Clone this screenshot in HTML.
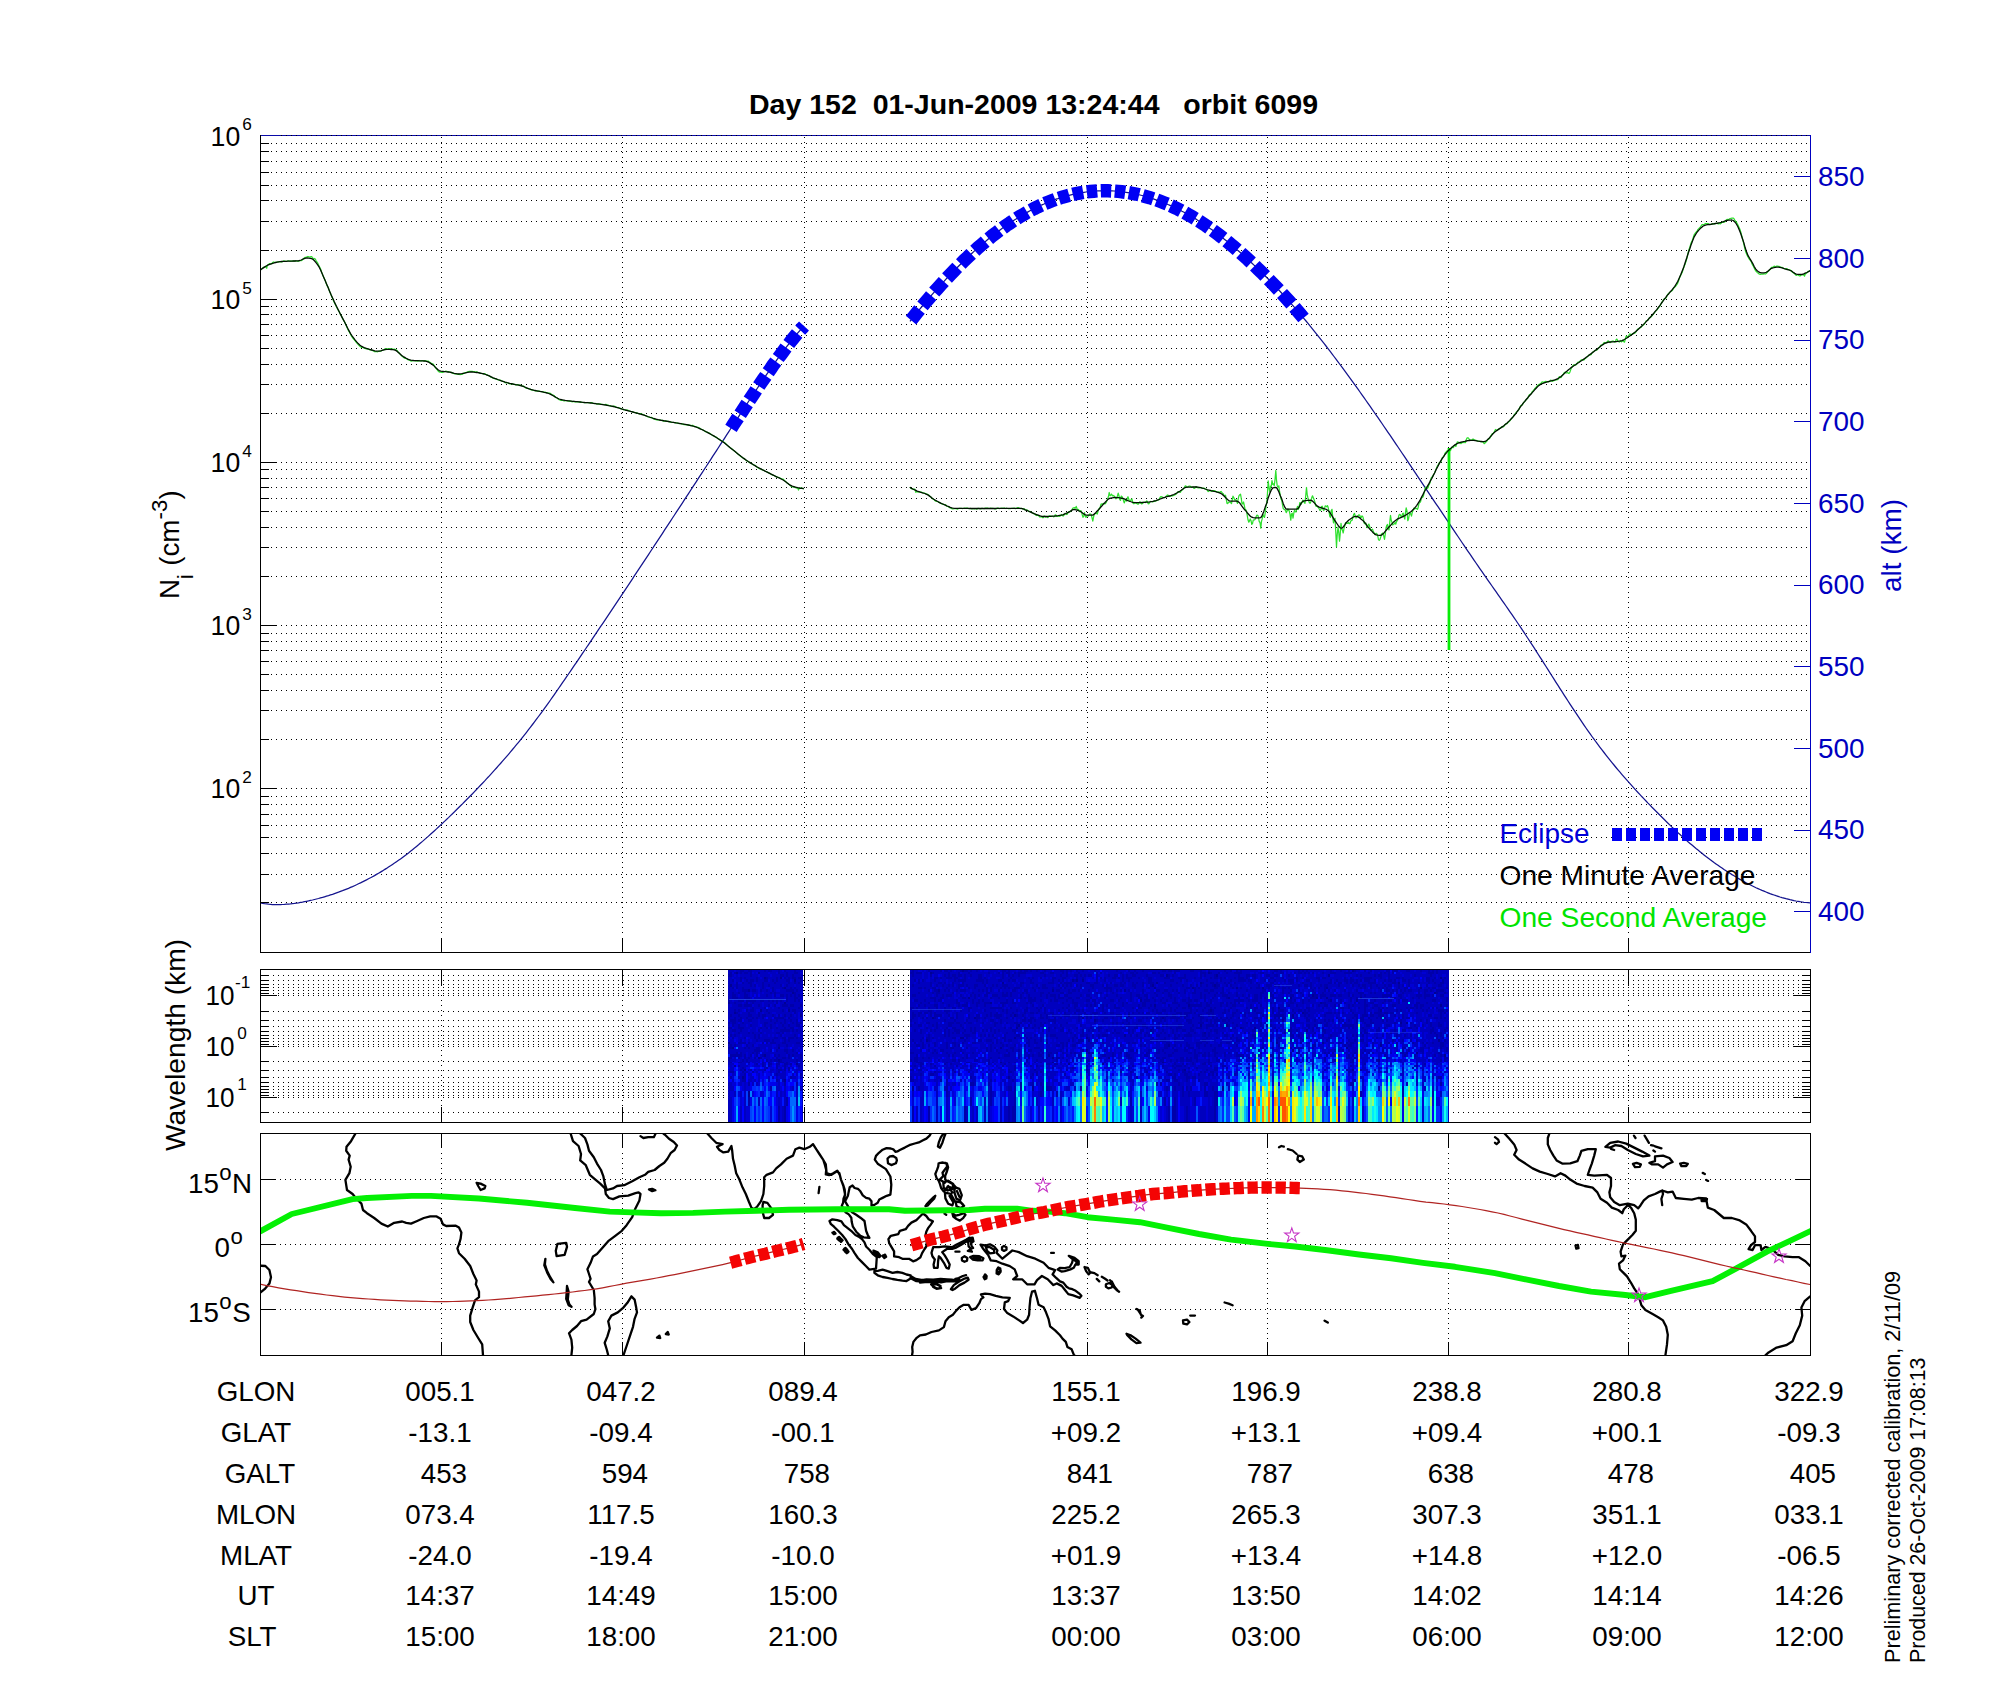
<!DOCTYPE html>
<html><head><meta charset="utf-8"><title>Day 152 orbit 6099</title>
<style>html,body{margin:0;padding:0;background:#fff}svg{display:block}</style></head>
<body>
<svg width="2000" height="1700" viewBox="0 0 2000 1700" font-family="Liberation Sans, sans-serif" font-size="27.78">
<rect width="2000" height="1700" fill="#fff"/>
<g id="grid1" stroke="#000" stroke-width="1" stroke-dasharray="1 4" fill="none" shape-rendering="crispEdges">
<path d="M271 902.5H1810"/>
<path d="M271 874.5H1810"/>
<path d="M271 853.5H1810"/>
<path d="M271 837.5H1810"/>
<path d="M271 825.5H1810"/>
<path d="M271 814.5H1810"/>
<path d="M271 804.5H1810"/>
<path d="M271 796.5H1810"/>
<path d="M281 788.5H1810"/>
<path d="M271 739.5H1810"/>
<path d="M271 710.5H1810"/>
<path d="M271 690.5H1810"/>
<path d="M271 674.5H1810"/>
<path d="M271 661.5H1810"/>
<path d="M271 650.5H1810"/>
<path d="M271 641.5H1810"/>
<path d="M271 633.5H1810"/>
<path d="M281 625.5H1810"/>
<path d="M271 576.5H1810"/>
<path d="M271 547.5H1810"/>
<path d="M271 527.5H1810"/>
<path d="M271 511.5H1810"/>
<path d="M271 498.5H1810"/>
<path d="M271 487.5H1810"/>
<path d="M271 478.5H1810"/>
<path d="M271 469.5H1810"/>
<path d="M281 462.5H1810"/>
<path d="M271 413.5H1810"/>
<path d="M271 384.5H1810"/>
<path d="M271 364.5H1810"/>
<path d="M271 348.5H1810"/>
<path d="M271 335.5H1810"/>
<path d="M271 324.5H1810"/>
<path d="M271 314.5H1810"/>
<path d="M271 306.5H1810"/>
<path d="M281 299.5H1810"/>
<path d="M271 250.5H1810"/>
<path d="M271 221.5H1810"/>
<path d="M271 200.5H1810"/>
<path d="M271 185.5H1810"/>
<path d="M271 172.5H1810"/>
<path d="M271 161.5H1810"/>
<path d="M271 151.5H1810"/>
<path d="M271 143.5H1810"/>
<path d="M441.5 137V937"/>
<path d="M622.5 137V937"/>
<path d="M804.5 137V937"/>
<path d="M1087.5 137V937"/>
<path d="M1267.5 137V937"/>
<path d="M1448.5 137V937"/>
<path d="M1628.5 137V937"/>
</g>
<path d="M260.5 903.0L262.5 903.4L264.5 903.7L266.5 903.9L268.5 904.2L270.5 904.3L272.5 904.5L274.5 904.5L276.5 904.6L278.5 904.6L280.5 904.6L282.5 904.5L284.5 904.4L286.5 904.2L288.5 904.1L290.5 903.9L292.5 903.6L294.5 903.4L296.5 903.1L298.5 902.8L300.5 902.4L302.5 902.1L304.5 901.7L306.5 901.3L308.5 900.9L310.5 900.4L312.5 900.0L314.5 899.5L316.5 899.0L318.5 898.5L320.5 897.9L322.5 897.4L324.5 896.8L326.5 896.2L328.5 895.6L330.5 894.9L332.5 894.3L334.5 893.6L336.5 892.9L338.5 892.2L340.5 891.4L342.5 890.7L344.5 889.9L346.5 889.1L348.5 888.3L350.5 887.4L352.5 886.6L354.5 885.7L356.5 884.8L358.5 883.8L360.5 882.9L362.5 881.9L364.5 880.9L366.5 879.9L368.5 878.8L370.5 877.8L372.5 876.7L374.5 875.6L376.5 874.4L378.5 873.3L380.5 872.1L382.5 870.9L384.5 869.6L386.5 868.4L388.5 867.1L390.5 865.8L392.5 864.4L394.5 863.1L396.5 861.7L398.5 860.3L400.5 858.9L402.5 857.4L404.5 855.9L406.5 854.4L408.5 852.9L410.5 851.3L412.5 849.7L414.5 848.1L416.5 846.4L418.5 844.8L420.5 843.1L422.5 841.4L424.5 839.6L426.5 837.9L428.5 836.1L430.5 834.3L432.5 832.5L434.5 830.7L436.5 828.9L438.5 827.0L440.5 825.1L442.5 823.3L444.5 821.4L446.5 819.5L448.5 817.6L450.5 815.6L452.5 813.7L454.5 811.8L456.5 809.8L458.5 807.8L460.5 805.8L462.5 803.9L464.5 801.8L466.5 799.8L468.5 797.8L470.5 795.7L472.5 793.7L474.5 791.6L476.5 789.5L478.5 787.4L480.5 785.3L482.5 783.2L484.5 781.1L486.5 778.9L488.5 776.8L490.5 774.6L492.5 772.4L494.5 770.2L496.5 768.0L498.5 765.7L500.5 763.5L502.5 761.2L504.5 758.9L506.5 756.6L508.5 754.3L510.5 751.9L512.5 749.5L514.5 747.1L516.5 744.7L518.5 742.3L520.5 739.8L522.5 737.3L524.5 734.8L526.5 732.3L528.5 729.7L530.5 727.1L532.5 724.5L534.5 721.9L536.5 719.2L538.5 716.5L540.5 713.8L542.5 711.1L544.5 708.4L546.5 705.6L548.5 702.8L550.5 700.0L552.5 697.1L554.5 694.3L556.5 691.4L558.5 688.5L560.5 685.6L562.5 682.7L564.5 679.8L566.5 676.9L568.5 674.0L570.5 671.1L572.5 668.1L574.5 665.2L576.5 662.3L578.5 659.3L580.5 656.4L582.5 653.4L584.5 650.5L586.5 647.5L588.5 644.6L590.5 641.6L592.5 638.6L594.5 635.7L596.5 632.7L598.5 629.7L600.5 626.7L602.5 623.8L604.5 620.8L606.5 617.8L608.5 614.8L610.5 611.8L612.5 608.8L614.5 605.8L616.5 602.8L618.5 599.8L620.5 596.8L622.5 593.8L624.5 590.8L626.5 587.8L628.5 584.8L630.5 581.8L632.5 578.8L634.5 575.7L636.5 572.7L638.5 569.7L640.5 566.7L642.5 563.6L644.5 560.6L646.5 557.6L648.5 554.6L650.5 551.5L652.5 548.5L654.5 545.4L656.5 542.4L658.5 539.4L660.5 536.3L662.5 533.3L664.5 530.2L666.5 527.2L668.5 524.1L670.5 521.1L672.5 518.0L674.5 515.0L676.5 511.9L678.5 508.9L680.5 505.8L682.5 502.8L684.5 499.7L686.5 496.6L688.5 493.6L690.5 490.5L692.5 487.4L694.5 484.4L696.5 481.3L698.5 478.2L700.5 475.2L702.5 472.1L704.5 469.0L706.5 466.0L708.5 462.9L710.5 459.8L712.5 456.7L714.5 453.7L716.5 450.6L718.5 447.5L720.5 444.4L722.5 441.4L724.5 438.3L726.5 435.2L728.5 432.1L730.5 429.0L732.5 426.0L734.5 422.9L736.5 419.8L738.5 416.8L740.5 413.7L742.5 410.7L744.5 407.6L746.5 404.6L748.5 401.5L750.5 398.5L752.5 395.5L754.5 392.5L756.5 389.5L758.5 386.5L760.5 383.5L762.5 380.6L764.5 377.6L766.5 374.7L768.5 371.8L770.5 368.9L772.5 366.1L774.5 363.2L776.5 360.4L778.5 357.7L780.5 354.9L782.5 352.2L784.5 349.5L786.5 346.9L788.5 344.3L790.5 341.7L792.5 339.3L794.5 336.8L796.5 334.4L798.5 332.1L800.5 329.8L802.5 327.6L804.0 326.0M910.0 321.4L912.0 318.9L914.0 316.3L916.0 313.9L918.0 311.4L920.0 308.9L922.0 306.5L924.0 304.1L926.0 301.7L928.0 299.4L930.0 297.0L932.0 294.7L934.0 292.4L936.0 290.1L938.0 287.9L940.0 285.7L942.0 283.5L944.0 281.3L946.0 279.1L948.0 277.0L950.0 274.9L952.0 272.8L954.0 270.7L956.0 268.7L958.0 266.7L960.0 264.7L962.0 262.7L964.0 260.7L966.0 258.8L968.0 256.9L970.0 255.1L972.0 253.2L974.0 251.4L976.0 249.6L978.0 247.8L980.0 246.1L982.0 244.3L984.0 242.6L986.0 241.0L988.0 239.3L990.0 237.7L992.0 236.1L994.0 234.5L996.0 233.0L998.0 231.5L1000.0 230.0L1002.0 228.5L1004.0 227.1L1006.0 225.6L1008.0 224.3L1010.0 222.9L1012.0 221.6L1014.0 220.2L1016.0 219.0L1018.0 217.7L1020.0 216.5L1022.0 215.3L1024.0 214.1L1026.0 213.0L1028.0 211.9L1030.0 210.8L1032.0 209.7L1034.0 208.7L1036.0 207.7L1038.0 206.7L1040.0 205.8L1042.0 204.8L1044.0 204.0L1046.0 203.1L1048.0 202.3L1050.0 201.5L1052.0 200.7L1054.0 200.0L1056.0 199.2L1058.0 198.6L1060.0 197.9L1062.0 197.3L1064.0 196.7L1066.0 196.1L1068.0 195.6L1070.0 195.1L1072.0 194.6L1074.0 194.1L1076.0 193.7L1078.0 193.3L1080.0 192.9L1082.0 192.6L1084.0 192.3L1086.0 192.0L1088.0 191.7L1090.0 191.5L1092.0 191.3L1094.0 191.2L1096.0 191.0L1098.0 190.9L1100.0 190.8L1102.0 190.8L1104.0 190.7L1106.0 190.7L1108.0 190.8L1110.0 190.8L1112.0 190.9L1114.0 191.0L1116.0 191.2L1118.0 191.3L1120.0 191.5L1122.0 191.8L1124.0 192.0L1126.0 192.3L1128.0 192.6L1130.0 192.9L1132.0 193.3L1134.0 193.7L1136.0 194.1L1138.0 194.5L1140.0 195.0L1142.0 195.5L1144.0 196.0L1146.0 196.6L1148.0 197.2L1150.0 197.8L1152.0 198.4L1154.0 199.1L1156.0 199.8L1158.0 200.5L1160.0 201.2L1162.0 202.0L1164.0 202.8L1166.0 203.6L1168.0 204.5L1170.0 205.3L1172.0 206.2L1174.0 207.2L1176.0 208.1L1178.0 209.1L1180.0 210.1L1182.0 211.2L1184.0 212.2L1186.0 213.3L1188.0 214.4L1190.0 215.6L1192.0 216.7L1194.0 217.9L1196.0 219.1L1198.0 220.4L1200.0 221.7L1202.0 223.0L1204.0 224.3L1206.0 225.6L1208.0 227.0L1210.0 228.4L1212.0 229.8L1214.0 231.3L1216.0 232.7L1218.0 234.3L1220.0 235.8L1222.0 237.3L1224.0 238.9L1226.0 240.5L1228.0 242.1L1230.0 243.8L1232.0 245.4L1234.0 247.1L1236.0 248.8L1238.0 250.6L1240.0 252.3L1242.0 254.1L1244.0 255.9L1246.0 257.7L1248.0 259.5L1250.0 261.4L1252.0 263.2L1254.0 265.1L1256.0 267.0L1258.0 268.9L1260.0 270.9L1262.0 272.8L1264.0 274.8L1266.0 276.8L1268.0 278.8L1270.0 280.8L1272.0 282.9L1274.0 285.0L1276.0 287.1L1278.0 289.2L1280.0 291.3L1282.0 293.5L1284.0 295.6L1286.0 297.8L1288.0 300.1L1290.0 302.3L1292.0 304.6L1294.0 306.9L1296.0 309.2L1298.0 311.5L1300.0 313.8L1302.0 316.2L1304.0 318.6L1306.0 321.0L1308.0 323.4L1310.0 325.8L1312.0 328.3L1314.0 330.8L1316.0 333.3L1318.0 335.8L1320.0 338.3L1322.0 340.9L1324.0 343.4L1326.0 346.0L1328.0 348.6L1330.0 351.2L1332.0 353.8L1334.0 356.5L1336.0 359.1L1338.0 361.8L1340.0 364.5L1342.0 367.2L1344.0 369.9L1346.0 372.6L1348.0 375.4L1350.0 378.1L1352.0 380.9L1354.0 383.6L1356.0 386.4L1358.0 389.2L1360.0 392.0L1362.0 394.9L1364.0 397.7L1366.0 400.5L1368.0 403.4L1370.0 406.2L1372.0 409.1L1374.0 412.0L1376.0 414.8L1378.0 417.7L1380.0 420.6L1382.0 423.5L1384.0 426.5L1386.0 429.4L1388.0 432.3L1390.0 435.2L1392.0 438.2L1394.0 441.1L1396.0 444.1L1398.0 447.0L1400.0 450.0L1402.0 453.0L1404.0 455.9L1406.0 458.9L1408.0 461.9L1410.0 464.9L1412.0 467.8L1414.0 470.8L1416.0 473.8L1418.0 476.8L1420.0 479.8L1422.0 482.8L1424.0 485.8L1426.0 488.8L1428.0 491.8L1430.0 494.8L1432.0 497.8L1434.0 500.8L1436.0 503.8L1438.0 506.7L1440.0 509.7L1442.0 512.7L1444.0 515.7L1446.0 518.7L1448.0 521.7L1450.0 524.7L1452.0 527.6L1454.0 530.6L1456.0 533.6L1458.0 536.5L1460.0 539.5L1462.0 542.5L1464.0 545.4L1466.0 548.4L1468.0 551.3L1470.0 554.2L1472.0 557.2L1474.0 560.1L1476.0 563.0L1478.0 565.9L1480.0 568.8L1482.0 571.7L1484.0 574.6L1486.0 577.4L1488.0 580.3L1490.0 583.2L1492.0 586.0L1494.0 588.9L1496.0 591.7L1498.0 594.6L1500.0 597.4L1502.0 600.3L1504.0 603.2L1506.0 606.0L1508.0 608.9L1510.0 611.8L1512.0 614.7L1514.0 617.6L1516.0 620.5L1518.0 623.5L1520.0 626.4L1522.0 629.4L1524.0 632.4L1526.0 635.5L1528.0 638.5L1530.0 641.6L1532.0 644.6L1534.0 647.7L1536.0 650.8L1538.0 654.0L1540.0 657.1L1542.0 660.2L1544.0 663.4L1546.0 666.5L1548.0 669.7L1550.0 672.8L1552.0 676.0L1554.0 679.1L1556.0 682.3L1558.0 685.4L1560.0 688.6L1562.0 691.7L1564.0 694.8L1566.0 697.9L1568.0 701.0L1570.0 704.1L1572.0 707.1L1574.0 710.2L1576.0 713.2L1578.0 716.2L1580.0 719.2L1582.0 722.1L1584.0 725.1L1586.0 728.0L1588.0 730.8L1590.0 733.7L1592.0 736.5L1594.0 739.2L1596.0 742.0L1598.0 744.6L1600.0 747.3L1602.0 749.9L1604.0 752.5L1606.0 755.1L1608.0 757.6L1610.0 760.1L1612.0 762.6L1614.0 765.0L1616.0 767.5L1618.0 769.9L1620.0 772.2L1622.0 774.6L1624.0 776.9L1626.0 779.2L1628.0 781.4L1630.0 783.7L1632.0 785.9L1634.0 788.1L1636.0 790.3L1638.0 792.5L1640.0 794.6L1642.0 796.8L1644.0 798.9L1646.0 801.0L1648.0 803.1L1650.0 805.1L1652.0 807.2L1654.0 809.2L1656.0 811.3L1658.0 813.3L1660.0 815.3L1662.0 817.3L1664.0 819.3L1666.0 821.3L1668.0 823.2L1670.0 825.1L1672.0 827.1L1674.0 829.0L1676.0 830.8L1678.0 832.7L1680.0 834.5L1682.0 836.4L1684.0 838.1L1686.0 839.9L1688.0 841.7L1690.0 843.4L1692.0 845.1L1694.0 846.8L1696.0 848.5L1698.0 850.1L1700.0 851.7L1702.0 853.3L1704.0 854.9L1706.0 856.5L1708.0 858.0L1710.0 859.5L1712.0 861.0L1714.0 862.5L1716.0 863.9L1718.0 865.3L1720.0 866.7L1722.0 868.1L1724.0 869.5L1726.0 870.8L1728.0 872.1L1730.0 873.3L1732.0 874.6L1734.0 875.8L1736.0 877.0L1738.0 878.2L1740.0 879.4L1742.0 880.5L1744.0 881.6L1746.0 882.7L1748.0 883.7L1750.0 884.7L1752.0 885.7L1754.0 886.7L1756.0 887.7L1758.0 888.6L1760.0 889.5L1762.0 890.4L1764.0 891.2L1766.0 892.0L1768.0 892.8L1770.0 893.6L1772.0 894.3L1774.0 895.0L1776.0 895.7L1778.0 896.3L1780.0 897.0L1782.0 897.6L1784.0 898.1L1786.0 898.7L1788.0 899.2L1790.0 899.7L1792.0 900.1L1794.0 900.6L1796.0 901.0L1798.0 901.3L1800.0 901.7L1802.0 902.0L1804.0 902.3L1806.0 902.5L1808.0 902.7L1810.0 902.9L1810.1 902.9" fill="none" stroke="#14148e" stroke-width="1.25"/>
<path d="M260.7 269.8L261.4 269.3L262.2 268.6L262.9 267.8L263.7 267.2L264.4 267.0L265.2 266.9L265.9 266.5L266.7 268.3L267.4 265.1L268.2 264.7L268.9 264.1L269.7 263.6L270.4 263.8L271.2 263.9L271.9 263.3L272.7 262.5L273.4 262.0L274.2 262.2L274.9 262.3L275.7 262.4L276.4 262.3L277.2 262.0L277.9 261.8L278.7 261.8L279.4 261.7L280.2 261.6L280.9 261.9L281.7 261.9L282.4 261.6L283.2 261.2L283.9 260.9L284.7 261.0L285.4 261.2L286.2 261.4L286.9 261.3L287.7 261.0L288.4 260.8L289.2 261.0L289.9 261.3L290.7 261.1L291.4 261.1L292.2 261.1L292.9 260.8L293.7 261.1L294.4 261.2L295.2 260.7L295.9 260.8L296.7 261.0L297.4 261.1L298.2 261.3L298.9 261.0L299.7 260.6L300.4 260.7L301.2 260.6L301.9 260.2L302.7 259.7L303.4 258.9L304.2 258.0L304.9 257.4L305.7 257.3L306.4 257.1L307.2 256.7L307.9 256.5L308.7 256.6L309.4 257.0L310.2 257.1L310.9 256.5L311.7 256.5L312.4 257.6L313.2 258.5L313.9 258.7L314.7 258.5L315.4 259.3L316.2 260.8L316.9 261.9L317.7 263.0L318.4 264.7L319.2 266.3L319.9 267.6L320.7 269.3L321.4 271.5L322.2 273.6L322.9 275.5L323.7 277.2L324.4 278.7L325.2 280.3L325.9 282.6L326.7 284.7L327.4 286.1L328.2 287.3L328.9 289.5L329.7 291.7L330.4 293.3L331.2 295.2L331.9 297.1L332.7 298.8L333.4 300.6L334.2 302.2L334.9 303.6L335.7 305.1L336.4 306.7L337.2 308.2L337.9 309.6L338.7 310.8L339.4 312.3L340.2 313.9L340.9 315.2L341.7 316.5L342.4 318.2L343.2 319.7L343.9 320.8L344.7 322.1L345.4 323.8L346.2 325.5L346.9 327.2L347.7 328.9L348.4 330.4L349.2 331.8L349.9 333.1L350.7 334.4L351.4 335.9L352.2 337.2L352.9 338.2L353.7 339.0L354.4 339.9L355.2 340.9L355.9 341.9L356.7 342.8L357.4 343.7L358.2 344.6L358.9 345.3L359.7 346.1L360.4 346.8L361.2 347.3L361.9 347.4L362.7 347.5L363.4 347.7L364.2 348.1L364.9 348.5L365.7 348.6L366.4 349.0L367.2 349.1L367.9 348.8L368.7 349.0L369.4 349.6L370.2 349.9L370.9 350.0L371.7 350.2L372.4 350.5L373.2 350.8L373.9 351.1L374.7 351.6L375.4 351.7L376.2 351.5L376.9 351.7L377.7 351.8L378.4 351.5L379.2 351.1L379.9 351.2L380.7 351.2L381.4 350.7L382.2 350.4L382.9 350.2L383.7 350.0L384.4 349.5L385.2 348.8L385.9 348.6L386.7 348.7L387.4 349.0L388.2 348.9L388.9 348.6L389.7 348.8L390.4 348.9L391.2 348.9L391.9 348.9L392.7 349.1L393.4 349.3L394.2 349.2L394.9 349.3L395.7 349.6L396.4 350.0L397.2 350.7L397.9 351.7L398.7 352.5L399.4 353.4L400.2 354.4L400.9 355.1L401.7 355.8L402.4 356.5L403.2 357.1L403.9 357.7L404.7 358.1L405.4 358.4L406.2 358.5L406.9 358.9L407.7 359.6L408.4 359.8L409.2 359.9L409.9 360.3L410.7 360.9L411.4 361.1L412.2 361.0L412.9 360.7L413.7 360.6L414.4 360.6L415.2 360.9L415.9 361.0L416.7 360.8L417.4 361.0L418.2 361.0L418.9 360.6L419.7 360.5L420.4 360.8L421.2 360.8L421.9 360.6L422.7 360.7L423.4 360.9L424.2 360.8L424.9 360.6L425.7 360.9L426.4 361.2L427.2 361.2L427.9 361.1L428.7 361.4L429.4 362.0L430.2 362.5L430.9 363.0L431.7 363.7L432.4 363.9L433.2 364.2L433.9 365.1L434.7 366.2L435.4 367.6L436.2 368.6L436.9 369.4L437.7 370.4L438.4 371.3L439.2 371.9L439.9 372.2L440.7 372.2L441.4 372.3L442.2 372.5L442.9 372.3L443.7 371.9L444.4 371.7L445.2 371.3L445.9 371.1L446.7 371.3L447.4 371.6L448.2 371.7L448.9 371.8L449.7 372.0L450.4 372.2L451.2 372.4L451.9 372.8L452.7 373.3L453.4 373.4L454.2 373.7L454.9 373.9L455.7 373.9L456.4 373.9L457.2 374.2L457.9 374.4L458.7 374.2L459.4 374.3L460.2 374.6L460.9 374.5L461.7 374.3L462.4 374.1L463.2 373.6L463.9 373.1L464.7 372.7L465.4 372.7L466.2 372.6L466.9 372.2L467.7 371.8L468.4 371.5L469.2 371.4L469.9 371.4L470.7 371.4L471.4 371.4L472.2 371.3L472.9 371.5L473.7 371.6L474.4 371.6L475.2 372.0L475.9 372.0L476.7 371.8L477.4 372.1L478.2 372.5L478.9 372.8L479.7 373.0L480.4 373.3L481.2 373.4L481.9 373.5L482.7 373.7L483.4 373.8L484.2 373.7L484.9 373.7L485.7 374.3L486.4 374.8L487.2 374.9L487.9 375.3L488.7 375.7L489.4 375.9L490.2 376.5L490.9 377.2L491.7 377.3L492.4 377.8L493.2 378.3L493.9 378.4L494.7 378.7L495.4 378.9L496.2 378.9L496.9 379.2L497.7 379.7L498.4 380.0L499.2 380.1L499.9 380.2L500.7 380.4L501.4 380.8L502.2 381.3L502.9 381.4L503.7 381.5L504.4 382.0L505.2 382.7L505.9 382.9L506.7 382.7L507.4 382.6L508.2 383.0L508.9 383.6L509.7 383.9L510.4 383.9L511.2 383.9L511.9 383.9L512.7 383.9L513.5 384.3L514.2 384.4L515.0 384.4L515.7 384.9L516.5 384.9L517.2 384.6L518.0 384.6L518.7 384.9L519.5 385.1L520.2 385.1L521.0 385.4L521.7 386.0L522.5 386.2L523.2 386.0L524.0 386.4L524.7 387.2L525.5 387.8L526.2 388.2L527.0 388.3L527.7 388.4L528.5 388.6L529.2 388.7L530.0 389.1L530.7 389.6L531.5 389.9L532.2 389.9L533.0 390.2L533.7 390.5L534.5 390.7L535.2 390.8L536.0 390.8L536.7 390.9L537.5 391.1L538.2 391.1L539.0 391.0L539.7 391.2L540.5 391.4L541.2 391.6L542.0 391.7L542.7 391.9L543.5 392.0L544.2 392.0L545.0 392.0L545.7 392.4L546.5 392.8L547.2 392.8L548.0 392.9L548.7 393.1L549.5 393.1L550.2 393.3L551.0 393.9L551.7 394.5L552.5 395.0L553.2 395.2L554.0 395.5L554.7 396.4L555.5 397.4L556.2 397.7L557.0 397.9L557.7 398.5L558.5 399.2L559.2 399.6L560.0 399.9L560.7 400.3L561.5 400.4L562.2 400.3L563.0 400.5L563.7 400.8L564.5 400.9L565.2 400.7L566.0 400.5L566.7 400.6L567.5 400.8L568.2 400.9L569.0 401.1L569.7 401.3L570.5 401.3L571.2 401.4L572.0 401.8L572.7 401.7L573.5 401.4L574.2 401.6L575.0 401.9L575.7 401.8L576.5 401.8L577.2 402.0L578.0 401.8L578.7 401.7L579.5 401.9L580.2 402.2L581.0 402.4L581.7 402.4L582.5 402.4L583.2 402.5L584.0 402.6L584.7 402.6L585.5 402.5L586.2 402.6L587.0 402.7L587.7 402.5L588.5 402.6L589.2 402.7L590.0 402.6L590.7 402.6L591.5 402.6L592.2 402.9L593.0 403.4L593.7 403.5L594.5 403.5L595.2 403.4L596.0 403.5L596.7 404.0L597.5 404.2L598.2 404.1L599.0 403.9L599.7 403.8L600.5 403.9L601.2 404.4L602.0 404.5L602.7 404.3L603.5 404.5L604.2 404.7L605.0 404.5L605.7 404.4L606.5 404.7L607.2 404.9L608.0 405.1L608.7 405.4L609.5 405.7L610.2 405.9L611.0 406.2L611.7 406.5L612.5 406.4L613.2 406.2L614.0 406.2L614.7 406.4L615.5 406.7L616.2 407.1L617.0 407.5L617.7 407.6L618.5 407.5L619.2 407.8L620.0 408.2L620.7 408.6L621.5 408.8L622.2 409.0L623.0 409.3L623.7 409.7L624.5 409.9L625.2 410.0L626.0 410.1L626.7 410.1L627.5 410.0L628.2 410.4L629.0 410.8L629.7 411.0L630.5 411.3L631.2 411.5L632.0 411.5L632.7 411.8L633.5 412.1L634.2 412.5L635.0 412.7L635.7 412.7L636.5 412.8L637.2 413.0L638.0 413.4L638.7 413.7L639.5 413.8L640.2 413.7L641.0 413.8L641.7 414.1L642.5 414.3L643.2 414.6L644.0 414.9L644.7 415.3L645.5 415.7L646.2 416.0L647.0 416.4L647.7 416.8L648.5 417.0L649.2 417.2L650.0 417.5L650.7 417.6L651.5 417.4L652.2 417.8L653.0 418.4L653.7 418.9L654.5 419.3L655.2 419.4L656.0 419.6L656.7 419.8L657.5 419.9L658.2 419.9L659.0 420.0L659.7 420.1L660.5 420.2L661.2 420.4L662.0 420.4L662.7 420.7L663.5 421.1L664.2 421.0L665.0 421.0L665.7 421.3L666.5 421.2L667.2 421.2L668.0 421.4L668.7 421.7L669.5 421.8L670.2 421.9L671.0 422.3L671.7 422.5L672.5 422.4L673.2 422.3L674.0 422.5L674.7 422.8L675.5 422.8L676.2 422.9L677.0 422.9L677.7 423.0L678.5 423.4L679.2 423.6L680.0 423.5L680.7 423.5L681.5 423.8L682.2 423.9L683.0 424.1L683.7 424.5L684.5 424.5L685.2 424.5L686.0 424.8L686.7 424.9L687.5 424.8L688.2 424.8L689.0 424.8L689.7 425.0L690.5 425.6L691.2 425.8L692.0 425.4L692.7 425.3L693.5 425.7L694.2 426.3L695.0 426.5L695.7 426.6L696.5 426.9L697.2 427.1L698.0 427.4L698.7 427.7L699.5 428.0L700.2 428.5L701.0 429.1L701.7 429.5L702.5 429.7L703.2 430.0L704.0 430.5L704.7 431.0L705.5 431.7L706.2 432.0L707.0 432.1L707.7 432.4L708.5 432.7L709.2 433.0L710.0 433.6L710.7 434.1L711.5 434.7L712.2 435.2L713.0 435.7L713.7 435.8L714.5 436.4L715.2 437.0L716.0 437.0L716.7 437.4L717.5 438.1L718.2 438.7L719.0 439.1L719.7 439.6L720.5 440.1L721.2 440.7L722.0 441.0L722.7 441.2L723.5 441.8L724.2 442.5L725.0 443.0L725.7 443.7L726.5 444.5L727.2 445.1L728.0 445.9L728.7 446.6L729.5 447.2L730.2 447.8L731.0 448.2L731.7 448.6L732.5 449.4L733.2 450.1L734.0 450.6L734.7 451.2L735.5 451.9L736.2 452.4L737.0 453.3L737.7 454.0L738.5 454.4L739.2 454.9L740.0 455.7L740.7 456.5L741.5 457.0L742.2 457.5L743.0 457.9L743.7 458.4L744.5 458.9L745.2 459.4L746.0 460.3L746.7 460.8L747.5 460.9L748.2 461.6L749.0 462.2L749.7 462.7L750.5 463.0L751.2 463.2L752.0 463.9L752.7 464.6L753.5 464.8L754.2 465.0L755.0 465.3L755.7 465.9L756.5 466.7L757.2 467.4L758.0 467.7L758.7 468.2L759.5 468.7L760.2 468.8L761.0 469.0L761.7 469.6L762.5 469.9L763.2 470.0L764.0 470.4L764.7 471.0L765.5 471.3L766.2 471.5L767.0 471.9L767.7 472.4L768.5 472.8L769.2 473.2L770.0 473.4L770.7 473.9L771.5 474.5L772.2 474.9L773.0 475.1L773.7 475.4L774.5 475.7L775.2 476.1L776.0 476.7L776.7 477.1L777.5 477.2L778.2 477.4L779.0 477.7L779.7 477.8L780.5 478.2L781.2 478.7L782.0 479.0L782.7 479.1L783.5 479.4L784.2 480.2L785.0 480.9L785.7 481.6L786.5 482.4L787.2 483.0L788.0 483.6L788.7 484.3L789.5 484.8L790.2 485.4L791.0 486.2L791.7 486.7L792.5 486.9L793.2 487.0L794.0 487.1L794.7 487.4L795.5 487.7L796.2 487.9L797.0 488.1L797.7 488.1L798.5 490.0L799.2 488.2L800.0 488.3L800.7 488.0L801.5 487.9L802.2 488.4L803.0 488.7L803.7 488.9L803.8 489.0M909.8 487.3L910.5 487.9L911.2 488.4L912.0 488.9L912.8 489.2L913.5 489.2L914.2 489.1L915.0 489.4L915.8 492.4L916.5 491.1L917.2 491.7L918.0 492.1L918.8 492.0L919.5 491.9L920.2 491.9L921.0 492.0L921.8 492.3L922.5 492.7L923.2 492.9L924.0 493.0L924.8 493.2L925.5 493.6L926.2 493.9L927.0 494.1L927.8 494.5L928.5 494.8L929.2 495.4L930.0 496.4L930.8 497.0L931.5 497.6L932.2 498.5L933.0 499.0L933.8 499.4L934.5 500.2L935.2 500.8L936.0 501.1L936.8 501.4L937.5 501.5L938.2 501.8L939.0 502.5L939.8 502.9L940.5 503.1L941.2 503.5L942.0 503.9L942.8 504.3L943.5 504.4L944.2 504.5L945.0 504.5L945.8 505.1L946.5 506.0L947.2 506.4L948.0 506.5L948.8 507.0L949.5 507.6L950.2 507.8L951.0 508.3L951.8 508.7L952.5 508.8L953.2 508.8L954.0 508.7L954.8 508.6L955.5 508.7L956.2 508.7L957.0 509.0L957.8 509.0L958.5 508.5L959.2 508.3L960.0 508.3L960.8 508.3L961.5 508.4L962.2 508.5L963.0 508.5L963.8 508.3L964.5 508.2L965.2 508.3L966.0 508.1L966.8 508.1L967.5 508.2L968.2 508.4L969.0 508.6L969.8 508.5L970.5 508.4L971.2 508.7L972.0 508.9L972.8 508.7L973.5 508.7L974.2 508.8L975.0 508.5L975.8 508.5L976.5 509.1L977.2 509.0L978.0 508.3L978.8 508.3L979.5 508.7L980.2 508.8L981.0 508.7L981.8 508.4L982.5 508.3L983.2 508.5L984.0 508.6L984.8 508.3L985.5 508.2L986.2 508.2L987.0 508.1L987.8 508.2L988.5 508.4L989.2 508.5L990.0 508.3L990.8 508.2L991.5 508.3L992.2 508.4L993.0 508.3L993.8 508.5L994.5 508.8L995.2 509.0L996.0 508.9L996.8 508.4L997.5 508.0L998.2 508.1L999.0 508.5L999.8 508.5L1000.5 508.4L1001.2 508.4L1002.0 508.2L1002.8 508.3L1003.5 508.2L1004.2 508.0L1005.0 508.4L1005.8 508.5L1006.5 508.2L1007.2 508.4L1008.0 508.5L1008.8 508.5L1009.5 508.6L1010.2 508.6L1011.0 508.5L1011.8 508.4L1012.5 508.4L1013.2 508.3L1014.0 508.2L1014.8 508.4L1015.5 508.7L1016.2 508.5L1017.0 508.0L1017.8 507.7L1018.5 507.7L1019.2 508.1L1020.0 508.5L1020.8 508.5L1021.5 508.3L1022.2 508.6L1023.0 509.0L1023.8 508.8L1024.5 508.9L1025.2 509.8L1026.0 510.1L1026.8 510.0L1027.5 510.1L1028.2 510.8L1029.0 511.6L1029.8 511.6L1030.5 511.5L1031.2 512.3L1032.0 512.7L1032.8 512.9L1033.5 513.6L1034.2 513.8L1035.0 514.1L1035.8 515.2L1036.5 515.5L1037.2 515.1L1038.0 515.2L1038.8 515.9L1039.5 516.9L1040.2 517.0L1041.0 516.9L1041.8 516.9L1042.5 517.7L1043.2 517.7L1044.0 516.1L1044.8 516.1L1045.5 517.0L1046.2 516.7L1047.0 516.9L1047.8 517.6L1048.5 516.7L1049.2 515.8L1050.0 515.9L1050.8 516.0L1051.5 516.3L1052.2 516.3L1053.0 516.5L1053.8 516.9L1054.5 516.2L1055.2 514.9L1056.0 515.0L1056.8 516.4L1057.5 516.4L1058.2 515.9L1059.0 516.2L1059.8 516.4L1060.5 515.6L1061.2 514.5L1062.0 514.9L1062.8 515.8L1063.5 515.8L1064.2 514.7L1065.0 513.3L1065.8 513.5L1066.5 514.5L1067.2 514.3L1068.0 512.7L1068.8 511.6L1069.5 512.0L1070.2 511.7L1071.0 510.8L1071.8 510.1L1072.5 508.7L1073.2 507.9L1074.0 507.9L1074.8 507.7L1075.5 508.1L1076.2 506.4L1077.0 508.5L1077.8 510.4L1078.5 509.5L1079.2 511.0L1080.0 511.7L1080.8 510.6L1081.5 511.6L1082.2 514.5L1083.0 517.3L1083.8 515.7L1084.5 512.7L1085.2 516.1L1086.0 517.4L1086.8 516.2L1087.5 515.9L1088.2 516.0L1089.0 515.0L1089.8 513.9L1090.5 514.0L1091.2 514.5L1092.0 517.9L1092.8 521.1L1093.5 517.4L1094.2 514.5L1095.0 513.9L1095.8 512.9L1096.5 513.4L1097.2 514.0L1098.0 511.5L1098.8 508.9L1099.5 508.5L1100.2 506.9L1101.0 504.1L1101.8 503.9L1102.5 504.4L1103.2 503.5L1104.0 503.4L1104.8 503.9L1105.5 503.5L1106.2 502.5L1107.0 500.6L1107.8 498.5L1108.5 496.3L1109.2 492.5L1110.0 495.6L1110.8 495.3L1111.5 494.1L1112.2 495.2L1113.0 496.0L1113.8 495.5L1114.5 496.7L1115.2 497.7L1116.0 498.8L1116.8 498.2L1117.5 495.6L1118.2 493.2L1119.0 495.8L1119.8 499.5L1120.5 500.3L1121.2 496.1L1122.0 496.6L1122.8 498.6L1123.5 500.5L1124.2 502.9L1125.0 501.1L1125.8 499.4L1126.5 501.1L1127.2 498.5L1128.0 496.7L1128.8 499.2L1129.5 501.4L1130.2 501.4L1131.0 499.9L1131.8 498.8L1132.5 501.1L1133.2 503.7L1134.0 503.7L1134.8 502.4L1135.5 502.7L1136.2 503.5L1137.0 503.6L1137.8 504.2L1138.5 504.1L1139.2 502.4L1140.0 501.7L1140.8 503.0L1141.5 503.9L1142.2 503.7L1143.0 503.1L1143.8 502.2L1144.5 502.2L1145.2 502.5L1146.0 501.7L1146.8 500.9L1147.5 502.0L1148.2 503.8L1149.0 503.7L1149.8 502.0L1150.5 501.4L1151.2 501.5L1152.0 501.6L1152.8 502.0L1153.5 501.4L1154.2 500.9L1155.0 501.3L1155.8 501.0L1156.5 500.6L1157.2 500.3L1158.0 500.0L1158.8 499.6L1159.5 498.6L1160.2 497.2L1161.0 496.6L1161.8 496.8L1162.5 497.2L1163.2 497.4L1164.0 497.5L1164.8 497.5L1165.5 496.9L1166.2 496.1L1167.0 495.4L1167.8 495.0L1168.5 495.7L1169.2 496.5L1170.0 496.4L1170.8 495.8L1171.5 495.7L1172.2 495.9L1173.0 495.6L1173.8 495.4L1174.5 495.0L1175.2 494.7L1176.0 494.3L1176.8 493.2L1177.5 492.3L1178.2 491.6L1179.0 491.6L1179.8 492.4L1180.5 492.1L1181.2 490.7L1182.0 490.0L1182.8 489.6L1183.5 488.9L1184.2 487.7L1185.0 486.2L1185.8 485.9L1186.5 486.9L1187.2 487.4L1188.0 486.8L1188.8 486.2L1189.5 486.2L1190.2 486.2L1191.0 486.7L1191.8 487.4L1192.5 487.0L1193.2 487.3L1194.0 488.4L1194.8 488.1L1195.5 487.1L1196.2 486.6L1197.0 487.2L1197.8 487.9L1198.5 487.9L1199.2 487.8L1200.0 487.6L1200.8 487.5L1201.5 487.7L1202.2 488.3L1203.0 488.5L1203.8 488.0L1204.5 488.4L1205.2 489.0L1206.0 489.0L1206.8 489.5L1207.5 490.7L1208.2 491.5L1209.0 491.2L1209.8 490.3L1210.5 490.3L1211.2 491.4L1212.0 491.4L1212.8 490.7L1213.5 490.5L1214.2 490.6L1215.0 490.8L1215.8 491.4L1216.5 491.9L1217.2 492.0L1218.0 491.8L1218.8 492.0L1219.5 492.5L1220.2 491.9L1221.0 491.5L1221.8 492.4L1222.5 493.1L1223.2 493.8L1224.0 495.3L1224.8 495.5L1225.5 495.2L1226.2 498.8L1227.0 503.5L1227.8 503.6L1228.5 502.0L1229.2 502.0L1230.0 502.1L1230.8 502.9L1231.5 503.6L1232.2 499.9L1233.0 496.2L1233.8 497.6L1234.5 499.5L1235.2 500.2L1236.0 499.6L1236.8 501.8L1237.5 503.4L1238.2 498.9L1239.0 495.6L1239.8 494.8L1240.5 494.2L1241.2 498.0L1242.0 503.7L1242.8 504.0L1243.5 502.0L1244.2 504.8L1245.0 509.2L1245.8 509.8L1246.5 511.0L1247.2 515.1L1248.0 519.8L1248.8 522.2L1249.5 520.9L1250.2 518.9L1251.0 520.6L1251.8 524.3L1252.5 523.6L1253.2 520.3L1254.0 519.8L1254.8 519.8L1255.5 518.6L1256.2 516.4L1257.0 515.2L1257.8 515.3L1258.5 517.4L1259.2 521.5L1260.0 522.5L1260.8 528.1L1261.5 521.4L1262.2 518.9L1263.0 514.5L1263.8 516.4L1264.5 517.4L1265.2 512.8L1266.0 506.2L1266.8 503.1L1267.5 492.7L1268.2 480.9L1269.0 487.9L1269.8 492.2L1270.5 486.2L1271.2 486.6L1272.0 480.7L1272.8 484.3L1273.5 483.9L1274.2 485.8L1275.0 479.8L1275.8 470.5L1276.5 480.0L1277.2 485.7L1278.0 487.3L1278.8 485.8L1279.5 491.0L1280.2 495.1L1281.0 498.9L1281.8 500.6L1282.5 504.6L1283.2 508.5L1284.0 509.2L1284.8 509.7L1285.5 510.3L1286.2 512.6L1287.0 511.2L1287.8 508.9L1288.5 510.0L1289.2 510.9L1290.0 514.1L1290.8 520.2L1291.5 514.1L1292.2 513.2L1293.0 518.2L1293.8 513.2L1294.5 510.2L1295.2 511.6L1296.0 512.0L1296.8 508.6L1297.5 506.4L1298.2 509.4L1299.0 507.7L1299.8 502.6L1300.5 503.0L1301.2 504.2L1302.0 502.2L1302.8 500.2L1303.5 501.1L1304.2 502.5L1305.0 503.3L1305.8 494.8L1306.5 487.5L1307.2 494.6L1308.0 498.0L1308.8 501.0L1309.5 503.0L1310.2 503.2L1311.0 501.2L1311.8 497.4L1312.5 495.8L1313.2 497.5L1314.0 499.4L1314.8 501.6L1315.5 505.0L1316.2 506.4L1317.0 506.4L1317.8 507.1L1318.5 507.7L1319.2 508.8L1320.0 510.5L1320.8 510.0L1321.5 506.5L1322.2 506.2L1323.0 509.5L1323.8 510.6L1324.5 508.7L1325.2 505.9L1326.0 506.2L1326.8 506.8L1327.5 505.6L1328.2 507.5L1329.0 511.6L1329.8 516.3L1330.5 517.3L1331.2 510.8L1332.0 509.4L1332.8 517.7L1333.5 522.9L1334.2 519.9L1335.0 518.4L1335.8 532.7L1336.5 546.9L1337.2 534.8L1338.0 527.1L1338.8 532.6L1339.5 541.2L1340.2 534.2L1341.0 523.4L1341.8 529.1L1342.5 530.4L1343.2 533.0L1344.0 528.7L1344.8 525.6L1345.5 522.9L1346.2 522.6L1347.0 523.5L1347.8 523.4L1348.5 522.3L1349.2 523.7L1350.0 523.6L1350.8 521.0L1351.5 520.5L1352.2 520.1L1353.0 517.2L1353.8 514.2L1354.5 513.5L1355.2 515.9L1356.0 518.0L1356.8 517.2L1357.5 516.0L1358.2 515.6L1359.0 514.8L1359.8 515.2L1360.5 517.7L1361.2 517.4L1362.0 515.9L1362.8 516.6L1363.5 519.1L1364.2 523.2L1365.0 523.9L1365.8 522.9L1366.5 525.9L1367.2 527.7L1368.0 525.3L1368.8 524.1L1369.5 525.8L1370.2 528.5L1371.0 530.6L1371.8 529.7L1372.5 529.1L1373.2 531.0L1374.0 532.9L1374.8 534.5L1375.5 534.0L1376.2 533.3L1377.0 533.9L1377.8 536.2L1378.5 539.6L1379.2 540.3L1380.0 539.3L1380.8 536.9L1381.5 533.9L1382.2 533.4L1383.0 533.1L1383.8 536.4L1384.5 539.3L1385.2 534.6L1386.0 528.0L1386.8 525.3L1387.5 524.5L1388.2 528.1L1389.0 529.9L1389.8 521.7L1390.5 515.4L1391.2 520.1L1392.0 522.3L1392.8 525.0L1393.5 524.0L1394.2 524.0L1395.0 522.6L1395.8 524.2L1396.5 521.5L1397.2 520.8L1398.0 519.2L1398.8 515.6L1399.5 514.4L1400.2 514.6L1401.0 516.4L1401.8 517.1L1402.5 513.7L1403.2 513.1L1404.0 517.1L1404.8 519.1L1405.5 512.1L1406.2 507.8L1407.0 511.2L1407.8 520.7L1408.5 519.1L1409.2 515.0L1410.0 513.0L1410.8 514.0L1411.5 516.1L1412.2 512.7L1413.0 510.5L1413.8 508.2L1414.5 508.8L1415.2 508.6L1416.0 508.2L1416.8 508.8L1417.5 509.4L1418.2 507.2L1419.0 503.4L1419.8 502.6L1420.5 501.9L1421.2 499.0L1422.0 497.5L1422.8 497.2L1423.5 495.7L1424.2 492.4L1425.0 488.6L1425.8 487.1L1426.5 487.6L1427.2 488.4L1428.0 487.8L1428.8 485.1L1429.5 484.0L1430.2 482.0L1431.0 478.3L1431.8 477.1L1432.5 476.8L1433.2 475.2L1434.0 474.0L1434.8 472.5L1435.5 470.5L1436.2 469.0L1437.0 466.9L1437.8 465.4L1438.5 464.5L1439.2 462.8L1440.0 462.4L1440.8 462.0L1441.5 459.7L1442.2 457.9L1443.0 457.1L1443.8 456.1L1444.5 454.7L1445.2 453.0L1446.0 452.2L1446.8 451.0L1447.5 450.7L1448.2 451.2L1449.0 450.5L1449.8 450.6L1450.5 450.6L1451.2 448.8L1452.0 447.1L1452.8 447.6L1453.5 447.6L1454.2 445.4L1455.0 445.4L1455.8 446.4L1456.5 444.6L1457.2 442.2L1458.0 441.9L1458.8 442.7L1459.5 442.9L1460.2 443.3L1461.0 443.7L1461.8 442.6L1462.5 442.7L1463.2 442.7L1464.0 441.5L1464.8 442.6L1465.5 442.7L1466.2 439.7L1467.0 438.1L1467.8 437.7L1468.5 438.0L1469.2 439.3L1470.0 439.7L1470.8 440.2L1471.5 440.4L1472.2 439.6L1473.0 439.1L1473.8 439.4L1474.5 440.0L1475.2 440.1L1476.0 440.3L1476.8 440.8L1477.5 441.1L1478.2 441.1L1479.0 441.2L1479.8 441.4L1480.5 441.6L1481.2 441.7L1482.0 441.8L1482.8 441.7L1483.5 442.7L1484.2 443.7L1485.0 443.0L1485.8 442.0L1486.5 441.6L1487.2 440.5L1488.0 439.3L1488.8 438.9L1489.5 438.6L1490.2 437.5L1491.0 435.9L1491.8 434.3L1492.5 433.6L1493.2 433.4L1494.0 432.4L1494.8 430.7L1495.5 429.5L1496.2 430.0L1497.0 430.6L1497.8 429.6L1498.5 429.0L1499.2 428.9L1500.0 428.4L1500.8 427.6L1501.5 426.8L1502.2 426.8L1503.0 427.0L1503.8 426.4L1504.5 425.4L1505.2 424.4L1506.0 423.9L1506.8 423.9L1507.5 423.2L1508.2 422.1L1509.0 421.6L1509.8 420.9L1510.5 419.9L1511.2 419.1L1512.0 418.0L1512.8 417.1L1513.5 416.0L1514.2 414.7L1515.0 414.1L1515.8 413.2L1516.5 411.9L1517.2 411.4L1518.0 410.7L1518.8 409.6L1519.5 408.4L1520.2 406.5L1521.0 405.4L1521.8 405.4L1522.5 404.6L1523.2 403.3L1524.0 402.1L1524.8 401.3L1525.5 400.6L1526.2 399.7L1527.0 398.9L1527.8 398.0L1528.5 396.5L1529.2 395.0L1530.0 394.4L1530.8 394.2L1531.5 393.1L1532.2 391.7L1533.0 390.9L1533.8 390.0L1534.5 389.0L1535.2 388.2L1536.0 387.3L1536.8 386.3L1537.5 385.5L1538.2 385.0L1539.0 384.4L1539.8 384.0L1540.5 383.8L1541.2 383.0L1542.0 382.0L1542.8 381.9L1543.5 382.3L1544.2 382.2L1545.0 381.5L1545.8 381.3L1546.5 381.5L1547.2 381.7L1548.0 381.8L1548.8 381.7L1549.5 381.3L1550.2 380.4L1551.0 380.2L1551.8 381.1L1552.5 381.3L1553.2 380.9L1554.0 380.7L1554.8 380.2L1555.5 379.8L1556.2 379.8L1557.0 379.7L1557.8 379.6L1558.5 378.7L1559.2 376.8L1560.0 376.5L1560.8 377.7L1561.5 376.8L1562.2 375.3L1563.0 374.8L1563.8 373.4L1564.5 372.4L1565.2 372.4L1566.0 372.9L1566.8 373.0L1567.5 372.4L1568.2 373.1L1569.0 373.5L1569.8 372.4L1570.5 370.4L1571.2 368.3L1572.0 367.0L1572.8 365.8L1573.5 364.8L1574.2 364.8L1575.0 365.0L1575.8 365.0L1576.5 364.4L1577.2 363.1L1578.0 362.2L1578.8 362.1L1579.5 361.7L1580.2 360.9L1581.0 360.1L1581.8 359.7L1582.5 359.9L1583.2 360.1L1584.0 360.0L1584.8 358.9L1585.5 358.1L1586.2 357.9L1587.0 357.1L1587.8 356.2L1588.5 355.4L1589.2 355.0L1590.0 355.0L1590.8 354.8L1591.5 354.0L1592.2 352.9L1593.0 351.9L1593.8 351.5L1594.5 351.0L1595.2 350.3L1596.0 350.2L1596.8 350.2L1597.5 349.4L1598.2 348.3L1599.0 347.6L1599.8 346.6L1600.5 345.5L1601.2 345.0L1602.0 345.2L1602.8 344.8L1603.5 343.4L1604.2 342.5L1605.0 342.7L1605.8 343.2L1606.5 342.7L1607.2 341.5L1608.0 340.9L1608.8 341.4L1609.5 342.4L1610.2 342.6L1611.0 341.9L1611.8 341.4L1612.5 341.1L1613.2 341.1L1614.0 341.5L1614.8 342.2L1615.5 341.8L1616.2 339.4L1617.0 339.2L1617.8 340.8L1618.5 341.4L1619.2 342.1L1620.0 341.3L1620.8 340.4L1621.5 341.9L1622.2 341.3L1623.0 340.0L1623.8 341.8L1624.5 342.2L1625.2 339.5L1626.0 336.6L1626.8 336.0L1627.5 337.6L1628.2 337.5L1629.0 335.0L1629.8 333.8L1630.5 334.5L1631.2 334.9L1632.0 334.5L1632.8 333.5L1633.5 333.2L1634.2 333.3L1635.0 333.0L1635.8 332.1L1636.5 330.8L1637.2 329.8L1638.0 329.0L1638.8 328.6L1639.5 328.2L1640.2 327.8L1641.0 327.4L1641.8 326.4L1642.5 325.4L1643.2 325.2L1644.0 324.6L1644.8 323.3L1645.5 322.0L1646.2 320.8L1647.0 320.5L1647.8 320.1L1648.5 319.0L1649.2 318.0L1650.0 317.6L1650.8 317.1L1651.5 316.4L1652.2 315.7L1653.0 314.7L1653.8 313.6L1654.5 312.6L1655.2 311.6L1656.0 310.9L1656.8 310.0L1657.5 309.1L1658.2 308.1L1659.0 307.1L1659.8 306.2L1660.5 305.1L1661.2 303.6L1662.0 302.1L1662.8 300.9L1663.5 299.9L1664.2 299.0L1665.0 298.6L1665.8 298.2L1666.5 297.0L1667.2 295.4L1668.0 294.1L1668.8 293.2L1669.5 292.6L1670.2 291.9L1671.0 291.3L1671.8 290.9L1672.5 290.1L1673.2 289.0L1674.0 287.7L1674.8 287.0L1675.5 286.5L1676.2 285.5L1677.0 284.4L1677.8 282.9L1678.5 281.0L1679.2 278.8L1680.0 276.8L1680.8 275.1L1681.5 273.8L1682.2 272.2L1683.0 269.8L1683.8 267.4L1684.5 265.5L1685.2 263.9L1686.0 261.4L1686.8 258.5L1687.5 255.6L1688.2 252.3L1689.0 249.5L1689.8 247.4L1690.5 245.0L1691.2 242.7L1692.0 241.1L1692.8 239.3L1693.5 236.7L1694.2 234.7L1695.0 233.5L1695.8 232.4L1696.5 231.8L1697.2 230.9L1698.0 229.4L1698.8 228.6L1699.5 228.1L1700.2 227.2L1701.0 226.0L1701.8 224.8L1702.5 224.5L1703.2 224.7L1704.0 224.7L1704.8 224.0L1705.5 223.5L1706.2 223.6L1707.0 223.7L1707.8 223.5L1708.5 223.9L1709.2 224.5L1710.0 224.6L1710.8 224.4L1711.5 224.2L1712.2 223.9L1713.0 223.9L1713.8 223.9L1714.5 223.9L1715.2 223.6L1716.0 223.4L1716.8 223.2L1717.5 223.4L1718.2 223.9L1719.0 223.7L1719.8 223.6L1720.5 223.8L1721.2 223.2L1722.0 222.1L1722.8 222.1L1723.5 222.3L1724.2 222.1L1725.0 221.6L1725.8 220.7L1726.5 219.7L1727.2 219.4L1728.0 219.6L1728.8 219.4L1729.5 218.8L1730.2 218.5L1731.0 218.3L1731.8 218.2L1732.5 218.2L1733.2 218.1L1734.0 218.7L1734.8 220.1L1735.5 221.1L1736.2 221.8L1737.0 223.2L1737.8 224.7L1738.5 226.3L1739.2 227.8L1740.0 229.6L1740.8 232.2L1741.5 234.8L1742.2 237.4L1743.0 240.7L1743.8 244.0L1744.5 247.0L1745.2 250.0L1746.0 252.5L1746.8 254.4L1747.5 255.9L1748.2 257.3L1749.0 258.7L1749.8 259.9L1750.5 260.6L1751.2 261.6L1752.0 263.7L1752.8 265.4L1753.5 266.5L1754.2 268.0L1755.0 269.7L1755.8 270.9L1756.5 271.8L1757.2 272.4L1758.0 273.0L1758.8 273.7L1759.5 274.2L1760.2 274.3L1761.0 274.1L1761.8 274.1L1762.5 274.2L1763.2 274.1L1764.0 273.7L1764.8 273.9L1765.5 274.0L1766.2 273.5L1767.0 272.6L1767.8 271.6L1768.5 270.9L1769.2 270.4L1770.0 269.6L1770.8 268.3L1771.5 267.4L1772.2 267.3L1773.0 267.0L1773.8 266.4L1774.5 266.2L1775.2 266.5L1776.0 266.5L1776.8 266.0L1777.5 266.0L1778.2 266.3L1779.0 266.3L1779.8 266.7L1780.5 267.2L1781.2 267.3L1782.0 267.4L1782.8 267.8L1783.5 268.3L1784.2 268.5L1785.0 268.8L1785.8 268.9L1786.5 268.7L1787.2 268.9L1788.0 269.5L1788.8 269.7L1789.5 269.8L1790.2 270.0L1791.0 270.5L1791.8 271.5L1792.5 272.3L1793.2 272.7L1794.0 273.2L1794.8 273.9L1795.5 274.8L1796.2 275.4L1797.0 275.0L1797.8 274.8L1798.5 275.3L1799.2 275.9L1800.0 275.9L1800.8 275.4L1801.5 274.7L1802.2 274.8L1803.0 275.0L1803.8 274.5L1804.5 276.2L1805.2 274.1L1806.0 273.6L1806.8 273.0L1807.5 272.0L1808.2 271.3L1809.0 271.1L1809.8 270.8L1810.5 270.4" fill="none" stroke="#2ee02e" stroke-width="1.25" stroke-linejoin="round"/>
<path d="M1449 448V650" stroke="#08ee08" stroke-width="2.8" fill="none"/>
<path d="M260.7 269.8L262.2 268.6L263.7 267.6L265.2 266.6L266.7 265.7L268.2 264.9L269.7 264.3L271.2 263.8L272.7 263.3L274.2 262.9L275.7 262.5L277.2 262.2L278.7 261.9L280.2 261.7L281.7 261.5L283.2 261.4L284.7 261.3L286.2 261.3L287.7 261.2L289.2 261.2L290.7 261.1L292.2 261.1L293.7 261.0L295.2 261.0L296.7 260.9L298.2 260.8L299.7 260.5L301.2 260.0L302.7 259.2L304.2 258.6L305.7 258.1L307.2 258.0L308.7 258.1L310.2 258.3L311.7 258.6L313.2 259.5L314.7 261.0L316.2 262.8L317.7 264.8L319.2 267.2L320.7 270.3L322.2 273.8L323.7 277.3L325.2 280.7L326.7 284.2L328.2 287.8L329.7 291.4L331.2 295.0L332.7 298.3L334.2 301.6L335.7 304.7L337.2 307.7L338.7 310.7L340.2 313.7L341.7 316.6L343.2 319.4L344.7 322.3L346.2 325.3L347.7 328.3L349.2 331.1L350.7 333.8L352.2 336.1L353.7 338.1L355.2 340.1L356.7 341.9L358.2 343.6L359.7 345.0L361.2 346.1L362.7 346.9L364.2 347.6L365.7 348.2L367.2 348.7L368.7 349.2L370.2 349.6L371.7 350.0L373.2 350.4L374.7 350.8L376.2 351.1L377.7 351.2L379.2 351.1L380.7 350.8L382.2 350.3L383.7 349.8L385.2 349.5L386.7 349.3L388.2 349.3L389.7 349.4L391.2 349.5L392.7 349.7L394.2 349.9L395.7 350.4L397.2 351.4L398.7 352.7L400.2 354.1L401.7 355.4L403.2 356.6L404.7 357.4L406.2 358.3L407.7 359.1L409.2 359.7L410.7 360.2L412.2 360.3L413.7 360.5L415.2 360.6L416.7 360.6L418.2 360.7L419.7 360.8L421.2 360.8L422.7 360.9L424.2 361.0L425.7 361.2L427.2 361.6L428.7 362.2L430.2 363.1L431.7 364.1L433.2 365.1L434.7 366.6L436.2 368.1L437.7 369.5L439.2 370.6L440.7 371.1L442.2 371.3L443.7 371.5L445.2 371.6L446.7 371.8L448.2 372.0L449.7 372.2L451.2 372.5L452.7 372.9L454.2 373.3L455.7 373.6L457.2 373.9L458.7 374.0L460.2 373.9L461.7 373.7L463.2 373.4L464.7 373.1L466.2 372.7L467.7 372.4L469.2 372.1L470.7 372.0L472.2 372.0L473.7 372.1L475.2 372.3L476.7 372.5L478.2 372.7L479.7 373.0L481.2 373.3L482.7 373.6L484.2 374.0L485.7 374.5L487.2 375.1L488.7 375.7L490.2 376.4L491.7 377.1L493.2 377.8L494.7 378.4L496.2 378.9L497.7 379.5L499.2 380.0L500.7 380.6L502.2 381.1L503.7 381.6L505.2 382.1L506.7 382.5L508.2 383.0L509.7 383.4L511.2 383.7L512.7 384.0L514.2 384.3L515.7 384.6L517.2 384.8L518.7 385.1L520.2 385.5L521.7 385.9L523.2 386.4L524.7 387.0L526.2 387.7L527.7 388.3L529.2 388.9L530.7 389.4L532.2 389.8L533.7 390.2L535.2 390.5L536.7 390.8L538.2 391.1L539.7 391.4L541.2 391.6L542.7 391.9L544.2 392.3L545.7 392.6L547.2 393.0L548.7 393.5L550.2 394.1L551.7 394.9L553.2 395.7L554.7 396.6L556.2 397.5L557.7 398.3L559.2 399.0L560.7 399.5L562.2 399.8L563.7 400.1L565.2 400.4L566.7 400.6L568.2 400.8L569.7 400.9L571.2 401.1L572.7 401.3L574.2 401.4L575.7 401.6L577.2 401.7L578.7 401.9L580.2 402.0L581.7 402.2L583.2 402.3L584.7 402.5L586.2 402.6L587.7 402.7L589.2 402.9L590.7 403.0L592.2 403.2L593.7 403.4L595.2 403.6L596.7 403.8L598.2 403.9L599.7 404.2L601.2 404.4L602.7 404.6L604.2 404.8L605.7 405.0L607.2 405.3L608.7 405.6L610.2 405.8L611.7 406.1L613.2 406.5L614.7 406.9L616.2 407.3L617.7 407.7L619.2 408.2L620.7 408.6L622.2 409.1L623.7 409.5L625.2 410.0L626.7 410.4L628.2 410.8L629.7 411.2L631.2 411.6L632.7 412.0L634.2 412.4L635.7 412.8L637.2 413.2L638.7 413.6L640.2 414.0L641.7 414.5L643.2 414.9L644.7 415.4L646.2 415.9L647.7 416.5L649.2 417.0L650.7 417.5L652.2 418.0L653.7 418.5L655.2 418.9L656.7 419.3L658.2 419.7L659.7 420.0L661.2 420.3L662.7 420.5L664.2 420.8L665.7 421.0L667.2 421.3L668.7 421.5L670.2 421.8L671.7 422.1L673.2 422.3L674.7 422.6L676.2 422.9L677.7 423.1L679.2 423.3L680.7 423.6L682.2 423.9L683.7 424.1L685.2 424.4L686.7 424.7L688.2 425.0L689.7 425.3L691.2 425.7L692.7 426.0L694.2 426.5L695.7 426.9L697.2 427.5L698.7 428.1L700.2 428.8L701.7 429.5L703.2 430.2L704.7 431.0L706.2 431.8L707.7 432.6L709.2 433.4L710.7 434.2L712.2 435.0L713.7 435.9L715.2 436.8L716.7 437.7L718.2 438.7L719.7 439.7L721.2 440.7L722.7 441.7L724.2 442.8L725.7 444.0L727.2 445.2L728.7 446.4L730.2 447.7L731.7 448.9L733.2 450.1L734.7 451.2L736.2 452.5L737.7 453.7L739.2 454.9L740.7 456.1L742.2 457.2L743.7 458.4L745.2 459.4L746.7 460.5L748.2 461.5L749.7 462.4L751.2 463.4L752.7 464.3L754.2 465.2L755.7 466.1L757.2 467.0L758.7 467.8L760.2 468.6L761.7 469.4L763.2 470.2L764.7 470.9L766.2 471.7L767.7 472.4L769.2 473.1L770.7 473.9L772.2 474.6L773.7 475.3L775.2 476.1L776.7 476.8L778.2 477.5L779.7 478.2L781.2 479.0L782.7 479.8L784.2 480.7L785.7 481.7L787.2 482.9L788.7 484.1L790.2 485.1L791.7 485.9L793.2 486.5L794.7 486.9L796.2 487.3L797.7 487.7L799.2 488.0L800.7 488.3L802.2 488.4L803.7 488.5L803.8 488.5M909.8 487.3L911.2 488.1L912.8 489.0L914.2 489.7L915.8 490.4L917.2 491.1L918.8 491.6L920.2 492.1L921.8 492.6L923.2 493.0L924.8 493.5L926.2 494.2L927.8 494.9L929.2 495.9L930.8 497.0L932.2 498.2L933.8 499.3L935.2 500.2L936.8 501.0L938.2 501.8L939.8 502.6L941.2 503.4L942.8 504.0L944.2 504.7L945.8 505.3L947.2 506.0L948.8 506.6L950.2 507.3L951.8 507.8L953.2 508.2L954.8 508.3L956.2 508.3L957.8 508.3L959.2 508.4L960.8 508.4L962.2 508.4L963.8 508.4L965.2 508.4L966.8 508.4L968.2 508.4L969.8 508.5L971.2 508.5L972.8 508.5L974.2 508.5L975.8 508.5L977.2 508.5L978.8 508.5L980.2 508.5L981.8 508.5L983.2 508.5L984.8 508.5L986.2 508.5L987.8 508.5L989.2 508.5L990.8 508.5L992.2 508.5L993.8 508.5L995.2 508.5L996.8 508.4L998.2 508.4L999.8 508.4L1001.2 508.4L1002.8 508.4L1004.2 508.4L1005.8 508.4L1007.2 508.4L1008.8 508.3L1010.2 508.3L1011.8 508.3L1013.2 508.3L1014.8 508.3L1016.2 508.3L1017.8 508.3L1019.2 508.3L1020.8 508.3L1022.2 508.6L1023.8 509.2L1025.2 509.8L1026.8 510.4L1028.2 511.0L1029.8 511.6L1031.2 512.4L1032.8 513.1L1034.2 513.7L1035.8 514.3L1037.2 514.8L1038.8 515.4L1040.2 515.9L1041.8 516.3L1043.2 516.5L1044.8 516.5L1046.2 516.5L1047.8 516.5L1049.2 516.4L1050.8 516.3L1052.2 516.2L1053.8 516.1L1055.2 516.0L1056.8 515.8L1058.2 515.7L1059.8 515.4L1061.2 515.2L1062.8 514.8L1064.2 514.2L1065.8 513.6L1067.2 512.8L1068.8 512.1L1070.2 511.2L1071.8 510.2L1073.2 509.6L1074.8 509.5L1076.2 509.9L1077.8 510.4L1079.2 511.0L1080.8 511.7L1082.2 512.7L1083.8 513.9L1085.2 514.8L1086.8 515.2L1088.2 515.2L1089.8 515.2L1091.2 515.2L1092.8 515.1L1094.2 514.1L1095.8 512.7L1097.2 511.0L1098.8 509.5L1100.2 507.8L1101.8 506.0L1103.2 504.3L1104.8 502.7L1106.2 501.1L1107.8 499.6L1109.2 498.5L1110.8 498.1L1112.2 497.8L1113.8 497.6L1115.2 497.5L1116.8 497.6L1118.2 497.7L1119.8 497.9L1121.2 498.1L1122.8 498.4L1124.2 498.9L1125.8 499.6L1127.2 500.3L1128.8 501.0L1130.2 501.5L1131.8 502.0L1133.2 502.4L1134.8 502.7L1136.2 502.7L1137.8 502.7L1139.2 502.7L1140.8 502.6L1142.2 502.5L1143.8 502.4L1145.2 502.4L1146.8 502.2L1148.2 502.1L1149.8 501.9L1151.2 501.6L1152.8 501.3L1154.2 501.0L1155.8 500.6L1157.2 500.1L1158.8 499.6L1160.2 499.0L1161.8 498.3L1163.2 497.8L1164.8 497.3L1166.2 496.8L1167.8 496.4L1169.2 496.0L1170.8 495.6L1172.2 495.1L1173.8 494.5L1175.2 493.8L1176.8 493.0L1178.2 492.1L1179.8 491.2L1181.2 490.3L1182.8 489.1L1184.2 488.0L1185.8 487.3L1187.2 487.2L1188.8 487.2L1190.2 487.1L1191.8 487.1L1193.2 487.0L1194.8 487.0L1196.2 487.0L1197.8 487.1L1199.2 487.3L1200.8 487.6L1202.2 488.0L1203.8 488.5L1205.2 489.0L1206.8 489.5L1208.2 489.9L1209.8 490.3L1211.2 490.7L1212.8 491.0L1214.2 491.4L1215.8 491.7L1217.2 492.2L1218.8 492.6L1220.2 493.2L1221.8 494.0L1223.2 495.3L1224.8 496.8L1226.2 498.3L1227.8 499.7L1229.2 500.8L1230.8 501.2L1232.2 501.2L1233.8 501.2L1235.2 501.2L1236.8 501.2L1238.2 501.7L1239.8 503.1L1241.2 505.1L1242.8 507.3L1244.2 509.2L1245.8 510.9L1247.2 512.7L1248.8 514.5L1250.2 516.1L1251.8 517.2L1253.2 517.7L1254.8 517.8L1256.2 517.8L1257.8 517.8L1259.2 517.8L1260.8 517.6L1262.2 515.3L1263.8 511.4L1265.2 507.1L1266.8 502.9L1268.2 497.9L1269.8 493.6L1271.2 490.2L1272.8 487.9L1274.2 487.6L1275.8 487.5L1277.2 488.6L1278.8 491.8L1280.2 495.5L1281.8 499.1L1283.2 503.4L1284.8 507.2L1286.2 509.2L1287.8 509.2L1289.2 509.2L1290.8 509.2L1292.2 509.2L1293.8 509.2L1295.2 509.2L1296.8 509.2L1298.2 508.4L1299.8 505.9L1301.2 503.1L1302.8 501.4L1304.2 500.9L1305.8 500.6L1307.2 500.4L1308.8 500.3L1310.2 500.2L1311.8 500.6L1313.2 501.8L1314.8 503.4L1316.2 505.1L1317.8 506.4L1319.2 507.1L1320.8 507.6L1322.2 508.1L1323.8 508.5L1325.2 509.0L1326.8 509.7L1328.2 510.6L1329.8 512.3L1331.2 514.5L1332.8 517.1L1334.2 519.7L1335.8 521.9L1337.2 524.0L1338.8 526.3L1340.2 527.9L1341.8 528.2L1343.2 527.0L1344.8 524.9L1346.2 522.7L1347.8 521.0L1349.2 519.8L1350.8 518.7L1352.2 517.7L1353.8 516.8L1355.2 516.4L1356.8 516.3L1358.2 516.9L1359.8 517.9L1361.2 519.2L1362.8 520.4L1364.2 522.0L1365.8 523.9L1367.2 525.8L1368.8 527.8L1370.2 529.5L1371.8 531.1L1373.2 532.7L1374.8 534.1L1376.2 534.9L1377.8 535.2L1379.2 535.4L1380.8 535.4L1382.2 534.6L1383.8 533.2L1385.2 531.4L1386.8 529.5L1388.2 527.8L1389.8 526.2L1391.2 524.6L1392.8 522.9L1394.2 521.4L1395.8 520.2L1397.2 519.2L1398.8 518.4L1400.2 517.8L1401.8 517.1L1403.2 516.4L1404.8 515.6L1406.2 514.8L1407.8 513.8L1409.2 512.8L1410.8 511.7L1412.2 510.5L1413.8 509.0L1415.2 507.3L1416.8 505.3L1418.2 503.1L1419.8 500.7L1421.2 497.9L1422.8 494.9L1424.2 492.0L1425.8 489.2L1427.2 486.6L1428.8 483.9L1430.2 481.2L1431.8 478.5L1433.2 475.6L1434.8 472.5L1436.2 469.4L1437.8 466.5L1439.2 463.6L1440.8 460.9L1442.2 458.5L1443.8 456.3L1445.2 454.2L1446.8 452.4L1448.2 450.7L1449.8 449.3L1451.2 447.9L1452.8 446.6L1454.2 445.4L1455.8 444.4L1457.2 443.5L1458.8 442.9L1460.2 442.4L1461.8 442.0L1463.2 441.6L1464.8 441.3L1466.2 441.0L1467.8 440.7L1469.2 440.5L1470.8 440.4L1472.2 440.4L1473.8 440.4L1475.2 440.6L1476.8 440.8L1478.2 441.1L1479.8 441.3L1481.2 441.5L1482.8 441.7L1484.2 441.7L1485.8 441.1L1487.2 440.0L1488.8 438.6L1490.2 436.9L1491.8 435.2L1493.2 433.5L1494.8 432.1L1496.2 430.9L1497.8 429.9L1499.2 428.9L1500.8 427.9L1502.2 426.9L1503.8 425.8L1505.2 424.6L1506.8 423.3L1508.2 421.9L1509.8 420.4L1511.2 418.8L1512.8 417.2L1514.2 415.5L1515.8 413.6L1517.2 411.5L1518.8 409.3L1520.2 407.2L1521.8 405.1L1523.2 403.2L1524.8 401.3L1526.2 399.5L1527.8 397.7L1529.2 396.0L1530.8 394.3L1532.2 392.6L1533.8 390.9L1535.2 389.2L1536.8 387.5L1538.2 386.1L1539.8 384.9L1541.2 384.0L1542.8 383.3L1544.2 382.8L1545.8 382.3L1547.2 381.9L1548.8 381.5L1550.2 381.1L1551.8 380.7L1553.2 380.3L1554.8 379.9L1556.2 379.3L1557.8 378.6L1559.2 377.8L1560.8 376.7L1562.2 375.4L1563.8 374.0L1565.2 372.6L1566.8 371.2L1568.2 369.9L1569.8 368.7L1571.2 367.6L1572.8 366.5L1574.2 365.5L1575.8 364.5L1577.2 363.5L1578.8 362.5L1580.2 361.5L1581.8 360.5L1583.2 359.5L1584.8 358.4L1586.2 357.3L1587.8 356.2L1589.2 355.0L1590.8 353.9L1592.2 352.7L1593.8 351.6L1595.2 350.5L1596.8 349.4L1598.2 348.2L1599.8 347.0L1601.2 345.8L1602.8 344.6L1604.2 343.7L1605.8 342.9L1607.2 342.5L1608.8 342.2L1610.2 342.0L1611.8 341.9L1613.2 341.8L1614.8 341.7L1616.2 341.6L1617.8 341.4L1619.2 341.2L1620.8 340.9L1622.2 340.5L1623.8 339.8L1625.2 339.0L1626.8 338.0L1628.2 337.0L1629.8 336.0L1631.2 335.0L1632.8 333.9L1634.2 332.7L1635.8 331.5L1637.2 330.2L1638.8 328.8L1640.2 327.4L1641.8 326.0L1643.2 324.6L1644.8 323.1L1646.2 321.6L1647.8 320.0L1649.2 318.3L1650.8 316.7L1652.2 315.0L1653.8 313.2L1655.2 311.4L1656.8 309.6L1658.2 307.6L1659.8 305.6L1661.2 303.5L1662.8 301.4L1664.2 299.4L1665.8 297.4L1667.2 295.4L1668.8 293.7L1670.2 291.9L1671.8 290.2L1673.2 288.3L1674.8 286.3L1676.2 284.0L1677.8 281.3L1679.2 278.2L1680.8 274.6L1682.2 270.9L1683.8 266.9L1685.2 262.5L1686.8 257.8L1688.2 253.2L1689.8 248.8L1691.2 244.4L1692.8 240.2L1694.2 236.8L1695.8 234.2L1697.2 232.0L1698.8 230.1L1700.2 228.6L1701.8 227.2L1703.2 226.0L1704.8 225.3L1706.2 224.9L1707.8 224.7L1709.2 224.5L1710.8 224.3L1712.2 224.0L1713.8 223.8L1715.2 223.5L1716.8 223.3L1718.2 223.0L1719.8 222.7L1721.2 222.4L1722.8 221.9L1724.2 221.3L1725.8 220.7L1727.2 220.4L1728.8 220.2L1730.2 220.1L1731.8 220.0L1733.2 220.5L1734.8 221.9L1736.2 223.7L1737.8 226.5L1739.2 229.8L1740.8 233.7L1742.2 238.0L1743.8 242.6L1745.2 247.8L1746.8 252.6L1748.2 255.9L1749.8 258.5L1751.2 260.9L1752.8 263.6L1754.2 266.6L1755.8 269.1L1757.2 270.7L1758.8 271.9L1760.2 272.7L1761.8 272.9L1763.2 272.8L1764.8 272.6L1766.2 272.3L1767.8 271.4L1769.2 270.0L1770.8 268.7L1772.2 268.1L1773.8 267.7L1775.2 267.3L1776.8 267.1L1778.2 267.1L1779.8 267.4L1781.2 267.7L1782.8 268.2L1784.2 268.7L1785.8 269.1L1787.2 269.5L1788.8 269.9L1790.2 270.5L1791.8 271.2L1793.2 272.3L1794.8 273.4L1796.2 274.1L1797.8 274.3L1799.2 274.4L1800.8 274.5L1802.2 274.4L1803.8 273.9L1805.2 273.2L1806.8 272.5L1808.2 271.8L1809.8 270.9L1810.5 270.4" fill="none" stroke="#001000" stroke-width="1.3" stroke-linejoin="round"/>
<path d="M731.0 428.3L733.3 424.7L735.7 421.1L738.0 417.5M740.2 414.2L742.5 410.7L744.8 407.1L747.2 403.5M749.3 400.3L751.5 397.0L753.7 393.7L756.2 389.8M758.8 386.1L761.0 382.8L763.5 379.1L765.8 375.8M768.2 372.2L770.8 368.6L773.2 365.0L775.8 361.5M778.2 358.0L780.8 354.6L783.5 350.9L786.0 347.5M788.8 344.0L791.5 340.5L794.5 336.8L797.2 333.5M800.2 330.1L801.5 328.7L802.8 327.3L804.0 326.0M911.0 320.1L913.8 316.7L916.8 312.9L919.5 309.5M922.5 305.9L925.5 302.3L928.5 298.8L931.2 295.6M934.2 292.1L937.5 288.4L940.8 284.8L943.8 281.5M947.0 278.0L950.5 274.3L954.0 270.7L957.2 267.4M960.8 263.9L964.2 260.5L967.8 257.2L971.2 253.9M974.8 250.7L978.2 247.6L981.8 244.5L985.2 241.6M988.8 238.7L992.2 235.9L995.8 233.2L999.2 230.5M1002.8 228.0L1006.2 225.5L1009.8 223.1L1013.2 220.7M1016.8 218.5L1020.2 216.3L1023.8 214.3L1027.2 212.3M1030.8 210.4L1034.2 208.6L1037.8 206.8L1041.2 205.2M1044.8 203.6L1048.2 202.2L1051.8 200.8L1055.2 199.5M1058.8 198.3L1062.2 197.2L1065.8 196.2L1069.2 195.2M1072.8 194.4L1076.2 193.6L1079.8 193.0L1083.2 192.4M1086.8 191.9L1090.2 191.5L1093.8 191.2L1097.2 190.9M1100.8 190.8L1104.2 190.7L1107.8 190.8L1111.2 190.9M1114.8 191.1L1118.2 191.4L1121.8 191.7L1125.2 192.2M1128.8 192.7L1132.2 193.3L1135.8 194.0L1139.2 194.8M1142.8 195.7L1146.2 196.7L1149.8 197.7L1153.2 198.8M1156.8 200.0L1160.2 201.3L1163.8 202.7L1167.2 204.1M1170.8 205.7L1174.2 207.3L1177.8 209.0L1181.2 210.8M1184.8 212.6L1188.2 214.6L1191.8 216.6L1195.2 218.7M1198.8 220.9L1202.2 223.1L1205.8 225.5L1209.2 227.9M1212.8 230.4L1216.2 232.9L1219.8 235.6L1223.2 238.3M1226.8 241.1L1230.2 244.0L1233.8 246.9L1237.2 249.9M1240.8 253.0L1244.2 256.1L1247.8 259.3L1251.2 262.5M1254.8 265.8L1258.2 269.2L1261.8 272.6L1265.2 276.0M1268.8 279.6L1272.0 282.9L1275.5 286.5L1278.8 290.0M1282.0 293.5L1285.2 297.0L1288.5 300.6L1291.5 304.0M1294.5 307.4L1297.5 310.9L1300.5 314.4L1303.5 318.0" fill="none" stroke="#0000f4" stroke-width="13.5"/>
<g stroke="#000" stroke-width="1" fill="none" shape-rendering="crispEdges">
<path d="M260.5 135.0V952.5H1811.0"/>
<path d="M260.5 902.5h8.5M260.5 874.5h8.5M260.5 853.5h8.5M260.5 837.5h8.5M260.5 825.5h8.5M260.5 814.5h8.5M260.5 804.5h8.5M260.5 796.5h8.5M260.5 788.5h16.5M260.5 739.5h8.5M260.5 710.5h8.5M260.5 690.5h8.5M260.5 674.5h8.5M260.5 661.5h8.5M260.5 650.5h8.5M260.5 641.5h8.5M260.5 633.5h8.5M260.5 625.5h16.5M260.5 576.5h8.5M260.5 547.5h8.5M260.5 527.5h8.5M260.5 511.5h8.5M260.5 498.5h8.5M260.5 487.5h8.5M260.5 478.5h8.5M260.5 469.5h8.5M260.5 462.5h16.5M260.5 413.5h8.5M260.5 384.5h8.5M260.5 364.5h8.5M260.5 348.5h8.5M260.5 335.5h8.5M260.5 324.5h8.5M260.5 314.5h8.5M260.5 306.5h8.5M260.5 299.5h16.5M260.5 250.5h8.5M260.5 221.5h8.5M260.5 200.5h8.5M260.5 185.5h8.5M260.5 172.5h8.5M260.5 161.5h8.5M260.5 151.5h8.5M260.5 143.5h8.5M260.5 135.5h16.5"/>
<path d="M441.5 952.5v-15M622.5 952.5v-15M804.5 952.5v-15M1087.5 952.5v-15M1267.5 952.5v-15M1448.5 952.5v-15M1628.5 952.5v-15"/>
</g>
<g stroke="#0a0aa8" stroke-width="1" fill="none" shape-rendering="crispEdges"><path d="M260.5 135.5H1810.5"/></g>
<g stroke="#000" stroke-width="1" stroke-dasharray="1 4" fill="none" shape-rendering="crispEdges"><path d="M281 135.5H1810"/></g>
<g stroke="#0000c0" stroke-width="1" fill="none" shape-rendering="crispEdges"><path d="M1810.5 135.0V953.0"/>
<path d="M1810.5 911.5h-16.5M1810.5 830.5h-16.5M1810.5 748.5h-16.5M1810.5 666.5h-16.5M1810.5 585.5h-16.5M1810.5 503.5h-16.5M1810.5 421.5h-16.5M1810.5 340.5h-16.5M1810.5 258.5h-16.5M1810.5 176.5h-16.5"/></g>
<text x="210.6" y="798.4" textLength="29.6" lengthAdjust="spacingAndGlyphs">10</text>
<text x="242.3" y="783.2" font-size="17.2">2</text>
<text x="210.6" y="635.2" textLength="29.6" lengthAdjust="spacingAndGlyphs">10</text>
<text x="242.3" y="620.0" font-size="17.2">3</text>
<text x="210.6" y="472.0" textLength="29.6" lengthAdjust="spacingAndGlyphs">10</text>
<text x="242.3" y="456.8" font-size="17.2">4</text>
<text x="210.6" y="308.8" textLength="29.6" lengthAdjust="spacingAndGlyphs">10</text>
<text x="242.3" y="293.6" font-size="17.2">5</text>
<text x="210.6" y="145.5" textLength="29.6" lengthAdjust="spacingAndGlyphs">10</text>
<text x="242.3" y="130.3" font-size="17.2">6</text>
<text x="1818" y="920.9" fill="#0000c0" textLength="46.5" lengthAdjust="spacingAndGlyphs">400</text>
<text x="1818" y="839.2" fill="#0000c0" textLength="46.5" lengthAdjust="spacingAndGlyphs">450</text>
<text x="1818" y="757.6" fill="#0000c0" textLength="46.5" lengthAdjust="spacingAndGlyphs">500</text>
<text x="1818" y="675.9" fill="#0000c0" textLength="46.5" lengthAdjust="spacingAndGlyphs">550</text>
<text x="1818" y="594.2" fill="#0000c0" textLength="46.5" lengthAdjust="spacingAndGlyphs">600</text>
<text x="1818" y="512.5" fill="#0000c0" textLength="46.5" lengthAdjust="spacingAndGlyphs">650</text>
<text x="1818" y="430.9" fill="#0000c0" textLength="46.5" lengthAdjust="spacingAndGlyphs">700</text>
<text x="1818" y="349.2" fill="#0000c0" textLength="46.5" lengthAdjust="spacingAndGlyphs">750</text>
<text x="1818" y="267.5" fill="#0000c0" textLength="46.5" lengthAdjust="spacingAndGlyphs">800</text>
<text x="1818" y="185.9" fill="#0000c0" textLength="46.5" lengthAdjust="spacingAndGlyphs">850</text>
<text x="749" y="113.5" font-weight="bold" textLength="569" lengthAdjust="spacingAndGlyphs" xml:space="preserve">Day 152  01-Jun-2009 13:24:44   orbit 6099</text>
<g transform="translate(179,598) rotate(-90)"><text x="-1.1" y="0">N</text><text x="18.8" y="13.7" font-size="22.2">i</text><text x="32.2" y="0">(cm</text><text x="78.5" y="-12.2" font-size="22.2">-3</text><text x="98.5" y="0">)</text></g>
<g transform="translate(1901,592) rotate(-90)"><text x="0" y="0" fill="#0000c0" textLength="93" lengthAdjust="spacingAndGlyphs">alt (km)</text></g>
<text x="1499.5" y="842.5" fill="#0000d8" textLength="90" lengthAdjust="spacingAndGlyphs">Eclipse</text>
<path d="M1612 828h10v13h-10zM1626 828h10v13h-10zM1640 828h10v13h-10zM1654 828h10v13h-10zM1668 828h10v13h-10zM1682 828h10v13h-10zM1696 828h10v13h-10zM1710 828h10v13h-10zM1724 828h10v13h-10zM1738 828h10v13h-10zM1752 828h10v13h-10z" fill="#0000f4"/>
<text x="1499.5" y="884.5" textLength="256" lengthAdjust="spacingAndGlyphs">One Minute Average</text>
<text x="1499.5" y="926.5" fill="#00e400" textLength="267.5" lengthAdjust="spacingAndGlyphs">One Second Average</text>
<g id="grid2" stroke="#000" stroke-width="1" stroke-dasharray="1 4" fill="none" shape-rendering="crispEdges">
<path d="M273 975.5H1802"/>
<path d="M273 980.5H1802"/>
<path d="M273 984.5H1802"/>
<path d="M273 987.5H1802"/>
<path d="M273 990.5H1802"/>
<path d="M273 993.5H1802"/>
<path d="M278 995.5H1794"/>
<path d="M273 1011.5H1802"/>
<path d="M273 1020.5H1802"/>
<path d="M273 1026.5H1802"/>
<path d="M273 1031.5H1802"/>
<path d="M273 1035.5H1802"/>
<path d="M273 1038.5H1802"/>
<path d="M273 1041.5H1802"/>
<path d="M273 1044.5H1802"/>
<path d="M278 1046.5H1794"/>
<path d="M273 1061.5H1802"/>
<path d="M273 1070.5H1802"/>
<path d="M273 1077.5H1802"/>
<path d="M273 1082.5H1802"/>
<path d="M273 1086.5H1802"/>
<path d="M273 1089.5H1802"/>
<path d="M273 1092.5H1802"/>
<path d="M273 1095.5H1802"/>
<path d="M278 1097.5H1794"/>
<path d="M273 1112.5H1802"/>
<path d="M441.5 985V1107"/>
<path d="M622.5 985V1107"/>
<path d="M804.5 985V1107"/>
<path d="M1087.5 985V1107"/>
<path d="M1267.5 985V1107"/>
<path d="M1448.5 985V1107"/>
<path d="M1628.5 985V1107"/>
</g>
<g stroke="#000" stroke-width="1" fill="none" shape-rendering="crispEdges">
<path d="M260.5 975.5h8.5M1810.5 975.5h-8.5M260.5 980.5h8.5M1810.5 980.5h-8.5M260.5 984.5h8.5M1810.5 984.5h-8.5M260.5 987.5h8.5M1810.5 987.5h-8.5M260.5 990.5h8.5M1810.5 990.5h-8.5M260.5 993.5h8.5M1810.5 993.5h-8.5M260.5 995.5h16.5M1810.5 995.5h-16.5M260.5 1011.5h8.5M1810.5 1011.5h-8.5M260.5 1020.5h8.5M1810.5 1020.5h-8.5M260.5 1026.5h8.5M1810.5 1026.5h-8.5M260.5 1031.5h8.5M1810.5 1031.5h-8.5M260.5 1035.5h8.5M1810.5 1035.5h-8.5M260.5 1038.5h8.5M1810.5 1038.5h-8.5M260.5 1041.5h8.5M1810.5 1041.5h-8.5M260.5 1044.5h8.5M1810.5 1044.5h-8.5M260.5 1046.5h16.5M1810.5 1046.5h-16.5M260.5 1061.5h8.5M1810.5 1061.5h-8.5M260.5 1070.5h8.5M1810.5 1070.5h-8.5M260.5 1077.5h8.5M1810.5 1077.5h-8.5M260.5 1082.5h8.5M1810.5 1082.5h-8.5M260.5 1086.5h8.5M1810.5 1086.5h-8.5M260.5 1089.5h8.5M1810.5 1089.5h-8.5M260.5 1092.5h8.5M1810.5 1092.5h-8.5M260.5 1095.5h8.5M1810.5 1095.5h-8.5M260.5 1097.5h16.5M1810.5 1097.5h-16.5M260.5 1112.5h8.5M1810.5 1112.5h-8.5M441.5 969.5v15M441.5 1122.0v-15M622.5 969.5v15M622.5 1122.0v-15M804.5 969.5v15M804.5 1122.0v-15M1087.5 969.5v15M1087.5 1122.0v-15M1267.5 969.5v15M1267.5 1122.0v-15M1448.5 969.5v15M1448.5 1122.0v-15M1628.5 969.5v15M1628.5 1122.0v-15"/></g>
<g shape-rendering="crispEdges">
<path fill="#0000bf" d="M728 970.0h74.5V1121.5h-74.5zM910 970.0h538.5V1121.5h-538.5z"/>
<path fill="#000095" d="M728 1041.7h2V1044.2h-2zM728 1001.7h2V1004.2h-2zM730 984.2h2V986.7h-2zM732 1046.7h2V1049.2h-2zM734 1064.9h2V1066.6h-2zM734 1011.7h2V1014.2h-2zM736 971.7h2V974.2h-2zM742 1075.6h2V1078.5h-2zM744 1068.5h2V1070.7h-2zM748 1090.9h2V1097.2h-2zM748 989.2h2V991.7h-2zM758 1056.7h2V1059.2h-2zM758 971.7h2V974.2h-2zM760 1009.2h2V1011.7h-2zM764 1054.2h2V1056.7h-2zM764 976.7h2V979.2h-2zM778 1059.2h2V1061.7h-2zM778 1046.7h2V1049.2h-2zM780 976.7h2V979.2h-2zM784 1078.5h2V1081.9h-2zM784 1001.7h2V1004.2h-2zM784 986.7h2V989.2h-2zM788 1009.2h2V1011.7h-2zM792 991.7h2V994.2h-2zM794 979.2h2V981.7h-2zM796 1063.2h2V1064.9h-2zM800 1014.2h2V1016.7h-2zM800 976.7h2V979.2h-2zM912 1086.0h2V1090.9h-2zM926 1039.2h2V1041.7h-2zM930 971.7h2V974.2h-2zM932 1016.7h2V1019.2h-2zM938 989.2h2V991.7h-2zM960 1036.7h2V1039.2h-2zM962 1036.7h2V1039.2h-2zM962 970.0h2V971.7h-2zM968 996.7h2V999.2h-2zM974 1016.7h2V1019.2h-2zM990 1001.7h2V1004.2h-2zM1000 1061.7h2V1063.2h-2zM1000 1046.7h2V1049.2h-2zM1002 981.7h2V984.2h-2zM1008 1075.6h2V1078.5h-2zM1014 1036.7h2V1039.2h-2zM1014 1014.2h2V1016.7h-2zM1016 1026.7h2V1029.2h-2zM1018 1024.2h2V1026.7h-2zM1032 1086.0h2V1090.9h-2zM1046 1041.7h2V1044.2h-2zM1048 1054.2h2V1056.7h-2zM1052 1061.7h2V1063.2h-2zM1052 1056.7h2V1059.2h-2zM1052 989.2h2V991.7h-2zM1068 1063.2h2V1064.9h-2zM1072 979.2h2V981.7h-2zM1076 979.2h2V981.7h-2zM1082 1016.7h2V1019.2h-2zM1082 979.2h2V981.7h-2zM1086 1049.2h2V1051.7h-2zM1086 1036.7h2V1039.2h-2zM1088 1051.7h2V1054.2h-2zM1088 1039.2h2V1041.7h-2zM1094 1019.2h2V1021.7h-2zM1102 1063.2h2V1064.9h-2zM1108 1056.7h2V1059.2h-2zM1124 1034.2h2V1036.7h-2zM1124 989.2h2V991.7h-2zM1128 1014.2h2V1016.7h-2zM1140 999.2h2V1001.7h-2zM1150 1029.2h2V1031.7h-2zM1152 984.2h2V986.7h-2zM1154 1004.2h2V1006.7h-2zM1154 986.7h2V989.2h-2zM1156 981.7h2V984.2h-2zM1162 1061.7h2V1063.2h-2zM1162 1016.7h2V1019.2h-2zM1166 974.2h2V976.7h-2zM1168 1044.2h2V1046.7h-2zM1184 1068.5h2V1070.7h-2zM1188 1004.2h2V1006.7h-2zM1192 986.7h2V989.2h-2zM1200 1024.2h2V1026.7h-2zM1200 981.7h2V984.2h-2zM1204 1031.7h2V1034.2h-2zM1208 971.7h2V974.2h-2zM1210 1009.2h2V1011.7h-2zM1214 984.2h2V986.7h-2zM1216 974.2h2V976.7h-2zM1222 1086.0h2V1090.9h-2zM1226 1024.2h2V1026.7h-2zM1228 996.7h2V999.2h-2zM1236 986.7h2V989.2h-2zM1240 1026.7h2V1029.2h-2zM1254 1026.7h2V1029.2h-2zM1262 986.7h2V989.2h-2zM1266 1024.2h2V1026.7h-2zM1276 1041.7h2V1044.2h-2zM1278 1006.7h2V1009.2h-2zM1282 1019.2h2V1021.7h-2zM1290 996.7h2V999.2h-2zM1292 1049.2h2V1051.7h-2zM1292 1014.2h2V1016.7h-2zM1302 1011.7h2V1014.2h-2zM1306 1029.2h2V1031.7h-2zM1312 994.2h2V996.7h-2zM1316 996.7h2V999.2h-2zM1320 1001.7h2V1004.2h-2zM1322 1041.7h2V1044.2h-2zM1326 996.7h2V999.2h-2zM1326 986.7h2V989.2h-2zM1328 974.2h2V976.7h-2zM1330 999.2h2V1001.7h-2zM1346 1046.7h2V1049.2h-2zM1352 1068.5h2V1070.7h-2zM1352 970.0h2V971.7h-2zM1356 999.2h2V1001.7h-2zM1360 996.7h2V999.2h-2zM1378 1059.2h2V1061.7h-2zM1380 1044.2h2V1046.7h-2zM1380 1009.2h2V1011.7h-2zM1398 981.7h2V984.2h-2zM1400 1021.7h2V1024.2h-2zM1406 1021.7h2V1024.2h-2zM1416 1051.7h2V1054.2h-2zM1420 986.7h2V989.2h-2zM1434 991.7h2V994.2h-2zM1438 1039.2h2V1041.7h-2zM1440 1004.2h2V1006.7h-2zM1440 976.7h2V979.2h-2zM1444 1054.2h2V1056.7h-2z"/>
<path fill="#0000aa" d="M728 1056.7h2V1061.7h-2zM728 1046.7h2V1049.2h-2zM728 1026.7h2V1029.2h-2zM728 1021.7h2V1024.2h-2zM728 999.2h2V1001.7h-2zM728 974.2h2V976.7h-2zM730 1075.6h2V1078.5h-2zM730 1070.7h2V1073.0h-2zM730 1061.7h2V1063.2h-2zM730 1054.2h2V1059.2h-2zM730 1044.2h2V1049.2h-2zM730 1034.2h2V1036.7h-2zM730 1026.7h2V1029.2h-2zM730 1019.2h2V1021.7h-2zM730 1014.2h2V1016.7h-2zM730 971.7h2V976.7h-2zM732 1070.7h2V1073.0h-2zM732 1054.2h2V1056.7h-2zM732 1036.7h2V1039.2h-2zM732 1029.2h2V1031.7h-2zM732 1019.2h2V1026.7h-2zM732 991.7h2V999.2h-2zM732 986.7h2V989.2h-2zM732 979.2h2V981.7h-2zM734 1054.2h2V1056.7h-2zM734 1044.2h2V1046.7h-2zM734 1034.2h2V1036.7h-2zM734 1029.2h2V1031.7h-2zM734 1016.7h2V1024.2h-2zM734 1009.2h2V1011.7h-2zM734 1001.7h2V1004.2h-2zM734 994.2h2V999.2h-2zM734 971.7h2V974.2h-2zM736 1051.7h2V1056.7h-2zM736 1011.7h2V1014.2h-2zM736 996.7h2V999.2h-2zM736 981.7h2V989.2h-2zM738 1064.9h2V1066.6h-2zM738 1061.7h2V1063.2h-2zM738 1054.2h2V1059.2h-2zM738 1041.7h2V1044.2h-2zM738 1031.7h2V1034.2h-2zM738 1024.2h2V1029.2h-2zM738 1019.2h2V1021.7h-2zM738 1014.2h2V1016.7h-2zM738 1009.2h2V1011.7h-2zM738 1004.2h2V1006.7h-2zM738 999.2h2V1001.7h-2zM738 991.7h2V994.2h-2zM740 1068.5h2V1070.7h-2zM740 1061.7h2V1063.2h-2zM740 1051.7h2V1056.7h-2zM740 1039.2h2V1044.2h-2zM740 1026.7h2V1031.7h-2zM740 1016.7h2V1021.7h-2zM740 1004.2h2V1006.7h-2zM740 999.2h2V1001.7h-2zM740 976.7h2V981.7h-2zM740 970.0h2V974.2h-2zM742 1078.5h2V1081.9h-2zM742 1070.7h2V1073.0h-2zM742 1066.6h2V1068.5h-2zM742 1059.2h2V1061.7h-2zM742 1041.7h2V1044.2h-2zM742 1026.7h2V1029.2h-2zM742 1021.7h2V1024.2h-2zM742 999.2h2V1001.7h-2zM742 986.7h2V991.7h-2zM742 981.7h2V984.2h-2zM742 970.0h2V971.7h-2zM744 1073.0h2V1081.9h-2zM744 1054.2h2V1059.2h-2zM744 1046.7h2V1049.2h-2zM744 1041.7h2V1044.2h-2zM744 1036.7h2V1039.2h-2zM744 1004.2h2V1006.7h-2zM744 989.2h2V999.2h-2zM744 976.7h2V979.2h-2zM744 971.7h2V974.2h-2zM746 1059.2h2V1061.7h-2zM746 1044.2h2V1046.7h-2zM746 1016.7h2V1019.2h-2zM746 1009.2h2V1011.7h-2zM746 994.2h2V1006.7h-2zM746 989.2h2V991.7h-2zM746 979.2h2V981.7h-2zM746 971.7h2V974.2h-2zM748 1097.2h2V1106.2h-2zM748 1081.9h2V1086.0h-2zM748 1061.7h2V1063.2h-2zM748 1056.7h2V1059.2h-2zM748 1046.7h2V1049.2h-2zM748 1041.7h2V1044.2h-2zM748 1031.7h2V1034.2h-2zM748 1019.2h2V1021.7h-2zM748 1011.7h2V1016.7h-2zM748 1004.2h2V1006.7h-2zM748 996.7h2V1001.7h-2zM748 981.7h2V984.2h-2zM748 970.0h2V971.7h-2zM750 1068.5h2V1070.7h-2zM750 1054.2h2V1056.7h-2zM750 1024.2h2V1026.7h-2zM750 1019.2h2V1021.7h-2zM750 1014.2h2V1016.7h-2zM750 1009.2h2V1011.7h-2zM750 1004.2h2V1006.7h-2zM750 999.2h2V1001.7h-2zM750 979.2h2V986.7h-2zM750 970.0h2V976.7h-2zM752 1070.7h2V1073.0h-2zM752 1051.7h2V1054.2h-2zM752 1044.2h2V1046.7h-2zM752 1031.7h2V1034.2h-2zM752 1016.7h2V1019.2h-2zM752 1006.7h2V1011.7h-2zM752 999.2h2V1004.2h-2zM752 989.2h2V991.7h-2zM752 979.2h2V981.7h-2zM754 1056.7h2V1059.2h-2zM754 1049.2h2V1051.7h-2zM754 1034.2h2V1039.2h-2zM754 999.2h2V1001.7h-2zM754 989.2h2V991.7h-2zM754 984.2h2V986.7h-2zM756 1063.2h2V1064.9h-2zM756 1046.7h2V1056.7h-2zM756 1039.2h2V1041.7h-2zM756 1016.7h2V1019.2h-2zM756 976.7h2V981.7h-2zM758 1046.7h2V1051.7h-2zM758 1034.2h2V1039.2h-2zM758 1029.2h2V1031.7h-2zM758 1011.7h2V1016.7h-2zM758 1004.2h2V1006.7h-2zM760 1056.7h2V1059.2h-2zM760 1031.7h2V1034.2h-2zM760 1026.7h2V1029.2h-2zM760 999.2h2V1001.7h-2zM760 989.2h2V991.7h-2zM762 1061.7h2V1066.6h-2zM762 1054.2h2V1056.7h-2zM762 1041.7h2V1044.2h-2zM762 1014.2h2V1019.2h-2zM762 999.2h2V1001.7h-2zM762 981.7h2V989.2h-2zM764 1068.5h2V1070.7h-2zM764 1039.2h2V1041.7h-2zM764 1021.7h2V1026.7h-2zM764 1014.2h2V1016.7h-2zM764 1006.7h2V1009.2h-2zM764 979.2h2V981.7h-2zM764 970.0h2V971.7h-2zM766 1066.6h2V1068.5h-2zM766 1059.2h2V1061.7h-2zM766 1039.2h2V1044.2h-2zM766 1026.7h2V1029.2h-2zM766 1021.7h2V1024.2h-2zM766 1009.2h2V1011.7h-2zM766 994.2h2V996.7h-2zM766 989.2h2V991.7h-2zM766 976.7h2V981.7h-2zM768 1061.7h2V1066.6h-2zM768 1039.2h2V1041.7h-2zM768 1011.7h2V1014.2h-2zM768 1004.2h2V1006.7h-2zM768 999.2h2V1001.7h-2zM768 984.2h2V986.7h-2zM768 970.0h2V971.7h-2zM770 1086.0h2V1090.9h-2zM770 1063.2h2V1064.9h-2zM770 1059.2h2V1061.7h-2zM770 1049.2h2V1051.7h-2zM770 1041.7h2V1044.2h-2zM770 1024.2h2V1029.2h-2zM770 1019.2h2V1021.7h-2zM770 991.7h2V994.2h-2zM770 970.0h2V971.7h-2zM772 1039.2h2V1044.2h-2zM772 1014.2h2V1016.7h-2zM772 999.2h2V1001.7h-2zM772 986.7h2V991.7h-2zM772 979.2h2V981.7h-2zM774 1059.2h2V1061.7h-2zM774 1054.2h2V1056.7h-2zM774 1041.7h2V1044.2h-2zM774 1036.7h2V1039.2h-2zM774 1021.7h2V1024.2h-2zM774 1016.7h2V1019.2h-2zM774 1004.2h2V1006.7h-2zM774 991.7h2V996.7h-2zM774 981.7h2V984.2h-2zM776 1078.5h2V1081.9h-2zM776 1073.0h2V1075.6h-2zM776 1063.2h2V1068.5h-2zM776 1056.7h2V1061.7h-2zM776 1049.2h2V1051.7h-2zM776 1036.7h2V1039.2h-2zM776 1031.7h2V1034.2h-2zM776 1026.7h2V1029.2h-2zM776 1016.7h2V1021.7h-2zM776 999.2h2V1004.2h-2zM776 976.7h2V981.7h-2zM778 1106.2h2V1121.5h-2zM778 1068.5h2V1073.0h-2zM778 1061.7h2V1064.9h-2zM778 1054.2h2V1056.7h-2zM778 1044.2h2V1046.7h-2zM778 1031.7h2V1034.2h-2zM778 1014.2h2V1019.2h-2zM778 1006.7h2V1009.2h-2zM778 970.0h2V974.2h-2zM780 1068.5h2V1070.7h-2zM780 1059.2h2V1063.2h-2zM780 1034.2h2V1036.7h-2zM780 1029.2h2V1031.7h-2zM780 1021.7h2V1024.2h-2zM780 1016.7h2V1019.2h-2zM780 999.2h2V1001.7h-2zM780 994.2h2V996.7h-2zM780 984.2h2V986.7h-2zM780 974.2h2V976.7h-2zM782 1078.5h2V1081.9h-2zM782 1061.7h2V1063.2h-2zM782 1056.7h2V1059.2h-2zM782 1041.7h2V1044.2h-2zM782 1036.7h2V1039.2h-2zM782 1029.2h2V1034.2h-2zM782 1024.2h2V1026.7h-2zM782 1016.7h2V1019.2h-2zM782 1009.2h2V1011.7h-2zM782 1004.2h2V1006.7h-2zM782 994.2h2V996.7h-2zM782 986.7h2V989.2h-2zM782 974.2h2V976.7h-2zM784 1106.2h2V1121.5h-2zM784 1081.9h2V1086.0h-2zM784 1063.2h2V1070.7h-2zM784 1056.7h2V1059.2h-2zM784 1049.2h2V1051.7h-2zM784 1036.7h2V1044.2h-2zM784 1026.7h2V1031.7h-2zM784 1019.2h2V1024.2h-2zM784 1014.2h2V1016.7h-2zM784 1004.2h2V1006.7h-2zM784 976.7h2V979.2h-2zM784 970.0h2V971.7h-2zM786 1097.2h2V1106.2h-2zM786 1061.7h2V1064.9h-2zM786 1049.2h2V1054.2h-2zM786 1044.2h2V1046.7h-2zM786 1029.2h2V1031.7h-2zM786 1004.2h2V1006.7h-2zM786 994.2h2V1001.7h-2zM786 989.2h2V991.7h-2zM786 984.2h2V986.7h-2zM786 979.2h2V981.7h-2zM786 971.7h2V976.7h-2zM788 1066.6h2V1070.7h-2zM788 1054.2h2V1059.2h-2zM788 1036.7h2V1041.7h-2zM788 1029.2h2V1031.7h-2zM788 1024.2h2V1026.7h-2zM788 1016.7h2V1019.2h-2zM788 1006.7h2V1009.2h-2zM788 989.2h2V991.7h-2zM788 976.7h2V984.2h-2zM790 1075.6h2V1078.5h-2zM790 1063.2h2V1064.9h-2zM790 1036.7h2V1039.2h-2zM790 1026.7h2V1029.2h-2zM790 1019.2h2V1021.7h-2zM790 1014.2h2V1016.7h-2zM790 1004.2h2V1006.7h-2zM790 994.2h2V996.7h-2zM790 986.7h2V991.7h-2zM792 1054.2h2V1056.7h-2zM792 1049.2h2V1051.7h-2zM792 1036.7h2V1039.2h-2zM792 1026.7h2V1031.7h-2zM792 1021.7h2V1024.2h-2zM792 1009.2h2V1011.7h-2zM792 1004.2h2V1006.7h-2zM792 989.2h2V991.7h-2zM792 974.2h2V979.2h-2zM794 1034.2h2V1036.7h-2zM794 1009.2h2V1014.2h-2zM794 991.7h2V1001.7h-2zM794 986.7h2V989.2h-2zM794 981.7h2V984.2h-2zM794 976.7h2V979.2h-2zM794 970.0h2V974.2h-2zM796 1081.9h2V1086.0h-2zM796 1059.2h2V1061.7h-2zM796 1051.7h2V1054.2h-2zM796 1041.7h2V1044.2h-2zM796 1036.7h2V1039.2h-2zM796 1029.2h2V1031.7h-2zM796 1019.2h2V1026.7h-2zM796 996.7h2V999.2h-2zM796 989.2h2V991.7h-2zM796 971.7h2V974.2h-2zM798 1064.9h2V1066.6h-2zM798 1041.7h2V1044.2h-2zM798 1024.2h2V1026.7h-2zM798 1006.7h2V1009.2h-2zM798 999.2h2V1001.7h-2zM798 994.2h2V996.7h-2zM798 981.7h2V984.2h-2zM798 976.7h2V979.2h-2zM800 1073.0h2V1075.6h-2zM800 1054.2h2V1059.2h-2zM800 1021.7h2V1024.2h-2zM800 1011.7h2V1014.2h-2zM800 1004.2h2V1006.7h-2zM800 979.2h2V981.7h-2zM910 1075.6h2V1081.9h-2zM910 1068.5h2V1070.7h-2zM910 1059.2h2V1061.7h-2zM910 1051.7h2V1054.2h-2zM910 1024.2h2V1026.7h-2zM910 1019.2h2V1021.7h-2zM910 1006.7h2V1009.2h-2zM910 971.7h2V974.2h-2zM912 1106.2h2V1121.5h-2zM912 1078.5h2V1081.9h-2zM912 1068.5h2V1070.7h-2zM912 1051.7h2V1054.2h-2zM912 1039.2h2V1041.7h-2zM912 1011.7h2V1019.2h-2zM912 1006.7h2V1009.2h-2zM912 994.2h2V996.7h-2zM912 984.2h2V986.7h-2zM912 970.0h2V976.7h-2zM914 1064.9h2V1066.6h-2zM914 1056.7h2V1061.7h-2zM914 1041.7h2V1044.2h-2zM914 1029.2h2V1031.7h-2zM914 1021.7h2V1024.2h-2zM914 1014.2h2V1016.7h-2zM914 999.2h2V1001.7h-2zM914 994.2h2V996.7h-2zM914 979.2h2V981.7h-2zM916 1054.2h2V1063.2h-2zM916 1044.2h2V1046.7h-2zM916 1006.7h2V1009.2h-2zM916 999.2h2V1001.7h-2zM916 971.7h2V974.2h-2zM918 1086.0h2V1090.9h-2zM918 1068.5h2V1070.7h-2zM918 1061.7h2V1063.2h-2zM918 1044.2h2V1046.7h-2zM918 1024.2h2V1026.7h-2zM918 1011.7h2V1016.7h-2zM918 1004.2h2V1006.7h-2zM918 991.7h2V994.2h-2zM918 986.7h2V989.2h-2zM918 979.2h2V984.2h-2zM918 971.7h2V974.2h-2zM920 1073.0h2V1075.6h-2zM920 1068.5h2V1070.7h-2zM920 1061.7h2V1066.6h-2zM920 1049.2h2V1051.7h-2zM920 1039.2h2V1041.7h-2zM920 1029.2h2V1034.2h-2zM920 1024.2h2V1026.7h-2zM920 1011.7h2V1014.2h-2zM920 1001.7h2V1004.2h-2zM920 986.7h2V989.2h-2zM920 971.7h2V974.2h-2zM922 1063.2h2V1064.9h-2zM922 1056.7h2V1059.2h-2zM922 1041.7h2V1049.2h-2zM922 1036.7h2V1039.2h-2zM922 1016.7h2V1019.2h-2zM922 979.2h2V981.7h-2zM924 1011.7h2V1014.2h-2zM924 1004.2h2V1006.7h-2zM924 999.2h2V1001.7h-2zM924 986.7h2V989.2h-2zM926 1036.7h2V1039.2h-2zM926 1026.7h2V1029.2h-2zM926 1021.7h2V1024.2h-2zM926 1016.7h2V1019.2h-2zM926 1011.7h2V1014.2h-2zM928 1106.2h2V1121.5h-2zM928 1056.7h2V1059.2h-2zM928 1049.2h2V1051.7h-2zM928 1044.2h2V1046.7h-2zM928 1034.2h2V1041.7h-2zM928 1021.7h2V1024.2h-2zM928 1006.7h2V1011.7h-2zM928 1001.7h2V1004.2h-2zM928 989.2h2V991.7h-2zM928 970.0h2V971.7h-2zM930 1073.0h2V1075.6h-2zM930 1063.2h2V1064.9h-2zM930 1029.2h2V1031.7h-2zM930 1009.2h2V1016.7h-2zM930 996.7h2V999.2h-2zM930 981.7h2V986.7h-2zM930 974.2h2V976.7h-2zM932 1073.0h2V1075.6h-2zM932 1051.7h2V1054.2h-2zM932 1036.7h2V1039.2h-2zM932 1024.2h2V1026.7h-2zM932 996.7h2V999.2h-2zM932 991.7h2V994.2h-2zM932 986.7h2V989.2h-2zM932 971.7h2V974.2h-2zM934 1070.7h2V1073.0h-2zM934 1064.9h2V1066.6h-2zM934 1049.2h2V1051.7h-2zM934 1041.7h2V1046.7h-2zM934 1029.2h2V1031.7h-2zM934 1011.7h2V1019.2h-2zM934 1004.2h2V1006.7h-2zM934 996.7h2V1001.7h-2zM934 986.7h2V991.7h-2zM934 976.7h2V981.7h-2zM936 1051.7h2V1054.2h-2zM936 1021.7h2V1029.2h-2zM936 1014.2h2V1016.7h-2zM936 1004.2h2V1009.2h-2zM936 989.2h2V996.7h-2zM936 984.2h2V986.7h-2zM936 976.7h2V979.2h-2zM938 1059.2h2V1061.7h-2zM938 1014.2h2V1016.7h-2zM938 999.2h2V1001.7h-2zM938 991.7h2V994.2h-2zM938 981.7h2V984.2h-2zM940 1078.5h2V1081.9h-2zM940 1049.2h2V1051.7h-2zM940 1014.2h2V1016.7h-2zM940 996.7h2V1001.7h-2zM940 981.7h2V984.2h-2zM940 976.7h2V979.2h-2zM940 970.0h2V971.7h-2zM942 1049.2h2V1051.7h-2zM942 1001.7h2V1004.2h-2zM942 994.2h2V999.2h-2zM942 984.2h2V986.7h-2zM944 1063.2h2V1064.9h-2zM944 1029.2h2V1036.7h-2zM944 1019.2h2V1021.7h-2zM944 1006.7h2V1011.7h-2zM944 989.2h2V991.7h-2zM944 981.7h2V984.2h-2zM944 974.2h2V976.7h-2zM944 970.0h2V971.7h-2zM946 1078.5h2V1097.2h-2zM946 1061.7h2V1063.2h-2zM946 1051.7h2V1054.2h-2zM946 1041.7h2V1049.2h-2zM946 1026.7h2V1029.2h-2zM946 1009.2h2V1014.2h-2zM946 994.2h2V996.7h-2zM946 986.7h2V989.2h-2zM946 976.7h2V979.2h-2zM946 970.0h2V971.7h-2zM948 1070.7h2V1073.0h-2zM948 1054.2h2V1056.7h-2zM948 1029.2h2V1036.7h-2zM948 1021.7h2V1026.7h-2zM948 1014.2h2V1016.7h-2zM948 1009.2h2V1011.7h-2zM948 1004.2h2V1006.7h-2zM948 994.2h2V996.7h-2zM948 989.2h2V991.7h-2zM948 984.2h2V986.7h-2zM948 971.7h2V979.2h-2zM950 1063.2h2V1064.9h-2zM950 1046.7h2V1049.2h-2zM950 1021.7h2V1026.7h-2zM950 1016.7h2V1019.2h-2zM950 994.2h2V996.7h-2zM950 976.7h2V979.2h-2zM950 970.0h2V971.7h-2zM952 1068.5h2V1070.7h-2zM952 1059.2h2V1061.7h-2zM952 1054.2h2V1056.7h-2zM952 1046.7h2V1049.2h-2zM952 1041.7h2V1044.2h-2zM952 1036.7h2V1039.2h-2zM952 1031.7h2V1034.2h-2zM952 1026.7h2V1029.2h-2zM952 1021.7h2V1024.2h-2zM952 1016.7h2V1019.2h-2zM952 1006.7h2V1009.2h-2zM952 991.7h2V994.2h-2zM952 981.7h2V986.7h-2zM952 974.2h2V976.7h-2zM954 1070.7h2V1073.0h-2zM954 1059.2h2V1061.7h-2zM954 1051.7h2V1054.2h-2zM954 1041.7h2V1046.7h-2zM954 1036.7h2V1039.2h-2zM954 1026.7h2V1031.7h-2zM954 1019.2h2V1021.7h-2zM954 1006.7h2V1009.2h-2zM954 974.2h2V981.7h-2zM956 1064.9h2V1066.6h-2zM956 1029.2h2V1034.2h-2zM956 1021.7h2V1024.2h-2zM956 1011.7h2V1019.2h-2zM956 999.2h2V1004.2h-2zM956 989.2h2V991.7h-2zM956 976.7h2V979.2h-2zM958 1073.0h2V1075.6h-2zM958 1059.2h2V1061.7h-2zM958 1044.2h2V1046.7h-2zM958 1029.2h2V1034.2h-2zM958 1021.7h2V1024.2h-2zM958 1001.7h2V1006.7h-2zM958 984.2h2V989.2h-2zM958 979.2h2V981.7h-2zM958 971.7h2V976.7h-2zM960 1049.2h2V1051.7h-2zM960 1024.2h2V1026.7h-2zM960 1009.2h2V1011.7h-2zM960 994.2h2V996.7h-2zM960 989.2h2V991.7h-2zM960 984.2h2V986.7h-2zM960 979.2h2V981.7h-2zM960 974.2h2V976.7h-2zM960 970.0h2V971.7h-2zM962 1056.7h2V1059.2h-2zM962 1051.7h2V1054.2h-2zM962 1041.7h2V1044.2h-2zM962 1031.7h2V1034.2h-2zM962 1026.7h2V1029.2h-2zM962 1004.2h2V1006.7h-2zM962 996.7h2V999.2h-2zM962 989.2h2V991.7h-2zM962 979.2h2V986.7h-2zM964 1106.2h2V1121.5h-2zM964 1039.2h2V1041.7h-2zM964 1034.2h2V1036.7h-2zM964 1029.2h2V1031.7h-2zM964 1021.7h2V1024.2h-2zM964 1004.2h2V1006.7h-2zM964 996.7h2V999.2h-2zM964 989.2h2V991.7h-2zM964 974.2h2V981.7h-2zM964 970.0h2V971.7h-2zM966 1061.7h2V1063.2h-2zM966 1054.2h2V1059.2h-2zM966 1046.7h2V1049.2h-2zM966 1034.2h2V1039.2h-2zM966 1019.2h2V1021.7h-2zM966 1001.7h2V1006.7h-2zM966 984.2h2V986.7h-2zM966 970.0h2V971.7h-2zM968 1070.7h2V1073.0h-2zM968 1061.7h2V1063.2h-2zM968 1034.2h2V1036.7h-2zM968 1021.7h2V1024.2h-2zM968 1014.2h2V1019.2h-2zM968 1006.7h2V1011.7h-2zM968 986.7h2V989.2h-2zM968 971.7h2V974.2h-2zM970 1097.2h2V1106.2h-2zM970 1081.9h2V1086.0h-2zM970 1075.6h2V1078.5h-2zM970 1064.9h2V1068.5h-2zM970 1026.7h2V1031.7h-2zM970 1021.7h2V1024.2h-2zM970 1006.7h2V1009.2h-2zM970 994.2h2V996.7h-2zM970 974.2h2V976.7h-2zM970 970.0h2V971.7h-2zM972 1081.9h2V1086.0h-2zM972 1051.7h2V1054.2h-2zM972 1041.7h2V1044.2h-2zM972 1031.7h2V1034.2h-2zM972 999.2h2V1004.2h-2zM972 991.7h2V994.2h-2zM974 1059.2h2V1061.7h-2zM974 1041.7h2V1044.2h-2zM974 1026.7h2V1034.2h-2zM974 994.2h2V999.2h-2zM974 984.2h2V989.2h-2zM976 1059.2h2V1061.7h-2zM976 1014.2h2V1021.7h-2zM976 1001.7h2V1006.7h-2zM976 984.2h2V986.7h-2zM976 979.2h2V981.7h-2zM976 970.0h2V971.7h-2zM978 1039.2h2V1041.7h-2zM978 1014.2h2V1019.2h-2zM978 999.2h2V1004.2h-2zM978 994.2h2V996.7h-2zM978 989.2h2V991.7h-2zM978 974.2h2V981.7h-2zM980 1039.2h2V1041.7h-2zM980 1034.2h2V1036.7h-2zM980 974.2h2V981.7h-2zM982 1029.2h2V1031.7h-2zM982 1021.7h2V1024.2h-2zM982 999.2h2V1001.7h-2zM982 989.2h2V991.7h-2zM982 979.2h2V984.2h-2zM984 1034.2h2V1036.7h-2zM984 1016.7h2V1019.2h-2zM984 1009.2h2V1011.7h-2zM984 1001.7h2V1006.7h-2zM984 994.2h2V996.7h-2zM984 984.2h2V986.7h-2zM984 976.7h2V979.2h-2zM986 1046.7h2V1051.7h-2zM986 1039.2h2V1041.7h-2zM986 1029.2h2V1031.7h-2zM986 1014.2h2V1016.7h-2zM986 1001.7h2V1004.2h-2zM986 986.7h2V996.7h-2zM986 979.2h2V984.2h-2zM988 1081.9h2V1086.0h-2zM988 1059.2h2V1064.9h-2zM988 1039.2h2V1041.7h-2zM988 1034.2h2V1036.7h-2zM988 1001.7h2V1004.2h-2zM988 991.7h2V994.2h-2zM988 971.7h2V974.2h-2zM990 1086.0h2V1106.2h-2zM990 1078.5h2V1081.9h-2zM990 1056.7h2V1059.2h-2zM990 1044.2h2V1051.7h-2zM990 1039.2h2V1041.7h-2zM990 1026.7h2V1031.7h-2zM990 1019.2h2V1021.7h-2zM990 1011.7h2V1016.7h-2zM990 1006.7h2V1009.2h-2zM990 996.7h2V999.2h-2zM990 986.7h2V991.7h-2zM992 1068.5h2V1070.7h-2zM992 1061.7h2V1063.2h-2zM992 1041.7h2V1044.2h-2zM992 1034.2h2V1036.7h-2zM992 1019.2h2V1021.7h-2zM992 1006.7h2V1009.2h-2zM992 994.2h2V996.7h-2zM992 984.2h2V986.7h-2zM994 1046.7h2V1049.2h-2zM994 1036.7h2V1039.2h-2zM994 1029.2h2V1034.2h-2zM994 1021.7h2V1026.7h-2zM994 1014.2h2V1016.7h-2zM994 1006.7h2V1009.2h-2zM994 994.2h2V996.7h-2zM996 1049.2h2V1051.7h-2zM996 1039.2h2V1044.2h-2zM996 1021.7h2V1024.2h-2zM996 1011.7h2V1019.2h-2zM996 1006.7h2V1009.2h-2zM996 994.2h2V996.7h-2zM996 984.2h2V986.7h-2zM998 1056.7h2V1059.2h-2zM998 1051.7h2V1054.2h-2zM998 1029.2h2V1031.7h-2zM998 1014.2h2V1019.2h-2zM998 1006.7h2V1009.2h-2zM998 996.7h2V999.2h-2zM998 989.2h2V991.7h-2zM998 979.2h2V981.7h-2zM998 971.7h2V974.2h-2zM1000 1041.7h2V1044.2h-2zM1000 1019.2h2V1024.2h-2zM1000 1014.2h2V1016.7h-2zM1000 1006.7h2V1009.2h-2zM1000 1001.7h2V1004.2h-2zM1000 986.7h2V989.2h-2zM1000 979.2h2V981.7h-2zM1002 1064.9h2V1066.6h-2zM1002 1044.2h2V1046.7h-2zM1002 1036.7h2V1039.2h-2zM1002 1009.2h2V1011.7h-2zM1002 1001.7h2V1006.7h-2zM1002 991.7h2V996.7h-2zM1002 984.2h2V986.7h-2zM1002 970.0h2V979.2h-2zM1004 1063.2h2V1064.9h-2zM1004 1054.2h2V1056.7h-2zM1004 1034.2h2V1041.7h-2zM1004 1026.7h2V1029.2h-2zM1004 1001.7h2V1004.2h-2zM1004 994.2h2V996.7h-2zM1004 984.2h2V989.2h-2zM1004 970.0h2V971.7h-2zM1006 1054.2h2V1056.7h-2zM1006 1049.2h2V1051.7h-2zM1006 1044.2h2V1046.7h-2zM1006 1031.7h2V1034.2h-2zM1006 1021.7h2V1024.2h-2zM1006 1016.7h2V1019.2h-2zM1006 1009.2h2V1014.2h-2zM1006 999.2h2V1004.2h-2zM1006 991.7h2V996.7h-2zM1006 984.2h2V986.7h-2zM1006 971.7h2V974.2h-2zM1008 1106.2h2V1121.5h-2zM1008 1086.0h2V1090.9h-2zM1008 1068.5h2V1073.0h-2zM1008 1061.7h2V1063.2h-2zM1008 1051.7h2V1056.7h-2zM1008 1039.2h2V1041.7h-2zM1008 986.7h2V989.2h-2zM1008 979.2h2V981.7h-2zM1008 970.0h2V976.7h-2zM1010 1086.0h2V1090.9h-2zM1010 1070.7h2V1073.0h-2zM1010 1046.7h2V1049.2h-2zM1010 1039.2h2V1041.7h-2zM1010 1026.7h2V1029.2h-2zM1010 1014.2h2V1016.7h-2zM1010 1006.7h2V1009.2h-2zM1010 991.7h2V996.7h-2zM1010 976.7h2V979.2h-2zM1012 1106.2h2V1121.5h-2zM1012 1078.5h2V1081.9h-2zM1012 1046.7h2V1051.7h-2zM1012 1029.2h2V1031.7h-2zM1012 1016.7h2V1019.2h-2zM1012 1011.7h2V1014.2h-2zM1012 999.2h2V1004.2h-2zM1012 989.2h2V991.7h-2zM1012 979.2h2V981.7h-2zM1012 974.2h2V976.7h-2zM1014 1086.0h2V1121.5h-2zM1014 1064.9h2V1070.7h-2zM1014 1061.7h2V1063.2h-2zM1014 1044.2h2V1046.7h-2zM1014 1029.2h2V1034.2h-2zM1014 1021.7h2V1024.2h-2zM1014 1001.7h2V1004.2h-2zM1014 986.7h2V991.7h-2zM1014 979.2h2V981.7h-2zM1014 971.7h2V974.2h-2zM1016 1034.2h2V1036.7h-2zM1016 1021.7h2V1026.7h-2zM1016 1014.2h2V1016.7h-2zM1016 1009.2h2V1011.7h-2zM1016 986.7h2V989.2h-2zM1018 1054.2h2V1059.2h-2zM1018 1049.2h2V1051.7h-2zM1018 1034.2h2V1036.7h-2zM1018 986.7h2V989.2h-2zM1018 971.7h2V976.7h-2zM1020 1081.9h2V1090.9h-2zM1020 1036.7h2V1039.2h-2zM1020 1021.7h2V1024.2h-2zM1020 994.2h2V999.2h-2zM1020 981.7h2V986.7h-2zM1020 970.0h2V974.2h-2zM1022 1019.2h2V1021.7h-2zM1022 1014.2h2V1016.7h-2zM1022 991.7h2V994.2h-2zM1022 981.7h2V984.2h-2zM1022 971.7h2V974.2h-2zM1024 1063.2h2V1064.9h-2zM1024 1049.2h2V1051.7h-2zM1024 1044.2h2V1046.7h-2zM1024 1034.2h2V1036.7h-2zM1024 1026.7h2V1029.2h-2zM1024 1016.7h2V1021.7h-2zM1024 1009.2h2V1014.2h-2zM1024 996.7h2V999.2h-2zM1024 989.2h2V991.7h-2zM1024 970.0h2V974.2h-2zM1026 1059.2h2V1061.7h-2zM1026 1041.7h2V1044.2h-2zM1026 1036.7h2V1039.2h-2zM1026 1026.7h2V1029.2h-2zM1026 1006.7h2V1011.7h-2zM1026 1001.7h2V1004.2h-2zM1026 989.2h2V994.2h-2zM1026 970.0h2V971.7h-2zM1028 1054.2h2V1059.2h-2zM1028 1049.2h2V1051.7h-2zM1028 1039.2h2V1046.7h-2zM1028 1024.2h2V1026.7h-2zM1028 1019.2h2V1021.7h-2zM1028 994.2h2V1001.7h-2zM1028 976.7h2V979.2h-2zM1030 1075.6h2V1078.5h-2zM1030 1064.9h2V1066.6h-2zM1030 1049.2h2V1051.7h-2zM1030 1036.7h2V1039.2h-2zM1030 1016.7h2V1024.2h-2zM1030 1011.7h2V1014.2h-2zM1030 996.7h2V1004.2h-2zM1030 979.2h2V984.2h-2zM1030 970.0h2V971.7h-2zM1032 1081.9h2V1086.0h-2zM1032 1073.0h2V1075.6h-2zM1032 1054.2h2V1056.7h-2zM1032 1026.7h2V1029.2h-2zM1032 1016.7h2V1019.2h-2zM1032 1011.7h2V1014.2h-2zM1032 1004.2h2V1006.7h-2zM1032 999.2h2V1001.7h-2zM1032 986.7h2V989.2h-2zM1032 981.7h2V984.2h-2zM1032 976.7h2V979.2h-2zM1034 1068.5h2V1070.7h-2zM1034 1061.7h2V1063.2h-2zM1034 1046.7h2V1049.2h-2zM1034 1039.2h2V1044.2h-2zM1034 1034.2h2V1036.7h-2zM1034 1024.2h2V1026.7h-2zM1034 1019.2h2V1021.7h-2zM1034 996.7h2V1001.7h-2zM1034 989.2h2V991.7h-2zM1036 1070.7h2V1075.6h-2zM1036 1064.9h2V1066.6h-2zM1036 1059.2h2V1061.7h-2zM1036 1046.7h2V1049.2h-2zM1036 1041.7h2V1044.2h-2zM1036 1011.7h2V1014.2h-2zM1036 1006.7h2V1009.2h-2zM1036 984.2h2V986.7h-2zM1036 970.0h2V971.7h-2zM1038 1051.7h2V1056.7h-2zM1038 1046.7h2V1049.2h-2zM1038 1026.7h2V1029.2h-2zM1038 1009.2h2V1011.7h-2zM1038 986.7h2V989.2h-2zM1040 1090.9h2V1097.2h-2zM1040 1081.9h2V1086.0h-2zM1040 1070.7h2V1073.0h-2zM1040 1061.7h2V1063.2h-2zM1040 1054.2h2V1056.7h-2zM1040 1049.2h2V1051.7h-2zM1040 1036.7h2V1041.7h-2zM1040 1021.7h2V1026.7h-2zM1040 1014.2h2V1019.2h-2zM1040 1006.7h2V1009.2h-2zM1040 999.2h2V1001.7h-2zM1040 991.7h2V996.7h-2zM1040 976.7h2V979.2h-2zM1040 971.7h2V974.2h-2zM1042 1086.0h2V1090.9h-2zM1042 1056.7h2V1059.2h-2zM1042 1051.7h2V1054.2h-2zM1042 1029.2h2V1031.7h-2zM1042 1024.2h2V1026.7h-2zM1042 1016.7h2V1019.2h-2zM1042 1004.2h2V1006.7h-2zM1042 991.7h2V994.2h-2zM1042 984.2h2V989.2h-2zM1042 971.7h2V974.2h-2zM1044 1021.7h2V1024.2h-2zM1044 1006.7h2V1014.2h-2zM1044 984.2h2V989.2h-2zM1044 974.2h2V976.7h-2zM1044 970.0h2V971.7h-2zM1046 1086.0h2V1090.9h-2zM1046 1063.2h2V1064.9h-2zM1046 1056.7h2V1059.2h-2zM1046 1049.2h2V1051.7h-2zM1046 1039.2h2V1041.7h-2zM1046 1034.2h2V1036.7h-2zM1046 1014.2h2V1019.2h-2zM1046 994.2h2V999.2h-2zM1046 986.7h2V989.2h-2zM1048 1086.0h2V1090.9h-2zM1048 1063.2h2V1064.9h-2zM1048 1051.7h2V1054.2h-2zM1048 1026.7h2V1031.7h-2zM1048 1019.2h2V1021.7h-2zM1048 991.7h2V994.2h-2zM1048 981.7h2V984.2h-2zM1050 1086.0h2V1090.9h-2zM1050 1051.7h2V1054.2h-2zM1050 1034.2h2V1036.7h-2zM1050 1019.2h2V1021.7h-2zM1050 1011.7h2V1014.2h-2zM1050 999.2h2V1001.7h-2zM1050 994.2h2V996.7h-2zM1050 981.7h2V984.2h-2zM1050 971.7h2V974.2h-2zM1052 1066.6h2V1068.5h-2zM1052 1034.2h2V1036.7h-2zM1052 1019.2h2V1021.7h-2zM1052 1011.7h2V1016.7h-2zM1052 994.2h2V996.7h-2zM1052 986.7h2V989.2h-2zM1052 976.7h2V984.2h-2zM1052 971.7h2V974.2h-2zM1054 1063.2h2V1064.9h-2zM1054 1034.2h2V1036.7h-2zM1054 1026.7h2V1029.2h-2zM1054 1016.7h2V1024.2h-2zM1054 994.2h2V1001.7h-2zM1054 976.7h2V979.2h-2zM1056 1090.9h2V1097.2h-2zM1056 1063.2h2V1064.9h-2zM1056 1056.7h2V1061.7h-2zM1056 1051.7h2V1054.2h-2zM1056 1044.2h2V1046.7h-2zM1056 1036.7h2V1039.2h-2zM1056 999.2h2V1001.7h-2zM1056 989.2h2V991.7h-2zM1058 1056.7h2V1059.2h-2zM1058 1044.2h2V1046.7h-2zM1058 1009.2h2V1011.7h-2zM1058 994.2h2V999.2h-2zM1058 989.2h2V991.7h-2zM1058 984.2h2V986.7h-2zM1058 979.2h2V981.7h-2zM1060 1061.7h2V1063.2h-2zM1060 1049.2h2V1051.7h-2zM1060 1041.7h2V1044.2h-2zM1060 1029.2h2V1031.7h-2zM1060 1024.2h2V1026.7h-2zM1060 1016.7h2V1019.2h-2zM1060 996.7h2V999.2h-2zM1060 991.7h2V994.2h-2zM1060 986.7h2V989.2h-2zM1060 981.7h2V984.2h-2zM1060 974.2h2V976.7h-2zM1060 970.0h2V971.7h-2zM1062 1056.7h2V1059.2h-2zM1062 1051.7h2V1054.2h-2zM1062 1041.7h2V1049.2h-2zM1062 1026.7h2V1031.7h-2zM1062 1006.7h2V1009.2h-2zM1062 1001.7h2V1004.2h-2zM1062 996.7h2V999.2h-2zM1062 991.7h2V994.2h-2zM1062 984.2h2V986.7h-2zM1062 976.7h2V981.7h-2zM1062 970.0h2V974.2h-2zM1064 1073.0h2V1075.6h-2zM1064 1011.7h2V1016.7h-2zM1064 994.2h2V996.7h-2zM1064 986.7h2V989.2h-2zM1064 981.7h2V984.2h-2zM1064 976.7h2V979.2h-2zM1066 1068.5h2V1070.7h-2zM1066 1059.2h2V1061.7h-2zM1066 1054.2h2V1056.7h-2zM1066 1049.2h2V1051.7h-2zM1066 1041.7h2V1046.7h-2zM1066 1031.7h2V1034.2h-2zM1066 1021.7h2V1024.2h-2zM1066 1014.2h2V1016.7h-2zM1066 1006.7h2V1009.2h-2zM1066 999.2h2V1001.7h-2zM1066 994.2h2V996.7h-2zM1066 981.7h2V986.7h-2zM1066 970.0h2V976.7h-2zM1068 1039.2h2V1041.7h-2zM1068 1029.2h2V1031.7h-2zM1068 1014.2h2V1016.7h-2zM1068 1009.2h2V1011.7h-2zM1068 1004.2h2V1006.7h-2zM1068 996.7h2V999.2h-2zM1068 989.2h2V994.2h-2zM1068 981.7h2V984.2h-2zM1070 1051.7h2V1054.2h-2zM1070 1031.7h2V1034.2h-2zM1070 996.7h2V999.2h-2zM1070 991.7h2V994.2h-2zM1070 981.7h2V986.7h-2zM1070 970.0h2V971.7h-2zM1072 1066.6h2V1068.5h-2zM1072 1059.2h2V1061.7h-2zM1072 1044.2h2V1046.7h-2zM1072 1036.7h2V1041.7h-2zM1072 999.2h2V1004.2h-2zM1072 989.2h2V991.7h-2zM1074 1051.7h2V1054.2h-2zM1074 1044.2h2V1046.7h-2zM1074 1034.2h2V1036.7h-2zM1074 1011.7h2V1014.2h-2zM1074 1001.7h2V1009.2h-2zM1074 989.2h2V991.7h-2zM1074 979.2h2V981.7h-2zM1074 974.2h2V976.7h-2zM1076 1041.7h2V1044.2h-2zM1076 1036.7h2V1039.2h-2zM1076 1026.7h2V1029.2h-2zM1076 1009.2h2V1011.7h-2zM1076 1001.7h2V1006.7h-2zM1076 996.7h2V999.2h-2zM1076 984.2h2V986.7h-2zM1076 974.2h2V979.2h-2zM1076 970.0h2V971.7h-2zM1078 1054.2h2V1056.7h-2zM1078 1039.2h2V1044.2h-2zM1078 1014.2h2V1021.7h-2zM1078 1009.2h2V1011.7h-2zM1078 996.7h2V999.2h-2zM1078 989.2h2V991.7h-2zM1078 971.7h2V974.2h-2zM1080 1086.0h2V1090.9h-2zM1080 1054.2h2V1059.2h-2zM1080 1039.2h2V1041.7h-2zM1080 1034.2h2V1036.7h-2zM1080 1024.2h2V1026.7h-2zM1080 1014.2h2V1016.7h-2zM1080 994.2h2V996.7h-2zM1080 984.2h2V989.2h-2zM1080 974.2h2V976.7h-2zM1082 1049.2h2V1051.7h-2zM1082 1039.2h2V1041.7h-2zM1082 1029.2h2V1036.7h-2zM1082 1009.2h2V1011.7h-2zM1082 976.7h2V979.2h-2zM1082 970.0h2V971.7h-2zM1084 1011.7h2V1014.2h-2zM1084 974.2h2V976.7h-2zM1086 1068.5h2V1070.7h-2zM1086 1064.9h2V1066.6h-2zM1086 1034.2h2V1036.7h-2zM1086 1014.2h2V1019.2h-2zM1086 1004.2h2V1006.7h-2zM1086 999.2h2V1001.7h-2zM1086 994.2h2V996.7h-2zM1086 981.7h2V984.2h-2zM1088 1059.2h2V1061.7h-2zM1088 1036.7h2V1039.2h-2zM1088 1029.2h2V1031.7h-2zM1088 999.2h2V1001.7h-2zM1088 994.2h2V996.7h-2zM1088 989.2h2V991.7h-2zM1088 981.7h2V984.2h-2zM1088 974.2h2V976.7h-2zM1090 1041.7h2V1044.2h-2zM1090 1026.7h2V1029.2h-2zM1090 1014.2h2V1019.2h-2zM1090 1004.2h2V1006.7h-2zM1090 996.7h2V999.2h-2zM1090 984.2h2V986.7h-2zM1090 974.2h2V976.7h-2zM1092 1051.7h2V1054.2h-2zM1092 1034.2h2V1036.7h-2zM1092 1029.2h2V1031.7h-2zM1092 1011.7h2V1014.2h-2zM1092 999.2h2V1001.7h-2zM1092 984.2h2V989.2h-2zM1094 1021.7h2V1024.2h-2zM1094 1011.7h2V1016.7h-2zM1094 999.2h2V1006.7h-2zM1094 981.7h2V984.2h-2zM1094 970.0h2V971.7h-2zM1096 1039.2h2V1041.7h-2zM1096 1019.2h2V1021.7h-2zM1096 1011.7h2V1014.2h-2zM1096 991.7h2V994.2h-2zM1096 971.7h2V984.2h-2zM1098 1056.7h2V1059.2h-2zM1098 1034.2h2V1039.2h-2zM1098 1026.7h2V1031.7h-2zM1098 1006.7h2V1009.2h-2zM1100 1026.7h2V1029.2h-2zM1100 991.7h2V994.2h-2zM1100 976.7h2V979.2h-2zM1100 971.7h2V974.2h-2zM1102 1054.2h2V1056.7h-2zM1102 1041.7h2V1044.2h-2zM1102 1034.2h2V1036.7h-2zM1102 1019.2h2V1021.7h-2zM1102 1004.2h2V1011.7h-2zM1102 984.2h2V986.7h-2zM1104 1054.2h2V1056.7h-2zM1104 1049.2h2V1051.7h-2zM1104 1034.2h2V1036.7h-2zM1104 1016.7h2V1019.2h-2zM1104 1011.7h2V1014.2h-2zM1104 996.7h2V999.2h-2zM1104 986.7h2V989.2h-2zM1104 976.7h2V981.7h-2zM1106 1034.2h2V1036.7h-2zM1106 1029.2h2V1031.7h-2zM1106 1016.7h2V1019.2h-2zM1106 1004.2h2V1006.7h-2zM1106 994.2h2V996.7h-2zM1106 984.2h2V991.7h-2zM1108 986.7h2V989.2h-2zM1108 974.2h2V976.7h-2zM1110 1011.7h2V1014.2h-2zM1110 999.2h2V1001.7h-2zM1110 986.7h2V991.7h-2zM1110 981.7h2V984.2h-2zM1112 1061.7h2V1063.2h-2zM1112 1051.7h2V1056.7h-2zM1112 1031.7h2V1034.2h-2zM1112 1021.7h2V1024.2h-2zM1112 1016.7h2V1019.2h-2zM1112 1011.7h2V1014.2h-2zM1112 999.2h2V1001.7h-2zM1112 991.7h2V994.2h-2zM1112 976.7h2V979.2h-2zM1114 1029.2h2V1031.7h-2zM1114 1004.2h2V1009.2h-2zM1114 984.2h2V986.7h-2zM1114 974.2h2V979.2h-2zM1116 1031.7h2V1034.2h-2zM1116 1021.7h2V1024.2h-2zM1116 1014.2h2V1016.7h-2zM1116 1006.7h2V1009.2h-2zM1116 994.2h2V996.7h-2zM1116 989.2h2V991.7h-2zM1116 984.2h2V986.7h-2zM1116 974.2h2V976.7h-2zM1116 970.0h2V971.7h-2zM1118 1031.7h2V1034.2h-2zM1118 1014.2h2V1016.7h-2zM1118 1006.7h2V1009.2h-2zM1118 999.2h2V1001.7h-2zM1118 976.7h2V979.2h-2zM1120 1070.7h2V1073.0h-2zM1120 1064.9h2V1066.6h-2zM1120 1051.7h2V1054.2h-2zM1120 1044.2h2V1046.7h-2zM1120 1014.2h2V1019.2h-2zM1120 996.7h2V999.2h-2zM1120 989.2h2V991.7h-2zM1120 981.7h2V986.7h-2zM1120 971.7h2V974.2h-2zM1122 1026.7h2V1029.2h-2zM1122 1021.7h2V1024.2h-2zM1122 1001.7h2V1006.7h-2zM1122 984.2h2V986.7h-2zM1122 974.2h2V981.7h-2zM1124 981.7h2V984.2h-2zM1126 1051.7h2V1056.7h-2zM1126 1024.2h2V1026.7h-2zM1126 1016.7h2V1021.7h-2zM1126 1001.7h2V1004.2h-2zM1126 974.2h2V979.2h-2zM1128 1066.6h2V1068.5h-2zM1128 1054.2h2V1059.2h-2zM1128 1041.7h2V1044.2h-2zM1128 1029.2h2V1034.2h-2zM1128 1021.7h2V1026.7h-2zM1128 1011.7h2V1014.2h-2zM1128 989.2h2V991.7h-2zM1128 976.7h2V981.7h-2zM1128 970.0h2V971.7h-2zM1130 1097.2h2V1106.2h-2zM1130 1070.7h2V1073.0h-2zM1130 1056.7h2V1059.2h-2zM1130 1049.2h2V1051.7h-2zM1130 1034.2h2V1036.7h-2zM1130 1016.7h2V1019.2h-2zM1130 991.7h2V1001.7h-2zM1130 976.7h2V979.2h-2zM1130 971.7h2V974.2h-2zM1132 1064.9h2V1066.6h-2zM1132 1049.2h2V1051.7h-2zM1132 1041.7h2V1044.2h-2zM1132 1029.2h2V1034.2h-2zM1132 1011.7h2V1014.2h-2zM1132 1006.7h2V1009.2h-2zM1132 981.7h2V986.7h-2zM1132 971.7h2V976.7h-2zM1134 1041.7h2V1044.2h-2zM1134 1026.7h2V1029.2h-2zM1134 984.2h2V989.2h-2zM1134 974.2h2V976.7h-2zM1134 970.0h2V971.7h-2zM1136 1075.6h2V1078.5h-2zM1136 1049.2h2V1051.7h-2zM1136 1034.2h2V1036.7h-2zM1136 1024.2h2V1029.2h-2zM1136 1009.2h2V1011.7h-2zM1136 994.2h2V996.7h-2zM1136 981.7h2V984.2h-2zM1136 971.7h2V974.2h-2zM1138 1019.2h2V1021.7h-2zM1138 1011.7h2V1014.2h-2zM1138 1004.2h2V1009.2h-2zM1138 994.2h2V999.2h-2zM1138 976.7h2V979.2h-2zM1140 1044.2h2V1046.7h-2zM1140 1036.7h2V1041.7h-2zM1140 1029.2h2V1034.2h-2zM1140 1019.2h2V1021.7h-2zM1140 1006.7h2V1009.2h-2zM1140 996.7h2V999.2h-2zM1142 1029.2h2V1031.7h-2zM1142 1024.2h2V1026.7h-2zM1142 1016.7h2V1019.2h-2zM1142 1011.7h2V1014.2h-2zM1142 1001.7h2V1006.7h-2zM1142 989.2h2V994.2h-2zM1142 981.7h2V986.7h-2zM1142 970.0h2V971.7h-2zM1144 1054.2h2V1056.7h-2zM1144 1044.2h2V1046.7h-2zM1144 1034.2h2V1036.7h-2zM1144 1024.2h2V1026.7h-2zM1144 999.2h2V1006.7h-2zM1144 994.2h2V996.7h-2zM1146 1070.7h2V1073.0h-2zM1146 1051.7h2V1056.7h-2zM1146 1031.7h2V1034.2h-2zM1146 1026.7h2V1029.2h-2zM1146 1016.7h2V1019.2h-2zM1146 1011.7h2V1014.2h-2zM1146 994.2h2V1001.7h-2zM1146 974.2h2V976.7h-2zM1148 1049.2h2V1054.2h-2zM1148 1034.2h2V1036.7h-2zM1148 1011.7h2V1014.2h-2zM1148 1006.7h2V1009.2h-2zM1148 999.2h2V1001.7h-2zM1148 986.7h2V989.2h-2zM1148 976.7h2V984.2h-2zM1150 1039.2h2V1041.7h-2zM1150 1016.7h2V1019.2h-2zM1150 1004.2h2V1006.7h-2zM1150 976.7h2V986.7h-2zM1152 1036.7h2V1039.2h-2zM1152 1026.7h2V1034.2h-2zM1152 1019.2h2V1021.7h-2zM1152 1009.2h2V1011.7h-2zM1152 996.7h2V999.2h-2zM1152 981.7h2V984.2h-2zM1152 971.7h2V974.2h-2zM1154 1006.7h2V1009.2h-2zM1154 999.2h2V1001.7h-2zM1154 991.7h2V994.2h-2zM1154 971.7h2V974.2h-2zM1156 1081.9h2V1086.0h-2zM1156 1056.7h2V1059.2h-2zM1156 1051.7h2V1054.2h-2zM1156 1039.2h2V1041.7h-2zM1156 1034.2h2V1036.7h-2zM1156 1026.7h2V1029.2h-2zM1156 1016.7h2V1019.2h-2zM1156 1009.2h2V1014.2h-2zM1156 994.2h2V996.7h-2zM1156 989.2h2V991.7h-2zM1158 1070.7h2V1073.0h-2zM1158 1061.7h2V1063.2h-2zM1158 1056.7h2V1059.2h-2zM1158 1049.2h2V1054.2h-2zM1158 1034.2h2V1036.7h-2zM1158 1026.7h2V1029.2h-2zM1158 1021.7h2V1024.2h-2zM1158 1011.7h2V1014.2h-2zM1158 989.2h2V991.7h-2zM1158 971.7h2V974.2h-2zM1160 1081.9h2V1086.0h-2zM1160 1059.2h2V1061.7h-2zM1160 1039.2h2V1041.7h-2zM1160 1031.7h2V1034.2h-2zM1160 1016.7h2V1021.7h-2zM1160 1011.7h2V1014.2h-2zM1160 999.2h2V1001.7h-2zM1160 974.2h2V976.7h-2zM1162 1064.9h2V1066.6h-2zM1162 1056.7h2V1061.7h-2zM1162 1049.2h2V1051.7h-2zM1162 1039.2h2V1041.7h-2zM1162 1029.2h2V1031.7h-2zM1162 1024.2h2V1026.7h-2zM1162 1009.2h2V1011.7h-2zM1162 1001.7h2V1004.2h-2zM1162 996.7h2V999.2h-2zM1162 991.7h2V994.2h-2zM1162 974.2h2V976.7h-2zM1162 970.0h2V971.7h-2zM1164 1097.2h2V1106.2h-2zM1164 1061.7h2V1063.2h-2zM1164 1056.7h2V1059.2h-2zM1164 1051.7h2V1054.2h-2zM1164 1044.2h2V1049.2h-2zM1164 1036.7h2V1041.7h-2zM1164 1031.7h2V1034.2h-2zM1164 1016.7h2V1021.7h-2zM1164 1009.2h2V1011.7h-2zM1164 1001.7h2V1004.2h-2zM1164 989.2h2V991.7h-2zM1164 981.7h2V984.2h-2zM1164 976.7h2V979.2h-2zM1164 970.0h2V971.7h-2zM1166 1086.0h2V1090.9h-2zM1166 1078.5h2V1081.9h-2zM1166 1070.7h2V1073.0h-2zM1166 1041.7h2V1049.2h-2zM1166 1024.2h2V1026.7h-2zM1166 1014.2h2V1016.7h-2zM1166 999.2h2V1001.7h-2zM1166 989.2h2V991.7h-2zM1166 976.7h2V979.2h-2zM1168 1106.2h2V1121.5h-2zM1168 1078.5h2V1081.9h-2zM1168 1073.0h2V1075.6h-2zM1168 1054.2h2V1056.7h-2zM1168 1041.7h2V1044.2h-2zM1168 1034.2h2V1036.7h-2zM1168 1004.2h2V1006.7h-2zM1168 991.7h2V996.7h-2zM1168 974.2h2V979.2h-2zM1168 970.0h2V971.7h-2zM1170 1073.0h2V1075.6h-2zM1170 1059.2h2V1061.7h-2zM1170 1054.2h2V1056.7h-2zM1170 1026.7h2V1029.2h-2zM1170 1016.7h2V1019.2h-2zM1170 1006.7h2V1011.7h-2zM1170 994.2h2V999.2h-2zM1170 984.2h2V986.7h-2zM1170 979.2h2V981.7h-2zM1170 970.0h2V971.7h-2zM1172 1106.2h2V1121.5h-2zM1172 1075.6h2V1078.5h-2zM1172 1064.9h2V1066.6h-2zM1172 1051.7h2V1054.2h-2zM1172 1046.7h2V1049.2h-2zM1172 1029.2h2V1034.2h-2zM1172 1014.2h2V1019.2h-2zM1172 1001.7h2V1004.2h-2zM1172 989.2h2V991.7h-2zM1172 979.2h2V981.7h-2zM1172 974.2h2V976.7h-2zM1174 1097.2h2V1121.5h-2zM1174 1086.0h2V1090.9h-2zM1174 1073.0h2V1081.9h-2zM1174 1066.6h2V1068.5h-2zM1174 1061.7h2V1064.9h-2zM1174 1049.2h2V1051.7h-2zM1174 1044.2h2V1046.7h-2zM1174 1034.2h2V1041.7h-2zM1174 1014.2h2V1019.2h-2zM1174 1009.2h2V1011.7h-2zM1174 996.7h2V1004.2h-2zM1174 970.0h2V974.2h-2zM1176 1078.5h2V1081.9h-2zM1176 1064.9h2V1066.6h-2zM1176 1059.2h2V1061.7h-2zM1176 1049.2h2V1051.7h-2zM1176 1036.7h2V1039.2h-2zM1176 1026.7h2V1031.7h-2zM1176 1016.7h2V1021.7h-2zM1176 1011.7h2V1014.2h-2zM1176 1006.7h2V1009.2h-2zM1176 1001.7h2V1004.2h-2zM1176 989.2h2V991.7h-2zM1176 981.7h2V984.2h-2zM1176 970.0h2V971.7h-2zM1178 1081.9h2V1086.0h-2zM1178 1068.5h2V1070.7h-2zM1178 1064.9h2V1066.6h-2zM1178 1034.2h2V1036.7h-2zM1178 1024.2h2V1029.2h-2zM1178 1016.7h2V1019.2h-2zM1178 1011.7h2V1014.2h-2zM1178 1004.2h2V1006.7h-2zM1178 991.7h2V994.2h-2zM1178 976.7h2V979.2h-2zM1178 970.0h2V971.7h-2zM1180 1064.9h2V1066.6h-2zM1180 1056.7h2V1061.7h-2zM1180 1044.2h2V1046.7h-2zM1180 1024.2h2V1029.2h-2zM1180 1011.7h2V1016.7h-2zM1180 976.7h2V981.7h-2zM1182 1086.0h2V1097.2h-2zM1182 1068.5h2V1073.0h-2zM1182 1063.2h2V1064.9h-2zM1182 1056.7h2V1061.7h-2zM1182 1036.7h2V1039.2h-2zM1182 1029.2h2V1031.7h-2zM1182 1006.7h2V1009.2h-2zM1182 999.2h2V1001.7h-2zM1182 984.2h2V986.7h-2zM1182 976.7h2V979.2h-2zM1184 1070.7h2V1075.6h-2zM1184 1064.9h2V1066.6h-2zM1184 1046.7h2V1051.7h-2zM1184 1034.2h2V1036.7h-2zM1184 1029.2h2V1031.7h-2zM1184 1011.7h2V1019.2h-2zM1184 1006.7h2V1009.2h-2zM1184 999.2h2V1001.7h-2zM1184 989.2h2V994.2h-2zM1184 974.2h2V979.2h-2zM1186 1106.2h2V1121.5h-2zM1186 1086.0h2V1090.9h-2zM1186 1073.0h2V1081.9h-2zM1186 1063.2h2V1064.9h-2zM1186 1056.7h2V1061.7h-2zM1186 1049.2h2V1051.7h-2zM1186 1041.7h2V1046.7h-2zM1186 1034.2h2V1036.7h-2zM1186 1019.2h2V1021.7h-2zM1186 1011.7h2V1016.7h-2zM1186 1001.7h2V1004.2h-2zM1186 986.7h2V989.2h-2zM1186 979.2h2V981.7h-2zM1188 1090.9h2V1097.2h-2zM1188 1075.6h2V1078.5h-2zM1188 1070.7h2V1073.0h-2zM1188 1066.6h2V1068.5h-2zM1188 1059.2h2V1061.7h-2zM1188 1051.7h2V1054.2h-2zM1188 1044.2h2V1049.2h-2zM1188 1031.7h2V1036.7h-2zM1188 1019.2h2V1024.2h-2zM1188 1011.7h2V1014.2h-2zM1188 1006.7h2V1009.2h-2zM1188 996.7h2V1004.2h-2zM1188 986.7h2V989.2h-2zM1190 1086.0h2V1090.9h-2zM1190 1056.7h2V1061.7h-2zM1190 1051.7h2V1054.2h-2zM1190 1046.7h2V1049.2h-2zM1190 1034.2h2V1036.7h-2zM1190 1026.7h2V1031.7h-2zM1190 1019.2h2V1024.2h-2zM1190 1004.2h2V1014.2h-2zM1190 999.2h2V1001.7h-2zM1190 984.2h2V986.7h-2zM1190 970.0h2V971.7h-2zM1192 1075.6h2V1078.5h-2zM1192 1061.7h2V1064.9h-2zM1192 1046.7h2V1049.2h-2zM1192 1029.2h2V1031.7h-2zM1192 1024.2h2V1026.7h-2zM1192 1016.7h2V1019.2h-2zM1192 1004.2h2V1006.7h-2zM1192 991.7h2V994.2h-2zM1192 970.0h2V971.7h-2zM1194 1097.2h2V1106.2h-2zM1194 1075.6h2V1078.5h-2zM1194 1049.2h2V1059.2h-2zM1194 1031.7h2V1034.2h-2zM1194 1011.7h2V1014.2h-2zM1194 1004.2h2V1006.7h-2zM1194 999.2h2V1001.7h-2zM1194 986.7h2V994.2h-2zM1194 976.7h2V979.2h-2zM1196 1066.6h2V1068.5h-2zM1196 1054.2h2V1061.7h-2zM1196 1041.7h2V1046.7h-2zM1196 1026.7h2V1029.2h-2zM1196 1009.2h2V1011.7h-2zM1196 1004.2h2V1006.7h-2zM1196 999.2h2V1001.7h-2zM1196 984.2h2V986.7h-2zM1198 1078.5h2V1081.9h-2zM1198 1073.0h2V1075.6h-2zM1198 1051.7h2V1054.2h-2zM1198 1041.7h2V1049.2h-2zM1198 1026.7h2V1029.2h-2zM1198 1021.7h2V1024.2h-2zM1198 1014.2h2V1016.7h-2zM1198 1004.2h2V1006.7h-2zM1198 986.7h2V989.2h-2zM1200 1070.7h2V1073.0h-2zM1200 1051.7h2V1054.2h-2zM1200 1041.7h2V1044.2h-2zM1200 1026.7h2V1029.2h-2zM1200 1014.2h2V1024.2h-2zM1200 1001.7h2V1006.7h-2zM1200 991.7h2V999.2h-2zM1200 984.2h2V986.7h-2zM1200 970.0h2V979.2h-2zM1202 1063.2h2V1064.9h-2zM1202 1054.2h2V1056.7h-2zM1202 1039.2h2V1041.7h-2zM1202 1031.7h2V1036.7h-2zM1202 1021.7h2V1024.2h-2zM1202 1016.7h2V1019.2h-2zM1202 1009.2h2V1011.7h-2zM1202 981.7h2V984.2h-2zM1202 971.7h2V974.2h-2zM1204 1081.9h2V1097.2h-2zM1204 1070.7h2V1073.0h-2zM1204 1061.7h2V1064.9h-2zM1204 1051.7h2V1056.7h-2zM1204 1044.2h2V1046.7h-2zM1204 1039.2h2V1041.7h-2zM1204 1034.2h2V1036.7h-2zM1204 1006.7h2V1009.2h-2zM1204 994.2h2V1001.7h-2zM1204 989.2h2V991.7h-2zM1204 971.7h2V976.7h-2zM1206 1090.9h2V1097.2h-2zM1206 1081.9h2V1086.0h-2zM1206 1068.5h2V1070.7h-2zM1206 1041.7h2V1044.2h-2zM1206 1036.7h2V1039.2h-2zM1206 1024.2h2V1029.2h-2zM1206 1019.2h2V1021.7h-2zM1206 1011.7h2V1014.2h-2zM1206 1001.7h2V1006.7h-2zM1206 989.2h2V991.7h-2zM1206 984.2h2V986.7h-2zM1206 979.2h2V981.7h-2zM1208 1073.0h2V1075.6h-2zM1208 1059.2h2V1064.9h-2zM1208 1051.7h2V1056.7h-2zM1208 1031.7h2V1036.7h-2zM1208 1024.2h2V1026.7h-2zM1208 1009.2h2V1016.7h-2zM1208 1004.2h2V1006.7h-2zM1208 991.7h2V994.2h-2zM1208 970.0h2V971.7h-2zM1210 1070.7h2V1073.0h-2zM1210 1064.9h2V1066.6h-2zM1210 1061.7h2V1063.2h-2zM1210 1044.2h2V1046.7h-2zM1210 1029.2h2V1031.7h-2zM1210 1019.2h2V1026.7h-2zM1210 1011.7h2V1014.2h-2zM1210 1006.7h2V1009.2h-2zM1210 999.2h2V1004.2h-2zM1210 989.2h2V991.7h-2zM1210 981.7h2V984.2h-2zM1210 976.7h2V979.2h-2zM1210 971.7h2V974.2h-2zM1212 1086.0h2V1090.9h-2zM1212 1070.7h2V1075.6h-2zM1212 1049.2h2V1051.7h-2zM1212 1024.2h2V1026.7h-2zM1212 1009.2h2V1019.2h-2zM1212 996.7h2V999.2h-2zM1212 989.2h2V991.7h-2zM1212 981.7h2V986.7h-2zM1214 1090.9h2V1121.5h-2zM1214 1066.6h2V1070.7h-2zM1214 1046.7h2V1056.7h-2zM1214 1029.2h2V1031.7h-2zM1214 1019.2h2V1024.2h-2zM1214 1006.7h2V1009.2h-2zM1214 994.2h2V996.7h-2zM1214 986.7h2V989.2h-2zM1214 974.2h2V979.2h-2zM1216 1090.9h2V1106.2h-2zM1216 1073.0h2V1075.6h-2zM1216 1066.6h2V1070.7h-2zM1216 1056.7h2V1061.7h-2zM1216 1051.7h2V1054.2h-2zM1216 1036.7h2V1039.2h-2zM1216 1029.2h2V1034.2h-2zM1216 1024.2h2V1026.7h-2zM1216 1016.7h2V1021.7h-2zM1216 991.7h2V994.2h-2zM1216 981.7h2V989.2h-2zM1216 976.7h2V979.2h-2zM1218 1059.2h2V1061.7h-2zM1218 1044.2h2V1046.7h-2zM1218 1019.2h2V1021.7h-2zM1218 984.2h2V986.7h-2zM1218 971.7h2V974.2h-2zM1220 1041.7h2V1046.7h-2zM1220 1024.2h2V1026.7h-2zM1220 1016.7h2V1019.2h-2zM1220 1001.7h2V1006.7h-2zM1220 991.7h2V994.2h-2zM1220 976.7h2V981.7h-2zM1222 1064.9h2V1066.6h-2zM1222 1031.7h2V1034.2h-2zM1222 1026.7h2V1029.2h-2zM1222 1019.2h2V1021.7h-2zM1222 1011.7h2V1014.2h-2zM1222 1001.7h2V1004.2h-2zM1222 986.7h2V996.7h-2zM1224 1064.9h2V1066.6h-2zM1224 1059.2h2V1061.7h-2zM1224 1051.7h2V1056.7h-2zM1224 1034.2h2V1036.7h-2zM1224 1019.2h2V1021.7h-2zM1224 1009.2h2V1014.2h-2zM1224 994.2h2V996.7h-2zM1224 981.7h2V984.2h-2zM1224 976.7h2V979.2h-2zM1224 970.0h2V971.7h-2zM1226 1066.6h2V1068.5h-2zM1226 1041.7h2V1044.2h-2zM1226 1034.2h2V1036.7h-2zM1226 1021.7h2V1024.2h-2zM1226 1016.7h2V1019.2h-2zM1226 1001.7h2V1006.7h-2zM1226 994.2h2V999.2h-2zM1226 984.2h2V986.7h-2zM1226 971.7h2V974.2h-2zM1228 1075.6h2V1078.5h-2zM1228 1051.7h2V1054.2h-2zM1228 1046.7h2V1049.2h-2zM1228 1041.7h2V1044.2h-2zM1228 1024.2h2V1026.7h-2zM1228 1019.2h2V1021.7h-2zM1228 1009.2h2V1011.7h-2zM1228 991.7h2V994.2h-2zM1228 981.7h2V984.2h-2zM1230 1036.7h2V1039.2h-2zM1230 1029.2h2V1031.7h-2zM1230 1016.7h2V1019.2h-2zM1230 1006.7h2V1009.2h-2zM1230 1001.7h2V1004.2h-2zM1230 984.2h2V986.7h-2zM1230 979.2h2V981.7h-2zM1230 970.0h2V971.7h-2zM1232 1034.2h2V1036.7h-2zM1232 1021.7h2V1024.2h-2zM1232 1011.7h2V1016.7h-2zM1232 1004.2h2V1006.7h-2zM1232 986.7h2V989.2h-2zM1234 1073.0h2V1075.6h-2zM1234 1041.7h2V1044.2h-2zM1234 1026.7h2V1029.2h-2zM1234 1011.7h2V1014.2h-2zM1234 999.2h2V1006.7h-2zM1234 981.7h2V984.2h-2zM1234 976.7h2V979.2h-2zM1234 971.7h2V974.2h-2zM1236 1051.7h2V1056.7h-2zM1236 1044.2h2V1046.7h-2zM1236 1036.7h2V1041.7h-2zM1236 1024.2h2V1026.7h-2zM1236 1009.2h2V1011.7h-2zM1236 999.2h2V1001.7h-2zM1236 991.7h2V996.7h-2zM1236 970.0h2V974.2h-2zM1238 1059.2h2V1061.7h-2zM1238 1054.2h2V1056.7h-2zM1238 1039.2h2V1041.7h-2zM1238 1016.7h2V1019.2h-2zM1238 996.7h2V1004.2h-2zM1238 971.7h2V981.7h-2zM1240 1054.2h2V1056.7h-2zM1240 1011.7h2V1014.2h-2zM1240 999.2h2V1001.7h-2zM1240 986.7h2V989.2h-2zM1240 976.7h2V981.7h-2zM1240 970.0h2V974.2h-2zM1242 1054.2h2V1056.7h-2zM1242 1026.7h2V1029.2h-2zM1242 999.2h2V1001.7h-2zM1242 994.2h2V996.7h-2zM1242 976.7h2V981.7h-2zM1244 1031.7h2V1034.2h-2zM1244 1011.7h2V1016.7h-2zM1244 979.2h2V981.7h-2zM1246 1036.7h2V1039.2h-2zM1246 1021.7h2V1024.2h-2zM1246 1006.7h2V1009.2h-2zM1246 996.7h2V999.2h-2zM1246 989.2h2V991.7h-2zM1246 974.2h2V979.2h-2zM1248 1073.0h2V1075.6h-2zM1248 1063.2h2V1064.9h-2zM1248 1056.7h2V1059.2h-2zM1248 1041.7h2V1051.7h-2zM1248 1031.7h2V1034.2h-2zM1248 1011.7h2V1014.2h-2zM1248 999.2h2V1001.7h-2zM1248 994.2h2V996.7h-2zM1248 979.2h2V981.7h-2zM1248 974.2h2V976.7h-2zM1250 1021.7h2V1024.2h-2zM1250 1004.2h2V1009.2h-2zM1250 986.7h2V989.2h-2zM1250 979.2h2V984.2h-2zM1252 1064.9h2V1066.6h-2zM1252 1034.2h2V1036.7h-2zM1252 1029.2h2V1031.7h-2zM1252 999.2h2V1001.7h-2zM1252 974.2h2V976.7h-2zM1254 1034.2h2V1039.2h-2zM1254 1029.2h2V1031.7h-2zM1254 1016.7h2V1019.2h-2zM1254 1006.7h2V1011.7h-2zM1254 994.2h2V1001.7h-2zM1254 974.2h2V979.2h-2zM1256 1016.7h2V1019.2h-2zM1256 1011.7h2V1014.2h-2zM1256 1006.7h2V1009.2h-2zM1256 994.2h2V1001.7h-2zM1256 986.7h2V989.2h-2zM1256 981.7h2V984.2h-2zM1258 1049.2h2V1051.7h-2zM1258 1019.2h2V1021.7h-2zM1258 1011.7h2V1014.2h-2zM1258 1001.7h2V1004.2h-2zM1258 984.2h2V989.2h-2zM1260 1056.7h2V1059.2h-2zM1260 1051.7h2V1054.2h-2zM1260 1029.2h2V1031.7h-2zM1260 1021.7h2V1026.7h-2zM1260 1016.7h2V1019.2h-2zM1260 1011.7h2V1014.2h-2zM1260 1004.2h2V1006.7h-2zM1260 991.7h2V999.2h-2zM1260 971.7h2V974.2h-2zM1262 1046.7h2V1049.2h-2zM1262 1026.7h2V1029.2h-2zM1262 1014.2h2V1016.7h-2zM1262 989.2h2V994.2h-2zM1262 971.7h2V974.2h-2zM1264 996.7h2V999.2h-2zM1264 989.2h2V991.7h-2zM1264 979.2h2V981.7h-2zM1266 1014.2h2V1019.2h-2zM1266 984.2h2V986.7h-2zM1266 974.2h2V976.7h-2zM1268 984.2h2V989.2h-2zM1268 979.2h2V981.7h-2zM1268 974.2h2V976.7h-2zM1270 1059.2h2V1061.7h-2zM1270 1054.2h2V1056.7h-2zM1270 1024.2h2V1026.7h-2zM1270 1019.2h2V1021.7h-2zM1270 1001.7h2V1004.2h-2zM1270 991.7h2V996.7h-2zM1270 981.7h2V986.7h-2zM1270 976.7h2V979.2h-2zM1272 1075.6h2V1078.5h-2zM1272 1054.2h2V1059.2h-2zM1272 1046.7h2V1049.2h-2zM1272 1006.7h2V1014.2h-2zM1272 994.2h2V999.2h-2zM1272 981.7h2V984.2h-2zM1272 976.7h2V979.2h-2zM1272 971.7h2V974.2h-2zM1274 1026.7h2V1029.2h-2zM1274 1014.2h2V1019.2h-2zM1274 1001.7h2V1004.2h-2zM1274 991.7h2V994.2h-2zM1274 984.2h2V986.7h-2zM1274 979.2h2V981.7h-2zM1274 974.2h2V976.7h-2zM1274 970.0h2V971.7h-2zM1276 1039.2h2V1041.7h-2zM1276 1029.2h2V1031.7h-2zM1276 1014.2h2V1016.7h-2zM1276 974.2h2V976.7h-2zM1276 970.0h2V971.7h-2zM1278 1054.2h2V1059.2h-2zM1278 1044.2h2V1046.7h-2zM1278 1036.7h2V1039.2h-2zM1278 1021.7h2V1024.2h-2zM1278 1009.2h2V1019.2h-2zM1278 984.2h2V986.7h-2zM1280 1051.7h2V1054.2h-2zM1280 1014.2h2V1016.7h-2zM1280 1009.2h2V1011.7h-2zM1280 970.0h2V974.2h-2zM1282 1014.2h2V1019.2h-2zM1282 1009.2h2V1011.7h-2zM1282 996.7h2V999.2h-2zM1282 986.7h2V994.2h-2zM1282 976.7h2V979.2h-2zM1282 971.7h2V974.2h-2zM1284 1031.7h2V1034.2h-2zM1284 1016.7h2V1019.2h-2zM1284 986.7h2V989.2h-2zM1284 979.2h2V981.7h-2zM1288 1004.2h2V1006.7h-2zM1288 991.7h2V994.2h-2zM1288 986.7h2V989.2h-2zM1288 979.2h2V981.7h-2zM1288 974.2h2V976.7h-2zM1290 1064.9h2V1066.6h-2zM1290 1051.7h2V1056.7h-2zM1290 1046.7h2V1049.2h-2zM1290 1039.2h2V1041.7h-2zM1290 1026.7h2V1036.7h-2zM1290 999.2h2V1004.2h-2zM1290 994.2h2V996.7h-2zM1290 989.2h2V991.7h-2zM1290 979.2h2V984.2h-2zM1292 1034.2h2V1036.7h-2zM1292 1016.7h2V1019.2h-2zM1292 1009.2h2V1011.7h-2zM1292 1001.7h2V1004.2h-2zM1292 994.2h2V996.7h-2zM1292 979.2h2V984.2h-2zM1294 1046.7h2V1049.2h-2zM1294 1011.7h2V1014.2h-2zM1294 999.2h2V1001.7h-2zM1294 971.7h2V974.2h-2zM1296 1051.7h2V1054.2h-2zM1296 1029.2h2V1031.7h-2zM1296 1004.2h2V1006.7h-2zM1296 991.7h2V994.2h-2zM1296 976.7h2V981.7h-2zM1298 1046.7h2V1054.2h-2zM1298 1034.2h2V1036.7h-2zM1298 1009.2h2V1011.7h-2zM1298 989.2h2V991.7h-2zM1298 984.2h2V986.7h-2zM1298 970.0h2V974.2h-2zM1300 1061.7h2V1063.2h-2zM1300 1046.7h2V1049.2h-2zM1300 1041.7h2V1044.2h-2zM1300 1036.7h2V1039.2h-2zM1300 1009.2h2V1011.7h-2zM1300 991.7h2V994.2h-2zM1300 971.7h2V974.2h-2zM1302 1039.2h2V1041.7h-2zM1302 999.2h2V1004.2h-2zM1302 994.2h2V996.7h-2zM1302 981.7h2V984.2h-2zM1302 976.7h2V979.2h-2zM1302 970.0h2V971.7h-2zM1304 1009.2h2V1016.7h-2zM1304 984.2h2V986.7h-2zM1304 971.7h2V974.2h-2zM1306 1036.7h2V1039.2h-2zM1306 1024.2h2V1026.7h-2zM1306 1016.7h2V1021.7h-2zM1306 1011.7h2V1014.2h-2zM1306 1006.7h2V1009.2h-2zM1306 984.2h2V986.7h-2zM1306 979.2h2V981.7h-2zM1306 970.0h2V971.7h-2zM1308 1024.2h2V1029.2h-2zM1308 1019.2h2V1021.7h-2zM1308 1014.2h2V1016.7h-2zM1308 1006.7h2V1011.7h-2zM1308 999.2h2V1001.7h-2zM1308 994.2h2V996.7h-2zM1308 979.2h2V981.7h-2zM1308 971.7h2V974.2h-2zM1310 1039.2h2V1041.7h-2zM1310 996.7h2V999.2h-2zM1310 981.7h2V989.2h-2zM1312 1064.9h2V1066.6h-2zM1312 1044.2h2V1049.2h-2zM1312 1034.2h2V1036.7h-2zM1312 1026.7h2V1031.7h-2zM1312 1004.2h2V1006.7h-2zM1312 996.7h2V999.2h-2zM1312 989.2h2V991.7h-2zM1312 971.7h2V974.2h-2zM1314 1044.2h2V1046.7h-2zM1314 1031.7h2V1034.2h-2zM1314 1024.2h2V1026.7h-2zM1314 1019.2h2V1021.7h-2zM1314 991.7h2V999.2h-2zM1314 986.7h2V989.2h-2zM1316 1026.7h2V1029.2h-2zM1316 994.2h2V996.7h-2zM1316 976.7h2V979.2h-2zM1318 1016.7h2V1019.2h-2zM1318 1004.2h2V1006.7h-2zM1318 986.7h2V989.2h-2zM1318 976.7h2V981.7h-2zM1320 1021.7h2V1024.2h-2zM1320 994.2h2V999.2h-2zM1320 984.2h2V986.7h-2zM1322 1034.2h2V1036.7h-2zM1322 1026.7h2V1031.7h-2zM1322 1006.7h2V1009.2h-2zM1322 1001.7h2V1004.2h-2zM1322 991.7h2V996.7h-2zM1322 976.7h2V979.2h-2zM1322 971.7h2V974.2h-2zM1324 1068.5h2V1070.7h-2zM1324 1056.7h2V1061.7h-2zM1324 1051.7h2V1054.2h-2zM1324 1029.2h2V1034.2h-2zM1324 1024.2h2V1026.7h-2zM1324 1019.2h2V1021.7h-2zM1324 1014.2h2V1016.7h-2zM1324 1001.7h2V1006.7h-2zM1324 994.2h2V996.7h-2zM1324 984.2h2V991.7h-2zM1324 976.7h2V979.2h-2zM1326 1054.2h2V1056.7h-2zM1326 1039.2h2V1041.7h-2zM1326 1021.7h2V1026.7h-2zM1326 1011.7h2V1014.2h-2zM1326 1004.2h2V1006.7h-2zM1326 984.2h2V986.7h-2zM1328 1051.7h2V1054.2h-2zM1328 1036.7h2V1039.2h-2zM1328 1019.2h2V1021.7h-2zM1328 1011.7h2V1014.2h-2zM1328 999.2h2V1001.7h-2zM1328 989.2h2V991.7h-2zM1328 981.7h2V984.2h-2zM1330 1034.2h2V1036.7h-2zM1330 1011.7h2V1014.2h-2zM1330 994.2h2V996.7h-2zM1330 979.2h2V984.2h-2zM1330 970.0h2V974.2h-2zM1332 1051.7h2V1054.2h-2zM1332 1019.2h2V1021.7h-2zM1332 994.2h2V996.7h-2zM1332 971.7h2V974.2h-2zM1334 1059.2h2V1061.7h-2zM1334 1049.2h2V1051.7h-2zM1334 1011.7h2V1014.2h-2zM1334 1004.2h2V1006.7h-2zM1334 994.2h2V996.7h-2zM1334 989.2h2V991.7h-2zM1334 981.7h2V984.2h-2zM1334 971.7h2V974.2h-2zM1336 1016.7h2V1019.2h-2zM1336 979.2h2V981.7h-2zM1338 1049.2h2V1051.7h-2zM1338 1041.7h2V1044.2h-2zM1338 1019.2h2V1021.7h-2zM1338 1011.7h2V1014.2h-2zM1338 1004.2h2V1006.7h-2zM1338 994.2h2V996.7h-2zM1338 981.7h2V986.7h-2zM1340 1041.7h2V1044.2h-2zM1340 1029.2h2V1031.7h-2zM1340 1006.7h2V1009.2h-2zM1340 999.2h2V1004.2h-2zM1340 994.2h2V996.7h-2zM1340 981.7h2V984.2h-2zM1340 970.0h2V971.7h-2zM1342 1049.2h2V1051.7h-2zM1342 1024.2h2V1026.7h-2zM1342 1019.2h2V1021.7h-2zM1342 1011.7h2V1014.2h-2zM1342 1006.7h2V1009.2h-2zM1344 1044.2h2V1046.7h-2zM1344 1021.7h2V1026.7h-2zM1344 1001.7h2V1004.2h-2zM1344 989.2h2V991.7h-2zM1344 976.7h2V981.7h-2zM1344 971.7h2V974.2h-2zM1346 1068.5h2V1070.7h-2zM1346 1056.7h2V1059.2h-2zM1346 1041.7h2V1044.2h-2zM1346 1036.7h2V1039.2h-2zM1346 1024.2h2V1026.7h-2zM1346 979.2h2V984.2h-2zM1346 971.7h2V974.2h-2zM1348 1070.7h2V1073.0h-2zM1348 1054.2h2V1059.2h-2zM1348 1049.2h2V1051.7h-2zM1348 1044.2h2V1046.7h-2zM1348 1039.2h2V1041.7h-2zM1348 1024.2h2V1029.2h-2zM1348 1019.2h2V1021.7h-2zM1348 1004.2h2V1009.2h-2zM1348 991.7h2V996.7h-2zM1348 970.0h2V974.2h-2zM1350 1081.9h2V1086.0h-2zM1350 1064.9h2V1066.6h-2zM1350 1061.7h2V1063.2h-2zM1350 1041.7h2V1046.7h-2zM1350 1024.2h2V1026.7h-2zM1350 1009.2h2V1011.7h-2zM1350 996.7h2V1001.7h-2zM1350 976.7h2V984.2h-2zM1350 971.7h2V974.2h-2zM1352 1081.9h2V1086.0h-2zM1352 1059.2h2V1063.2h-2zM1352 1054.2h2V1056.7h-2zM1352 1041.7h2V1044.2h-2zM1352 1034.2h2V1036.7h-2zM1352 1024.2h2V1029.2h-2zM1352 1016.7h2V1019.2h-2zM1352 1011.7h2V1014.2h-2zM1352 1004.2h2V1006.7h-2zM1352 994.2h2V996.7h-2zM1352 984.2h2V986.7h-2zM1352 979.2h2V981.7h-2zM1354 1078.5h2V1081.9h-2zM1354 1056.7h2V1059.2h-2zM1354 1051.7h2V1054.2h-2zM1354 1039.2h2V1041.7h-2zM1354 1014.2h2V1016.7h-2zM1354 1001.7h2V1004.2h-2zM1354 981.7h2V984.2h-2zM1354 970.0h2V971.7h-2zM1356 1034.2h2V1036.7h-2zM1356 1014.2h2V1024.2h-2zM1356 996.7h2V999.2h-2zM1356 989.2h2V991.7h-2zM1356 979.2h2V984.2h-2zM1356 974.2h2V976.7h-2zM1358 1006.7h2V1009.2h-2zM1358 1001.7h2V1004.2h-2zM1358 991.7h2V994.2h-2zM1358 984.2h2V986.7h-2zM1360 1090.9h2V1097.2h-2zM1360 1068.5h2V1070.7h-2zM1360 1039.2h2V1041.7h-2zM1360 1031.7h2V1034.2h-2zM1360 1016.7h2V1021.7h-2zM1360 991.7h2V996.7h-2zM1360 986.7h2V989.2h-2zM1360 979.2h2V981.7h-2zM1360 974.2h2V976.7h-2zM1362 1051.7h2V1054.2h-2zM1362 1039.2h2V1041.7h-2zM1362 1034.2h2V1036.7h-2zM1362 1026.7h2V1029.2h-2zM1362 1014.2h2V1021.7h-2zM1362 991.7h2V994.2h-2zM1362 984.2h2V986.7h-2zM1364 1063.2h2V1064.9h-2zM1364 1049.2h2V1051.7h-2zM1364 1029.2h2V1034.2h-2zM1364 1021.7h2V1024.2h-2zM1364 999.2h2V1016.7h-2zM1364 994.2h2V996.7h-2zM1364 984.2h2V989.2h-2zM1364 976.7h2V981.7h-2zM1364 970.0h2V971.7h-2zM1366 1044.2h2V1046.7h-2zM1366 1031.7h2V1034.2h-2zM1366 1024.2h2V1026.7h-2zM1366 1014.2h2V1016.7h-2zM1366 1004.2h2V1006.7h-2zM1366 976.7h2V981.7h-2zM1368 1051.7h2V1054.2h-2zM1368 1024.2h2V1026.7h-2zM1368 1016.7h2V1019.2h-2zM1368 976.7h2V984.2h-2zM1368 971.7h2V974.2h-2zM1370 1019.2h2V1024.2h-2zM1370 1011.7h2V1016.7h-2zM1370 1001.7h2V1004.2h-2zM1370 991.7h2V994.2h-2zM1370 981.7h2V989.2h-2zM1370 976.7h2V979.2h-2zM1370 970.0h2V971.7h-2zM1372 1056.7h2V1059.2h-2zM1372 1051.7h2V1054.2h-2zM1372 1041.7h2V1049.2h-2zM1372 1021.7h2V1024.2h-2zM1372 1014.2h2V1016.7h-2zM1372 1006.7h2V1009.2h-2zM1372 1001.7h2V1004.2h-2zM1372 996.7h2V999.2h-2zM1372 981.7h2V984.2h-2zM1374 1011.7h2V1014.2h-2zM1374 1004.2h2V1006.7h-2zM1374 996.7h2V1001.7h-2zM1374 991.7h2V994.2h-2zM1374 979.2h2V984.2h-2zM1374 974.2h2V976.7h-2zM1376 1059.2h2V1061.7h-2zM1376 1036.7h2V1039.2h-2zM1376 1029.2h2V1031.7h-2zM1376 1016.7h2V1019.2h-2zM1376 1011.7h2V1014.2h-2zM1376 1004.2h2V1006.7h-2zM1376 996.7h2V999.2h-2zM1376 984.2h2V986.7h-2zM1378 1086.0h2V1090.9h-2zM1378 1026.7h2V1031.7h-2zM1378 1006.7h2V1016.7h-2zM1378 986.7h2V989.2h-2zM1378 974.2h2V976.7h-2zM1380 1041.7h2V1044.2h-2zM1380 1011.7h2V1019.2h-2zM1380 989.2h2V991.7h-2zM1380 971.7h2V979.2h-2zM1382 1049.2h2V1051.7h-2zM1382 1034.2h2V1036.7h-2zM1382 1019.2h2V1021.7h-2zM1382 1014.2h2V1016.7h-2zM1382 1006.7h2V1009.2h-2zM1382 1001.7h2V1004.2h-2zM1382 994.2h2V999.2h-2zM1382 986.7h2V989.2h-2zM1382 981.7h2V984.2h-2zM1384 1054.2h2V1056.7h-2zM1384 1026.7h2V1029.2h-2zM1384 1016.7h2V1019.2h-2zM1384 1011.7h2V1014.2h-2zM1384 999.2h2V1001.7h-2zM1384 994.2h2V996.7h-2zM1384 984.2h2V986.7h-2zM1384 979.2h2V981.7h-2zM1384 971.7h2V974.2h-2zM1386 1056.7h2V1059.2h-2zM1386 1031.7h2V1034.2h-2zM1386 1024.2h2V1026.7h-2zM1386 1019.2h2V1021.7h-2zM1386 1011.7h2V1014.2h-2zM1386 1006.7h2V1009.2h-2zM1386 994.2h2V996.7h-2zM1386 986.7h2V991.7h-2zM1386 970.0h2V971.7h-2zM1388 1041.7h2V1044.2h-2zM1388 1024.2h2V1026.7h-2zM1388 999.2h2V1001.7h-2zM1388 994.2h2V996.7h-2zM1388 989.2h2V991.7h-2zM1388 984.2h2V986.7h-2zM1388 970.0h2V981.7h-2zM1390 1031.7h2V1034.2h-2zM1390 1011.7h2V1014.2h-2zM1390 999.2h2V1001.7h-2zM1390 991.7h2V996.7h-2zM1390 984.2h2V986.7h-2zM1390 979.2h2V981.7h-2zM1392 1039.2h2V1041.7h-2zM1392 1011.7h2V1014.2h-2zM1392 1004.2h2V1006.7h-2zM1392 996.7h2V999.2h-2zM1392 989.2h2V991.7h-2zM1392 981.7h2V984.2h-2zM1392 970.0h2V974.2h-2zM1394 1029.2h2V1031.7h-2zM1394 1021.7h2V1024.2h-2zM1394 1014.2h2V1016.7h-2zM1394 1004.2h2V1006.7h-2zM1394 996.7h2V999.2h-2zM1394 979.2h2V984.2h-2zM1394 970.0h2V971.7h-2zM1396 1041.7h2V1046.7h-2zM1396 1034.2h2V1036.7h-2zM1396 1009.2h2V1011.7h-2zM1396 989.2h2V994.2h-2zM1396 976.7h2V979.2h-2zM1396 970.0h2V971.7h-2zM1398 1016.7h2V1019.2h-2zM1398 999.2h2V1004.2h-2zM1398 994.2h2V996.7h-2zM1398 984.2h2V989.2h-2zM1398 976.7h2V979.2h-2zM1400 1024.2h2V1026.7h-2zM1400 1019.2h2V1021.7h-2zM1400 1009.2h2V1011.7h-2zM1400 994.2h2V999.2h-2zM1400 989.2h2V991.7h-2zM1402 1086.0h2V1097.2h-2zM1402 1046.7h2V1054.2h-2zM1402 1039.2h2V1041.7h-2zM1402 1029.2h2V1031.7h-2zM1402 1014.2h2V1019.2h-2zM1402 999.2h2V1001.7h-2zM1402 991.7h2V994.2h-2zM1402 984.2h2V986.7h-2zM1402 976.7h2V981.7h-2zM1404 1054.2h2V1056.7h-2zM1404 1046.7h2V1049.2h-2zM1404 1034.2h2V1036.7h-2zM1404 1029.2h2V1031.7h-2zM1404 999.2h2V1001.7h-2zM1404 986.7h2V991.7h-2zM1404 979.2h2V981.7h-2zM1406 1051.7h2V1054.2h-2zM1406 1016.7h2V1019.2h-2zM1406 1006.7h2V1009.2h-2zM1406 999.2h2V1001.7h-2zM1406 986.7h2V989.2h-2zM1406 970.0h2V971.7h-2zM1408 1049.2h2V1051.7h-2zM1408 1026.7h2V1029.2h-2zM1408 1016.7h2V1019.2h-2zM1408 1009.2h2V1011.7h-2zM1408 989.2h2V991.7h-2zM1408 979.2h2V986.7h-2zM1408 970.0h2V971.7h-2zM1410 1039.2h2V1041.7h-2zM1410 1034.2h2V1036.7h-2zM1410 1026.7h2V1029.2h-2zM1410 1021.7h2V1024.2h-2zM1410 1006.7h2V1009.2h-2zM1410 989.2h2V991.7h-2zM1412 1066.6h2V1068.5h-2zM1412 1041.7h2V1044.2h-2zM1412 1006.7h2V1009.2h-2zM1412 996.7h2V999.2h-2zM1414 1054.2h2V1056.7h-2zM1414 1024.2h2V1026.7h-2zM1414 1004.2h2V1006.7h-2zM1414 974.2h2V976.7h-2zM1416 1064.9h2V1066.6h-2zM1416 1039.2h2V1041.7h-2zM1416 1026.7h2V1029.2h-2zM1416 1011.7h2V1014.2h-2zM1416 1001.7h2V1009.2h-2zM1416 994.2h2V996.7h-2zM1418 1001.7h2V1004.2h-2zM1418 989.2h2V999.2h-2zM1418 981.7h2V984.2h-2zM1420 1046.7h2V1051.7h-2zM1420 1019.2h2V1021.7h-2zM1420 1004.2h2V1009.2h-2zM1420 994.2h2V996.7h-2zM1420 970.0h2V971.7h-2zM1422 1068.5h2V1070.7h-2zM1422 1046.7h2V1054.2h-2zM1422 1041.7h2V1044.2h-2zM1422 1024.2h2V1026.7h-2zM1422 1009.2h2V1011.7h-2zM1422 1004.2h2V1006.7h-2zM1424 1063.2h2V1064.9h-2zM1424 1044.2h2V1046.7h-2zM1424 989.2h2V999.2h-2zM1426 1041.7h2V1044.2h-2zM1426 1019.2h2V1024.2h-2zM1426 1009.2h2V1011.7h-2zM1426 1001.7h2V1004.2h-2zM1426 994.2h2V996.7h-2zM1426 989.2h2V991.7h-2zM1426 984.2h2V986.7h-2zM1426 976.7h2V981.7h-2zM1428 1059.2h2V1061.7h-2zM1428 1046.7h2V1049.2h-2zM1428 1014.2h2V1016.7h-2zM1428 1006.7h2V1009.2h-2zM1428 994.2h2V996.7h-2zM1428 986.7h2V989.2h-2zM1428 976.7h2V984.2h-2zM1428 970.0h2V974.2h-2zM1430 1029.2h2V1034.2h-2zM1430 1021.7h2V1026.7h-2zM1430 1014.2h2V1016.7h-2zM1430 989.2h2V991.7h-2zM1430 971.7h2V976.7h-2zM1432 1090.9h2V1097.2h-2zM1432 1075.6h2V1078.5h-2zM1432 1068.5h2V1070.7h-2zM1432 1041.7h2V1044.2h-2zM1432 1026.7h2V1031.7h-2zM1432 1006.7h2V1009.2h-2zM1432 999.2h2V1001.7h-2zM1432 994.2h2V996.7h-2zM1432 986.7h2V989.2h-2zM1432 979.2h2V981.7h-2zM1432 970.0h2V974.2h-2zM1434 1054.2h2V1056.7h-2zM1434 1031.7h2V1034.2h-2zM1434 1016.7h2V1019.2h-2zM1434 999.2h2V1001.7h-2zM1434 986.7h2V989.2h-2zM1434 981.7h2V984.2h-2zM1434 976.7h2V979.2h-2zM1436 1034.2h2V1039.2h-2zM1436 1016.7h2V1019.2h-2zM1436 1006.7h2V1009.2h-2zM1436 989.2h2V994.2h-2zM1436 970.0h2V974.2h-2zM1438 1075.6h2V1078.5h-2zM1438 1051.7h2V1054.2h-2zM1438 1021.7h2V1026.7h-2zM1438 1009.2h2V1011.7h-2zM1438 989.2h2V991.7h-2zM1438 984.2h2V986.7h-2zM1440 1081.9h2V1086.0h-2zM1440 1075.6h2V1078.5h-2zM1440 1059.2h2V1061.7h-2zM1440 1054.2h2V1056.7h-2zM1440 1041.7h2V1049.2h-2zM1440 1031.7h2V1036.7h-2zM1440 1024.2h2V1026.7h-2zM1440 1009.2h2V1019.2h-2zM1440 994.2h2V996.7h-2zM1440 989.2h2V991.7h-2zM1440 981.7h2V986.7h-2zM1442 1041.7h2V1046.7h-2zM1442 1036.7h2V1039.2h-2zM1442 1009.2h2V1011.7h-2zM1442 994.2h2V996.7h-2zM1442 989.2h2V991.7h-2zM1442 979.2h2V984.2h-2zM1444 1056.7h2V1061.7h-2zM1444 1039.2h2V1041.7h-2zM1444 1029.2h2V1031.7h-2zM1444 1016.7h2V1019.2h-2zM1444 1011.7h2V1014.2h-2zM1444 991.7h2V994.2h-2zM1444 976.7h2V979.2h-2zM1446 1066.6h2V1068.5h-2zM1446 1056.7h2V1059.2h-2zM1446 1046.7h2V1051.7h-2zM1446 1034.2h2V1036.7h-2zM1446 1026.7h2V1029.2h-2zM1446 1009.2h2V1011.7h-2zM1446 1004.2h2V1006.7h-2zM1446 996.7h2V1001.7h-2zM1446 986.7h2V989.2h-2z"/>
<path fill="#0000d4" d="M728 1073.0h2V1075.6h-2zM728 1068.5h2V1070.7h-2zM728 1064.9h2V1066.6h-2zM728 1039.2h2V1041.7h-2zM728 1034.2h2V1036.7h-2zM728 1019.2h2V1021.7h-2zM730 1090.9h2V1097.2h-2zM730 1036.7h2V1039.2h-2zM730 1024.2h2V1026.7h-2zM730 1004.2h2V1006.7h-2zM732 1090.9h2V1097.2h-2zM732 1081.9h2V1086.0h-2zM732 1075.6h2V1078.5h-2zM732 1064.9h2V1066.6h-2zM732 1056.7h2V1059.2h-2zM732 1031.7h2V1034.2h-2zM732 1026.7h2V1029.2h-2zM732 999.2h2V1001.7h-2zM732 976.7h2V979.2h-2zM732 971.7h2V974.2h-2zM734 1081.9h2V1086.0h-2zM734 1070.7h2V1075.6h-2zM734 1061.7h2V1063.2h-2zM734 1036.7h2V1039.2h-2zM734 986.7h2V989.2h-2zM734 979.2h2V984.2h-2zM734 974.2h2V976.7h-2zM734 970.0h2V971.7h-2zM736 1059.2h2V1063.2h-2zM736 1036.7h2V1041.7h-2zM736 989.2h2V991.7h-2zM738 1090.9h2V1097.2h-2zM738 1081.9h2V1086.0h-2zM738 1066.6h2V1070.7h-2zM738 1063.2h2V1064.9h-2zM738 1059.2h2V1061.7h-2zM738 1051.7h2V1054.2h-2zM738 1021.7h2V1024.2h-2zM738 994.2h2V996.7h-2zM738 981.7h2V984.2h-2zM738 974.2h2V976.7h-2zM740 1097.2h2V1106.2h-2zM740 1070.7h2V1073.0h-2zM740 1034.2h2V1036.7h-2zM740 1011.7h2V1014.2h-2zM740 981.7h2V984.2h-2zM742 1081.9h2V1090.9h-2zM742 1056.7h2V1059.2h-2zM742 1039.2h2V1041.7h-2zM742 1009.2h2V1011.7h-2zM742 1001.7h2V1004.2h-2zM742 979.2h2V981.7h-2zM744 1044.2h2V1046.7h-2zM744 999.2h2V1001.7h-2zM746 1106.2h2V1121.5h-2zM746 1081.9h2V1090.9h-2zM746 1051.7h2V1056.7h-2zM746 1039.2h2V1044.2h-2zM746 1024.2h2V1026.7h-2zM748 1106.2h2V1121.5h-2zM748 1086.0h2V1090.9h-2zM748 1075.6h2V1078.5h-2zM748 1070.7h2V1073.0h-2zM748 1064.9h2V1066.6h-2zM748 1036.7h2V1039.2h-2zM748 1029.2h2V1031.7h-2zM748 1006.7h2V1009.2h-2zM748 1001.7h2V1004.2h-2zM750 1039.2h2V1041.7h-2zM750 1026.7h2V1029.2h-2zM750 1021.7h2V1024.2h-2zM750 991.7h2V996.7h-2zM752 1090.9h2V1097.2h-2zM752 1078.5h2V1081.9h-2zM752 1064.9h2V1066.6h-2zM752 1056.7h2V1059.2h-2zM752 1004.2h2V1006.7h-2zM752 971.7h2V974.2h-2zM754 1070.7h2V1073.0h-2zM754 1044.2h2V1046.7h-2zM754 981.7h2V984.2h-2zM756 1073.0h2V1075.6h-2zM756 1068.5h2V1070.7h-2zM756 1061.7h2V1063.2h-2zM756 1056.7h2V1059.2h-2zM756 1041.7h2V1046.7h-2zM756 1026.7h2V1031.7h-2zM756 1009.2h2V1014.2h-2zM756 984.2h2V989.2h-2zM756 971.7h2V974.2h-2zM758 1081.9h2V1086.0h-2zM758 1041.7h2V1044.2h-2zM758 1019.2h2V1026.7h-2zM758 1009.2h2V1011.7h-2zM758 986.7h2V994.2h-2zM758 974.2h2V976.7h-2zM760 1090.9h2V1097.2h-2zM760 1063.2h2V1064.9h-2zM760 1034.2h2V1036.7h-2zM760 1029.2h2V1031.7h-2zM760 976.7h2V979.2h-2zM762 1090.9h2V1097.2h-2zM762 1078.5h2V1086.0h-2zM762 1073.0h2V1075.6h-2zM762 1056.7h2V1059.2h-2zM762 1049.2h2V1051.7h-2zM762 1011.7h2V1014.2h-2zM762 1001.7h2V1006.7h-2zM762 991.7h2V994.2h-2zM764 1031.7h2V1034.2h-2zM764 1016.7h2V1019.2h-2zM766 1049.2h2V1051.7h-2zM766 986.7h2V989.2h-2zM768 1070.7h2V1073.0h-2zM768 1041.7h2V1044.2h-2zM768 1034.2h2V1036.7h-2zM768 1026.7h2V1029.2h-2zM768 1006.7h2V1009.2h-2zM768 986.7h2V989.2h-2zM768 979.2h2V981.7h-2zM768 971.7h2V974.2h-2zM770 1106.2h2V1121.5h-2zM770 1073.0h2V1075.6h-2zM770 1066.6h2V1068.5h-2zM770 1054.2h2V1059.2h-2zM770 1004.2h2V1006.7h-2zM770 989.2h2V991.7h-2zM770 974.2h2V976.7h-2zM772 1070.7h2V1073.0h-2zM772 1066.6h2V1068.5h-2zM772 1063.2h2V1064.9h-2zM772 1044.2h2V1049.2h-2zM772 1034.2h2V1036.7h-2zM772 1029.2h2V1031.7h-2zM772 1011.7h2V1014.2h-2zM772 1006.7h2V1009.2h-2zM772 994.2h2V999.2h-2zM774 1068.5h2V1073.0h-2zM774 1056.7h2V1059.2h-2zM774 1049.2h2V1051.7h-2zM774 1044.2h2V1046.7h-2zM774 1011.7h2V1014.2h-2zM774 1001.7h2V1004.2h-2zM776 1097.2h2V1106.2h-2zM776 1081.9h2V1086.0h-2zM776 1061.7h2V1063.2h-2zM776 1034.2h2V1036.7h-2zM776 1024.2h2V1026.7h-2zM776 1014.2h2V1016.7h-2zM776 1004.2h2V1006.7h-2zM776 994.2h2V996.7h-2zM776 989.2h2V991.7h-2zM776 971.7h2V974.2h-2zM778 1075.6h2V1078.5h-2zM778 1066.6h2V1068.5h-2zM778 1001.7h2V1006.7h-2zM778 994.2h2V996.7h-2zM778 989.2h2V991.7h-2zM780 1097.2h2V1121.5h-2zM780 1086.0h2V1090.9h-2zM780 1064.9h2V1066.6h-2zM780 1046.7h2V1049.2h-2zM780 1039.2h2V1041.7h-2zM780 1014.2h2V1016.7h-2zM782 1090.9h2V1097.2h-2zM782 1081.9h2V1086.0h-2zM782 1063.2h2V1064.9h-2zM782 1046.7h2V1049.2h-2zM782 1034.2h2V1036.7h-2zM782 984.2h2V986.7h-2zM782 976.7h2V979.2h-2zM782 970.0h2V971.7h-2zM784 1031.7h2V1034.2h-2zM784 996.7h2V1001.7h-2zM786 1066.6h2V1068.5h-2zM786 1054.2h2V1056.7h-2zM786 1036.7h2V1039.2h-2zM786 1016.7h2V1019.2h-2zM786 1009.2h2V1011.7h-2zM788 1078.5h2V1081.9h-2zM788 1070.7h2V1073.0h-2zM788 1046.7h2V1049.2h-2zM788 1021.7h2V1024.2h-2zM790 1086.0h2V1090.9h-2zM790 1031.7h2V1034.2h-2zM790 979.2h2V981.7h-2zM792 1068.5h2V1070.7h-2zM792 1061.7h2V1063.2h-2zM792 1044.2h2V1046.7h-2zM792 1011.7h2V1014.2h-2zM794 1068.5h2V1070.7h-2zM794 1063.2h2V1064.9h-2zM794 1026.7h2V1029.2h-2zM794 1014.2h2V1016.7h-2zM794 984.2h2V986.7h-2zM796 1075.6h2V1081.9h-2zM796 1056.7h2V1059.2h-2zM796 1049.2h2V1051.7h-2zM796 1026.7h2V1029.2h-2zM798 1046.7h2V1049.2h-2zM798 1011.7h2V1019.2h-2zM800 1070.7h2V1073.0h-2zM800 1049.2h2V1051.7h-2zM800 1024.2h2V1026.7h-2zM800 999.2h2V1001.7h-2zM800 991.7h2V994.2h-2zM800 986.7h2V989.2h-2zM800 971.7h2V974.2h-2zM910 1070.7h2V1073.0h-2zM910 1046.7h2V1049.2h-2zM910 1026.7h2V1031.7h-2zM912 1097.2h2V1106.2h-2zM912 1041.7h2V1044.2h-2zM912 1021.7h2V1024.2h-2zM912 999.2h2V1001.7h-2zM914 1070.7h2V1073.0h-2zM914 981.7h2V984.2h-2zM916 1081.9h2V1086.0h-2zM916 1070.7h2V1073.0h-2zM916 1063.2h2V1064.9h-2zM916 1046.7h2V1049.2h-2zM916 1041.7h2V1044.2h-2zM916 1004.2h2V1006.7h-2zM916 979.2h2V981.7h-2zM918 1078.5h2V1086.0h-2zM918 1064.9h2V1066.6h-2zM918 1029.2h2V1031.7h-2zM918 1016.7h2V1024.2h-2zM918 1009.2h2V1011.7h-2zM918 970.0h2V971.7h-2zM920 1090.9h2V1097.2h-2zM920 1026.7h2V1029.2h-2zM920 1019.2h2V1021.7h-2zM920 979.2h2V981.7h-2zM920 970.0h2V971.7h-2zM922 1106.2h2V1121.5h-2zM922 1075.6h2V1081.9h-2zM922 1064.9h2V1066.6h-2zM922 1024.2h2V1029.2h-2zM922 1011.7h2V1014.2h-2zM922 989.2h2V991.7h-2zM922 971.7h2V979.2h-2zM924 1086.0h2V1090.9h-2zM924 1066.6h2V1070.7h-2zM924 1054.2h2V1056.7h-2zM924 1039.2h2V1044.2h-2zM924 1034.2h2V1036.7h-2zM924 1021.7h2V1024.2h-2zM924 1016.7h2V1019.2h-2zM924 970.0h2V971.7h-2zM926 1086.0h2V1090.9h-2zM926 1064.9h2V1066.6h-2zM926 1044.2h2V1049.2h-2zM926 1024.2h2V1026.7h-2zM926 1006.7h2V1009.2h-2zM926 994.2h2V996.7h-2zM926 979.2h2V981.7h-2zM928 1075.6h2V1078.5h-2zM928 1070.7h2V1073.0h-2zM928 1061.7h2V1066.6h-2zM928 1051.7h2V1054.2h-2zM928 1029.2h2V1031.7h-2zM928 971.7h2V981.7h-2zM930 1078.5h2V1081.9h-2zM930 1049.2h2V1051.7h-2zM930 1041.7h2V1046.7h-2zM930 1031.7h2V1034.2h-2zM930 1001.7h2V1004.2h-2zM932 1078.5h2V1081.9h-2zM932 1070.7h2V1073.0h-2zM932 1064.9h2V1066.6h-2zM932 1056.7h2V1059.2h-2zM932 1044.2h2V1046.7h-2zM932 1039.2h2V1041.7h-2zM932 1034.2h2V1036.7h-2zM932 1026.7h2V1029.2h-2zM932 1014.2h2V1016.7h-2zM932 1001.7h2V1004.2h-2zM932 994.2h2V996.7h-2zM932 984.2h2V986.7h-2zM932 974.2h2V979.2h-2zM934 1046.7h2V1049.2h-2zM934 1039.2h2V1041.7h-2zM934 1009.2h2V1011.7h-2zM936 1068.5h2V1070.7h-2zM936 1063.2h2V1066.6h-2zM936 1059.2h2V1061.7h-2zM936 1046.7h2V1049.2h-2zM936 986.7h2V989.2h-2zM938 1078.5h2V1081.9h-2zM938 1064.9h2V1066.6h-2zM938 1056.7h2V1059.2h-2zM938 1049.2h2V1054.2h-2zM938 1041.7h2V1046.7h-2zM938 1036.7h2V1039.2h-2zM938 1021.7h2V1024.2h-2zM938 1001.7h2V1009.2h-2zM940 1075.6h2V1078.5h-2zM940 1059.2h2V1061.7h-2zM940 1026.7h2V1029.2h-2zM940 986.7h2V989.2h-2zM940 979.2h2V981.7h-2zM940 974.2h2V976.7h-2zM942 1064.9h2V1066.6h-2zM942 1061.7h2V1063.2h-2zM942 1029.2h2V1031.7h-2zM942 1014.2h2V1016.7h-2zM942 1009.2h2V1011.7h-2zM942 970.0h2V971.7h-2zM944 1064.9h2V1066.6h-2zM944 1056.7h2V1059.2h-2zM944 1039.2h2V1041.7h-2zM944 1004.2h2V1006.7h-2zM946 1075.6h2V1078.5h-2zM946 979.2h2V984.2h-2zM948 1097.2h2V1121.5h-2zM948 1063.2h2V1066.6h-2zM948 1026.7h2V1029.2h-2zM948 1016.7h2V1019.2h-2zM948 996.7h2V999.2h-2zM950 1081.9h2V1086.0h-2zM950 1054.2h2V1056.7h-2zM950 1026.7h2V1029.2h-2zM950 1011.7h2V1016.7h-2zM950 1006.7h2V1009.2h-2zM950 989.2h2V991.7h-2zM950 981.7h2V984.2h-2zM952 1090.9h2V1097.2h-2zM952 1075.6h2V1078.5h-2zM952 1061.7h2V1063.2h-2zM952 1049.2h2V1051.7h-2zM952 1039.2h2V1041.7h-2zM952 1009.2h2V1011.7h-2zM954 1097.2h2V1106.2h-2zM954 1066.6h2V1070.7h-2zM954 1014.2h2V1019.2h-2zM954 1004.2h2V1006.7h-2zM954 994.2h2V999.2h-2zM954 984.2h2V986.7h-2zM954 970.0h2V971.7h-2zM956 1066.6h2V1068.5h-2zM956 1059.2h2V1061.7h-2zM956 1036.7h2V1041.7h-2zM956 1006.7h2V1011.7h-2zM956 996.7h2V999.2h-2zM958 1081.9h2V1086.0h-2zM958 1064.9h2V1066.6h-2zM958 1056.7h2V1059.2h-2zM958 1036.7h2V1039.2h-2zM958 1009.2h2V1011.7h-2zM958 999.2h2V1001.7h-2zM958 994.2h2V996.7h-2zM960 1073.0h2V1075.6h-2zM960 1031.7h2V1034.2h-2zM960 1001.7h2V1004.2h-2zM960 991.7h2V994.2h-2zM960 986.7h2V989.2h-2zM960 976.7h2V979.2h-2zM960 971.7h2V974.2h-2zM962 1054.2h2V1056.7h-2zM962 1001.7h2V1004.2h-2zM962 991.7h2V994.2h-2zM964 1078.5h2V1081.9h-2zM964 1066.6h2V1070.7h-2zM964 1061.7h2V1063.2h-2zM964 1044.2h2V1049.2h-2zM964 1036.7h2V1039.2h-2zM964 1024.2h2V1029.2h-2zM964 1014.2h2V1021.7h-2zM964 994.2h2V996.7h-2zM966 1066.6h2V1068.5h-2zM966 1059.2h2V1061.7h-2zM966 1049.2h2V1051.7h-2zM966 991.7h2V994.2h-2zM966 986.7h2V989.2h-2zM968 1059.2h2V1061.7h-2zM968 1046.7h2V1051.7h-2zM968 1001.7h2V1004.2h-2zM968 994.2h2V996.7h-2zM968 976.7h2V979.2h-2zM970 1106.2h2V1121.5h-2zM970 1090.9h2V1097.2h-2zM970 1078.5h2V1081.9h-2zM970 1070.7h2V1073.0h-2zM970 1059.2h2V1061.7h-2zM970 1036.7h2V1044.2h-2zM970 1009.2h2V1011.7h-2zM970 989.2h2V991.7h-2zM972 1086.0h2V1097.2h-2zM972 1068.5h2V1070.7h-2zM972 1059.2h2V1061.7h-2zM972 1044.2h2V1046.7h-2zM972 1039.2h2V1041.7h-2zM974 1068.5h2V1073.0h-2zM974 1044.2h2V1046.7h-2zM974 1021.7h2V1024.2h-2zM974 1014.2h2V1016.7h-2zM976 1063.2h2V1064.9h-2zM976 1044.2h2V1046.7h-2zM976 1036.7h2V1039.2h-2zM978 1066.6h2V1068.5h-2zM978 1044.2h2V1049.2h-2zM978 1006.7h2V1009.2h-2zM978 996.7h2V999.2h-2zM980 1070.7h2V1073.0h-2zM980 1054.2h2V1056.7h-2zM980 1029.2h2V1031.7h-2zM980 1019.2h2V1021.7h-2zM980 970.0h2V971.7h-2zM982 1066.6h2V1068.5h-2zM982 1049.2h2V1051.7h-2zM982 1039.2h2V1041.7h-2zM982 1026.7h2V1029.2h-2zM982 1009.2h2V1011.7h-2zM982 994.2h2V996.7h-2zM984 1063.2h2V1064.9h-2zM984 1049.2h2V1051.7h-2zM984 1041.7h2V1044.2h-2zM984 1036.7h2V1039.2h-2zM984 1021.7h2V1024.2h-2zM984 991.7h2V994.2h-2zM984 974.2h2V976.7h-2zM984 970.0h2V971.7h-2zM986 1064.9h2V1066.6h-2zM986 1031.7h2V1036.7h-2zM986 1019.2h2V1021.7h-2zM986 984.2h2V986.7h-2zM986 970.0h2V971.7h-2zM988 1064.9h2V1068.5h-2zM988 1029.2h2V1031.7h-2zM988 994.2h2V999.2h-2zM988 989.2h2V991.7h-2zM988 976.7h2V979.2h-2zM990 1106.2h2V1121.5h-2zM990 1068.5h2V1070.7h-2zM990 1064.9h2V1066.6h-2zM990 1059.2h2V1063.2h-2zM990 1021.7h2V1024.2h-2zM990 999.2h2V1001.7h-2zM990 994.2h2V996.7h-2zM990 974.2h2V976.7h-2zM992 1097.2h2V1106.2h-2zM992 1016.7h2V1019.2h-2zM992 999.2h2V1006.7h-2zM994 1090.9h2V1097.2h-2zM994 1073.0h2V1075.6h-2zM994 1066.6h2V1070.7h-2zM994 1061.7h2V1063.2h-2zM994 1049.2h2V1051.7h-2zM994 1039.2h2V1044.2h-2zM994 1034.2h2V1036.7h-2zM994 1026.7h2V1029.2h-2zM994 1004.2h2V1006.7h-2zM994 989.2h2V991.7h-2zM994 971.7h2V974.2h-2zM996 1066.6h2V1073.0h-2zM996 1063.2h2V1064.9h-2zM996 1046.7h2V1049.2h-2zM996 1019.2h2V1021.7h-2zM996 1009.2h2V1011.7h-2zM996 1004.2h2V1006.7h-2zM996 989.2h2V991.7h-2zM996 976.7h2V979.2h-2zM998 1063.2h2V1066.6h-2zM998 1011.7h2V1014.2h-2zM998 1001.7h2V1004.2h-2zM998 976.7h2V979.2h-2zM998 970.0h2V971.7h-2zM1000 1090.9h2V1097.2h-2zM1000 1078.5h2V1081.9h-2zM1000 1054.2h2V1056.7h-2zM1000 1031.7h2V1034.2h-2zM1000 1004.2h2V1006.7h-2zM1000 989.2h2V991.7h-2zM1000 981.7h2V984.2h-2zM1000 971.7h2V974.2h-2zM1002 1090.9h2V1097.2h-2zM1002 1070.7h2V1073.0h-2zM1002 1059.2h2V1061.7h-2zM1002 1039.2h2V1041.7h-2zM1002 1024.2h2V1026.7h-2zM1004 1086.0h2V1090.9h-2zM1004 1073.0h2V1075.6h-2zM1004 1068.5h2V1070.7h-2zM1004 1046.7h2V1049.2h-2zM1004 1041.7h2V1044.2h-2zM1004 1021.7h2V1024.2h-2zM1004 1014.2h2V1016.7h-2zM1004 1006.7h2V1009.2h-2zM1004 981.7h2V984.2h-2zM1006 1081.9h2V1086.0h-2zM1006 1061.7h2V1064.9h-2zM1006 1051.7h2V1054.2h-2zM1006 1046.7h2V1049.2h-2zM1006 1041.7h2V1044.2h-2zM1006 1024.2h2V1029.2h-2zM1006 1004.2h2V1006.7h-2zM1006 996.7h2V999.2h-2zM1006 974.2h2V976.7h-2zM1008 1024.2h2V1026.7h-2zM1008 1006.7h2V1009.2h-2zM1010 1073.0h2V1075.6h-2zM1010 1041.7h2V1044.2h-2zM1010 1016.7h2V1019.2h-2zM1010 989.2h2V991.7h-2zM1012 1081.9h2V1090.9h-2zM1012 1075.6h2V1078.5h-2zM1012 1063.2h2V1064.9h-2zM1012 1026.7h2V1029.2h-2zM1012 981.7h2V984.2h-2zM1012 971.7h2V974.2h-2zM1014 1070.7h2V1075.6h-2zM1014 1063.2h2V1064.9h-2zM1014 1024.2h2V1029.2h-2zM1014 1016.7h2V1021.7h-2zM1014 984.2h2V986.7h-2zM1016 1046.7h2V1049.2h-2zM1016 1004.2h2V1006.7h-2zM1016 979.2h2V981.7h-2zM1016 970.0h2V971.7h-2zM1018 1064.9h2V1066.6h-2zM1018 1059.2h2V1063.2h-2zM1018 1039.2h2V1041.7h-2zM1018 1031.7h2V1034.2h-2zM1018 1019.2h2V1021.7h-2zM1018 1011.7h2V1014.2h-2zM1018 994.2h2V996.7h-2zM1018 989.2h2V991.7h-2zM1018 981.7h2V984.2h-2zM1020 1061.7h2V1066.6h-2zM1020 1056.7h2V1059.2h-2zM1020 1046.7h2V1049.2h-2zM1020 1039.2h2V1041.7h-2zM1020 1034.2h2V1036.7h-2zM1020 1024.2h2V1026.7h-2zM1020 1006.7h2V1009.2h-2zM1022 1021.7h2V1024.2h-2zM1022 1016.7h2V1019.2h-2zM1022 1009.2h2V1011.7h-2zM1022 989.2h2V991.7h-2zM1024 1073.0h2V1075.6h-2zM1024 1036.7h2V1041.7h-2zM1024 1031.7h2V1034.2h-2zM1024 1024.2h2V1026.7h-2zM1024 994.2h2V996.7h-2zM1024 984.2h2V986.7h-2zM1024 979.2h2V981.7h-2zM1026 1063.2h2V1064.9h-2zM1026 1044.2h2V1049.2h-2zM1026 1029.2h2V1031.7h-2zM1026 1014.2h2V1016.7h-2zM1026 999.2h2V1001.7h-2zM1026 974.2h2V976.7h-2zM1028 1081.9h2V1086.0h-2zM1028 1070.7h2V1073.0h-2zM1028 1064.9h2V1066.6h-2zM1028 1059.2h2V1061.7h-2zM1028 1046.7h2V1049.2h-2zM1028 1029.2h2V1031.7h-2zM1028 1021.7h2V1024.2h-2zM1028 1016.7h2V1019.2h-2zM1028 1009.2h2V1011.7h-2zM1028 1004.2h2V1006.7h-2zM1028 989.2h2V991.7h-2zM1028 974.2h2V976.7h-2zM1030 1106.2h2V1121.5h-2zM1030 1066.6h2V1068.5h-2zM1030 1029.2h2V1031.7h-2zM1030 1024.2h2V1026.7h-2zM1030 984.2h2V986.7h-2zM1030 974.2h2V976.7h-2zM1032 1097.2h2V1106.2h-2zM1032 1061.7h2V1063.2h-2zM1032 1034.2h2V1036.7h-2zM1032 1029.2h2V1031.7h-2zM1034 1090.9h2V1097.2h-2zM1034 1063.2h2V1064.9h-2zM1034 1051.7h2V1054.2h-2zM1034 1044.2h2V1046.7h-2zM1034 1031.7h2V1034.2h-2zM1034 1014.2h2V1016.7h-2zM1034 1001.7h2V1006.7h-2zM1036 1090.9h2V1097.2h-2zM1036 1078.5h2V1081.9h-2zM1036 1029.2h2V1031.7h-2zM1036 1014.2h2V1019.2h-2zM1036 1004.2h2V1006.7h-2zM1036 989.2h2V991.7h-2zM1038 1097.2h2V1106.2h-2zM1038 1081.9h2V1090.9h-2zM1038 1070.7h2V1075.6h-2zM1038 1063.2h2V1064.9h-2zM1038 1036.7h2V1039.2h-2zM1038 1014.2h2V1016.7h-2zM1038 984.2h2V986.7h-2zM1038 976.7h2V981.7h-2zM1040 1073.0h2V1075.6h-2zM1040 1063.2h2V1064.9h-2zM1040 1026.7h2V1031.7h-2zM1040 979.2h2V981.7h-2zM1040 970.0h2V971.7h-2zM1042 1075.6h2V1078.5h-2zM1042 1066.6h2V1068.5h-2zM1042 1061.7h2V1064.9h-2zM1042 1006.7h2V1011.7h-2zM1042 976.7h2V979.2h-2zM1044 1004.2h2V1006.7h-2zM1044 999.2h2V1001.7h-2zM1046 1075.6h2V1078.5h-2zM1046 1064.9h2V1066.6h-2zM1046 1024.2h2V1029.2h-2zM1046 999.2h2V1004.2h-2zM1046 976.7h2V979.2h-2zM1046 971.7h2V974.2h-2zM1048 1073.0h2V1075.6h-2zM1048 1068.5h2V1070.7h-2zM1048 1036.7h2V1044.2h-2zM1050 1081.9h2V1086.0h-2zM1050 1066.6h2V1068.5h-2zM1050 1059.2h2V1061.7h-2zM1050 1044.2h2V1046.7h-2zM1050 1039.2h2V1041.7h-2zM1050 1014.2h2V1019.2h-2zM1050 976.7h2V979.2h-2zM1052 1106.2h2V1121.5h-2zM1052 1068.5h2V1070.7h-2zM1052 1063.2h2V1064.9h-2zM1052 1026.7h2V1029.2h-2zM1052 1016.7h2V1019.2h-2zM1054 1056.7h2V1059.2h-2zM1054 1039.2h2V1041.7h-2zM1054 1009.2h2V1014.2h-2zM1054 984.2h2V986.7h-2zM1054 974.2h2V976.7h-2zM1056 1073.0h2V1075.6h-2zM1056 1064.9h2V1068.5h-2zM1056 1061.7h2V1063.2h-2zM1056 1029.2h2V1031.7h-2zM1056 1021.7h2V1024.2h-2zM1056 1016.7h2V1019.2h-2zM1058 1064.9h2V1066.6h-2zM1058 1046.7h2V1049.2h-2zM1058 1041.7h2V1044.2h-2zM1058 1024.2h2V1026.7h-2zM1058 1001.7h2V1004.2h-2zM1058 981.7h2V984.2h-2zM1060 1106.2h2V1121.5h-2zM1060 1081.9h2V1086.0h-2zM1060 1073.0h2V1075.6h-2zM1060 1064.9h2V1066.6h-2zM1060 1051.7h2V1054.2h-2zM1060 1014.2h2V1016.7h-2zM1060 994.2h2V996.7h-2zM1060 984.2h2V986.7h-2zM1062 1090.9h2V1097.2h-2zM1062 1075.6h2V1078.5h-2zM1062 1066.6h2V1068.5h-2zM1062 1063.2h2V1064.9h-2zM1062 1059.2h2V1061.7h-2zM1062 1016.7h2V1019.2h-2zM1062 994.2h2V996.7h-2zM1062 986.7h2V989.2h-2zM1064 1086.0h2V1090.9h-2zM1064 1070.7h2V1073.0h-2zM1064 1064.9h2V1066.6h-2zM1064 1056.7h2V1061.7h-2zM1064 1046.7h2V1049.2h-2zM1064 1026.7h2V1029.2h-2zM1064 991.7h2V994.2h-2zM1064 979.2h2V981.7h-2zM1066 1061.7h2V1063.2h-2zM1066 1056.7h2V1059.2h-2zM1066 1029.2h2V1031.7h-2zM1066 1016.7h2V1019.2h-2zM1066 1009.2h2V1011.7h-2zM1068 1097.2h2V1106.2h-2zM1068 1066.6h2V1068.5h-2zM1068 1059.2h2V1061.7h-2zM1068 1051.7h2V1054.2h-2zM1068 1046.7h2V1049.2h-2zM1068 1041.7h2V1044.2h-2zM1068 1034.2h2V1036.7h-2zM1068 1021.7h2V1024.2h-2zM1068 979.2h2V981.7h-2zM1068 971.7h2V974.2h-2zM1070 1078.5h2V1081.9h-2zM1070 1056.7h2V1059.2h-2zM1070 1046.7h2V1049.2h-2zM1070 1039.2h2V1044.2h-2zM1070 1026.7h2V1029.2h-2zM1070 1021.7h2V1024.2h-2zM1070 1014.2h2V1016.7h-2zM1070 1004.2h2V1006.7h-2zM1070 976.7h2V979.2h-2zM1072 1070.7h2V1073.0h-2zM1072 1054.2h2V1056.7h-2zM1072 1029.2h2V1031.7h-2zM1072 1019.2h2V1024.2h-2zM1072 1011.7h2V1014.2h-2zM1072 986.7h2V989.2h-2zM1072 971.7h2V974.2h-2zM1074 1078.5h2V1081.9h-2zM1074 1073.0h2V1075.6h-2zM1074 1049.2h2V1051.7h-2zM1074 1019.2h2V1024.2h-2zM1074 976.7h2V979.2h-2zM1074 970.0h2V971.7h-2zM1076 1056.7h2V1059.2h-2zM1076 1044.2h2V1049.2h-2zM1076 1039.2h2V1041.7h-2zM1076 1024.2h2V1026.7h-2zM1076 1011.7h2V1014.2h-2zM1078 1029.2h2V1031.7h-2zM1078 1004.2h2V1006.7h-2zM1080 1073.0h2V1075.6h-2zM1080 1068.5h2V1070.7h-2zM1080 1026.7h2V1029.2h-2zM1080 1006.7h2V1009.2h-2zM1080 996.7h2V999.2h-2zM1080 989.2h2V991.7h-2zM1082 1044.2h2V1046.7h-2zM1082 1036.7h2V1039.2h-2zM1084 1031.7h2V1034.2h-2zM1084 1021.7h2V1024.2h-2zM1084 1016.7h2V1019.2h-2zM1084 1009.2h2V1011.7h-2zM1084 1001.7h2V1004.2h-2zM1084 994.2h2V996.7h-2zM1086 1086.0h2V1090.9h-2zM1086 1075.6h2V1078.5h-2zM1086 1024.2h2V1026.7h-2zM1086 1011.7h2V1014.2h-2zM1086 1006.7h2V1009.2h-2zM1086 976.7h2V981.7h-2zM1088 1064.9h2V1066.6h-2zM1088 1024.2h2V1026.7h-2zM1088 1011.7h2V1014.2h-2zM1088 976.7h2V979.2h-2zM1088 970.0h2V971.7h-2zM1090 1056.7h2V1059.2h-2zM1090 1034.2h2V1041.7h-2zM1090 1019.2h2V1021.7h-2zM1090 999.2h2V1001.7h-2zM1090 976.7h2V981.7h-2zM1092 1063.2h2V1064.9h-2zM1092 1024.2h2V1026.7h-2zM1092 1014.2h2V1021.7h-2zM1092 1001.7h2V1004.2h-2zM1092 994.2h2V999.2h-2zM1092 979.2h2V981.7h-2zM1092 974.2h2V976.7h-2zM1094 1034.2h2V1039.2h-2zM1094 996.7h2V999.2h-2zM1094 979.2h2V981.7h-2zM1096 1029.2h2V1034.2h-2zM1096 999.2h2V1001.7h-2zM1098 1041.7h2V1044.2h-2zM1098 1031.7h2V1034.2h-2zM1098 1021.7h2V1024.2h-2zM1098 1016.7h2V1019.2h-2zM1098 996.7h2V999.2h-2zM1098 979.2h2V981.7h-2zM1098 971.7h2V974.2h-2zM1100 1059.2h2V1061.7h-2zM1100 1041.7h2V1044.2h-2zM1100 1036.7h2V1039.2h-2zM1100 1021.7h2V1024.2h-2zM1100 981.7h2V984.2h-2zM1100 974.2h2V976.7h-2zM1102 1061.7h2V1063.2h-2zM1102 1056.7h2V1059.2h-2zM1102 1049.2h2V1051.7h-2zM1102 1044.2h2V1046.7h-2zM1102 1029.2h2V1031.7h-2zM1102 1024.2h2V1026.7h-2zM1102 994.2h2V996.7h-2zM1102 971.7h2V979.2h-2zM1104 1056.7h2V1059.2h-2zM1104 1046.7h2V1049.2h-2zM1104 1026.7h2V1029.2h-2zM1104 1006.7h2V1009.2h-2zM1106 1078.5h2V1081.9h-2zM1106 1073.0h2V1075.6h-2zM1106 1064.9h2V1066.6h-2zM1106 1031.7h2V1034.2h-2zM1106 1024.2h2V1029.2h-2zM1106 996.7h2V999.2h-2zM1106 979.2h2V981.7h-2zM1106 971.7h2V974.2h-2zM1108 1066.6h2V1068.5h-2zM1108 1059.2h2V1061.7h-2zM1108 1011.7h2V1014.2h-2zM1108 1004.2h2V1006.7h-2zM1108 991.7h2V994.2h-2zM1108 981.7h2V984.2h-2zM1110 1066.6h2V1068.5h-2zM1110 1024.2h2V1026.7h-2zM1112 1066.6h2V1070.7h-2zM1112 1063.2h2V1064.9h-2zM1112 1039.2h2V1041.7h-2zM1112 1034.2h2V1036.7h-2zM1112 1029.2h2V1031.7h-2zM1112 981.7h2V984.2h-2zM1114 1063.2h2V1064.9h-2zM1114 1046.7h2V1049.2h-2zM1114 1024.2h2V1026.7h-2zM1114 1014.2h2V1016.7h-2zM1114 1009.2h2V1011.7h-2zM1114 1001.7h2V1004.2h-2zM1114 989.2h2V991.7h-2zM1116 1056.7h2V1059.2h-2zM1116 1049.2h2V1054.2h-2zM1116 1041.7h2V1044.2h-2zM1116 1004.2h2V1006.7h-2zM1116 999.2h2V1001.7h-2zM1116 979.2h2V981.7h-2zM1118 1059.2h2V1061.7h-2zM1118 1049.2h2V1051.7h-2zM1118 1039.2h2V1041.7h-2zM1118 1024.2h2V1026.7h-2zM1118 1016.7h2V1021.7h-2zM1118 991.7h2V994.2h-2zM1118 979.2h2V981.7h-2zM1120 1073.0h2V1075.6h-2zM1120 1046.7h2V1049.2h-2zM1120 1039.2h2V1041.7h-2zM1120 1019.2h2V1021.7h-2zM1120 1011.7h2V1014.2h-2zM1120 991.7h2V994.2h-2zM1120 986.7h2V989.2h-2zM1122 1066.6h2V1068.5h-2zM1122 1039.2h2V1041.7h-2zM1122 1029.2h2V1031.7h-2zM1122 1011.7h2V1014.2h-2zM1122 1006.7h2V1009.2h-2zM1122 989.2h2V991.7h-2zM1124 1044.2h2V1046.7h-2zM1124 1009.2h2V1011.7h-2zM1124 991.7h2V994.2h-2zM1124 971.7h2V974.2h-2zM1126 1073.0h2V1075.6h-2zM1126 1046.7h2V1049.2h-2zM1126 1011.7h2V1016.7h-2zM1126 981.7h2V986.7h-2zM1126 970.0h2V971.7h-2zM1128 1078.5h2V1081.9h-2zM1128 1073.0h2V1075.6h-2zM1128 1001.7h2V1004.2h-2zM1130 1081.9h2V1086.0h-2zM1130 1068.5h2V1070.7h-2zM1130 1064.9h2V1066.6h-2zM1130 1019.2h2V1024.2h-2zM1130 1011.7h2V1014.2h-2zM1130 1001.7h2V1004.2h-2zM1130 989.2h2V991.7h-2zM1132 1106.2h2V1121.5h-2zM1132 1034.2h2V1036.7h-2zM1134 1073.0h2V1078.5h-2zM1134 1068.5h2V1070.7h-2zM1134 1064.9h2V1066.6h-2zM1134 1054.2h2V1059.2h-2zM1134 1044.2h2V1049.2h-2zM1134 1039.2h2V1041.7h-2zM1134 1031.7h2V1034.2h-2zM1134 1019.2h2V1021.7h-2zM1134 1009.2h2V1011.7h-2zM1134 996.7h2V1001.7h-2zM1134 989.2h2V991.7h-2zM1136 1054.2h2V1056.7h-2zM1136 996.7h2V999.2h-2zM1138 1063.2h2V1064.9h-2zM1138 1044.2h2V1046.7h-2zM1138 1001.7h2V1004.2h-2zM1140 1097.2h2V1106.2h-2zM1140 1075.6h2V1078.5h-2zM1140 1068.5h2V1073.0h-2zM1140 1059.2h2V1061.7h-2zM1140 1026.7h2V1029.2h-2zM1140 991.7h2V994.2h-2zM1142 1066.6h2V1068.5h-2zM1142 1054.2h2V1056.7h-2zM1142 1046.7h2V1051.7h-2zM1142 1031.7h2V1036.7h-2zM1142 976.7h2V979.2h-2zM1144 1036.7h2V1039.2h-2zM1144 1029.2h2V1031.7h-2zM1144 1019.2h2V1021.7h-2zM1144 1009.2h2V1011.7h-2zM1144 991.7h2V994.2h-2zM1144 986.7h2V989.2h-2zM1144 979.2h2V981.7h-2zM1146 1086.0h2V1090.9h-2zM1146 1073.0h2V1075.6h-2zM1146 1044.2h2V1046.7h-2zM1146 1036.7h2V1039.2h-2zM1146 1021.7h2V1024.2h-2zM1146 1009.2h2V1011.7h-2zM1146 989.2h2V991.7h-2zM1148 1068.5h2V1070.7h-2zM1148 1064.9h2V1066.6h-2zM1148 1059.2h2V1063.2h-2zM1148 1036.7h2V1039.2h-2zM1148 1021.7h2V1026.7h-2zM1148 994.2h2V999.2h-2zM1148 989.2h2V991.7h-2zM1148 984.2h2V986.7h-2zM1148 971.7h2V974.2h-2zM1150 1063.2h2V1064.9h-2zM1150 1026.7h2V1029.2h-2zM1150 1011.7h2V1014.2h-2zM1150 971.7h2V974.2h-2zM1152 1073.0h2V1075.6h-2zM1152 1044.2h2V1046.7h-2zM1152 1014.2h2V1016.7h-2zM1154 1051.7h2V1054.2h-2zM1154 1044.2h2V1046.7h-2zM1154 1024.2h2V1026.7h-2zM1154 976.7h2V979.2h-2zM1156 1059.2h2V1061.7h-2zM1156 1036.7h2V1039.2h-2zM1156 1001.7h2V1004.2h-2zM1156 996.7h2V999.2h-2zM1156 984.2h2V986.7h-2zM1158 1090.9h2V1097.2h-2zM1160 1106.2h2V1121.5h-2zM1160 1070.7h2V1073.0h-2zM1160 1044.2h2V1046.7h-2zM1160 981.7h2V984.2h-2zM1162 1097.2h2V1106.2h-2zM1162 1044.2h2V1046.7h-2zM1162 1011.7h2V1014.2h-2zM1162 1004.2h2V1006.7h-2zM1162 994.2h2V996.7h-2zM1162 981.7h2V984.2h-2zM1164 1106.2h2V1121.5h-2zM1164 1090.9h2V1097.2h-2zM1164 1081.9h2V1086.0h-2zM1164 1070.7h2V1075.6h-2zM1164 1026.7h2V1029.2h-2zM1164 1021.7h2V1024.2h-2zM1164 986.7h2V989.2h-2zM1164 974.2h2V976.7h-2zM1166 1075.6h2V1078.5h-2zM1166 1063.2h2V1064.9h-2zM1166 1001.7h2V1006.7h-2zM1166 986.7h2V989.2h-2zM1168 1081.9h2V1086.0h-2zM1168 1075.6h2V1078.5h-2zM1168 1070.7h2V1073.0h-2zM1168 1066.6h2V1068.5h-2zM1168 1061.7h2V1063.2h-2zM1168 1029.2h2V1034.2h-2zM1168 1019.2h2V1024.2h-2zM1168 1011.7h2V1014.2h-2zM1168 1001.7h2V1004.2h-2zM1170 1081.9h2V1086.0h-2zM1170 1063.2h2V1064.9h-2zM1170 1056.7h2V1059.2h-2zM1170 1046.7h2V1049.2h-2zM1170 1036.7h2V1039.2h-2zM1170 1021.7h2V1024.2h-2zM1170 1001.7h2V1004.2h-2zM1170 976.7h2V979.2h-2zM1172 1097.2h2V1106.2h-2zM1172 1061.7h2V1063.2h-2zM1172 1056.7h2V1059.2h-2zM1172 1039.2h2V1041.7h-2zM1172 1034.2h2V1036.7h-2zM1172 1019.2h2V1021.7h-2zM1172 991.7h2V994.2h-2zM1172 971.7h2V974.2h-2zM1174 1046.7h2V1049.2h-2zM1176 1075.6h2V1078.5h-2zM1176 971.7h2V974.2h-2zM1178 1044.2h2V1046.7h-2zM1178 1031.7h2V1034.2h-2zM1178 1014.2h2V1016.7h-2zM1178 999.2h2V1001.7h-2zM1178 994.2h2V996.7h-2zM1178 986.7h2V991.7h-2zM1178 971.7h2V976.7h-2zM1180 1106.2h2V1121.5h-2zM1180 1078.5h2V1081.9h-2zM1180 1070.7h2V1073.0h-2zM1180 1036.7h2V1039.2h-2zM1180 996.7h2V999.2h-2zM1182 1106.2h2V1121.5h-2zM1182 1044.2h2V1049.2h-2zM1182 1031.7h2V1034.2h-2zM1182 1021.7h2V1024.2h-2zM1182 1016.7h2V1019.2h-2zM1182 979.2h2V984.2h-2zM1184 1081.9h2V1086.0h-2zM1184 1056.7h2V1059.2h-2zM1184 1036.7h2V1039.2h-2zM1184 1031.7h2V1034.2h-2zM1184 1019.2h2V1021.7h-2zM1186 1068.5h2V1070.7h-2zM1186 1061.7h2V1063.2h-2zM1186 1046.7h2V1049.2h-2zM1186 991.7h2V996.7h-2zM1188 1064.9h2V1066.6h-2zM1188 1061.7h2V1063.2h-2zM1188 989.2h2V991.7h-2zM1188 981.7h2V986.7h-2zM1190 1106.2h2V1121.5h-2zM1190 1081.9h2V1086.0h-2zM1190 1066.6h2V1068.5h-2zM1190 1049.2h2V1051.7h-2zM1190 1014.2h2V1019.2h-2zM1190 994.2h2V999.2h-2zM1190 981.7h2V984.2h-2zM1192 1106.2h2V1121.5h-2zM1192 1073.0h2V1075.6h-2zM1192 1036.7h2V1041.7h-2zM1192 1006.7h2V1009.2h-2zM1192 989.2h2V991.7h-2zM1192 979.2h2V981.7h-2zM1194 1106.2h2V1121.5h-2zM1194 1068.5h2V1073.0h-2zM1194 1044.2h2V1049.2h-2zM1194 1001.7h2V1004.2h-2zM1194 981.7h2V986.7h-2zM1196 1073.0h2V1078.5h-2zM1196 1064.9h2V1066.6h-2zM1196 1036.7h2V1039.2h-2zM1196 1029.2h2V1031.7h-2zM1196 1011.7h2V1014.2h-2zM1196 1006.7h2V1009.2h-2zM1198 1106.2h2V1121.5h-2zM1198 1068.5h2V1073.0h-2zM1198 1061.7h2V1063.2h-2zM1198 1056.7h2V1059.2h-2zM1198 1036.7h2V1039.2h-2zM1198 1029.2h2V1034.2h-2zM1198 1024.2h2V1026.7h-2zM1198 1001.7h2V1004.2h-2zM1198 981.7h2V986.7h-2zM1198 971.7h2V976.7h-2zM1200 1090.9h2V1097.2h-2zM1200 1068.5h2V1070.7h-2zM1200 1054.2h2V1059.2h-2zM1200 1049.2h2V1051.7h-2zM1200 999.2h2V1001.7h-2zM1202 1086.0h2V1106.2h-2zM1202 1056.7h2V1059.2h-2zM1202 999.2h2V1001.7h-2zM1202 976.7h2V979.2h-2zM1204 1097.2h2V1106.2h-2zM1204 1078.5h2V1081.9h-2zM1204 1029.2h2V1031.7h-2zM1204 1021.7h2V1024.2h-2zM1204 1014.2h2V1016.7h-2zM1206 1097.2h2V1121.5h-2zM1206 1078.5h2V1081.9h-2zM1206 1063.2h2V1064.9h-2zM1206 1021.7h2V1024.2h-2zM1206 1014.2h2V1016.7h-2zM1206 999.2h2V1001.7h-2zM1206 970.0h2V971.7h-2zM1208 1081.9h2V1086.0h-2zM1208 1070.7h2V1073.0h-2zM1208 1016.7h2V1019.2h-2zM1210 1097.2h2V1106.2h-2zM1210 1075.6h2V1078.5h-2zM1210 1056.7h2V1061.7h-2zM1210 1051.7h2V1054.2h-2zM1210 1039.2h2V1044.2h-2zM1210 1026.7h2V1029.2h-2zM1210 1016.7h2V1019.2h-2zM1210 996.7h2V999.2h-2zM1212 1078.5h2V1081.9h-2zM1212 1063.2h2V1068.5h-2zM1212 1041.7h2V1044.2h-2zM1212 1036.7h2V1039.2h-2zM1212 1031.7h2V1034.2h-2zM1212 1021.7h2V1024.2h-2zM1212 1001.7h2V1004.2h-2zM1214 1078.5h2V1081.9h-2zM1214 1073.0h2V1075.6h-2zM1214 1063.2h2V1064.9h-2zM1216 1106.2h2V1121.5h-2zM1216 1075.6h2V1078.5h-2zM1216 1061.7h2V1064.9h-2zM1216 1039.2h2V1041.7h-2zM1216 1014.2h2V1016.7h-2zM1218 1075.6h2V1078.5h-2zM1218 1061.7h2V1063.2h-2zM1218 1039.2h2V1044.2h-2zM1218 1016.7h2V1019.2h-2zM1218 999.2h2V1001.7h-2zM1218 991.7h2V994.2h-2zM1218 979.2h2V981.7h-2zM1220 1090.9h2V1097.2h-2zM1220 1064.9h2V1066.6h-2zM1220 1056.7h2V1059.2h-2zM1220 1031.7h2V1036.7h-2zM1220 999.2h2V1001.7h-2zM1220 984.2h2V986.7h-2zM1220 971.7h2V974.2h-2zM1222 1054.2h2V1059.2h-2zM1222 1006.7h2V1009.2h-2zM1224 1044.2h2V1046.7h-2zM1224 1036.7h2V1039.2h-2zM1224 1001.7h2V1004.2h-2zM1224 986.7h2V991.7h-2zM1226 1059.2h2V1066.6h-2zM1226 1044.2h2V1046.7h-2zM1226 1026.7h2V1031.7h-2zM1226 1006.7h2V1009.2h-2zM1226 991.7h2V994.2h-2zM1226 986.7h2V989.2h-2zM1226 976.7h2V979.2h-2zM1228 1081.9h2V1086.0h-2zM1228 1036.7h2V1039.2h-2zM1228 1031.7h2V1034.2h-2zM1228 984.2h2V986.7h-2zM1230 1061.7h2V1063.2h-2zM1230 1056.7h2V1059.2h-2zM1230 1034.2h2V1036.7h-2zM1230 1024.2h2V1026.7h-2zM1230 1009.2h2V1014.2h-2zM1230 989.2h2V991.7h-2zM1232 1078.5h2V1081.9h-2zM1232 1054.2h2V1059.2h-2zM1232 989.2h2V994.2h-2zM1232 981.7h2V984.2h-2zM1232 970.0h2V971.7h-2zM1234 1097.2h2V1106.2h-2zM1234 1081.9h2V1086.0h-2zM1234 1070.7h2V1073.0h-2zM1234 1061.7h2V1063.2h-2zM1234 1056.7h2V1059.2h-2zM1234 1039.2h2V1041.7h-2zM1234 1034.2h2V1036.7h-2zM1234 1016.7h2V1019.2h-2zM1234 996.7h2V999.2h-2zM1234 989.2h2V991.7h-2zM1234 970.0h2V971.7h-2zM1236 1066.6h2V1068.5h-2zM1236 1063.2h2V1064.9h-2zM1236 1049.2h2V1051.7h-2zM1236 1026.7h2V1029.2h-2zM1236 1006.7h2V1009.2h-2zM1236 1001.7h2V1004.2h-2zM1236 996.7h2V999.2h-2zM1238 1063.2h2V1064.9h-2zM1238 1056.7h2V1059.2h-2zM1238 1026.7h2V1029.2h-2zM1238 1006.7h2V1009.2h-2zM1238 991.7h2V994.2h-2zM1238 984.2h2V986.7h-2zM1240 1059.2h2V1061.7h-2zM1240 1051.7h2V1054.2h-2zM1240 1046.7h2V1049.2h-2zM1240 1006.7h2V1011.7h-2zM1240 996.7h2V999.2h-2zM1242 1046.7h2V1049.2h-2zM1242 1039.2h2V1041.7h-2zM1242 1031.7h2V1034.2h-2zM1242 1016.7h2V1019.2h-2zM1242 1006.7h2V1011.7h-2zM1242 1001.7h2V1004.2h-2zM1242 996.7h2V999.2h-2zM1244 1049.2h2V1051.7h-2zM1244 1036.7h2V1039.2h-2zM1244 1006.7h2V1009.2h-2zM1244 1001.7h2V1004.2h-2zM1244 981.7h2V984.2h-2zM1246 1056.7h2V1059.2h-2zM1246 1026.7h2V1029.2h-2zM1246 1019.2h2V1021.7h-2zM1246 1014.2h2V1016.7h-2zM1246 991.7h2V996.7h-2zM1246 984.2h2V986.7h-2zM1248 1070.7h2V1073.0h-2zM1248 1059.2h2V1061.7h-2zM1248 1051.7h2V1054.2h-2zM1248 1021.7h2V1026.7h-2zM1248 1016.7h2V1019.2h-2zM1248 986.7h2V989.2h-2zM1250 1044.2h2V1046.7h-2zM1250 1031.7h2V1034.2h-2zM1250 1019.2h2V1021.7h-2zM1250 1011.7h2V1014.2h-2zM1250 994.2h2V996.7h-2zM1250 971.7h2V974.2h-2zM1252 1063.2h2V1064.9h-2zM1252 1054.2h2V1056.7h-2zM1252 1046.7h2V1049.2h-2zM1252 1026.7h2V1029.2h-2zM1252 971.7h2V974.2h-2zM1254 1054.2h2V1056.7h-2zM1254 1041.7h2V1044.2h-2zM1254 1031.7h2V1034.2h-2zM1254 981.7h2V984.2h-2zM1256 1019.2h2V1021.7h-2zM1256 1001.7h2V1004.2h-2zM1256 971.7h2V974.2h-2zM1258 1004.2h2V1009.2h-2zM1258 974.2h2V981.7h-2zM1258 970.0h2V971.7h-2zM1260 1044.2h2V1046.7h-2zM1260 984.2h2V986.7h-2zM1262 1034.2h2V1036.7h-2zM1262 1021.7h2V1024.2h-2zM1262 996.7h2V1006.7h-2zM1264 1044.2h2V1046.7h-2zM1264 1036.7h2V1039.2h-2zM1264 1031.7h2V1034.2h-2zM1264 1014.2h2V1019.2h-2zM1264 1001.7h2V1009.2h-2zM1264 981.7h2V984.2h-2zM1264 970.0h2V971.7h-2zM1266 1056.7h2V1059.2h-2zM1266 1036.7h2V1039.2h-2zM1266 1026.7h2V1029.2h-2zM1268 981.7h2V984.2h-2zM1268 976.7h2V979.2h-2zM1268 971.7h2V974.2h-2zM1270 1046.7h2V1049.2h-2zM1270 1021.7h2V1024.2h-2zM1270 1009.2h2V1014.2h-2zM1270 996.7h2V999.2h-2zM1272 1090.9h2V1097.2h-2zM1272 1081.9h2V1086.0h-2zM1272 1068.5h2V1070.7h-2zM1272 1021.7h2V1024.2h-2zM1272 1016.7h2V1019.2h-2zM1272 1004.2h2V1006.7h-2zM1272 991.7h2V994.2h-2zM1272 984.2h2V986.7h-2zM1274 1049.2h2V1051.7h-2zM1274 986.7h2V989.2h-2zM1274 981.7h2V984.2h-2zM1274 976.7h2V979.2h-2zM1274 971.7h2V974.2h-2zM1276 1044.2h2V1049.2h-2zM1276 1031.7h2V1034.2h-2zM1276 1024.2h2V1029.2h-2zM1276 1016.7h2V1019.2h-2zM1276 1006.7h2V1011.7h-2zM1276 1001.7h2V1004.2h-2zM1276 994.2h2V996.7h-2zM1276 986.7h2V989.2h-2zM1278 1049.2h2V1051.7h-2zM1278 1024.2h2V1026.7h-2zM1278 1001.7h2V1004.2h-2zM1278 991.7h2V994.2h-2zM1280 1039.2h2V1041.7h-2zM1280 1011.7h2V1014.2h-2zM1280 1001.7h2V1004.2h-2zM1280 989.2h2V991.7h-2zM1280 984.2h2V986.7h-2zM1282 1029.2h2V1031.7h-2zM1282 981.7h2V984.2h-2zM1284 984.2h2V986.7h-2zM1284 974.2h2V976.7h-2zM1284 970.0h2V971.7h-2zM1286 1009.2h2V1011.7h-2zM1286 979.2h2V984.2h-2zM1288 994.2h2V996.7h-2zM1288 970.0h2V974.2h-2zM1290 1073.0h2V1081.9h-2zM1290 1063.2h2V1064.9h-2zM1290 1044.2h2V1046.7h-2zM1290 1009.2h2V1011.7h-2zM1290 970.0h2V971.7h-2zM1292 1031.7h2V1034.2h-2zM1292 1026.7h2V1029.2h-2zM1292 989.2h2V994.2h-2zM1292 970.0h2V971.7h-2zM1294 1059.2h2V1061.7h-2zM1294 1036.7h2V1039.2h-2zM1294 1014.2h2V1016.7h-2zM1294 1004.2h2V1006.7h-2zM1294 994.2h2V996.7h-2zM1294 989.2h2V991.7h-2zM1294 981.7h2V984.2h-2zM1296 1044.2h2V1046.7h-2zM1296 1036.7h2V1039.2h-2zM1296 1026.7h2V1029.2h-2zM1298 994.2h2V996.7h-2zM1298 981.7h2V984.2h-2zM1300 1068.5h2V1070.7h-2zM1300 1024.2h2V1029.2h-2zM1300 1016.7h2V1021.7h-2zM1300 1006.7h2V1009.2h-2zM1300 986.7h2V991.7h-2zM1300 979.2h2V981.7h-2zM1300 974.2h2V976.7h-2zM1302 1051.7h2V1054.2h-2zM1302 1044.2h2V1046.7h-2zM1302 1036.7h2V1039.2h-2zM1302 1029.2h2V1034.2h-2zM1302 1016.7h2V1021.7h-2zM1302 984.2h2V989.2h-2zM1304 1019.2h2V1024.2h-2zM1304 1004.2h2V1009.2h-2zM1304 989.2h2V991.7h-2zM1306 1056.7h2V1059.2h-2zM1306 1044.2h2V1046.7h-2zM1306 1026.7h2V1029.2h-2zM1306 994.2h2V996.7h-2zM1306 989.2h2V991.7h-2zM1306 974.2h2V976.7h-2zM1308 1044.2h2V1046.7h-2zM1308 1029.2h2V1031.7h-2zM1308 996.7h2V999.2h-2zM1310 1059.2h2V1061.7h-2zM1310 1019.2h2V1021.7h-2zM1310 979.2h2V981.7h-2zM1310 971.7h2V974.2h-2zM1312 1061.7h2V1063.2h-2zM1312 1056.7h2V1059.2h-2zM1312 1049.2h2V1051.7h-2zM1312 1036.7h2V1039.2h-2zM1314 1046.7h2V1051.7h-2zM1314 1039.2h2V1041.7h-2zM1314 1029.2h2V1031.7h-2zM1314 1014.2h2V1016.7h-2zM1314 1004.2h2V1009.2h-2zM1314 984.2h2V986.7h-2zM1314 971.7h2V974.2h-2zM1316 1029.2h2V1031.7h-2zM1316 1011.7h2V1014.2h-2zM1316 986.7h2V991.7h-2zM1316 981.7h2V984.2h-2zM1318 1051.7h2V1056.7h-2zM1318 1041.7h2V1044.2h-2zM1318 1019.2h2V1021.7h-2zM1318 999.2h2V1001.7h-2zM1318 994.2h2V996.7h-2zM1318 971.7h2V974.2h-2zM1320 1034.2h2V1036.7h-2zM1320 1011.7h2V1014.2h-2zM1320 1006.7h2V1009.2h-2zM1320 976.7h2V979.2h-2zM1322 1066.6h2V1068.5h-2zM1322 1056.7h2V1061.7h-2zM1322 1024.2h2V1026.7h-2zM1322 1016.7h2V1019.2h-2zM1322 999.2h2V1001.7h-2zM1324 1061.7h2V1063.2h-2zM1324 1039.2h2V1041.7h-2zM1324 1034.2h2V1036.7h-2zM1324 1006.7h2V1011.7h-2zM1324 974.2h2V976.7h-2zM1324 970.0h2V971.7h-2zM1326 1068.5h2V1070.7h-2zM1326 1061.7h2V1064.9h-2zM1326 1049.2h2V1051.7h-2zM1326 1041.7h2V1046.7h-2zM1326 1034.2h2V1036.7h-2zM1326 1026.7h2V1029.2h-2zM1326 1009.2h2V1011.7h-2zM1326 989.2h2V991.7h-2zM1328 1066.6h2V1068.5h-2zM1328 1046.7h2V1049.2h-2zM1328 1004.2h2V1006.7h-2zM1330 1031.7h2V1034.2h-2zM1330 1026.7h2V1029.2h-2zM1330 1021.7h2V1024.2h-2zM1330 1006.7h2V1009.2h-2zM1330 989.2h2V991.7h-2zM1330 974.2h2V976.7h-2zM1332 1046.7h2V1049.2h-2zM1332 1036.7h2V1039.2h-2zM1332 1024.2h2V1026.7h-2zM1332 1009.2h2V1011.7h-2zM1332 996.7h2V1001.7h-2zM1332 986.7h2V989.2h-2zM1332 979.2h2V984.2h-2zM1332 974.2h2V976.7h-2zM1334 1073.0h2V1075.6h-2zM1334 1044.2h2V1049.2h-2zM1334 1036.7h2V1041.7h-2zM1334 1021.7h2V1024.2h-2zM1334 1014.2h2V1016.7h-2zM1334 986.7h2V989.2h-2zM1334 970.0h2V971.7h-2zM1336 1029.2h2V1031.7h-2zM1336 1024.2h2V1026.7h-2zM1336 981.7h2V984.2h-2zM1338 1059.2h2V1061.7h-2zM1338 1044.2h2V1046.7h-2zM1338 1039.2h2V1041.7h-2zM1338 1034.2h2V1036.7h-2zM1338 989.2h2V994.2h-2zM1342 1031.7h2V1034.2h-2zM1342 991.7h2V994.2h-2zM1342 981.7h2V984.2h-2zM1342 976.7h2V979.2h-2zM1344 1009.2h2V1011.7h-2zM1344 1004.2h2V1006.7h-2zM1346 1059.2h2V1061.7h-2zM1346 1049.2h2V1051.7h-2zM1346 1039.2h2V1041.7h-2zM1346 1026.7h2V1029.2h-2zM1346 1009.2h2V1011.7h-2zM1346 999.2h2V1001.7h-2zM1346 989.2h2V991.7h-2zM1346 974.2h2V976.7h-2zM1346 970.0h2V971.7h-2zM1348 1097.2h2V1121.5h-2zM1348 1075.6h2V1086.0h-2zM1348 1059.2h2V1066.6h-2zM1348 1051.7h2V1054.2h-2zM1348 1009.2h2V1011.7h-2zM1348 976.7h2V979.2h-2zM1350 1063.2h2V1064.9h-2zM1350 1054.2h2V1056.7h-2zM1350 1049.2h2V1051.7h-2zM1350 1034.2h2V1036.7h-2zM1350 1026.7h2V1029.2h-2zM1350 1011.7h2V1014.2h-2zM1350 994.2h2V996.7h-2zM1350 984.2h2V986.7h-2zM1350 974.2h2V976.7h-2zM1350 970.0h2V971.7h-2zM1352 1106.2h2V1121.5h-2zM1352 1090.9h2V1097.2h-2zM1352 1075.6h2V1078.5h-2zM1352 1056.7h2V1059.2h-2zM1352 1036.7h2V1039.2h-2zM1352 1019.2h2V1024.2h-2zM1352 1006.7h2V1009.2h-2zM1352 999.2h2V1004.2h-2zM1352 989.2h2V991.7h-2zM1354 1070.7h2V1073.0h-2zM1354 1044.2h2V1046.7h-2zM1354 986.7h2V989.2h-2zM1354 976.7h2V979.2h-2zM1356 1063.2h2V1064.9h-2zM1356 1059.2h2V1061.7h-2zM1356 1029.2h2V1031.7h-2zM1356 1006.7h2V1011.7h-2zM1356 976.7h2V979.2h-2zM1356 971.7h2V974.2h-2zM1358 996.7h2V999.2h-2zM1358 989.2h2V991.7h-2zM1360 1061.7h2V1063.2h-2zM1360 1041.7h2V1046.7h-2zM1360 1036.7h2V1039.2h-2zM1360 989.2h2V991.7h-2zM1360 981.7h2V984.2h-2zM1360 970.0h2V971.7h-2zM1362 1086.0h2V1097.2h-2zM1362 1054.2h2V1056.7h-2zM1362 1044.2h2V1046.7h-2zM1362 1031.7h2V1034.2h-2zM1362 1024.2h2V1026.7h-2zM1362 979.2h2V981.7h-2zM1362 970.0h2V971.7h-2zM1364 1073.0h2V1075.6h-2zM1364 1064.9h2V1066.6h-2zM1364 1046.7h2V1049.2h-2zM1364 1034.2h2V1041.7h-2zM1364 1016.7h2V1019.2h-2zM1364 991.7h2V994.2h-2zM1366 1073.0h2V1075.6h-2zM1366 1016.7h2V1019.2h-2zM1366 991.7h2V994.2h-2zM1366 970.0h2V971.7h-2zM1368 1056.7h2V1059.2h-2zM1368 1034.2h2V1036.7h-2zM1368 1014.2h2V1016.7h-2zM1368 1006.7h2V1009.2h-2zM1370 1054.2h2V1056.7h-2zM1370 1034.2h2V1036.7h-2zM1370 1026.7h2V1029.2h-2zM1370 1004.2h2V1006.7h-2zM1372 1073.0h2V1075.6h-2zM1372 1059.2h2V1061.7h-2zM1372 1034.2h2V1036.7h-2zM1372 1009.2h2V1014.2h-2zM1372 989.2h2V991.7h-2zM1372 970.0h2V974.2h-2zM1374 1051.7h2V1054.2h-2zM1374 1036.7h2V1039.2h-2zM1374 1029.2h2V1034.2h-2zM1374 1001.7h2V1004.2h-2zM1376 1078.5h2V1081.9h-2zM1376 1064.9h2V1066.6h-2zM1376 1051.7h2V1054.2h-2zM1376 1046.7h2V1049.2h-2zM1376 1001.7h2V1004.2h-2zM1376 989.2h2V991.7h-2zM1376 981.7h2V984.2h-2zM1378 1049.2h2V1051.7h-2zM1378 1039.2h2V1044.2h-2zM1378 1031.7h2V1036.7h-2zM1378 971.7h2V974.2h-2zM1380 1054.2h2V1056.7h-2zM1380 1039.2h2V1041.7h-2zM1380 1034.2h2V1036.7h-2zM1380 1026.7h2V1031.7h-2zM1380 981.7h2V984.2h-2zM1382 1059.2h2V1061.7h-2zM1382 1044.2h2V1046.7h-2zM1382 1036.7h2V1039.2h-2zM1382 1026.7h2V1029.2h-2zM1384 1070.7h2V1073.0h-2zM1384 1051.7h2V1054.2h-2zM1384 1019.2h2V1021.7h-2zM1384 1014.2h2V1016.7h-2zM1384 1004.2h2V1006.7h-2zM1384 981.7h2V984.2h-2zM1384 970.0h2V971.7h-2zM1386 1075.6h2V1078.5h-2zM1386 1068.5h2V1070.7h-2zM1386 1061.7h2V1063.2h-2zM1386 1046.7h2V1049.2h-2zM1386 1001.7h2V1004.2h-2zM1386 976.7h2V979.2h-2zM1388 1046.7h2V1049.2h-2zM1388 1039.2h2V1041.7h-2zM1388 1031.7h2V1034.2h-2zM1388 1016.7h2V1019.2h-2zM1388 991.7h2V994.2h-2zM1390 1068.5h2V1070.7h-2zM1390 1064.9h2V1066.6h-2zM1390 1056.7h2V1063.2h-2zM1390 1046.7h2V1051.7h-2zM1390 1039.2h2V1041.7h-2zM1390 1034.2h2V1036.7h-2zM1390 1001.7h2V1004.2h-2zM1390 971.7h2V974.2h-2zM1392 1046.7h2V1049.2h-2zM1392 1031.7h2V1034.2h-2zM1392 999.2h2V1001.7h-2zM1394 1049.2h2V1054.2h-2zM1394 1016.7h2V1019.2h-2zM1394 986.7h2V989.2h-2zM1396 1054.2h2V1056.7h-2zM1396 1014.2h2V1016.7h-2zM1396 994.2h2V996.7h-2zM1396 979.2h2V981.7h-2zM1398 1059.2h2V1061.7h-2zM1398 989.2h2V994.2h-2zM1398 970.0h2V971.7h-2zM1400 1073.0h2V1075.6h-2zM1400 1061.7h2V1063.2h-2zM1400 1014.2h2V1016.7h-2zM1400 1001.7h2V1004.2h-2zM1400 979.2h2V984.2h-2zM1400 971.7h2V974.2h-2zM1402 1075.6h2V1078.5h-2zM1402 1056.7h2V1061.7h-2zM1402 1034.2h2V1036.7h-2zM1402 1026.7h2V1029.2h-2zM1402 974.2h2V976.7h-2zM1404 1031.7h2V1034.2h-2zM1404 994.2h2V996.7h-2zM1406 1024.2h2V1026.7h-2zM1406 1009.2h2V1011.7h-2zM1408 1041.7h2V1044.2h-2zM1408 1029.2h2V1036.7h-2zM1408 1011.7h2V1014.2h-2zM1408 994.2h2V1001.7h-2zM1410 1051.7h2V1054.2h-2zM1410 984.2h2V986.7h-2zM1410 974.2h2V976.7h-2zM1412 1051.7h2V1054.2h-2zM1412 1044.2h2V1049.2h-2zM1412 1036.7h2V1039.2h-2zM1412 1019.2h2V1021.7h-2zM1412 1009.2h2V1011.7h-2zM1412 1004.2h2V1006.7h-2zM1412 984.2h2V989.2h-2zM1412 979.2h2V981.7h-2zM1414 1049.2h2V1051.7h-2zM1414 1019.2h2V1021.7h-2zM1414 1014.2h2V1016.7h-2zM1414 999.2h2V1004.2h-2zM1414 991.7h2V994.2h-2zM1414 986.7h2V989.2h-2zM1414 976.7h2V979.2h-2zM1414 970.0h2V971.7h-2zM1416 1073.0h2V1075.6h-2zM1416 1046.7h2V1051.7h-2zM1416 1031.7h2V1034.2h-2zM1416 1021.7h2V1024.2h-2zM1416 976.7h2V979.2h-2zM1418 1051.7h2V1054.2h-2zM1420 1066.6h2V1068.5h-2zM1420 1056.7h2V1059.2h-2zM1420 1044.2h2V1046.7h-2zM1420 1034.2h2V1036.7h-2zM1420 991.7h2V994.2h-2zM1420 979.2h2V981.7h-2zM1422 1097.2h2V1121.5h-2zM1422 1086.0h2V1090.9h-2zM1422 1078.5h2V1081.9h-2zM1422 1070.7h2V1073.0h-2zM1422 1011.7h2V1016.7h-2zM1422 984.2h2V989.2h-2zM1422 971.7h2V974.2h-2zM1424 1075.6h2V1078.5h-2zM1424 1061.7h2V1063.2h-2zM1424 1056.7h2V1059.2h-2zM1424 1041.7h2V1044.2h-2zM1424 1031.7h2V1039.2h-2zM1424 1019.2h2V1021.7h-2zM1424 984.2h2V986.7h-2zM1424 976.7h2V981.7h-2zM1424 971.7h2V974.2h-2zM1426 1044.2h2V1046.7h-2zM1426 1039.2h2V1041.7h-2zM1426 1031.7h2V1034.2h-2zM1426 1024.2h2V1026.7h-2zM1426 1014.2h2V1016.7h-2zM1428 1064.9h2V1066.6h-2zM1428 1011.7h2V1014.2h-2zM1428 984.2h2V986.7h-2zM1430 1054.2h2V1056.7h-2zM1430 1049.2h2V1051.7h-2zM1430 1039.2h2V1041.7h-2zM1430 991.7h2V994.2h-2zM1430 984.2h2V986.7h-2zM1432 1097.2h2V1106.2h-2zM1432 1081.9h2V1086.0h-2zM1432 1070.7h2V1073.0h-2zM1432 1061.7h2V1063.2h-2zM1432 1051.7h2V1054.2h-2zM1432 1046.7h2V1049.2h-2zM1432 1019.2h2V1021.7h-2zM1432 1014.2h2V1016.7h-2zM1432 1001.7h2V1004.2h-2zM1432 991.7h2V994.2h-2zM1434 1073.0h2V1075.6h-2zM1434 1061.7h2V1063.2h-2zM1434 1019.2h2V1021.7h-2zM1434 1009.2h2V1014.2h-2zM1434 989.2h2V991.7h-2zM1436 1097.2h2V1106.2h-2zM1436 1086.0h2V1090.9h-2zM1436 1054.2h2V1056.7h-2zM1436 1026.7h2V1029.2h-2zM1436 1011.7h2V1014.2h-2zM1436 986.7h2V989.2h-2zM1436 974.2h2V979.2h-2zM1438 1097.2h2V1106.2h-2zM1438 1063.2h2V1066.6h-2zM1438 1046.7h2V1049.2h-2zM1438 1036.7h2V1039.2h-2zM1438 996.7h2V999.2h-2zM1440 1078.5h2V1081.9h-2zM1440 1064.9h2V1068.5h-2zM1440 1061.7h2V1063.2h-2zM1440 999.2h2V1001.7h-2zM1440 979.2h2V981.7h-2zM1442 1073.0h2V1075.6h-2zM1442 1049.2h2V1051.7h-2zM1442 1039.2h2V1041.7h-2zM1442 974.2h2V976.7h-2zM1444 1051.7h2V1054.2h-2zM1444 1021.7h2V1026.7h-2zM1444 1014.2h2V1016.7h-2zM1444 994.2h2V996.7h-2zM1444 984.2h2V986.7h-2zM1444 974.2h2V976.7h-2zM1446 1070.7h2V1073.0h-2zM1446 1051.7h2V1054.2h-2zM1446 1044.2h2V1046.7h-2zM1446 1036.7h2V1039.2h-2zM1446 1011.7h2V1014.2h-2zM1446 994.2h2V996.7h-2zM1446 989.2h2V991.7h-2z"/>
<path fill="#0000ea" d="M728 1075.6h2V1081.9h-2zM728 1066.6h2V1068.5h-2zM730 1073.0h2V1075.6h-2zM732 1097.2h2V1121.5h-2zM732 1061.7h2V1063.2h-2zM734 1039.2h2V1041.7h-2zM736 1041.7h2V1044.2h-2zM738 1070.7h2V1075.6h-2zM740 1086.0h2V1090.9h-2zM742 1097.2h2V1106.2h-2zM742 1044.2h2V1046.7h-2zM742 1019.2h2V1021.7h-2zM744 1009.2h2V1011.7h-2zM746 1066.6h2V1070.7h-2zM746 1036.7h2V1039.2h-2zM748 1066.6h2V1068.5h-2zM750 1097.2h2V1106.2h-2zM750 1081.9h2V1090.9h-2zM750 1070.7h2V1073.0h-2zM750 1061.7h2V1066.6h-2zM752 1063.2h2V1064.9h-2zM752 1054.2h2V1056.7h-2zM752 996.7h2V999.2h-2zM754 994.2h2V996.7h-2zM756 1075.6h2V1081.9h-2zM756 1066.6h2V1068.5h-2zM758 1070.7h2V1073.0h-2zM758 1066.6h2V1068.5h-2zM758 1063.2h2V1064.9h-2zM758 1054.2h2V1056.7h-2zM758 994.2h2V996.7h-2zM760 1070.7h2V1078.5h-2zM760 1064.9h2V1066.6h-2zM760 1059.2h2V1061.7h-2zM760 1041.7h2V1044.2h-2zM760 1024.2h2V1026.7h-2zM762 1075.6h2V1078.5h-2zM764 1070.7h2V1073.0h-2zM766 1070.7h2V1078.5h-2zM766 1046.7h2V1049.2h-2zM768 1086.0h2V1090.9h-2zM768 1073.0h2V1075.6h-2zM768 1066.6h2V1068.5h-2zM770 1090.9h2V1097.2h-2zM770 1081.9h2V1086.0h-2zM772 1081.9h2V1086.0h-2zM772 1064.9h2V1066.6h-2zM772 1061.7h2V1063.2h-2zM772 1054.2h2V1056.7h-2zM772 1016.7h2V1019.2h-2zM774 1081.9h2V1086.0h-2zM774 1066.6h2V1068.5h-2zM774 1063.2h2V1064.9h-2zM776 1106.2h2V1121.5h-2zM778 1090.9h2V1097.2h-2zM780 1081.9h2V1086.0h-2zM780 1070.7h2V1073.0h-2zM780 1063.2h2V1064.9h-2zM782 1066.6h2V1068.5h-2zM786 1106.2h2V1121.5h-2zM786 1086.0h2V1090.9h-2zM786 1068.5h2V1075.6h-2zM788 1075.6h2V1078.5h-2zM788 1064.9h2V1066.6h-2zM790 1070.7h2V1073.0h-2zM790 1066.6h2V1068.5h-2zM790 1061.7h2V1063.2h-2zM792 1078.5h2V1081.9h-2zM792 1063.2h2V1066.6h-2zM794 1078.5h2V1081.9h-2zM796 1106.2h2V1121.5h-2zM796 1066.6h2V1068.5h-2zM798 1034.2h2V1036.7h-2zM798 1019.2h2V1021.7h-2zM800 1078.5h2V1086.0h-2zM912 1081.9h2V1086.0h-2zM916 1090.9h2V1097.2h-2zM918 1075.6h2V1078.5h-2zM918 1054.2h2V1056.7h-2zM922 1068.5h2V1070.7h-2zM924 1081.9h2V1086.0h-2zM924 1070.7h2V1073.0h-2zM924 1036.7h2V1039.2h-2zM926 1106.2h2V1121.5h-2zM926 1075.6h2V1081.9h-2zM926 1066.6h2V1068.5h-2zM926 1031.7h2V1034.2h-2zM926 1014.2h2V1016.7h-2zM928 1066.6h2V1068.5h-2zM930 1061.7h2V1063.2h-2zM930 989.2h2V991.7h-2zM932 1081.9h2V1086.0h-2zM934 1081.9h2V1086.0h-2zM934 1075.6h2V1078.5h-2zM934 1063.2h2V1064.9h-2zM938 1081.9h2V1086.0h-2zM938 1068.5h2V1070.7h-2zM938 1063.2h2V1064.9h-2zM938 974.2h2V976.7h-2zM940 1106.2h2V1121.5h-2zM940 1064.9h2V1068.5h-2zM942 999.2h2V1001.7h-2zM944 1068.5h2V1070.7h-2zM948 1086.0h2V1090.9h-2zM950 1056.7h2V1059.2h-2zM952 1086.0h2V1090.9h-2zM954 1090.9h2V1097.2h-2zM954 1073.0h2V1075.6h-2zM954 1064.9h2V1066.6h-2zM954 991.7h2V994.2h-2zM958 1066.6h2V1068.5h-2zM960 1064.9h2V1066.6h-2zM960 1041.7h2V1044.2h-2zM960 981.7h2V984.2h-2zM962 1061.7h2V1063.2h-2zM962 1006.7h2V1009.2h-2zM962 986.7h2V989.2h-2zM964 1081.9h2V1106.2h-2zM964 1073.0h2V1075.6h-2zM966 1086.0h2V1090.9h-2zM966 1070.7h2V1078.5h-2zM968 1054.2h2V1056.7h-2zM968 1004.2h2V1006.7h-2zM970 1086.0h2V1090.9h-2zM972 1097.2h2V1106.2h-2zM972 1061.7h2V1063.2h-2zM974 1106.2h2V1121.5h-2zM974 1066.6h2V1068.5h-2zM974 1061.7h2V1063.2h-2zM976 1061.7h2V1063.2h-2zM976 1049.2h2V1051.7h-2zM976 1031.7h2V1034.2h-2zM976 1011.7h2V1014.2h-2zM978 1086.0h2V1090.9h-2zM978 1036.7h2V1039.2h-2zM980 1086.0h2V1090.9h-2zM980 1066.6h2V1068.5h-2zM980 1059.2h2V1061.7h-2zM980 1024.2h2V1026.7h-2zM980 1014.2h2V1016.7h-2zM982 1070.7h2V1073.0h-2zM984 1081.9h2V1086.0h-2zM984 1070.7h2V1073.0h-2zM984 1066.6h2V1068.5h-2zM986 1056.7h2V1059.2h-2zM986 1044.2h2V1046.7h-2zM988 1070.7h2V1073.0h-2zM990 1066.6h2V1068.5h-2zM992 1106.2h2V1121.5h-2zM992 1075.6h2V1081.9h-2zM992 1063.2h2V1064.9h-2zM994 1075.6h2V1078.5h-2zM998 1081.9h2V1086.0h-2zM998 1068.5h2V1075.6h-2zM998 1059.2h2V1063.2h-2zM998 1036.7h2V1039.2h-2zM1000 1064.9h2V1066.6h-2zM1002 1034.2h2V1036.7h-2zM1004 1097.2h2V1106.2h-2zM1004 1075.6h2V1078.5h-2zM1004 1064.9h2V1066.6h-2zM1006 1073.0h2V1075.6h-2zM1016 1073.0h2V1075.6h-2zM1016 1044.2h2V1046.7h-2zM1018 1066.6h2V1068.5h-2zM1018 1063.2h2V1064.9h-2zM1020 1097.2h2V1106.2h-2zM1022 1031.7h2V1034.2h-2zM1024 1061.7h2V1063.2h-2zM1026 1075.6h2V1078.5h-2zM1026 1024.2h2V1026.7h-2zM1028 1051.7h2V1054.2h-2zM1030 1056.7h2V1059.2h-2zM1034 1086.0h2V1090.9h-2zM1034 1073.0h2V1075.6h-2zM1036 1061.7h2V1063.2h-2zM1040 1066.6h2V1068.5h-2zM1042 1106.2h2V1121.5h-2zM1046 1068.5h2V1070.7h-2zM1048 1090.9h2V1097.2h-2zM1048 1009.2h2V1011.7h-2zM1050 1097.2h2V1106.2h-2zM1052 970.0h2V971.7h-2zM1054 1081.9h2V1086.0h-2zM1054 1075.6h2V1078.5h-2zM1056 1081.9h2V1086.0h-2zM1056 1075.6h2V1078.5h-2zM1056 1046.7h2V1049.2h-2zM1058 1070.7h2V1073.0h-2zM1058 1063.2h2V1064.9h-2zM1058 1054.2h2V1056.7h-2zM1058 1011.7h2V1014.2h-2zM1060 1086.0h2V1090.9h-2zM1060 1078.5h2V1081.9h-2zM1062 1011.7h2V1014.2h-2zM1064 1075.6h2V1078.5h-2zM1064 1061.7h2V1063.2h-2zM1064 1049.2h2V1051.7h-2zM1066 1073.0h2V1075.6h-2zM1066 1063.2h2V1064.9h-2zM1068 1078.5h2V1086.0h-2zM1068 1070.7h2V1073.0h-2zM1068 1049.2h2V1051.7h-2zM1068 1044.2h2V1046.7h-2zM1070 1063.2h2V1064.9h-2zM1072 1064.9h2V1066.6h-2zM1072 1061.7h2V1063.2h-2zM1074 1031.7h2V1034.2h-2zM1076 1070.7h2V1073.0h-2zM1076 1063.2h2V1064.9h-2zM1076 1049.2h2V1051.7h-2zM1078 1034.2h2V1039.2h-2zM1078 1024.2h2V1029.2h-2zM1080 1075.6h2V1078.5h-2zM1080 1070.7h2V1073.0h-2zM1080 1066.6h2V1068.5h-2zM1082 1056.7h2V1059.2h-2zM1082 1041.7h2V1044.2h-2zM1084 1044.2h2V1046.7h-2zM1084 1019.2h2V1021.7h-2zM1086 1073.0h2V1075.6h-2zM1086 1063.2h2V1064.9h-2zM1086 1054.2h2V1056.7h-2zM1088 1078.5h2V1081.9h-2zM1088 1066.6h2V1068.5h-2zM1088 979.2h2V981.7h-2zM1094 1031.7h2V1034.2h-2zM1094 1024.2h2V1026.7h-2zM1094 1009.2h2V1011.7h-2zM1094 976.7h2V979.2h-2zM1096 989.2h2V991.7h-2zM1098 1049.2h2V1051.7h-2zM1098 976.7h2V979.2h-2zM1102 1068.5h2V1070.7h-2zM1102 1046.7h2V1049.2h-2zM1102 1036.7h2V1039.2h-2zM1104 1063.2h2V1064.9h-2zM1104 1051.7h2V1054.2h-2zM1104 991.7h2V994.2h-2zM1104 984.2h2V986.7h-2zM1106 1061.7h2V1063.2h-2zM1108 1068.5h2V1070.7h-2zM1110 1041.7h2V1044.2h-2zM1110 1019.2h2V1021.7h-2zM1112 1049.2h2V1051.7h-2zM1114 1066.6h2V1068.5h-2zM1114 1041.7h2V1044.2h-2zM1114 1036.7h2V1039.2h-2zM1118 1041.7h2V1044.2h-2zM1118 1036.7h2V1039.2h-2zM1118 974.2h2V976.7h-2zM1120 1059.2h2V1064.9h-2zM1122 1068.5h2V1070.7h-2zM1122 1024.2h2V1026.7h-2zM1122 991.7h2V994.2h-2zM1124 1073.0h2V1075.6h-2zM1124 1056.7h2V1059.2h-2zM1124 1041.7h2V1044.2h-2zM1126 999.2h2V1001.7h-2zM1128 1106.2h2V1121.5h-2zM1128 1090.9h2V1097.2h-2zM1128 1070.7h2V1073.0h-2zM1128 1063.2h2V1064.9h-2zM1132 1086.0h2V1090.9h-2zM1132 1073.0h2V1075.6h-2zM1132 1066.6h2V1068.5h-2zM1132 1044.2h2V1046.7h-2zM1136 1046.7h2V1049.2h-2zM1138 1054.2h2V1056.7h-2zM1138 1041.7h2V1044.2h-2zM1140 1081.9h2V1090.9h-2zM1140 1064.9h2V1066.6h-2zM1142 1075.6h2V1086.0h-2zM1142 1061.7h2V1063.2h-2zM1144 1061.7h2V1063.2h-2zM1144 1051.7h2V1054.2h-2zM1144 1046.7h2V1049.2h-2zM1144 984.2h2V986.7h-2zM1146 1066.6h2V1068.5h-2zM1146 1061.7h2V1063.2h-2zM1146 1056.7h2V1059.2h-2zM1148 1106.2h2V1121.5h-2zM1150 1046.7h2V1049.2h-2zM1152 1051.7h2V1054.2h-2zM1154 1031.7h2V1039.2h-2zM1154 989.2h2V991.7h-2zM1156 1073.0h2V1075.6h-2zM1156 1063.2h2V1066.6h-2zM1156 1029.2h2V1031.7h-2zM1156 1014.2h2V1016.7h-2zM1158 1073.0h2V1075.6h-2zM1160 1073.0h2V1075.6h-2zM1162 1106.2h2V1121.5h-2zM1162 1086.0h2V1090.9h-2zM1162 1073.0h2V1075.6h-2zM1164 1063.2h2V1064.9h-2zM1164 1059.2h2V1061.7h-2zM1166 1097.2h2V1106.2h-2zM1168 1090.9h2V1097.2h-2zM1170 1066.6h2V1068.5h-2zM1170 1039.2h2V1041.7h-2zM1178 1090.9h2V1097.2h-2zM1178 1061.7h2V1063.2h-2zM1184 1086.0h2V1090.9h-2zM1184 1061.7h2V1064.9h-2zM1190 1097.2h2V1106.2h-2zM1190 1068.5h2V1070.7h-2zM1192 1086.0h2V1090.9h-2zM1192 1070.7h2V1073.0h-2zM1192 1066.6h2V1068.5h-2zM1194 1086.0h2V1090.9h-2zM1196 1097.2h2V1106.2h-2zM1196 1086.0h2V1090.9h-2zM1196 1070.7h2V1073.0h-2zM1196 1063.2h2V1064.9h-2zM1198 1097.2h2V1106.2h-2zM1198 1063.2h2V1064.9h-2zM1206 1086.0h2V1090.9h-2zM1206 1073.0h2V1075.6h-2zM1206 1056.7h2V1059.2h-2zM1208 1064.9h2V1066.6h-2zM1218 1081.9h2V1086.0h-2zM1218 1024.2h2V1026.7h-2zM1220 1070.7h2V1075.6h-2zM1220 1066.6h2V1068.5h-2zM1222 1090.9h2V1097.2h-2zM1222 1078.5h2V1086.0h-2zM1222 1044.2h2V1046.7h-2zM1224 1046.7h2V1049.2h-2zM1224 1031.7h2V1034.2h-2zM1226 1075.6h2V1078.5h-2zM1226 1051.7h2V1054.2h-2zM1228 1064.9h2V1066.6h-2zM1230 1070.7h2V1073.0h-2zM1232 1031.7h2V1034.2h-2zM1234 1078.5h2V1081.9h-2zM1234 1063.2h2V1064.9h-2zM1236 1081.9h2V1086.0h-2zM1238 1061.7h2V1063.2h-2zM1238 1051.7h2V1054.2h-2zM1238 1044.2h2V1046.7h-2zM1238 1029.2h2V1031.7h-2zM1240 1001.7h2V1004.2h-2zM1244 1054.2h2V1056.7h-2zM1244 1004.2h2V1006.7h-2zM1248 1097.2h2V1121.5h-2zM1248 1086.0h2V1090.9h-2zM1248 1078.5h2V1081.9h-2zM1248 1068.5h2V1070.7h-2zM1250 1051.7h2V1054.2h-2zM1252 1039.2h2V1041.7h-2zM1254 1064.9h2V1066.6h-2zM1254 1046.7h2V1049.2h-2zM1258 1031.7h2V1034.2h-2zM1260 1061.7h2V1063.2h-2zM1260 1049.2h2V1051.7h-2zM1260 1026.7h2V1029.2h-2zM1262 1063.2h2V1064.9h-2zM1264 1051.7h2V1054.2h-2zM1264 1039.2h2V1041.7h-2zM1264 1019.2h2V1021.7h-2zM1266 1044.2h2V1046.7h-2zM1266 989.2h2V991.7h-2zM1268 970.0h2V971.7h-2zM1270 1063.2h2V1064.9h-2zM1272 1063.2h2V1068.5h-2zM1272 1039.2h2V1041.7h-2zM1274 1029.2h2V1031.7h-2zM1274 1021.7h2V1024.2h-2zM1274 994.2h2V996.7h-2zM1276 1056.7h2V1059.2h-2zM1278 1070.7h2V1073.0h-2zM1278 1029.2h2V1031.7h-2zM1278 989.2h2V991.7h-2zM1278 981.7h2V984.2h-2zM1280 1026.7h2V1029.2h-2zM1282 1039.2h2V1041.7h-2zM1282 1021.7h2V1024.2h-2zM1284 1044.2h2V1046.7h-2zM1284 1034.2h2V1036.7h-2zM1284 976.7h2V979.2h-2zM1284 971.7h2V974.2h-2zM1286 1006.7h2V1009.2h-2zM1290 1070.7h2V1073.0h-2zM1290 1049.2h2V1051.7h-2zM1292 1046.7h2V1049.2h-2zM1292 971.7h2V974.2h-2zM1294 1054.2h2V1056.7h-2zM1294 1034.2h2V1036.7h-2zM1294 979.2h2V981.7h-2zM1296 1061.7h2V1063.2h-2zM1296 1011.7h2V1014.2h-2zM1296 999.2h2V1001.7h-2zM1298 1041.7h2V1044.2h-2zM1298 1016.7h2V1019.2h-2zM1300 1011.7h2V1014.2h-2zM1302 979.2h2V981.7h-2zM1304 1024.2h2V1026.7h-2zM1304 976.7h2V979.2h-2zM1306 1034.2h2V1036.7h-2zM1306 991.7h2V994.2h-2zM1308 1056.7h2V1059.2h-2zM1310 1004.2h2V1006.7h-2zM1312 1078.5h2V1081.9h-2zM1312 1068.5h2V1070.7h-2zM1312 1039.2h2V1041.7h-2zM1314 1034.2h2V1036.7h-2zM1314 1026.7h2V1029.2h-2zM1314 974.2h2V976.7h-2zM1316 1046.7h2V1049.2h-2zM1316 999.2h2V1001.7h-2zM1318 1031.7h2V1034.2h-2zM1318 996.7h2V999.2h-2zM1320 1056.7h2V1059.2h-2zM1320 1049.2h2V1051.7h-2zM1320 999.2h2V1001.7h-2zM1322 1068.5h2V1070.7h-2zM1322 1063.2h2V1064.9h-2zM1322 1011.7h2V1014.2h-2zM1324 1064.9h2V1066.6h-2zM1324 1026.7h2V1029.2h-2zM1326 1090.9h2V1097.2h-2zM1326 1081.9h2V1086.0h-2zM1326 1075.6h2V1078.5h-2zM1326 1070.7h2V1073.0h-2zM1326 1064.9h2V1066.6h-2zM1326 1056.7h2V1061.7h-2zM1328 1056.7h2V1059.2h-2zM1332 1039.2h2V1041.7h-2zM1332 1029.2h2V1031.7h-2zM1334 1051.7h2V1054.2h-2zM1334 1041.7h2V1044.2h-2zM1334 1019.2h2V1021.7h-2zM1336 1041.7h2V1044.2h-2zM1336 1009.2h2V1011.7h-2zM1336 1004.2h2V1006.7h-2zM1336 989.2h2V991.7h-2zM1338 1086.0h2V1090.9h-2zM1338 1061.7h2V1063.2h-2zM1340 1009.2h2V1014.2h-2zM1342 1046.7h2V1049.2h-2zM1342 1036.7h2V1039.2h-2zM1344 1066.6h2V1068.5h-2zM1344 1059.2h2V1061.7h-2zM1344 1019.2h2V1021.7h-2zM1344 999.2h2V1001.7h-2zM1346 1011.7h2V1014.2h-2zM1350 1075.6h2V1078.5h-2zM1350 1066.6h2V1068.5h-2zM1354 1073.0h2V1075.6h-2zM1354 1064.9h2V1068.5h-2zM1356 1061.7h2V1063.2h-2zM1356 1001.7h2V1004.2h-2zM1360 1063.2h2V1064.9h-2zM1360 1059.2h2V1061.7h-2zM1360 1021.7h2V1024.2h-2zM1362 1070.7h2V1073.0h-2zM1362 989.2h2V991.7h-2zM1364 1086.0h2V1090.9h-2zM1368 1044.2h2V1046.7h-2zM1368 1029.2h2V1031.7h-2zM1368 986.7h2V989.2h-2zM1370 1059.2h2V1061.7h-2zM1370 1041.7h2V1044.2h-2zM1372 1061.7h2V1063.2h-2zM1372 1049.2h2V1051.7h-2zM1374 1061.7h2V1063.2h-2zM1374 1049.2h2V1051.7h-2zM1376 1054.2h2V1056.7h-2zM1376 1039.2h2V1041.7h-2zM1376 979.2h2V981.7h-2zM1378 1073.0h2V1075.6h-2zM1378 1064.9h2V1066.6h-2zM1380 1059.2h2V1061.7h-2zM1380 1031.7h2V1034.2h-2zM1382 1009.2h2V1011.7h-2zM1384 1059.2h2V1061.7h-2zM1386 1078.5h2V1081.9h-2zM1386 1063.2h2V1066.6h-2zM1388 1059.2h2V1061.7h-2zM1388 1026.7h2V1031.7h-2zM1390 1097.2h2V1106.2h-2zM1390 1054.2h2V1056.7h-2zM1390 1026.7h2V1029.2h-2zM1390 970.0h2V971.7h-2zM1392 1059.2h2V1061.7h-2zM1392 1049.2h2V1056.7h-2zM1392 1026.7h2V1029.2h-2zM1392 984.2h2V986.7h-2zM1394 1019.2h2V1021.7h-2zM1396 1024.2h2V1029.2h-2zM1398 1024.2h2V1026.7h-2zM1400 1026.7h2V1031.7h-2zM1400 1016.7h2V1019.2h-2zM1400 999.2h2V1001.7h-2zM1402 1097.2h2V1121.5h-2zM1402 1078.5h2V1086.0h-2zM1402 1064.9h2V1066.6h-2zM1406 1059.2h2V1061.7h-2zM1406 1029.2h2V1031.7h-2zM1406 1019.2h2V1021.7h-2zM1406 996.7h2V999.2h-2zM1410 1059.2h2V1061.7h-2zM1410 1054.2h2V1056.7h-2zM1410 1046.7h2V1051.7h-2zM1410 1029.2h2V1031.7h-2zM1412 1059.2h2V1061.7h-2zM1412 1039.2h2V1041.7h-2zM1412 1034.2h2V1036.7h-2zM1414 1059.2h2V1061.7h-2zM1416 991.7h2V994.2h-2zM1418 1054.2h2V1056.7h-2zM1418 1046.7h2V1049.2h-2zM1418 1036.7h2V1039.2h-2zM1420 1061.7h2V1064.9h-2zM1420 1031.7h2V1034.2h-2zM1422 1090.9h2V1097.2h-2zM1424 1049.2h2V1054.2h-2zM1424 1026.7h2V1029.2h-2zM1426 1059.2h2V1061.7h-2zM1426 1049.2h2V1051.7h-2zM1428 1075.6h2V1078.5h-2zM1430 1059.2h2V1061.7h-2zM1430 1046.7h2V1049.2h-2zM1430 1006.7h2V1009.2h-2zM1432 1078.5h2V1081.9h-2zM1432 1063.2h2V1064.9h-2zM1434 1056.7h2V1059.2h-2zM1434 1006.7h2V1009.2h-2zM1436 1081.9h2V1086.0h-2zM1436 1073.0h2V1075.6h-2zM1436 1068.5h2V1070.7h-2zM1436 1064.9h2V1066.6h-2zM1438 1073.0h2V1075.6h-2zM1438 1068.5h2V1070.7h-2zM1438 1001.7h2V1004.2h-2zM1442 1081.9h2V1086.0h-2zM1442 1056.7h2V1063.2h-2zM1444 1064.9h2V1066.6h-2z"/>
<path fill="#0000ff" d="M730 1078.5h2V1081.9h-2zM734 1086.0h2V1090.9h-2zM734 1066.6h2V1070.7h-2zM734 1063.2h2V1064.9h-2zM734 1046.7h2V1049.2h-2zM736 1063.2h2V1066.6h-2zM738 1106.2h2V1121.5h-2zM742 1106.2h2V1121.5h-2zM746 1073.0h2V1081.9h-2zM752 1073.0h2V1075.6h-2zM752 1068.5h2V1070.7h-2zM754 1106.2h2V1121.5h-2zM754 1090.9h2V1097.2h-2zM754 1073.0h2V1078.5h-2zM754 1066.6h2V1068.5h-2zM760 1061.7h2V1063.2h-2zM762 1097.2h2V1121.5h-2zM762 1066.6h2V1068.5h-2zM764 1086.0h2V1090.9h-2zM764 1075.6h2V1078.5h-2zM764 1059.2h2V1061.7h-2zM764 1041.7h2V1044.2h-2zM766 1068.5h2V1070.7h-2zM766 1061.7h2V1063.2h-2zM766 1016.7h2V1019.2h-2zM768 1097.2h2V1106.2h-2zM768 1081.9h2V1086.0h-2zM768 1068.5h2V1070.7h-2zM770 1097.2h2V1106.2h-2zM774 1097.2h2V1106.2h-2zM774 1075.6h2V1078.5h-2zM774 1064.9h2V1066.6h-2zM782 1086.0h2V1090.9h-2zM786 1090.9h2V1097.2h-2zM786 1078.5h2V1086.0h-2zM788 1097.2h2V1121.5h-2zM788 1086.0h2V1090.9h-2zM790 1081.9h2V1086.0h-2zM790 1046.7h2V1049.2h-2zM792 1081.9h2V1086.0h-2zM794 1073.0h2V1075.6h-2zM794 1064.9h2V1066.6h-2zM798 1070.7h2V1073.0h-2zM798 1051.7h2V1054.2h-2zM800 1106.2h2V1121.5h-2zM910 1066.6h2V1068.5h-2zM910 1061.7h2V1064.9h-2zM914 1106.2h2V1121.5h-2zM914 1090.9h2V1097.2h-2zM914 1075.6h2V1078.5h-2zM914 1068.5h2V1070.7h-2zM918 1090.9h2V1097.2h-2zM918 1046.7h2V1049.2h-2zM922 1049.2h2V1051.7h-2zM924 1106.2h2V1121.5h-2zM924 1075.6h2V1078.5h-2zM924 1064.9h2V1066.6h-2zM924 1049.2h2V1051.7h-2zM926 1090.9h2V1097.2h-2zM926 1061.7h2V1063.2h-2zM928 1068.5h2V1070.7h-2zM930 1081.9h2V1090.9h-2zM930 1068.5h2V1070.7h-2zM932 1059.2h2V1061.7h-2zM934 1068.5h2V1070.7h-2zM938 1073.0h2V1075.6h-2zM940 1068.5h2V1070.7h-2zM940 1061.7h2V1063.2h-2zM940 1051.7h2V1054.2h-2zM942 1056.7h2V1059.2h-2zM944 1073.0h2V1078.5h-2zM948 1078.5h2V1081.9h-2zM950 1078.5h2V1081.9h-2zM952 1097.2h2V1106.2h-2zM954 1086.0h2V1090.9h-2zM954 1075.6h2V1081.9h-2zM956 1081.9h2V1090.9h-2zM956 1070.7h2V1073.0h-2zM956 1056.7h2V1059.2h-2zM958 1086.0h2V1090.9h-2zM960 1051.7h2V1054.2h-2zM962 1075.6h2V1078.5h-2zM962 1070.7h2V1073.0h-2zM962 1063.2h2V1064.9h-2zM964 1070.7h2V1073.0h-2zM966 1063.2h2V1064.9h-2zM966 1014.2h2V1016.7h-2zM968 1073.0h2V1075.6h-2zM968 1064.9h2V1066.6h-2zM968 1041.7h2V1044.2h-2zM976 1064.9h2V1066.6h-2zM976 1034.2h2V1036.7h-2zM978 1075.6h2V1078.5h-2zM978 1068.5h2V1070.7h-2zM978 1054.2h2V1056.7h-2zM980 1073.0h2V1075.6h-2zM980 1064.9h2V1066.6h-2zM980 1051.7h2V1054.2h-2zM982 1090.9h2V1097.2h-2zM982 1063.2h2V1064.9h-2zM984 1078.5h2V1081.9h-2zM984 1073.0h2V1075.6h-2zM984 1068.5h2V1070.7h-2zM986 1066.6h2V1068.5h-2zM986 1054.2h2V1056.7h-2zM992 1073.0h2V1075.6h-2zM992 1066.6h2V1068.5h-2zM994 1106.2h2V1121.5h-2zM994 1081.9h2V1090.9h-2zM994 1070.7h2V1073.0h-2zM994 1064.9h2V1066.6h-2zM996 1106.2h2V1121.5h-2zM996 1075.6h2V1081.9h-2zM998 1075.6h2V1081.9h-2zM1002 1075.6h2V1078.5h-2zM1004 1066.6h2V1068.5h-2zM1006 1090.9h2V1097.2h-2zM1006 1066.6h2V1073.0h-2zM1016 1078.5h2V1081.9h-2zM1016 1066.6h2V1068.5h-2zM1016 1061.7h2V1063.2h-2zM1016 1056.7h2V1059.2h-2zM1018 1068.5h2V1070.7h-2zM1018 999.2h2V1001.7h-2zM1020 1090.9h2V1097.2h-2zM1020 1073.0h2V1075.6h-2zM1020 1041.7h2V1044.2h-2zM1022 1036.7h2V1039.2h-2zM1024 1086.0h2V1090.9h-2zM1024 1064.9h2V1066.6h-2zM1026 1073.0h2V1075.6h-2zM1026 1056.7h2V1059.2h-2zM1026 1049.2h2V1051.7h-2zM1028 1090.9h2V1106.2h-2zM1028 1073.0h2V1075.6h-2zM1028 1066.6h2V1070.7h-2zM1030 1078.5h2V1081.9h-2zM1030 1059.2h2V1064.9h-2zM1032 1106.2h2V1121.5h-2zM1034 1075.6h2V1081.9h-2zM1034 1064.9h2V1068.5h-2zM1036 1086.0h2V1090.9h-2zM1036 1031.7h2V1034.2h-2zM1040 1097.2h2V1106.2h-2zM1042 1097.2h2V1106.2h-2zM1044 1029.2h2V1034.2h-2zM1044 1024.2h2V1026.7h-2zM1046 1097.2h2V1106.2h-2zM1046 1078.5h2V1081.9h-2zM1048 1097.2h2V1106.2h-2zM1050 1078.5h2V1081.9h-2zM1050 1064.9h2V1066.6h-2zM1056 1106.2h2V1121.5h-2zM1058 1073.0h2V1075.6h-2zM1058 1068.5h2V1070.7h-2zM1058 1051.7h2V1054.2h-2zM1062 1106.2h2V1121.5h-2zM1062 1078.5h2V1081.9h-2zM1062 1068.5h2V1070.7h-2zM1062 1061.7h2V1063.2h-2zM1064 1054.2h2V1056.7h-2zM1064 1029.2h2V1031.7h-2zM1066 1070.7h2V1073.0h-2zM1068 1073.0h2V1075.6h-2zM1070 1090.9h2V1097.2h-2zM1070 1064.9h2V1066.6h-2zM1072 1073.0h2V1075.6h-2zM1074 1068.5h2V1070.7h-2zM1074 984.2h2V986.7h-2zM1076 1066.6h2V1070.7h-2zM1078 1049.2h2V1051.7h-2zM1080 1063.2h2V1064.9h-2zM1080 1044.2h2V1046.7h-2zM1082 1021.7h2V1024.2h-2zM1084 1049.2h2V1051.7h-2zM1084 1036.7h2V1039.2h-2zM1084 1006.7h2V1009.2h-2zM1086 1090.9h2V1097.2h-2zM1088 1081.9h2V1086.0h-2zM1088 1075.6h2V1078.5h-2zM1088 1061.7h2V1063.2h-2zM1090 1064.9h2V1066.6h-2zM1090 1059.2h2V1061.7h-2zM1092 1056.7h2V1059.2h-2zM1094 974.2h2V976.7h-2zM1096 1041.7h2V1044.2h-2zM1096 1036.7h2V1039.2h-2zM1096 1006.7h2V1009.2h-2zM1098 1054.2h2V1056.7h-2zM1100 1011.7h2V1014.2h-2zM1100 970.0h2V971.7h-2zM1104 1064.9h2V1066.6h-2zM1104 1039.2h2V1041.7h-2zM1106 1090.9h2V1097.2h-2zM1106 1081.9h2V1086.0h-2zM1106 1068.5h2V1070.7h-2zM1108 1049.2h2V1051.7h-2zM1110 1073.0h2V1075.6h-2zM1110 1063.2h2V1066.6h-2zM1110 1056.7h2V1061.7h-2zM1112 1070.7h2V1073.0h-2zM1112 1046.7h2V1049.2h-2zM1114 1044.2h2V1046.7h-2zM1116 1054.2h2V1056.7h-2zM1118 1063.2h2V1064.9h-2zM1120 1086.0h2V1090.9h-2zM1120 1078.5h2V1081.9h-2zM1120 1066.6h2V1068.5h-2zM1122 1059.2h2V1061.7h-2zM1122 1041.7h2V1044.2h-2zM1122 1014.2h2V1016.7h-2zM1124 1031.7h2V1034.2h-2zM1126 1068.5h2V1070.7h-2zM1126 1031.7h2V1034.2h-2zM1128 1061.7h2V1063.2h-2zM1134 1063.2h2V1064.9h-2zM1134 1049.2h2V1051.7h-2zM1134 1016.7h2V1019.2h-2zM1136 1063.2h2V1064.9h-2zM1136 1029.2h2V1031.7h-2zM1136 1006.7h2V1009.2h-2zM1138 1075.6h2V1078.5h-2zM1138 1046.7h2V1049.2h-2zM1138 1039.2h2V1041.7h-2zM1138 1026.7h2V1031.7h-2zM1138 999.2h2V1001.7h-2zM1142 1097.2h2V1106.2h-2zM1142 1063.2h2V1064.9h-2zM1142 1039.2h2V1041.7h-2zM1144 1056.7h2V1059.2h-2zM1144 1011.7h2V1014.2h-2zM1148 1070.7h2V1073.0h-2zM1150 1061.7h2V1063.2h-2zM1150 1051.7h2V1054.2h-2zM1150 1044.2h2V1046.7h-2zM1152 1066.6h2V1068.5h-2zM1152 1034.2h2V1036.7h-2zM1154 1041.7h2V1044.2h-2zM1156 1070.7h2V1073.0h-2zM1156 1066.6h2V1068.5h-2zM1158 1106.2h2V1121.5h-2zM1160 1041.7h2V1044.2h-2zM1160 1024.2h2V1026.7h-2zM1162 1081.9h2V1086.0h-2zM1170 1070.7h2V1073.0h-2zM1172 1041.7h2V1044.2h-2zM1178 1097.2h2V1121.5h-2zM1178 1073.0h2V1075.6h-2zM1190 1078.5h2V1081.9h-2zM1218 1090.9h2V1097.2h-2zM1218 1070.7h2V1073.0h-2zM1218 1066.6h2V1068.5h-2zM1218 1056.7h2V1059.2h-2zM1224 1070.7h2V1073.0h-2zM1226 1070.7h2V1073.0h-2zM1226 1046.7h2V1049.2h-2zM1228 1066.6h2V1068.5h-2zM1230 1078.5h2V1081.9h-2zM1230 1073.0h2V1075.6h-2zM1230 1046.7h2V1049.2h-2zM1230 1031.7h2V1034.2h-2zM1232 1064.9h2V1066.6h-2zM1234 1090.9h2V1097.2h-2zM1234 1068.5h2V1070.7h-2zM1236 1090.9h2V1106.2h-2zM1236 1075.6h2V1078.5h-2zM1236 1061.7h2V1063.2h-2zM1238 1068.5h2V1070.7h-2zM1240 1070.7h2V1073.0h-2zM1240 1066.6h2V1068.5h-2zM1240 1041.7h2V1046.7h-2zM1240 1029.2h2V1031.7h-2zM1240 1021.7h2V1024.2h-2zM1240 1014.2h2V1016.7h-2zM1242 1073.0h2V1075.6h-2zM1242 1049.2h2V1054.2h-2zM1244 1075.6h2V1078.5h-2zM1244 1046.7h2V1049.2h-2zM1244 1034.2h2V1036.7h-2zM1246 1039.2h2V1041.7h-2zM1246 1031.7h2V1034.2h-2zM1248 1081.9h2V1086.0h-2zM1250 1056.7h2V1061.7h-2zM1250 1016.7h2V1019.2h-2zM1250 996.7h2V999.2h-2zM1252 1068.5h2V1070.7h-2zM1254 1004.2h2V1006.7h-2zM1256 979.2h2V981.7h-2zM1258 1039.2h2V1041.7h-2zM1258 1034.2h2V1036.7h-2zM1260 1063.2h2V1064.9h-2zM1260 1041.7h2V1044.2h-2zM1262 1051.7h2V1054.2h-2zM1262 1016.7h2V1021.7h-2zM1262 984.2h2V986.7h-2zM1262 974.2h2V976.7h-2zM1262 970.0h2V971.7h-2zM1266 1068.5h2V1070.7h-2zM1266 1051.7h2V1054.2h-2zM1266 1029.2h2V1031.7h-2zM1266 1011.7h2V1014.2h-2zM1268 999.2h2V1001.7h-2zM1270 1016.7h2V1019.2h-2zM1274 1011.7h2V1014.2h-2zM1276 1063.2h2V1064.9h-2zM1276 1051.7h2V1054.2h-2zM1278 1081.9h2V1086.0h-2zM1278 1066.6h2V1068.5h-2zM1280 1056.7h2V1059.2h-2zM1282 1041.7h2V1044.2h-2zM1282 1034.2h2V1036.7h-2zM1284 1039.2h2V1044.2h-2zM1284 994.2h2V996.7h-2zM1286 999.2h2V1001.7h-2zM1288 1006.7h2V1009.2h-2zM1292 1066.6h2V1068.5h-2zM1294 1041.7h2V1044.2h-2zM1296 1063.2h2V1064.9h-2zM1296 1024.2h2V1026.7h-2zM1298 1086.0h2V1090.9h-2zM1298 1056.7h2V1059.2h-2zM1298 1024.2h2V1026.7h-2zM1298 999.2h2V1001.7h-2zM1300 1059.2h2V1061.7h-2zM1300 1049.2h2V1051.7h-2zM1300 1029.2h2V1031.7h-2zM1302 1073.0h2V1075.6h-2zM1304 994.2h2V996.7h-2zM1308 1061.7h2V1063.2h-2zM1308 1039.2h2V1041.7h-2zM1310 1046.7h2V1049.2h-2zM1310 1034.2h2V1036.7h-2zM1312 1041.7h2V1044.2h-2zM1316 1031.7h2V1036.7h-2zM1316 991.7h2V994.2h-2zM1318 1046.7h2V1049.2h-2zM1318 1014.2h2V1016.7h-2zM1320 1041.7h2V1044.2h-2zM1322 1086.0h2V1090.9h-2zM1322 1078.5h2V1081.9h-2zM1324 1075.6h2V1078.5h-2zM1324 1070.7h2V1073.0h-2zM1324 1054.2h2V1056.7h-2zM1324 1044.2h2V1046.7h-2zM1328 1086.0h2V1090.9h-2zM1328 1061.7h2V1063.2h-2zM1330 1051.7h2V1054.2h-2zM1330 1046.7h2V1049.2h-2zM1332 1056.7h2V1059.2h-2zM1334 1016.7h2V1019.2h-2zM1334 991.7h2V994.2h-2zM1338 1063.2h2V1068.5h-2zM1340 1054.2h2V1056.7h-2zM1340 1039.2h2V1041.7h-2zM1340 1024.2h2V1026.7h-2zM1342 1016.7h2V1019.2h-2zM1342 1001.7h2V1004.2h-2zM1344 1064.9h2V1066.6h-2zM1344 1054.2h2V1056.7h-2zM1344 986.7h2V989.2h-2zM1346 1075.6h2V1081.9h-2zM1348 1090.9h2V1097.2h-2zM1350 1090.9h2V1097.2h-2zM1354 1090.9h2V1097.2h-2zM1356 1068.5h2V1070.7h-2zM1358 1014.2h2V1019.2h-2zM1360 1066.6h2V1068.5h-2zM1360 1046.7h2V1049.2h-2zM1362 1097.2h2V1106.2h-2zM1364 1090.9h2V1097.2h-2zM1364 1078.5h2V1081.9h-2zM1364 1070.7h2V1073.0h-2zM1366 1061.7h2V1063.2h-2zM1368 1041.7h2V1044.2h-2zM1368 1036.7h2V1039.2h-2zM1370 1036.7h2V1039.2h-2zM1372 1054.2h2V1056.7h-2zM1372 1031.7h2V1034.2h-2zM1372 1026.7h2V1029.2h-2zM1374 1054.2h2V1056.7h-2zM1374 1044.2h2V1046.7h-2zM1376 1044.2h2V1046.7h-2zM1378 1075.6h2V1078.5h-2zM1380 1078.5h2V1081.9h-2zM1380 1063.2h2V1064.9h-2zM1380 1056.7h2V1059.2h-2zM1382 1004.2h2V1006.7h-2zM1384 1044.2h2V1046.7h-2zM1384 1031.7h2V1039.2h-2zM1384 991.7h2V994.2h-2zM1386 1029.2h2V1031.7h-2zM1388 996.7h2V999.2h-2zM1390 1078.5h2V1081.9h-2zM1390 1041.7h2V1044.2h-2zM1392 1044.2h2V1046.7h-2zM1394 1054.2h2V1056.7h-2zM1394 1041.7h2V1044.2h-2zM1394 999.2h2V1001.7h-2zM1394 994.2h2V996.7h-2zM1396 1059.2h2V1061.7h-2zM1396 1039.2h2V1041.7h-2zM1396 1016.7h2V1019.2h-2zM1398 1056.7h2V1059.2h-2zM1398 1049.2h2V1051.7h-2zM1400 1044.2h2V1046.7h-2zM1404 1056.7h2V1059.2h-2zM1404 1039.2h2V1041.7h-2zM1404 984.2h2V986.7h-2zM1408 1051.7h2V1054.2h-2zM1408 1019.2h2V1021.7h-2zM1408 1014.2h2V1016.7h-2zM1408 986.7h2V989.2h-2zM1410 1063.2h2V1064.9h-2zM1410 1009.2h2V1011.7h-2zM1412 1075.6h2V1078.5h-2zM1414 1068.5h2V1070.7h-2zM1414 1039.2h2V1041.7h-2zM1414 1016.7h2V1019.2h-2zM1416 1068.5h2V1070.7h-2zM1418 1064.9h2V1066.6h-2zM1418 1026.7h2V1031.7h-2zM1420 1021.7h2V1026.7h-2zM1420 976.7h2V979.2h-2zM1424 1054.2h2V1056.7h-2zM1426 1066.6h2V1068.5h-2zM1426 1061.7h2V1063.2h-2zM1428 1066.6h2V1070.7h-2zM1428 1063.2h2V1064.9h-2zM1432 1106.2h2V1121.5h-2zM1434 1066.6h2V1068.5h-2zM1436 1090.9h2V1097.2h-2zM1438 1090.9h2V1097.2h-2zM1438 1081.9h2V1086.0h-2zM1438 1070.7h2V1073.0h-2zM1440 1106.2h2V1121.5h-2zM1440 1086.0h2V1090.9h-2zM1440 1073.0h2V1075.6h-2zM1440 1068.5h2V1070.7h-2zM1442 1075.6h2V1078.5h-2zM1442 1068.5h2V1070.7h-2zM1446 1068.5h2V1070.7h-2zM1446 1061.7h2V1063.2h-2zM1446 1006.7h2V1009.2h-2z"/>
<path fill="#0015ff" d="M728 1054.2h2V1056.7h-2zM734 1106.2h2V1121.5h-2zM734 1078.5h2V1081.9h-2zM736 1081.9h2V1086.0h-2zM736 1068.5h2V1070.7h-2zM738 1097.2h2V1106.2h-2zM738 1078.5h2V1081.9h-2zM742 1090.9h2V1097.2h-2zM746 1063.2h2V1064.9h-2zM756 1090.9h2V1097.2h-2zM760 1078.5h2V1081.9h-2zM760 1066.6h2V1068.5h-2zM760 1051.7h2V1054.2h-2zM764 1090.9h2V1097.2h-2zM764 1078.5h2V1086.0h-2zM764 1073.0h2V1075.6h-2zM766 1063.2h2V1064.9h-2zM766 1006.7h2V1009.2h-2zM772 1090.9h2V1097.2h-2zM772 1078.5h2V1081.9h-2zM772 1049.2h2V1051.7h-2zM774 1106.2h2V1121.5h-2zM774 1090.9h2V1097.2h-2zM782 1097.2h2V1106.2h-2zM786 1075.6h2V1078.5h-2zM788 1081.9h2V1086.0h-2zM788 1073.0h2V1075.6h-2zM790 1073.0h2V1075.6h-2zM790 1068.5h2V1070.7h-2zM794 1090.9h2V1097.2h-2zM798 1075.6h2V1078.5h-2zM800 1090.9h2V1106.2h-2zM910 1090.9h2V1106.2h-2zM910 1081.9h2V1086.0h-2zM914 1086.0h2V1090.9h-2zM916 1097.2h2V1106.2h-2zM918 1066.6h2V1068.5h-2zM924 1078.5h2V1081.9h-2zM926 1097.2h2V1106.2h-2zM926 1070.7h2V1075.6h-2zM928 1081.9h2V1090.9h-2zM932 1068.5h2V1070.7h-2zM932 1061.7h2V1063.2h-2zM934 1090.9h2V1097.2h-2zM938 1090.9h2V1097.2h-2zM938 1066.6h2V1068.5h-2zM938 1061.7h2V1063.2h-2zM938 1016.7h2V1019.2h-2zM940 1073.0h2V1075.6h-2zM940 1063.2h2V1064.9h-2zM940 1041.7h2V1044.2h-2zM942 1068.5h2V1070.7h-2zM942 1031.7h2V1034.2h-2zM942 1021.7h2V1024.2h-2zM944 1090.9h2V1097.2h-2zM944 1081.9h2V1086.0h-2zM950 1073.0h2V1075.6h-2zM950 1068.5h2V1070.7h-2zM950 1044.2h2V1046.7h-2zM952 1106.2h2V1121.5h-2zM952 1078.5h2V1081.9h-2zM960 1068.5h2V1070.7h-2zM962 1073.0h2V1075.6h-2zM962 1068.5h2V1070.7h-2zM962 1046.7h2V1049.2h-2zM966 1097.2h2V1106.2h-2zM968 1078.5h2V1081.9h-2zM968 1066.6h2V1068.5h-2zM968 1063.2h2V1064.9h-2zM974 1086.0h2V1090.9h-2zM974 1073.0h2V1075.6h-2zM976 1075.6h2V1078.5h-2zM976 1056.7h2V1059.2h-2zM978 1078.5h2V1081.9h-2zM978 1070.7h2V1075.6h-2zM978 1063.2h2V1064.9h-2zM980 1081.9h2V1086.0h-2zM980 1075.6h2V1078.5h-2zM980 1063.2h2V1064.9h-2zM982 1086.0h2V1090.9h-2zM982 1078.5h2V1081.9h-2zM982 1064.9h2V1066.6h-2zM984 1075.6h2V1078.5h-2zM984 1064.9h2V1066.6h-2zM986 1075.6h2V1078.5h-2zM986 1068.5h2V1070.7h-2zM986 1063.2h2V1064.9h-2zM992 1081.9h2V1090.9h-2zM996 1081.9h2V1090.9h-2zM998 1086.0h2V1090.9h-2zM1002 1106.2h2V1121.5h-2zM1002 1081.9h2V1086.0h-2zM1002 1066.6h2V1068.5h-2zM1006 1078.5h2V1081.9h-2zM1014 999.2h2V1001.7h-2zM1016 1070.7h2V1073.0h-2zM1016 1031.7h2V1034.2h-2zM1018 1078.5h2V1081.9h-2zM1020 1106.2h2V1121.5h-2zM1022 1041.7h2V1044.2h-2zM1024 1041.7h2V1044.2h-2zM1026 1066.6h2V1068.5h-2zM1028 1106.2h2V1121.5h-2zM1028 1086.0h2V1090.9h-2zM1028 1075.6h2V1081.9h-2zM1030 1090.9h2V1097.2h-2zM1036 1106.2h2V1121.5h-2zM1040 1106.2h2V1121.5h-2zM1044 1044.2h2V1049.2h-2zM1046 1106.2h2V1121.5h-2zM1046 1090.9h2V1097.2h-2zM1048 1106.2h2V1121.5h-2zM1050 1021.7h2V1024.2h-2zM1054 1106.2h2V1121.5h-2zM1054 1090.9h2V1097.2h-2zM1054 1068.5h2V1070.7h-2zM1056 1097.2h2V1106.2h-2zM1056 1086.0h2V1090.9h-2zM1056 1068.5h2V1070.7h-2zM1058 1075.6h2V1081.9h-2zM1058 1059.2h2V1063.2h-2zM1062 1086.0h2V1090.9h-2zM1064 1066.6h2V1070.7h-2zM1066 1078.5h2V1081.9h-2zM1068 1068.5h2V1070.7h-2zM1068 1064.9h2V1066.6h-2zM1070 1075.6h2V1078.5h-2zM1070 1059.2h2V1061.7h-2zM1072 1106.2h2V1121.5h-2zM1072 1078.5h2V1081.9h-2zM1072 1063.2h2V1064.9h-2zM1076 1078.5h2V1081.9h-2zM1078 1061.7h2V1063.2h-2zM1078 1044.2h2V1046.7h-2zM1080 1078.5h2V1081.9h-2zM1080 1064.9h2V1066.6h-2zM1082 1019.2h2V1021.7h-2zM1082 1014.2h2V1016.7h-2zM1086 1106.2h2V1121.5h-2zM1086 1078.5h2V1081.9h-2zM1090 1049.2h2V1051.7h-2zM1092 1049.2h2V1051.7h-2zM1096 1049.2h2V1051.7h-2zM1098 1068.5h2V1070.7h-2zM1098 1044.2h2V1046.7h-2zM1098 1039.2h2V1041.7h-2zM1100 1066.6h2V1068.5h-2zM1100 1061.7h2V1063.2h-2zM1102 1066.6h2V1068.5h-2zM1102 1059.2h2V1061.7h-2zM1104 1078.5h2V1081.9h-2zM1104 1036.7h2V1039.2h-2zM1106 1097.2h2V1121.5h-2zM1108 1031.7h2V1034.2h-2zM1110 1075.6h2V1078.5h-2zM1112 1086.0h2V1090.9h-2zM1112 1064.9h2V1066.6h-2zM1114 1070.7h2V1073.0h-2zM1116 1073.0h2V1075.6h-2zM1120 1075.6h2V1078.5h-2zM1122 1063.2h2V1064.9h-2zM1122 1051.7h2V1056.7h-2zM1124 1061.7h2V1063.2h-2zM1126 1059.2h2V1061.7h-2zM1128 1081.9h2V1090.9h-2zM1132 1090.9h2V1106.2h-2zM1134 1078.5h2V1081.9h-2zM1136 1056.7h2V1061.7h-2zM1136 1044.2h2V1046.7h-2zM1138 1059.2h2V1061.7h-2zM1142 1068.5h2V1070.7h-2zM1144 1075.6h2V1078.5h-2zM1144 1063.2h2V1064.9h-2zM1146 1090.9h2V1097.2h-2zM1146 1075.6h2V1081.9h-2zM1146 1064.9h2V1066.6h-2zM1150 1073.0h2V1075.6h-2zM1150 1064.9h2V1066.6h-2zM1150 1019.2h2V1024.2h-2zM1152 1054.2h2V1056.7h-2zM1154 1056.7h2V1059.2h-2zM1158 1078.5h2V1090.9h-2zM1160 1086.0h2V1090.9h-2zM1160 1068.5h2V1070.7h-2zM1160 1064.9h2V1066.6h-2zM1162 1090.9h2V1097.2h-2zM1166 1081.9h2V1086.0h-2zM1170 1075.6h2V1078.5h-2zM1196 1078.5h2V1086.0h-2zM1198 1081.9h2V1090.9h-2zM1200 1097.2h2V1106.2h-2zM1218 1073.0h2V1075.6h-2zM1218 1068.5h2V1070.7h-2zM1218 996.7h2V999.2h-2zM1220 1061.7h2V1063.2h-2zM1220 1036.7h2V1039.2h-2zM1222 1097.2h2V1106.2h-2zM1224 1066.6h2V1068.5h-2zM1224 1063.2h2V1064.9h-2zM1224 1014.2h2V1016.7h-2zM1226 1090.9h2V1097.2h-2zM1228 1078.5h2V1081.9h-2zM1228 1068.5h2V1070.7h-2zM1228 1061.7h2V1064.9h-2zM1230 1068.5h2V1070.7h-2zM1230 1063.2h2V1064.9h-2zM1232 1075.6h2V1078.5h-2zM1232 1059.2h2V1063.2h-2zM1234 1075.6h2V1078.5h-2zM1234 1066.6h2V1068.5h-2zM1234 1059.2h2V1061.7h-2zM1238 1066.6h2V1068.5h-2zM1242 1034.2h2V1036.7h-2zM1244 1063.2h2V1064.9h-2zM1244 1059.2h2V1061.7h-2zM1246 1068.5h2V1070.7h-2zM1246 1061.7h2V1063.2h-2zM1246 1051.7h2V1054.2h-2zM1246 1041.7h2V1046.7h-2zM1248 1090.9h2V1097.2h-2zM1248 1064.9h2V1066.6h-2zM1248 1061.7h2V1063.2h-2zM1250 1049.2h2V1051.7h-2zM1250 1041.7h2V1044.2h-2zM1250 976.7h2V979.2h-2zM1252 1075.6h2V1078.5h-2zM1252 1061.7h2V1063.2h-2zM1252 1056.7h2V1059.2h-2zM1254 1068.5h2V1070.7h-2zM1254 1044.2h2V1046.7h-2zM1256 1021.7h2V1024.2h-2zM1258 1059.2h2V1061.7h-2zM1258 1044.2h2V1046.7h-2zM1258 1014.2h2V1016.7h-2zM1260 1066.6h2V1068.5h-2zM1260 1036.7h2V1039.2h-2zM1264 1054.2h2V1056.7h-2zM1264 1046.7h2V1049.2h-2zM1264 1009.2h2V1011.7h-2zM1266 1064.9h2V1066.6h-2zM1270 1061.7h2V1063.2h-2zM1270 1041.7h2V1046.7h-2zM1272 1097.2h2V1121.5h-2zM1274 1046.7h2V1049.2h-2zM1274 1034.2h2V1036.7h-2zM1274 989.2h2V991.7h-2zM1276 1059.2h2V1061.7h-2zM1276 1004.2h2V1006.7h-2zM1278 1073.0h2V1078.5h-2zM1278 1061.7h2V1063.2h-2zM1280 1031.7h2V1034.2h-2zM1282 1056.7h2V1059.2h-2zM1282 1049.2h2V1051.7h-2zM1284 1061.7h2V1063.2h-2zM1284 1046.7h2V1049.2h-2zM1286 1011.7h2V1016.7h-2zM1290 1081.9h2V1086.0h-2zM1292 1054.2h2V1056.7h-2zM1294 1049.2h2V1054.2h-2zM1294 974.2h2V976.7h-2zM1296 994.2h2V996.7h-2zM1298 1054.2h2V1056.7h-2zM1298 1039.2h2V1041.7h-2zM1300 1064.9h2V1066.6h-2zM1300 1044.2h2V1046.7h-2zM1302 1054.2h2V1056.7h-2zM1304 991.7h2V994.2h-2zM1306 1046.7h2V1049.2h-2zM1308 1068.5h2V1070.7h-2zM1308 986.7h2V989.2h-2zM1310 1051.7h2V1054.2h-2zM1316 1064.9h2V1068.5h-2zM1316 1056.7h2V1059.2h-2zM1316 1036.7h2V1039.2h-2zM1316 1016.7h2V1019.2h-2zM1318 1039.2h2V1041.7h-2zM1320 1026.7h2V1029.2h-2zM1320 1016.7h2V1019.2h-2zM1322 1064.9h2V1066.6h-2zM1322 1054.2h2V1056.7h-2zM1324 1066.6h2V1068.5h-2zM1326 1078.5h2V1081.9h-2zM1326 1073.0h2V1075.6h-2zM1328 1054.2h2V1056.7h-2zM1332 1044.2h2V1046.7h-2zM1334 1063.2h2V1064.9h-2zM1336 1019.2h2V1021.7h-2zM1338 1090.9h2V1097.2h-2zM1338 1078.5h2V1081.9h-2zM1338 1070.7h2V1073.0h-2zM1338 1056.7h2V1059.2h-2zM1338 1051.7h2V1054.2h-2zM1340 1059.2h2V1061.7h-2zM1340 1044.2h2V1046.7h-2zM1340 1014.2h2V1016.7h-2zM1342 1054.2h2V1056.7h-2zM1342 1021.7h2V1024.2h-2zM1342 1004.2h2V1006.7h-2zM1344 1049.2h2V1051.7h-2zM1344 1034.2h2V1041.7h-2zM1346 1073.0h2V1075.6h-2zM1346 1063.2h2V1064.9h-2zM1348 1086.0h2V1090.9h-2zM1350 1078.5h2V1081.9h-2zM1350 1073.0h2V1075.6h-2zM1354 1075.6h2V1078.5h-2zM1354 1061.7h2V1063.2h-2zM1354 1054.2h2V1056.7h-2zM1356 1070.7h2V1073.0h-2zM1356 1066.6h2V1068.5h-2zM1360 1064.9h2V1066.6h-2zM1362 1073.0h2V1075.6h-2zM1364 1106.2h2V1121.5h-2zM1364 1081.9h2V1086.0h-2zM1364 1075.6h2V1078.5h-2zM1364 1051.7h2V1054.2h-2zM1366 1075.6h2V1081.9h-2zM1366 1066.6h2V1068.5h-2zM1368 1059.2h2V1061.7h-2zM1368 1011.7h2V1014.2h-2zM1370 1031.7h2V1034.2h-2zM1372 1064.9h2V1066.6h-2zM1372 1039.2h2V1041.7h-2zM1376 1066.6h2V1068.5h-2zM1380 1081.9h2V1086.0h-2zM1380 1073.0h2V1075.6h-2zM1380 1068.5h2V1070.7h-2zM1380 1064.9h2V1066.6h-2zM1380 1061.7h2V1063.2h-2zM1380 1046.7h2V1051.7h-2zM1382 1054.2h2V1056.7h-2zM1382 1024.2h2V1026.7h-2zM1384 1066.6h2V1068.5h-2zM1386 1081.9h2V1086.0h-2zM1386 1073.0h2V1075.6h-2zM1388 1064.9h2V1066.6h-2zM1388 1044.2h2V1046.7h-2zM1390 1075.6h2V1078.5h-2zM1390 1070.7h2V1073.0h-2zM1392 1024.2h2V1026.7h-2zM1392 994.2h2V996.7h-2zM1392 986.7h2V989.2h-2zM1394 1006.7h2V1009.2h-2zM1394 991.7h2V994.2h-2zM1394 971.7h2V974.2h-2zM1398 1041.7h2V1049.2h-2zM1398 1036.7h2V1039.2h-2zM1400 1078.5h2V1081.9h-2zM1400 1064.9h2V1066.6h-2zM1400 1054.2h2V1059.2h-2zM1400 1046.7h2V1049.2h-2zM1404 1049.2h2V1051.7h-2zM1406 1073.0h2V1075.6h-2zM1406 1063.2h2V1064.9h-2zM1406 1039.2h2V1041.7h-2zM1408 1061.7h2V1063.2h-2zM1408 1054.2h2V1056.7h-2zM1408 1024.2h2V1026.7h-2zM1410 1016.7h2V1021.7h-2zM1412 1063.2h2V1064.9h-2zM1412 1031.7h2V1034.2h-2zM1414 1061.7h2V1063.2h-2zM1414 1051.7h2V1054.2h-2zM1414 1031.7h2V1034.2h-2zM1416 1106.2h2V1121.5h-2zM1418 1061.7h2V1063.2h-2zM1418 1041.7h2V1046.7h-2zM1420 1054.2h2V1056.7h-2zM1426 1063.2h2V1066.6h-2zM1428 1070.7h2V1075.6h-2zM1428 1061.7h2V1063.2h-2zM1430 1019.2h2V1021.7h-2zM1438 1078.5h2V1081.9h-2zM1438 1066.6h2V1068.5h-2zM1438 1029.2h2V1031.7h-2zM1440 1097.2h2V1106.2h-2zM1442 1086.0h2V1090.9h-2zM1442 1064.9h2V1068.5h-2zM1442 1051.7h2V1054.2h-2zM1444 1036.7h2V1039.2h-2zM1446 1063.2h2V1064.9h-2zM1446 1054.2h2V1056.7h-2z"/>
<path fill="#002aff" d="M734 1097.2h2V1106.2h-2zM734 1075.6h2V1078.5h-2zM736 1078.5h2V1081.9h-2zM736 1066.6h2V1068.5h-2zM736 1056.7h2V1059.2h-2zM750 1066.6h2V1068.5h-2zM752 1086.0h2V1090.9h-2zM752 1066.6h2V1068.5h-2zM754 1097.2h2V1106.2h-2zM754 1081.9h2V1090.9h-2zM758 1106.2h2V1121.5h-2zM758 1086.0h2V1097.2h-2zM762 1086.0h2V1090.9h-2zM766 1081.9h2V1086.0h-2zM766 1064.9h2V1066.6h-2zM768 1106.2h2V1121.5h-2zM770 1075.6h2V1081.9h-2zM772 1073.0h2V1075.6h-2zM774 1078.5h2V1081.9h-2zM774 1061.7h2V1063.2h-2zM780 1078.5h2V1081.9h-2zM792 1056.7h2V1059.2h-2zM794 1081.9h2V1090.9h-2zM794 1066.6h2V1068.5h-2zM798 1106.2h2V1121.5h-2zM798 1081.9h2V1086.0h-2zM798 1073.0h2V1075.6h-2zM798 1061.7h2V1063.2h-2zM910 1086.0h2V1090.9h-2zM918 1097.2h2V1121.5h-2zM924 1073.0h2V1075.6h-2zM924 1061.7h2V1064.9h-2zM926 1081.9h2V1086.0h-2zM930 1106.2h2V1121.5h-2zM930 1075.6h2V1078.5h-2zM932 1086.0h2V1106.2h-2zM932 1075.6h2V1078.5h-2zM934 1097.2h2V1106.2h-2zM938 1086.0h2V1090.9h-2zM940 1090.9h2V1097.2h-2zM942 1070.7h2V1075.6h-2zM942 1063.2h2V1064.9h-2zM944 1097.2h2V1121.5h-2zM944 1078.5h2V1081.9h-2zM950 1090.9h2V1097.2h-2zM950 1070.7h2V1073.0h-2zM954 1106.2h2V1121.5h-2zM956 1073.0h2V1075.6h-2zM956 1068.5h2V1070.7h-2zM958 1078.5h2V1081.9h-2zM960 1081.9h2V1086.0h-2zM960 1075.6h2V1078.5h-2zM960 1070.7h2V1073.0h-2zM960 1061.7h2V1063.2h-2zM962 1078.5h2V1081.9h-2zM964 1075.6h2V1078.5h-2zM966 1090.9h2V1097.2h-2zM966 1081.9h2V1086.0h-2zM974 1090.9h2V1106.2h-2zM976 1086.0h2V1090.9h-2zM976 1078.5h2V1081.9h-2zM976 1073.0h2V1075.6h-2zM976 1039.2h2V1041.7h-2zM978 1081.9h2V1086.0h-2zM982 1054.2h2V1056.7h-2zM986 1078.5h2V1081.9h-2zM986 1061.7h2V1063.2h-2zM986 1051.7h2V1054.2h-2zM996 1097.2h2V1106.2h-2zM996 1073.0h2V1075.6h-2zM998 1090.9h2V1097.2h-2zM1002 1097.2h2V1106.2h-2zM1002 1086.0h2V1090.9h-2zM1016 1064.9h2V1066.6h-2zM1016 1051.7h2V1054.2h-2zM1020 1078.5h2V1081.9h-2zM1022 1044.2h2V1046.7h-2zM1022 1026.7h2V1029.2h-2zM1024 1075.6h2V1078.5h-2zM1024 1068.5h2V1073.0h-2zM1026 1106.2h2V1121.5h-2zM1026 1086.0h2V1090.9h-2zM1026 1078.5h2V1081.9h-2zM1026 1070.7h2V1073.0h-2zM1030 1097.2h2V1106.2h-2zM1030 1086.0h2V1090.9h-2zM1036 1075.6h2V1078.5h-2zM1038 1034.2h2V1036.7h-2zM1050 1106.2h2V1121.5h-2zM1050 1090.9h2V1097.2h-2zM1050 1068.5h2V1070.7h-2zM1054 1066.6h2V1068.5h-2zM1054 1061.7h2V1063.2h-2zM1062 1073.0h2V1075.6h-2zM1064 1078.5h2V1081.9h-2zM1066 1090.9h2V1097.2h-2zM1068 1106.2h2V1121.5h-2zM1068 1090.9h2V1097.2h-2zM1070 1086.0h2V1090.9h-2zM1070 1073.0h2V1075.6h-2zM1074 1056.7h2V1059.2h-2zM1076 1064.9h2V1066.6h-2zM1080 1061.7h2V1063.2h-2zM1082 1046.7h2V1049.2h-2zM1082 986.7h2V989.2h-2zM1088 1090.9h2V1097.2h-2zM1092 1031.7h2V1034.2h-2zM1094 1006.7h2V1009.2h-2zM1096 1024.2h2V1026.7h-2zM1098 1064.9h2V1068.5h-2zM1098 1004.2h2V1006.7h-2zM1098 994.2h2V996.7h-2zM1100 1049.2h2V1051.7h-2zM1102 1073.0h2V1075.6h-2zM1102 1064.9h2V1066.6h-2zM1104 1068.5h2V1070.7h-2zM1106 1086.0h2V1090.9h-2zM1108 1009.2h2V1011.7h-2zM1110 1070.7h2V1073.0h-2zM1114 1073.0h2V1075.6h-2zM1114 1056.7h2V1059.2h-2zM1114 1039.2h2V1041.7h-2zM1116 1059.2h2V1066.6h-2zM1118 1061.7h2V1063.2h-2zM1120 1090.9h2V1097.2h-2zM1120 1081.9h2V1086.0h-2zM1122 1073.0h2V1075.6h-2zM1122 1064.9h2V1066.6h-2zM1122 1016.7h2V1019.2h-2zM1124 1066.6h2V1068.5h-2zM1124 1063.2h2V1064.9h-2zM1126 1106.2h2V1121.5h-2zM1126 1081.9h2V1086.0h-2zM1126 1064.9h2V1066.6h-2zM1126 1049.2h2V1051.7h-2zM1126 1044.2h2V1046.7h-2zM1126 1026.7h2V1029.2h-2zM1128 1097.2h2V1106.2h-2zM1132 1075.6h2V1078.5h-2zM1134 1081.9h2V1086.0h-2zM1134 1066.6h2V1068.5h-2zM1134 1061.7h2V1063.2h-2zM1136 1064.9h2V1066.6h-2zM1138 1070.7h2V1073.0h-2zM1138 1064.9h2V1068.5h-2zM1142 1070.7h2V1073.0h-2zM1142 1064.9h2V1066.6h-2zM1144 1073.0h2V1075.6h-2zM1144 1041.7h2V1044.2h-2zM1146 1097.2h2V1106.2h-2zM1150 1070.7h2V1073.0h-2zM1150 1059.2h2V1061.7h-2zM1152 1075.6h2V1078.5h-2zM1152 1068.5h2V1073.0h-2zM1152 1049.2h2V1051.7h-2zM1154 1064.9h2V1068.5h-2zM1154 1026.7h2V1029.2h-2zM1156 1086.0h2V1090.9h-2zM1156 1061.7h2V1063.2h-2zM1158 1097.2h2V1106.2h-2zM1160 1066.6h2V1068.5h-2zM1162 1075.6h2V1078.5h-2zM1162 1068.5h2V1073.0h-2zM1218 1078.5h2V1081.9h-2zM1218 1063.2h2V1064.9h-2zM1220 1075.6h2V1078.5h-2zM1222 1106.2h2V1121.5h-2zM1224 1061.7h2V1063.2h-2zM1226 1078.5h2V1081.9h-2zM1228 1097.2h2V1106.2h-2zM1230 1066.6h2V1068.5h-2zM1232 1051.7h2V1054.2h-2zM1236 1106.2h2V1121.5h-2zM1236 1086.0h2V1090.9h-2zM1236 1078.5h2V1081.9h-2zM1238 1031.7h2V1034.2h-2zM1240 1016.7h2V1019.2h-2zM1244 1041.7h2V1044.2h-2zM1246 1034.2h2V1036.7h-2zM1252 1078.5h2V1081.9h-2zM1256 1044.2h2V1046.7h-2zM1258 1036.7h2V1039.2h-2zM1260 1068.5h2V1070.7h-2zM1262 1054.2h2V1056.7h-2zM1262 1029.2h2V1031.7h-2zM1264 1059.2h2V1061.7h-2zM1266 1041.7h2V1044.2h-2zM1266 979.2h2V981.7h-2zM1270 1066.6h2V1068.5h-2zM1270 1056.7h2V1059.2h-2zM1270 1031.7h2V1034.2h-2zM1270 1026.7h2V1029.2h-2zM1272 1086.0h2V1090.9h-2zM1274 1070.7h2V1073.0h-2zM1276 1066.6h2V1068.5h-2zM1276 1021.7h2V1024.2h-2zM1278 1106.2h2V1121.5h-2zM1278 1031.7h2V1034.2h-2zM1282 1059.2h2V1061.7h-2zM1282 1051.7h2V1054.2h-2zM1284 1026.7h2V1029.2h-2zM1284 1001.7h2V1004.2h-2zM1290 1090.9h2V1097.2h-2zM1292 1051.7h2V1054.2h-2zM1294 1056.7h2V1059.2h-2zM1298 1073.0h2V1078.5h-2zM1298 1061.7h2V1063.2h-2zM1298 1044.2h2V1046.7h-2zM1300 1070.7h2V1073.0h-2zM1300 1051.7h2V1054.2h-2zM1302 1061.7h2V1063.2h-2zM1302 1041.7h2V1044.2h-2zM1302 996.7h2V999.2h-2zM1304 1051.7h2V1054.2h-2zM1304 1041.7h2V1044.2h-2zM1308 1066.6h2V1068.5h-2zM1310 1054.2h2V1059.2h-2zM1316 1049.2h2V1054.2h-2zM1316 1044.2h2V1046.7h-2zM1318 1068.5h2V1070.7h-2zM1320 1070.7h2V1073.0h-2zM1320 1051.7h2V1054.2h-2zM1322 1106.2h2V1121.5h-2zM1324 1090.9h2V1097.2h-2zM1324 1078.5h2V1081.9h-2zM1324 1063.2h2V1064.9h-2zM1326 1097.2h2V1106.2h-2zM1328 1106.2h2V1121.5h-2zM1328 1081.9h2V1086.0h-2zM1328 1070.7h2V1075.6h-2zM1328 1064.9h2V1066.6h-2zM1332 1063.2h2V1064.9h-2zM1334 1061.7h2V1063.2h-2zM1334 1056.7h2V1059.2h-2zM1336 999.2h2V1001.7h-2zM1338 1097.2h2V1106.2h-2zM1338 1073.0h2V1075.6h-2zM1340 1056.7h2V1059.2h-2zM1340 1051.7h2V1054.2h-2zM1340 1034.2h2V1036.7h-2zM1342 1073.0h2V1075.6h-2zM1342 1068.5h2V1070.7h-2zM1342 1029.2h2V1031.7h-2zM1344 1061.7h2V1064.9h-2zM1344 1056.7h2V1059.2h-2zM1344 1046.7h2V1049.2h-2zM1344 1041.7h2V1044.2h-2zM1344 1016.7h2V1019.2h-2zM1346 1081.9h2V1090.9h-2zM1346 1070.7h2V1073.0h-2zM1346 1064.9h2V1068.5h-2zM1346 1061.7h2V1063.2h-2zM1350 1106.2h2V1121.5h-2zM1354 1068.5h2V1070.7h-2zM1354 1063.2h2V1064.9h-2zM1356 1081.9h2V1090.9h-2zM1360 1070.7h2V1073.0h-2zM1366 1063.2h2V1066.6h-2zM1366 1046.7h2V1049.2h-2zM1368 1068.5h2V1070.7h-2zM1368 1054.2h2V1056.7h-2zM1368 1046.7h2V1049.2h-2zM1368 999.2h2V1001.7h-2zM1370 1044.2h2V1046.7h-2zM1372 1066.6h2V1068.5h-2zM1372 1063.2h2V1064.9h-2zM1374 1070.7h2V1073.0h-2zM1374 1063.2h2V1064.9h-2zM1376 1070.7h2V1078.5h-2zM1376 1063.2h2V1064.9h-2zM1376 1056.7h2V1059.2h-2zM1378 1078.5h2V1081.9h-2zM1386 1004.2h2V1006.7h-2zM1388 1054.2h2V1056.7h-2zM1388 1014.2h2V1016.7h-2zM1390 1073.0h2V1075.6h-2zM1392 1064.9h2V1066.6h-2zM1392 1034.2h2V1036.7h-2zM1394 1056.7h2V1059.2h-2zM1394 1011.7h2V1014.2h-2zM1398 1061.7h2V1063.2h-2zM1400 1063.2h2V1064.9h-2zM1406 1068.5h2V1070.7h-2zM1408 1056.7h2V1059.2h-2zM1408 1021.7h2V1024.2h-2zM1410 1070.7h2V1073.0h-2zM1410 1041.7h2V1046.7h-2zM1414 1021.7h2V1024.2h-2zM1416 1086.0h2V1097.2h-2zM1418 984.2h2V986.7h-2zM1420 1075.6h2V1078.5h-2zM1420 1068.5h2V1070.7h-2zM1420 1036.7h2V1039.2h-2zM1424 1070.7h2V1073.0h-2zM1424 1066.6h2V1068.5h-2zM1428 1078.5h2V1081.9h-2zM1428 1056.7h2V1059.2h-2zM1430 1070.7h2V1073.0h-2zM1430 1061.7h2V1063.2h-2zM1434 994.2h2V996.7h-2zM1436 1106.2h2V1121.5h-2zM1438 1106.2h2V1121.5h-2zM1438 1086.0h2V1090.9h-2zM1442 1078.5h2V1081.9h-2zM1444 1061.7h2V1064.9h-2zM1446 1075.6h2V1078.5h-2zM1446 1031.7h2V1034.2h-2z"/>
<path fill="#0040ff" d="M736 1090.9h2V1097.2h-2zM736 1075.6h2V1078.5h-2zM738 1086.0h2V1090.9h-2zM746 1090.9h2V1106.2h-2zM750 1106.2h2V1121.5h-2zM756 1086.0h2V1090.9h-2zM766 1106.2h2V1121.5h-2zM768 1090.9h2V1097.2h-2zM772 1106.2h2V1121.5h-2zM788 1090.9h2V1097.2h-2zM790 1090.9h2V1097.2h-2zM790 1078.5h2V1081.9h-2zM792 1070.7h2V1073.0h-2zM798 1078.5h2V1081.9h-2zM910 1106.2h2V1121.5h-2zM914 1097.2h2V1106.2h-2zM928 1090.9h2V1097.2h-2zM930 1090.9h2V1097.2h-2zM934 1106.2h2V1121.5h-2zM938 1106.2h2V1121.5h-2zM940 1081.9h2V1086.0h-2zM942 1066.6h2V1068.5h-2zM950 1075.6h2V1078.5h-2zM956 1090.9h2V1097.2h-2zM956 1078.5h2V1081.9h-2zM958 1097.2h2V1106.2h-2zM960 1086.0h2V1090.9h-2zM960 1044.2h2V1046.7h-2zM962 1081.9h2V1086.0h-2zM966 1078.5h2V1081.9h-2zM968 1097.2h2V1106.2h-2zM980 1097.2h2V1106.2h-2zM980 1068.5h2V1070.7h-2zM984 1086.0h2V1097.2h-2zM994 1097.2h2V1106.2h-2zM996 1090.9h2V1097.2h-2zM998 1097.2h2V1121.5h-2zM1016 1054.2h2V1056.7h-2zM1018 1075.6h2V1078.5h-2zM1018 1070.7h2V1073.0h-2zM1022 1056.7h2V1059.2h-2zM1024 1078.5h2V1081.9h-2zM1024 1059.2h2V1061.7h-2zM1026 1081.9h2V1086.0h-2zM1044 1051.7h2V1054.2h-2zM1044 1039.2h2V1041.7h-2zM1054 1054.2h2V1056.7h-2zM1058 1097.2h2V1106.2h-2zM1062 1081.9h2V1086.0h-2zM1064 1106.2h2V1121.5h-2zM1064 1081.9h2V1086.0h-2zM1066 1081.9h2V1086.0h-2zM1070 1097.2h2V1121.5h-2zM1072 1086.0h2V1090.9h-2zM1072 1075.6h2V1078.5h-2zM1074 1061.7h2V1063.2h-2zM1076 1061.7h2V1063.2h-2zM1076 1054.2h2V1056.7h-2zM1078 1066.6h2V1073.0h-2zM1082 1059.2h2V1061.7h-2zM1084 1041.7h2V1044.2h-2zM1084 1029.2h2V1031.7h-2zM1086 1081.9h2V1086.0h-2zM1088 1086.0h2V1090.9h-2zM1092 1046.7h2V1049.2h-2zM1092 991.7h2V994.2h-2zM1094 1046.7h2V1049.2h-2zM1094 971.7h2V974.2h-2zM1098 1075.6h2V1078.5h-2zM1098 1061.7h2V1063.2h-2zM1100 1051.7h2V1054.2h-2zM1100 1001.7h2V1004.2h-2zM1102 1070.7h2V1073.0h-2zM1108 1046.7h2V1049.2h-2zM1112 1106.2h2V1121.5h-2zM1112 1090.9h2V1097.2h-2zM1112 1081.9h2V1086.0h-2zM1112 1075.6h2V1078.5h-2zM1114 1078.5h2V1081.9h-2zM1114 1068.5h2V1070.7h-2zM1114 1061.7h2V1063.2h-2zM1116 1081.9h2V1086.0h-2zM1116 1068.5h2V1070.7h-2zM1120 1106.2h2V1121.5h-2zM1124 1078.5h2V1081.9h-2zM1124 1068.5h2V1073.0h-2zM1126 1070.7h2V1073.0h-2zM1126 1061.7h2V1064.9h-2zM1134 1070.7h2V1073.0h-2zM1136 1106.2h2V1121.5h-2zM1136 1061.7h2V1063.2h-2zM1138 1081.9h2V1086.0h-2zM1138 1073.0h2V1075.6h-2zM1138 1061.7h2V1063.2h-2zM1138 1049.2h2V1051.7h-2zM1144 1064.9h2V1066.6h-2zM1146 1081.9h2V1086.0h-2zM1148 1063.2h2V1064.9h-2zM1152 1061.7h2V1063.2h-2zM1152 1016.7h2V1019.2h-2zM1154 1068.5h2V1070.7h-2zM1154 1063.2h2V1064.9h-2zM1154 1021.7h2V1024.2h-2zM1156 1097.2h2V1106.2h-2zM1160 1078.5h2V1081.9h-2zM1170 1106.2h2V1121.5h-2zM1170 1090.9h2V1097.2h-2zM1170 1078.5h2V1081.9h-2zM1218 1064.9h2V1066.6h-2zM1218 1021.7h2V1024.2h-2zM1220 1081.9h2V1086.0h-2zM1220 1068.5h2V1070.7h-2zM1220 1059.2h2V1061.7h-2zM1224 1078.5h2V1081.9h-2zM1224 1073.0h2V1075.6h-2zM1226 1097.2h2V1121.5h-2zM1228 1106.2h2V1121.5h-2zM1228 1090.9h2V1097.2h-2zM1230 1059.2h2V1061.7h-2zM1232 1081.9h2V1086.0h-2zM1234 1086.0h2V1090.9h-2zM1240 1049.2h2V1051.7h-2zM1242 1061.7h2V1064.9h-2zM1242 1011.7h2V1014.2h-2zM1246 1063.2h2V1064.9h-2zM1250 1075.6h2V1078.5h-2zM1252 1070.7h2V1073.0h-2zM1252 1041.7h2V1044.2h-2zM1252 1021.7h2V1024.2h-2zM1254 1073.0h2V1078.5h-2zM1254 1061.7h2V1064.9h-2zM1258 1056.7h2V1059.2h-2zM1260 1075.6h2V1078.5h-2zM1264 1064.9h2V1066.6h-2zM1264 1056.7h2V1059.2h-2zM1266 1059.2h2V1061.7h-2zM1266 1049.2h2V1051.7h-2zM1270 1073.0h2V1075.6h-2zM1270 1051.7h2V1054.2h-2zM1274 1036.7h2V1039.2h-2zM1276 1054.2h2V1056.7h-2zM1280 1016.7h2V1019.2h-2zM1280 974.2h2V976.7h-2zM1284 1024.2h2V1026.7h-2zM1288 1009.2h2V1011.7h-2zM1290 1066.6h2V1068.5h-2zM1296 1031.7h2V1034.2h-2zM1296 989.2h2V991.7h-2zM1298 1064.9h2V1068.5h-2zM1298 1014.2h2V1016.7h-2zM1300 1078.5h2V1086.0h-2zM1300 1073.0h2V1075.6h-2zM1300 1066.6h2V1068.5h-2zM1300 1063.2h2V1064.9h-2zM1300 1056.7h2V1059.2h-2zM1302 1078.5h2V1081.9h-2zM1302 1063.2h2V1066.6h-2zM1302 1049.2h2V1051.7h-2zM1306 1063.2h2V1064.9h-2zM1306 1049.2h2V1051.7h-2zM1306 1039.2h2V1041.7h-2zM1308 1054.2h2V1056.7h-2zM1312 1081.9h2V1086.0h-2zM1312 1070.7h2V1073.0h-2zM1316 1041.7h2V1044.2h-2zM1318 1073.0h2V1075.6h-2zM1320 1068.5h2V1070.7h-2zM1320 1031.7h2V1034.2h-2zM1320 1024.2h2V1026.7h-2zM1322 1090.9h2V1106.2h-2zM1324 1081.9h2V1086.0h-2zM1324 1073.0h2V1075.6h-2zM1324 1046.7h2V1049.2h-2zM1328 1075.6h2V1078.5h-2zM1328 1059.2h2V1061.7h-2zM1330 1056.7h2V1059.2h-2zM1332 1081.9h2V1086.0h-2zM1332 1075.6h2V1078.5h-2zM1332 1070.7h2V1073.0h-2zM1334 1075.6h2V1078.5h-2zM1334 1068.5h2V1070.7h-2zM1334 1064.9h2V1066.6h-2zM1340 1004.2h2V1006.7h-2zM1342 1064.9h2V1066.6h-2zM1344 1078.5h2V1081.9h-2zM1344 1070.7h2V1073.0h-2zM1344 1031.7h2V1034.2h-2zM1350 1097.2h2V1106.2h-2zM1356 1073.0h2V1078.5h-2zM1360 1078.5h2V1081.9h-2zM1360 1073.0h2V1075.6h-2zM1364 1097.2h2V1106.2h-2zM1366 1081.9h2V1086.0h-2zM1368 1073.0h2V1075.6h-2zM1368 1061.7h2V1064.9h-2zM1370 1061.7h2V1063.2h-2zM1370 1051.7h2V1054.2h-2zM1370 1046.7h2V1049.2h-2zM1372 1068.5h2V1070.7h-2zM1372 1024.2h2V1026.7h-2zM1374 1075.6h2V1078.5h-2zM1374 1066.6h2V1068.5h-2zM1374 1056.7h2V1061.7h-2zM1376 1061.7h2V1063.2h-2zM1378 1081.9h2V1086.0h-2zM1380 1090.9h2V1097.2h-2zM1380 1075.6h2V1078.5h-2zM1382 1063.2h2V1064.9h-2zM1382 1039.2h2V1041.7h-2zM1382 989.2h2V991.7h-2zM1384 1064.9h2V1066.6h-2zM1384 1049.2h2V1051.7h-2zM1386 1086.0h2V1090.9h-2zM1388 1073.0h2V1075.6h-2zM1390 1081.9h2V1086.0h-2zM1390 1066.6h2V1068.5h-2zM1398 1021.7h2V1024.2h-2zM1400 1066.6h2V1068.5h-2zM1404 1061.7h2V1063.2h-2zM1404 1041.7h2V1044.2h-2zM1406 1061.7h2V1063.2h-2zM1406 1046.7h2V1049.2h-2zM1406 1041.7h2V1044.2h-2zM1408 1064.9h2V1066.6h-2zM1408 1039.2h2V1041.7h-2zM1410 1075.6h2V1078.5h-2zM1410 1061.7h2V1063.2h-2zM1412 1073.0h2V1075.6h-2zM1412 1049.2h2V1051.7h-2zM1414 1063.2h2V1064.9h-2zM1414 1046.7h2V1049.2h-2zM1416 1097.2h2V1106.2h-2zM1420 1070.7h2V1075.6h-2zM1424 1068.5h2V1070.7h-2zM1426 1073.0h2V1075.6h-2zM1428 1081.9h2V1086.0h-2zM1434 1068.5h2V1070.7h-2zM1438 1049.2h2V1051.7h-2zM1442 1070.7h2V1073.0h-2zM1442 1063.2h2V1064.9h-2zM1444 1086.0h2V1090.9h-2zM1444 1073.0h2V1075.6h-2zM1444 1066.6h2V1068.5h-2zM1446 1090.9h2V1097.2h-2zM1446 1078.5h2V1086.0h-2zM1446 1064.9h2V1066.6h-2z"/>
<path fill="#0055ff" d="M736 1097.2h2V1106.2h-2zM736 1086.0h2V1090.9h-2zM736 1070.7h2V1075.6h-2zM752 1106.2h2V1121.5h-2zM756 1106.2h2V1121.5h-2zM760 1106.2h2V1121.5h-2zM760 1081.9h2V1086.0h-2zM764 1106.2h2V1121.5h-2zM766 1097.2h2V1106.2h-2zM766 1086.0h2V1090.9h-2zM766 1078.5h2V1081.9h-2zM772 1097.2h2V1106.2h-2zM772 1086.0h2V1090.9h-2zM790 1106.2h2V1121.5h-2zM794 1106.2h2V1121.5h-2zM928 1097.2h2V1106.2h-2zM930 1097.2h2V1106.2h-2zM942 1075.6h2V1081.9h-2zM956 1075.6h2V1078.5h-2zM958 1106.2h2V1121.5h-2zM958 1075.6h2V1078.5h-2zM960 1090.9h2V1097.2h-2zM962 1106.2h2V1121.5h-2zM976 1090.9h2V1097.2h-2zM976 1081.9h2V1086.0h-2zM976 1066.6h2V1068.5h-2zM980 1090.9h2V1097.2h-2zM982 1106.2h2V1121.5h-2zM982 1081.9h2V1086.0h-2zM986 1081.9h2V1086.0h-2zM1006 1097.2h2V1106.2h-2zM1016 1075.6h2V1078.5h-2zM1016 1068.5h2V1070.7h-2zM1016 1063.2h2V1064.9h-2zM1022 1059.2h2V1061.7h-2zM1024 1066.6h2V1068.5h-2zM1034 1081.9h2V1086.0h-2zM1044 1097.2h2V1106.2h-2zM1044 1061.7h2V1063.2h-2zM1044 1054.2h2V1056.7h-2zM1044 1034.2h2V1036.7h-2zM1062 1097.2h2V1106.2h-2zM1064 1090.9h2V1097.2h-2zM1074 1081.9h2V1086.0h-2zM1074 1075.6h2V1078.5h-2zM1074 1070.7h2V1073.0h-2zM1074 1064.9h2V1066.6h-2zM1074 1059.2h2V1061.7h-2zM1076 1073.0h2V1078.5h-2zM1078 1075.6h2V1081.9h-2zM1078 1063.2h2V1066.6h-2zM1084 1056.7h2V1059.2h-2zM1084 1039.2h2V1041.7h-2zM1086 1097.2h2V1106.2h-2zM1088 1097.2h2V1121.5h-2zM1090 1066.6h2V1068.5h-2zM1090 1061.7h2V1064.9h-2zM1092 1073.0h2V1075.6h-2zM1092 1064.9h2V1066.6h-2zM1096 1044.2h2V1046.7h-2zM1102 1075.6h2V1081.9h-2zM1102 1051.7h2V1054.2h-2zM1104 1086.0h2V1090.9h-2zM1104 1070.7h2V1073.0h-2zM1104 1044.2h2V1046.7h-2zM1108 1061.7h2V1063.2h-2zM1110 1078.5h2V1086.0h-2zM1110 1068.5h2V1070.7h-2zM1112 1097.2h2V1106.2h-2zM1114 1075.6h2V1078.5h-2zM1116 1078.5h2V1081.9h-2zM1116 1070.7h2V1073.0h-2zM1118 1064.9h2V1070.7h-2zM1122 1086.0h2V1090.9h-2zM1122 1075.6h2V1081.9h-2zM1124 1090.9h2V1097.2h-2zM1134 1090.9h2V1097.2h-2zM1136 1097.2h2V1106.2h-2zM1136 1066.6h2V1073.0h-2zM1138 1068.5h2V1070.7h-2zM1138 1051.7h2V1054.2h-2zM1144 1078.5h2V1081.9h-2zM1144 1059.2h2V1061.7h-2zM1148 1078.5h2V1081.9h-2zM1152 1086.0h2V1097.2h-2zM1156 1075.6h2V1081.9h-2zM1196 1106.2h2V1121.5h-2zM1220 1097.2h2V1106.2h-2zM1224 1075.6h2V1078.5h-2zM1224 1068.5h2V1070.7h-2zM1226 1086.0h2V1090.9h-2zM1230 1075.6h2V1078.5h-2zM1230 1026.7h2V1029.2h-2zM1232 1066.6h2V1068.5h-2zM1232 1041.7h2V1044.2h-2zM1234 1106.2h2V1121.5h-2zM1238 1081.9h2V1086.0h-2zM1238 1064.9h2V1066.6h-2zM1242 1064.9h2V1066.6h-2zM1244 1070.7h2V1073.0h-2zM1244 1064.9h2V1068.5h-2zM1244 1061.7h2V1063.2h-2zM1246 1073.0h2V1075.6h-2zM1246 1064.9h2V1066.6h-2zM1250 1070.7h2V1073.0h-2zM1252 1097.2h2V1106.2h-2zM1252 1086.0h2V1090.9h-2zM1254 1081.9h2V1086.0h-2zM1254 1066.6h2V1068.5h-2zM1254 1049.2h2V1054.2h-2zM1258 1041.7h2V1044.2h-2zM1260 1073.0h2V1075.6h-2zM1264 1024.2h2V1026.7h-2zM1266 1063.2h2V1064.9h-2zM1270 1068.5h2V1070.7h-2zM1274 1039.2h2V1046.7h-2zM1274 1031.7h2V1034.2h-2zM1274 999.2h2V1001.7h-2zM1280 1041.7h2V1044.2h-2zM1280 1021.7h2V1024.2h-2zM1282 1054.2h2V1056.7h-2zM1284 1036.7h2V1039.2h-2zM1284 1004.2h2V1006.7h-2zM1286 1031.7h2V1034.2h-2zM1286 1019.2h2V1021.7h-2zM1288 1019.2h2V1021.7h-2zM1292 1078.5h2V1081.9h-2zM1294 1066.6h2V1068.5h-2zM1298 1068.5h2V1070.7h-2zM1298 1063.2h2V1064.9h-2zM1300 1075.6h2V1078.5h-2zM1302 1066.6h2V1070.7h-2zM1304 1044.2h2V1046.7h-2zM1306 1068.5h2V1070.7h-2zM1306 1061.7h2V1063.2h-2zM1308 1063.2h2V1064.9h-2zM1308 1059.2h2V1061.7h-2zM1310 1063.2h2V1064.9h-2zM1310 1041.7h2V1044.2h-2zM1310 1036.7h2V1039.2h-2zM1312 1086.0h2V1090.9h-2zM1312 1073.0h2V1075.6h-2zM1314 1063.2h2V1064.9h-2zM1316 1059.2h2V1063.2h-2zM1318 1059.2h2V1061.7h-2zM1318 1024.2h2V1026.7h-2zM1320 1063.2h2V1064.9h-2zM1320 1059.2h2V1061.7h-2zM1320 1029.2h2V1031.7h-2zM1322 1081.9h2V1086.0h-2zM1328 1068.5h2V1070.7h-2zM1330 1068.5h2V1070.7h-2zM1330 1039.2h2V1041.7h-2zM1332 1064.9h2V1066.6h-2zM1336 1021.7h2V1024.2h-2zM1340 1064.9h2V1066.6h-2zM1340 1061.7h2V1063.2h-2zM1342 1059.2h2V1061.7h-2zM1350 1086.0h2V1090.9h-2zM1354 1059.2h2V1061.7h-2zM1356 1078.5h2V1081.9h-2zM1358 1034.2h2V1036.7h-2zM1366 1106.2h2V1121.5h-2zM1368 1066.6h2V1068.5h-2zM1370 1066.6h2V1068.5h-2zM1372 1070.7h2V1073.0h-2zM1376 1090.9h2V1097.2h-2zM1376 1068.5h2V1070.7h-2zM1378 1090.9h2V1097.2h-2zM1380 1086.0h2V1090.9h-2zM1382 1066.6h2V1068.5h-2zM1382 1041.7h2V1044.2h-2zM1382 1029.2h2V1031.7h-2zM1384 1061.7h2V1063.2h-2zM1386 1097.2h2V1121.5h-2zM1388 1066.6h2V1068.5h-2zM1390 1086.0h2V1090.9h-2zM1392 1061.7h2V1063.2h-2zM1392 1056.7h2V1059.2h-2zM1394 1036.7h2V1039.2h-2zM1396 1068.5h2V1070.7h-2zM1396 1056.7h2V1059.2h-2zM1398 1075.6h2V1078.5h-2zM1398 1031.7h2V1034.2h-2zM1400 1068.5h2V1070.7h-2zM1400 1011.7h2V1014.2h-2zM1404 1075.6h2V1078.5h-2zM1404 1070.7h2V1073.0h-2zM1406 1064.9h2V1068.5h-2zM1408 1070.7h2V1073.0h-2zM1412 1070.7h2V1073.0h-2zM1412 1061.7h2V1063.2h-2zM1418 1066.6h2V1068.5h-2zM1418 1063.2h2V1064.9h-2zM1420 1081.9h2V1086.0h-2zM1420 1064.9h2V1066.6h-2zM1424 1073.0h2V1075.6h-2zM1426 1068.5h2V1070.7h-2zM1428 1086.0h2V1090.9h-2zM1430 1064.9h2V1066.6h-2zM1430 1056.7h2V1059.2h-2zM1434 1070.7h2V1073.0h-2zM1434 1036.7h2V1039.2h-2zM1444 1034.2h2V1036.7h-2zM1444 1006.7h2V1009.2h-2zM1446 1073.0h2V1075.6h-2z"/>
<path fill="#006aff" d="M736 1046.7h2V1049.2h-2zM752 1097.2h2V1106.2h-2zM756 1097.2h2V1106.2h-2zM760 1097.2h2V1106.2h-2zM760 1086.0h2V1090.9h-2zM764 1097.2h2V1106.2h-2zM766 1090.9h2V1097.2h-2zM774 1086.0h2V1090.9h-2zM790 1097.2h2V1106.2h-2zM792 1090.9h2V1106.2h-2zM794 1097.2h2V1106.2h-2zM932 1106.2h2V1121.5h-2zM938 1097.2h2V1106.2h-2zM940 1086.0h2V1090.9h-2zM960 1097.2h2V1121.5h-2zM962 1086.0h2V1097.2h-2zM968 1075.6h2V1078.5h-2zM978 1090.9h2V1106.2h-2zM986 1090.9h2V1097.2h-2zM986 1073.0h2V1075.6h-2zM1016 1081.9h2V1086.0h-2zM1018 1081.9h2V1086.0h-2zM1022 1046.7h2V1049.2h-2zM1022 1029.2h2V1031.7h-2zM1024 1106.2h2V1121.5h-2zM1024 1081.9h2V1086.0h-2zM1026 1090.9h2V1106.2h-2zM1034 1106.2h2V1121.5h-2zM1044 1056.7h2V1059.2h-2zM1054 1097.2h2V1106.2h-2zM1058 1090.9h2V1097.2h-2zM1066 1106.2h2V1121.5h-2zM1074 1090.9h2V1097.2h-2zM1078 1073.0h2V1075.6h-2zM1078 1059.2h2V1061.7h-2zM1080 1106.2h2V1121.5h-2zM1080 1090.9h2V1097.2h-2zM1080 1081.9h2V1086.0h-2zM1082 1063.2h2V1064.9h-2zM1084 1063.2h2V1064.9h-2zM1084 1046.7h2V1049.2h-2zM1092 1075.6h2V1078.5h-2zM1092 1054.2h2V1056.7h-2zM1094 1044.2h2V1046.7h-2zM1094 1026.7h2V1029.2h-2zM1096 1046.7h2V1049.2h-2zM1098 1073.0h2V1075.6h-2zM1098 1063.2h2V1064.9h-2zM1098 1059.2h2V1061.7h-2zM1100 1063.2h2V1064.9h-2zM1104 1073.0h2V1078.5h-2zM1108 1075.6h2V1078.5h-2zM1114 1086.0h2V1090.9h-2zM1116 1066.6h2V1068.5h-2zM1118 1086.0h2V1090.9h-2zM1118 1078.5h2V1081.9h-2zM1118 1044.2h2V1046.7h-2zM1122 1081.9h2V1086.0h-2zM1124 1075.6h2V1078.5h-2zM1124 1064.9h2V1066.6h-2zM1124 1049.2h2V1051.7h-2zM1124 1016.7h2V1019.2h-2zM1126 1075.6h2V1078.5h-2zM1134 1086.0h2V1090.9h-2zM1136 1090.9h2V1097.2h-2zM1136 1081.9h2V1086.0h-2zM1136 1073.0h2V1075.6h-2zM1138 1056.7h2V1059.2h-2zM1142 1086.0h2V1097.2h-2zM1146 1106.2h2V1121.5h-2zM1148 1086.0h2V1090.9h-2zM1150 1078.5h2V1081.9h-2zM1152 1081.9h2V1086.0h-2zM1154 1078.5h2V1081.9h-2zM1218 1106.2h2V1121.5h-2zM1220 1086.0h2V1090.9h-2zM1230 1064.9h2V1066.6h-2zM1232 1068.5h2V1073.0h-2zM1238 1073.0h2V1081.9h-2zM1242 1036.7h2V1039.2h-2zM1244 1068.5h2V1070.7h-2zM1246 1070.7h2V1073.0h-2zM1250 1064.9h2V1066.6h-2zM1252 1073.0h2V1075.6h-2zM1254 1070.7h2V1073.0h-2zM1256 1036.7h2V1039.2h-2zM1256 1029.2h2V1031.7h-2zM1260 1086.0h2V1090.9h-2zM1260 1078.5h2V1081.9h-2zM1260 1070.7h2V1073.0h-2zM1260 1064.9h2V1066.6h-2zM1260 1059.2h2V1061.7h-2zM1264 1066.6h2V1068.5h-2zM1264 1026.7h2V1029.2h-2zM1264 1011.7h2V1014.2h-2zM1266 1061.7h2V1063.2h-2zM1270 1070.7h2V1073.0h-2zM1274 1066.6h2V1068.5h-2zM1274 1056.7h2V1059.2h-2zM1274 1051.7h2V1054.2h-2zM1278 1090.9h2V1097.2h-2zM1278 1078.5h2V1081.9h-2zM1280 1059.2h2V1061.7h-2zM1280 1044.2h2V1046.7h-2zM1284 1021.7h2V1024.2h-2zM1286 1016.7h2V1019.2h-2zM1288 996.7h2V999.2h-2zM1292 1073.0h2V1075.6h-2zM1292 1061.7h2V1063.2h-2zM1294 1064.9h2V1066.6h-2zM1296 1073.0h2V1075.6h-2zM1296 1066.6h2V1068.5h-2zM1298 1070.7h2V1073.0h-2zM1302 1070.7h2V1073.0h-2zM1306 1070.7h2V1073.0h-2zM1310 1044.2h2V1046.7h-2zM1314 1056.7h2V1059.2h-2zM1318 1061.7h2V1063.2h-2zM1320 1064.9h2V1068.5h-2zM1324 1106.2h2V1121.5h-2zM1324 1086.0h2V1090.9h-2zM1326 1106.2h2V1121.5h-2zM1328 1090.9h2V1097.2h-2zM1332 1066.6h2V1068.5h-2zM1334 1070.7h2V1073.0h-2zM1338 1081.9h2V1086.0h-2zM1340 1073.0h2V1075.6h-2zM1340 1063.2h2V1064.9h-2zM1342 1063.2h2V1064.9h-2zM1346 1106.2h2V1121.5h-2zM1354 1086.0h2V1090.9h-2zM1356 1106.2h2V1121.5h-2zM1358 1019.2h2V1021.7h-2zM1360 1086.0h2V1090.9h-2zM1366 1086.0h2V1090.9h-2zM1368 1075.6h2V1078.5h-2zM1370 1081.9h2V1086.0h-2zM1370 1063.2h2V1064.9h-2zM1374 1064.9h2V1066.6h-2zM1382 1078.5h2V1081.9h-2zM1382 1070.7h2V1073.0h-2zM1384 1078.5h2V1081.9h-2zM1384 1068.5h2V1070.7h-2zM1388 1049.2h2V1054.2h-2zM1390 1106.2h2V1121.5h-2zM1392 1073.0h2V1075.6h-2zM1392 1066.6h2V1070.7h-2zM1392 1036.7h2V1039.2h-2zM1398 1063.2h2V1064.9h-2zM1398 1054.2h2V1056.7h-2zM1398 1026.7h2V1031.7h-2zM1400 1075.6h2V1078.5h-2zM1404 1078.5h2V1081.9h-2zM1404 1073.0h2V1075.6h-2zM1404 1063.2h2V1068.5h-2zM1410 1064.9h2V1068.5h-2zM1410 1056.7h2V1059.2h-2zM1412 1064.9h2V1066.6h-2zM1418 1068.5h2V1073.0h-2zM1426 1081.9h2V1086.0h-2zM1428 1106.2h2V1121.5h-2zM1430 1066.6h2V1070.7h-2zM1430 1063.2h2V1064.9h-2zM1434 1081.9h2V1086.0h-2zM1434 1075.6h2V1078.5h-2zM1434 1064.9h2V1066.6h-2zM1442 1090.9h2V1097.2h-2z"/>
<path fill="#0080ff" d="M750 1090.9h2V1097.2h-2zM940 1097.2h2V1106.2h-2zM942 1081.9h2V1090.9h-2zM950 1106.2h2V1121.5h-2zM956 1097.2h2V1106.2h-2zM958 1090.9h2V1097.2h-2zM968 1081.9h2V1086.0h-2zM986 1106.2h2V1121.5h-2zM1016 1106.2h2V1121.5h-2zM1018 1090.9h2V1097.2h-2zM1018 1073.0h2V1075.6h-2zM1022 1054.2h2V1056.7h-2zM1022 1039.2h2V1041.7h-2zM1058 1106.2h2V1121.5h-2zM1058 1086.0h2V1090.9h-2zM1066 1097.2h2V1106.2h-2zM1074 1106.2h2V1121.5h-2zM1078 1086.0h2V1090.9h-2zM1080 1097.2h2V1106.2h-2zM1084 1068.5h2V1070.7h-2zM1090 1073.0h2V1075.6h-2zM1092 1039.2h2V1041.7h-2zM1096 1061.7h2V1063.2h-2zM1096 1054.2h2V1056.7h-2zM1098 1070.7h2V1073.0h-2zM1100 1039.2h2V1041.7h-2zM1102 1081.9h2V1090.9h-2zM1104 1090.9h2V1097.2h-2zM1104 1081.9h2V1086.0h-2zM1108 1063.2h2V1064.9h-2zM1116 1075.6h2V1078.5h-2zM1122 1056.7h2V1059.2h-2zM1124 1081.9h2V1086.0h-2zM1126 1078.5h2V1081.9h-2zM1142 1106.2h2V1121.5h-2zM1150 1086.0h2V1090.9h-2zM1150 1075.6h2V1078.5h-2zM1150 1066.6h2V1068.5h-2zM1150 1031.7h2V1034.2h-2zM1154 1061.7h2V1063.2h-2zM1154 1049.2h2V1051.7h-2zM1156 1106.2h2V1121.5h-2zM1156 1090.9h2V1097.2h-2zM1160 1097.2h2V1106.2h-2zM1170 1086.0h2V1090.9h-2zM1220 1106.2h2V1121.5h-2zM1230 1081.9h2V1086.0h-2zM1232 1073.0h2V1075.6h-2zM1232 1063.2h2V1064.9h-2zM1238 1086.0h2V1090.9h-2zM1238 1070.7h2V1073.0h-2zM1240 1068.5h2V1070.7h-2zM1240 1064.9h2V1066.6h-2zM1240 1061.7h2V1063.2h-2zM1242 1066.6h2V1070.7h-2zM1244 1078.5h2V1081.9h-2zM1244 1056.7h2V1059.2h-2zM1252 1081.9h2V1086.0h-2zM1254 1086.0h2V1090.9h-2zM1254 1078.5h2V1081.9h-2zM1264 1068.5h2V1070.7h-2zM1264 1041.7h2V1044.2h-2zM1268 1001.7h2V1004.2h-2zM1270 1075.6h2V1081.9h-2zM1270 1049.2h2V1051.7h-2zM1276 1070.7h2V1073.0h-2zM1276 1064.9h2V1066.6h-2zM1278 1086.0h2V1090.9h-2zM1280 1049.2h2V1051.7h-2zM1284 1056.7h2V1059.2h-2zM1288 1041.7h2V1044.2h-2zM1288 1034.2h2V1036.7h-2zM1290 1106.2h2V1121.5h-2zM1290 1086.0h2V1090.9h-2zM1292 1063.2h2V1064.9h-2zM1294 1070.7h2V1075.6h-2zM1296 1064.9h2V1066.6h-2zM1296 1049.2h2V1051.7h-2zM1302 1081.9h2V1086.0h-2zM1306 1078.5h2V1081.9h-2zM1306 1073.0h2V1075.6h-2zM1308 1073.0h2V1078.5h-2zM1308 1064.9h2V1066.6h-2zM1308 1051.7h2V1054.2h-2zM1310 991.7h2V994.2h-2zM1312 1106.2h2V1121.5h-2zM1312 1090.9h2V1097.2h-2zM1314 1066.6h2V1068.5h-2zM1314 1036.7h2V1039.2h-2zM1316 1063.2h2V1064.9h-2zM1318 1064.9h2V1066.6h-2zM1318 1049.2h2V1051.7h-2zM1320 1061.7h2V1063.2h-2zM1320 1039.2h2V1041.7h-2zM1330 1063.2h2V1064.9h-2zM1330 1059.2h2V1061.7h-2zM1330 1044.2h2V1046.7h-2zM1332 1078.5h2V1081.9h-2zM1332 1073.0h2V1075.6h-2zM1332 1068.5h2V1070.7h-2zM1334 1066.6h2V1068.5h-2zM1336 1044.2h2V1046.7h-2zM1340 1078.5h2V1081.9h-2zM1340 1066.6h2V1070.7h-2zM1342 1066.6h2V1068.5h-2zM1344 1068.5h2V1070.7h-2zM1356 1090.9h2V1106.2h-2zM1360 1081.9h2V1086.0h-2zM1366 1097.2h2V1106.2h-2zM1368 1064.9h2V1066.6h-2zM1370 1070.7h2V1073.0h-2zM1374 1046.7h2V1049.2h-2zM1384 1063.2h2V1064.9h-2zM1386 1090.9h2V1097.2h-2zM1388 1061.7h2V1063.2h-2zM1390 1090.9h2V1097.2h-2zM1396 1063.2h2V1066.6h-2zM1398 1064.9h2V1068.5h-2zM1398 1051.7h2V1054.2h-2zM1400 1070.7h2V1073.0h-2zM1404 1081.9h2V1086.0h-2zM1406 1075.6h2V1078.5h-2zM1406 1056.7h2V1059.2h-2zM1408 1059.2h2V1061.7h-2zM1410 1073.0h2V1075.6h-2zM1410 1068.5h2V1070.7h-2zM1412 1068.5h2V1070.7h-2zM1418 1073.0h2V1075.6h-2zM1424 1090.9h2V1097.2h-2zM1426 1090.9h2V1097.2h-2zM1426 1075.6h2V1081.9h-2zM1434 1086.0h2V1090.9h-2zM1434 1078.5h2V1081.9h-2zM1442 1097.2h2V1106.2h-2zM1444 1090.9h2V1097.2h-2zM1444 1075.6h2V1081.9h-2zM1444 1068.5h2V1070.7h-2zM1446 1086.0h2V1090.9h-2z"/>
<path fill="#0095ff" d="M792 1106.2h2V1121.5h-2zM798 1086.0h2V1097.2h-2zM924 1090.9h2V1097.2h-2zM956 1106.2h2V1121.5h-2zM982 1097.2h2V1106.2h-2zM1016 1097.2h2V1106.2h-2zM1018 1106.2h2V1121.5h-2zM1022 1090.9h2V1097.2h-2zM1044 1073.0h2V1075.6h-2zM1044 1036.7h2V1039.2h-2zM1078 1081.9h2V1086.0h-2zM1092 1068.5h2V1070.7h-2zM1092 1061.7h2V1063.2h-2zM1100 1073.0h2V1075.6h-2zM1100 1068.5h2V1070.7h-2zM1108 1078.5h2V1081.9h-2zM1108 1070.7h2V1075.6h-2zM1118 1070.7h2V1075.6h-2zM1122 1070.7h2V1073.0h-2zM1126 1066.6h2V1068.5h-2zM1148 1097.2h2V1106.2h-2zM1148 1081.9h2V1086.0h-2zM1150 1054.2h2V1056.7h-2zM1152 1078.5h2V1081.9h-2zM1154 1070.7h2V1075.6h-2zM1170 1097.2h2V1106.2h-2zM1224 1081.9h2V1090.9h-2zM1240 1081.9h2V1086.0h-2zM1240 1075.6h2V1078.5h-2zM1240 1056.7h2V1059.2h-2zM1242 1070.7h2V1073.0h-2zM1242 1059.2h2V1061.7h-2zM1246 1106.2h2V1121.5h-2zM1246 1075.6h2V1081.9h-2zM1250 1066.6h2V1068.5h-2zM1250 1061.7h2V1063.2h-2zM1250 1009.2h2V1011.7h-2zM1252 1049.2h2V1051.7h-2zM1256 1051.7h2V1054.2h-2zM1262 1059.2h2V1061.7h-2zM1262 1049.2h2V1051.7h-2zM1264 1070.7h2V1073.0h-2zM1264 1061.7h2V1063.2h-2zM1266 1066.6h2V1068.5h-2zM1276 1061.7h2V1063.2h-2zM1278 1097.2h2V1106.2h-2zM1280 1061.7h2V1064.9h-2zM1282 1068.5h2V1070.7h-2zM1282 1036.7h2V1039.2h-2zM1284 1064.9h2V1066.6h-2zM1288 1026.7h2V1029.2h-2zM1292 1064.9h2V1066.6h-2zM1294 1063.2h2V1064.9h-2zM1294 1044.2h2V1046.7h-2zM1296 1068.5h2V1070.7h-2zM1300 1086.0h2V1097.2h-2zM1302 1075.6h2V1078.5h-2zM1304 1049.2h2V1051.7h-2zM1304 1031.7h2V1034.2h-2zM1306 1064.9h2V1068.5h-2zM1310 1064.9h2V1066.6h-2zM1310 1061.7h2V1063.2h-2zM1310 1049.2h2V1051.7h-2zM1314 1064.9h2V1066.6h-2zM1314 1061.7h2V1063.2h-2zM1318 1066.6h2V1068.5h-2zM1330 1066.6h2V1068.5h-2zM1334 1097.2h2V1106.2h-2zM1334 1078.5h2V1090.9h-2zM1336 1036.7h2V1039.2h-2zM1336 1006.7h2V1009.2h-2zM1340 1075.6h2V1078.5h-2zM1340 1070.7h2V1073.0h-2zM1342 1061.7h2V1063.2h-2zM1344 1073.0h2V1078.5h-2zM1346 1090.9h2V1097.2h-2zM1366 1090.9h2V1097.2h-2zM1370 1075.6h2V1078.5h-2zM1370 1068.5h2V1070.7h-2zM1370 1056.7h2V1059.2h-2zM1372 1075.6h2V1078.5h-2zM1374 1073.0h2V1075.6h-2zM1376 1081.9h2V1090.9h-2zM1378 1106.2h2V1121.5h-2zM1380 1097.2h2V1121.5h-2zM1382 1061.7h2V1063.2h-2zM1384 1073.0h2V1075.6h-2zM1388 1063.2h2V1064.9h-2zM1392 1070.7h2V1073.0h-2zM1392 1063.2h2V1064.9h-2zM1394 1063.2h2V1064.9h-2zM1398 1070.7h2V1075.6h-2zM1400 1049.2h2V1051.7h-2zM1404 1068.5h2V1070.7h-2zM1406 1070.7h2V1073.0h-2zM1408 1075.6h2V1078.5h-2zM1408 1068.5h2V1070.7h-2zM1412 1054.2h2V1056.7h-2zM1414 1070.7h2V1073.0h-2zM1414 1066.6h2V1068.5h-2zM1418 1075.6h2V1078.5h-2zM1418 1034.2h2V1036.7h-2zM1424 1081.9h2V1086.0h-2zM1428 1090.9h2V1097.2h-2zM1430 1075.6h2V1081.9h-2zM1442 1106.2h2V1121.5h-2zM1444 1081.9h2V1086.0h-2z"/>
<path fill="#00aaff" d="M736 1106.2h2V1121.5h-2zM924 1097.2h2V1106.2h-2zM942 1090.9h2V1106.2h-2zM950 1097.2h2V1106.2h-2zM968 1086.0h2V1097.2h-2zM978 1106.2h2V1121.5h-2zM980 1078.5h2V1081.9h-2zM986 1097.2h2V1106.2h-2zM986 1086.0h2V1090.9h-2zM1016 1086.0h2V1090.9h-2zM1022 1049.2h2V1051.7h-2zM1024 1090.9h2V1106.2h-2zM1044 1063.2h2V1066.6h-2zM1064 1097.2h2V1106.2h-2zM1072 1090.9h2V1097.2h-2zM1076 1081.9h2V1090.9h-2zM1082 1051.7h2V1054.2h-2zM1090 1068.5h2V1073.0h-2zM1092 1066.6h2V1068.5h-2zM1094 1078.5h2V1081.9h-2zM1096 1063.2h2V1064.9h-2zM1096 1051.7h2V1054.2h-2zM1098 1090.9h2V1097.2h-2zM1098 1078.5h2V1081.9h-2zM1100 1064.9h2V1066.6h-2zM1108 1064.9h2V1066.6h-2zM1114 1090.9h2V1097.2h-2zM1114 1081.9h2V1086.0h-2zM1118 1081.9h2V1086.0h-2zM1122 1090.9h2V1097.2h-2zM1124 1086.0h2V1090.9h-2zM1134 1097.2h2V1106.2h-2zM1136 1086.0h2V1090.9h-2zM1138 1078.5h2V1081.9h-2zM1144 1081.9h2V1086.0h-2zM1148 1090.9h2V1097.2h-2zM1150 1090.9h2V1097.2h-2zM1154 1075.6h2V1078.5h-2zM1224 1097.2h2V1106.2h-2zM1224 1024.2h2V1026.7h-2zM1242 1078.5h2V1081.9h-2zM1244 1073.0h2V1075.6h-2zM1250 1073.0h2V1075.6h-2zM1250 1054.2h2V1056.7h-2zM1252 1106.2h2V1121.5h-2zM1252 1090.9h2V1097.2h-2zM1254 1106.2h2V1121.5h-2zM1256 1049.2h2V1051.7h-2zM1256 1041.7h2V1044.2h-2zM1258 1063.2h2V1068.5h-2zM1258 1046.7h2V1049.2h-2zM1260 1081.9h2V1086.0h-2zM1262 1061.7h2V1063.2h-2zM1264 1063.2h2V1064.9h-2zM1266 1070.7h2V1073.0h-2zM1266 1021.7h2V1024.2h-2zM1268 1009.2h2V1011.7h-2zM1276 1073.0h2V1075.6h-2zM1282 1066.6h2V1068.5h-2zM1282 1044.2h2V1046.7h-2zM1284 1063.2h2V1064.9h-2zM1284 1054.2h2V1056.7h-2zM1286 1044.2h2V1046.7h-2zM1286 1034.2h2V1036.7h-2zM1286 1026.7h2V1029.2h-2zM1288 1024.2h2V1026.7h-2zM1290 1097.2h2V1106.2h-2zM1292 1068.5h2V1070.7h-2zM1292 1019.2h2V1021.7h-2zM1294 1068.5h2V1070.7h-2zM1294 1061.7h2V1063.2h-2zM1296 1070.7h2V1073.0h-2zM1296 1054.2h2V1056.7h-2zM1304 1059.2h2V1061.7h-2zM1308 1070.7h2V1073.0h-2zM1310 1070.7h2V1073.0h-2zM1316 1068.5h2V1070.7h-2zM1318 1063.2h2V1064.9h-2zM1320 1075.6h2V1078.5h-2zM1330 1070.7h2V1073.0h-2zM1330 1064.9h2V1066.6h-2zM1332 1086.0h2V1090.9h-2zM1336 1051.7h2V1054.2h-2zM1336 1039.2h2V1041.7h-2zM1342 1056.7h2V1059.2h-2zM1358 1039.2h2V1041.7h-2zM1370 1073.0h2V1075.6h-2zM1372 1078.5h2V1081.9h-2zM1374 1086.0h2V1090.9h-2zM1374 1078.5h2V1081.9h-2zM1378 1097.2h2V1106.2h-2zM1382 1068.5h2V1070.7h-2zM1384 1081.9h2V1086.0h-2zM1384 1075.6h2V1078.5h-2zM1384 1056.7h2V1059.2h-2zM1388 1068.5h2V1073.0h-2zM1394 1061.7h2V1063.2h-2zM1396 1066.6h2V1068.5h-2zM1396 1061.7h2V1063.2h-2zM1406 1078.5h2V1081.9h-2zM1408 1073.0h2V1075.6h-2zM1408 1066.6h2V1068.5h-2zM1408 1063.2h2V1064.9h-2zM1408 1044.2h2V1046.7h-2zM1412 1081.9h2V1086.0h-2zM1412 1056.7h2V1059.2h-2zM1418 1081.9h2V1086.0h-2zM1420 1086.0h2V1090.9h-2zM1420 1078.5h2V1081.9h-2zM1424 1106.2h2V1121.5h-2zM1428 1097.2h2V1106.2h-2zM1430 1081.9h2V1086.0h-2z"/>
<path fill="#00bfff" d="M798 1097.2h2V1106.2h-2zM962 1097.2h2V1106.2h-2zM968 1106.2h2V1121.5h-2zM980 1106.2h2V1121.5h-2zM1022 1066.6h2V1070.7h-2zM1022 1051.7h2V1054.2h-2zM1022 1034.2h2V1036.7h-2zM1034 1097.2h2V1106.2h-2zM1044 1066.6h2V1068.5h-2zM1044 1049.2h2V1051.7h-2zM1044 1041.7h2V1044.2h-2zM1072 1097.2h2V1106.2h-2zM1084 1051.7h2V1054.2h-2zM1090 1078.5h2V1086.0h-2zM1092 1078.5h2V1081.9h-2zM1096 1068.5h2V1070.7h-2zM1098 1081.9h2V1086.0h-2zM1100 1070.7h2V1073.0h-2zM1102 1106.2h2V1121.5h-2zM1110 1086.0h2V1097.2h-2zM1114 1097.2h2V1106.2h-2zM1116 1106.2h2V1121.5h-2zM1116 1086.0h2V1097.2h-2zM1118 1075.6h2V1078.5h-2zM1134 1106.2h2V1121.5h-2zM1136 1078.5h2V1081.9h-2zM1144 1086.0h2V1121.5h-2zM1150 1081.9h2V1086.0h-2zM1218 1086.0h2V1090.9h-2zM1224 1106.2h2V1121.5h-2zM1224 1090.9h2V1097.2h-2zM1230 1086.0h2V1097.2h-2zM1240 1073.0h2V1075.6h-2zM1242 1075.6h2V1078.5h-2zM1244 1106.2h2V1121.5h-2zM1250 1063.2h2V1064.9h-2zM1254 1090.9h2V1097.2h-2zM1256 1056.7h2V1059.2h-2zM1256 1046.7h2V1049.2h-2zM1256 1039.2h2V1041.7h-2zM1258 1061.7h2V1063.2h-2zM1260 1090.9h2V1097.2h-2zM1262 1056.7h2V1059.2h-2zM1264 1081.9h2V1086.0h-2zM1264 1073.0h2V1078.5h-2zM1268 1026.7h2V1029.2h-2zM1268 1004.2h2V1006.7h-2zM1270 1090.9h2V1097.2h-2zM1270 1081.9h2V1086.0h-2zM1274 1073.0h2V1075.6h-2zM1274 1068.5h2V1070.7h-2zM1274 1061.7h2V1063.2h-2zM1276 1068.5h2V1070.7h-2zM1280 1064.9h2V1068.5h-2zM1282 1063.2h2V1066.6h-2zM1284 1049.2h2V1051.7h-2zM1288 1054.2h2V1056.7h-2zM1292 1056.7h2V1059.2h-2zM1292 1039.2h2V1041.7h-2zM1296 1075.6h2V1078.5h-2zM1298 1078.5h2V1081.9h-2zM1302 1086.0h2V1090.9h-2zM1304 1046.7h2V1049.2h-2zM1308 1078.5h2V1081.9h-2zM1310 1066.6h2V1070.7h-2zM1312 1097.2h2V1106.2h-2zM1314 1059.2h2V1061.7h-2zM1320 1073.0h2V1075.6h-2zM1328 1097.2h2V1106.2h-2zM1330 1073.0h2V1075.6h-2zM1336 1046.7h2V1051.7h-2zM1342 1078.5h2V1081.9h-2zM1342 1051.7h2V1054.2h-2zM1344 1086.0h2V1090.9h-2zM1346 1097.2h2V1106.2h-2zM1354 1106.2h2V1121.5h-2zM1354 1081.9h2V1086.0h-2zM1358 1029.2h2V1031.7h-2zM1358 1021.7h2V1024.2h-2zM1370 1086.0h2V1090.9h-2zM1370 1078.5h2V1081.9h-2zM1382 1064.9h2V1066.6h-2zM1382 1056.7h2V1059.2h-2zM1382 1016.7h2V1019.2h-2zM1394 1070.7h2V1073.0h-2zM1396 1070.7h2V1078.5h-2zM1414 1086.0h2V1090.9h-2zM1414 1075.6h2V1081.9h-2zM1420 1106.2h2V1121.5h-2zM1426 1106.2h2V1121.5h-2zM1430 1073.0h2V1075.6h-2zM1446 1106.2h2V1121.5h-2z"/>
<path fill="#00d4ff" d="M1018 1086.0h2V1090.9h-2zM1022 1063.2h2V1064.9h-2zM1044 1090.9h2V1097.2h-2zM1074 1097.2h2V1106.2h-2zM1076 1090.9h2V1097.2h-2zM1082 1061.7h2V1063.2h-2zM1084 1064.9h2V1066.6h-2zM1090 1086.0h2V1090.9h-2zM1092 1081.9h2V1086.0h-2zM1092 1070.7h2V1073.0h-2zM1094 1054.2h2V1056.7h-2zM1096 1059.2h2V1061.7h-2zM1102 1090.9h2V1097.2h-2zM1114 1106.2h2V1121.5h-2zM1126 1086.0h2V1090.9h-2zM1138 1086.0h2V1097.2h-2zM1152 1097.2h2V1106.2h-2zM1154 1106.2h2V1121.5h-2zM1230 1106.2h2V1121.5h-2zM1242 1086.0h2V1090.9h-2zM1244 1097.2h2V1106.2h-2zM1262 1078.5h2V1086.0h-2zM1262 1064.9h2V1070.7h-2zM1266 1073.0h2V1075.6h-2zM1274 1063.2h2V1066.6h-2zM1274 1054.2h2V1056.7h-2zM1280 1054.2h2V1056.7h-2zM1282 1061.7h2V1063.2h-2zM1288 1016.7h2V1019.2h-2zM1292 1070.7h2V1073.0h-2zM1296 1081.9h2V1086.0h-2zM1298 1081.9h2V1086.0h-2zM1306 1081.9h2V1090.9h-2zM1308 1081.9h2V1086.0h-2zM1314 1073.0h2V1075.6h-2zM1318 1075.6h2V1078.5h-2zM1318 1070.7h2V1073.0h-2zM1334 1090.9h2V1097.2h-2zM1342 1075.6h2V1078.5h-2zM1344 1081.9h2V1086.0h-2zM1360 1097.2h2V1106.2h-2zM1372 1081.9h2V1086.0h-2zM1376 1097.2h2V1106.2h-2zM1394 1068.5h2V1070.7h-2zM1394 1064.9h2V1066.6h-2zM1394 1044.2h2V1046.7h-2zM1396 1051.7h2V1054.2h-2zM1398 1068.5h2V1070.7h-2zM1400 1081.9h2V1086.0h-2zM1404 1086.0h2V1097.2h-2zM1408 1001.7h2V1004.2h-2zM1410 1078.5h2V1081.9h-2zM1414 1081.9h2V1086.0h-2zM1414 1073.0h2V1075.6h-2zM1420 1097.2h2V1106.2h-2zM1426 1097.2h2V1106.2h-2zM1426 1086.0h2V1090.9h-2z"/>
<path fill="#00eaff" d="M942 1106.2h2V1121.5h-2zM976 1097.2h2V1106.2h-2zM1016 1090.9h2V1097.2h-2zM1022 1070.7h2V1075.6h-2zM1022 1064.9h2V1066.6h-2zM1044 1075.6h2V1081.9h-2zM1076 1106.2h2V1121.5h-2zM1082 1054.2h2V1056.7h-2zM1090 1075.6h2V1078.5h-2zM1094 1049.2h2V1051.7h-2zM1096 1086.0h2V1090.9h-2zM1098 1086.0h2V1090.9h-2zM1100 1075.6h2V1078.5h-2zM1104 1106.2h2V1121.5h-2zM1110 1097.2h2V1106.2h-2zM1116 1097.2h2V1106.2h-2zM1118 1106.2h2V1121.5h-2zM1124 1097.2h2V1106.2h-2zM1126 1090.9h2V1097.2h-2zM1154 1086.0h2V1090.9h-2zM1218 1097.2h2V1106.2h-2zM1230 1097.2h2V1106.2h-2zM1232 1090.9h2V1097.2h-2zM1238 1090.9h2V1097.2h-2zM1242 1081.9h2V1086.0h-2zM1244 1081.9h2V1090.9h-2zM1250 1068.5h2V1070.7h-2zM1254 1097.2h2V1106.2h-2zM1258 1051.7h2V1054.2h-2zM1264 1078.5h2V1081.9h-2zM1282 1070.7h2V1073.0h-2zM1284 1066.6h2V1068.5h-2zM1284 996.7h2V999.2h-2zM1286 1056.7h2V1059.2h-2zM1292 1086.0h2V1090.9h-2zM1292 1075.6h2V1078.5h-2zM1294 1075.6h2V1081.9h-2zM1298 1090.9h2V1097.2h-2zM1304 1056.7h2V1059.2h-2zM1306 1075.6h2V1078.5h-2zM1308 1086.0h2V1090.9h-2zM1310 1073.0h2V1075.6h-2zM1316 1078.5h2V1081.9h-2zM1316 1054.2h2V1056.7h-2zM1320 1078.5h2V1081.9h-2zM1324 1097.2h2V1106.2h-2zM1332 1090.9h2V1097.2h-2zM1336 1066.6h2V1068.5h-2zM1360 1106.2h2V1121.5h-2zM1368 1081.9h2V1086.0h-2zM1372 1106.2h2V1121.5h-2zM1372 1086.0h2V1097.2h-2zM1374 1081.9h2V1086.0h-2zM1376 1106.2h2V1121.5h-2zM1388 1075.6h2V1078.5h-2zM1392 1078.5h2V1081.9h-2zM1394 1081.9h2V1086.0h-2zM1394 1073.0h2V1075.6h-2zM1394 1066.6h2V1068.5h-2zM1406 1086.0h2V1090.9h-2zM1408 1078.5h2V1081.9h-2zM1410 1081.9h2V1090.9h-2zM1412 1086.0h2V1090.9h-2zM1418 1086.0h2V1090.9h-2zM1424 1097.2h2V1106.2h-2z"/>
<path fill="#00ffff" d="M1022 1075.6h2V1078.5h-2zM1022 1061.7h2V1063.2h-2zM1044 1086.0h2V1090.9h-2zM1044 1068.5h2V1070.7h-2zM1078 1106.2h2V1121.5h-2zM1078 1090.9h2V1097.2h-2zM1082 1075.6h2V1078.5h-2zM1082 1066.6h2V1068.5h-2zM1084 1070.7h2V1073.0h-2zM1108 1081.9h2V1090.9h-2zM1110 1106.2h2V1121.5h-2zM1122 1106.2h2V1121.5h-2zM1124 1106.2h2V1121.5h-2zM1150 1106.2h2V1121.5h-2zM1152 1106.2h2V1121.5h-2zM1232 1086.0h2V1090.9h-2zM1240 1078.5h2V1081.9h-2zM1246 1081.9h2V1090.9h-2zM1256 1061.7h2V1063.2h-2zM1258 1070.7h2V1073.0h-2zM1260 1097.2h2V1106.2h-2zM1262 1070.7h2V1073.0h-2zM1266 1075.6h2V1090.9h-2zM1268 1021.7h2V1024.2h-2zM1274 1059.2h2V1061.7h-2zM1284 1070.7h2V1073.0h-2zM1286 1049.2h2V1054.2h-2zM1286 1024.2h2V1026.7h-2zM1288 1049.2h2V1051.7h-2zM1292 1059.2h2V1061.7h-2zM1296 1078.5h2V1081.9h-2zM1300 1097.2h2V1106.2h-2zM1304 1075.6h2V1078.5h-2zM1304 1070.7h2V1073.0h-2zM1304 1036.7h2V1041.7h-2zM1310 1075.6h2V1078.5h-2zM1314 1075.6h2V1078.5h-2zM1314 1068.5h2V1073.0h-2zM1316 1070.7h2V1078.5h-2zM1330 1075.6h2V1081.9h-2zM1332 1097.2h2V1106.2h-2zM1336 1061.7h2V1063.2h-2zM1342 1070.7h2V1073.0h-2zM1358 1031.7h2V1034.2h-2zM1368 1086.0h2V1090.9h-2zM1368 1078.5h2V1081.9h-2zM1370 1090.9h2V1097.2h-2zM1374 1090.9h2V1106.2h-2zM1382 1073.0h2V1075.6h-2zM1388 1081.9h2V1086.0h-2zM1392 1075.6h2V1078.5h-2zM1400 1086.0h2V1090.9h-2zM1406 1090.9h2V1097.2h-2zM1410 1090.9h2V1097.2h-2zM1418 1078.5h2V1081.9h-2zM1420 1090.9h2V1097.2h-2zM1434 1090.9h2V1106.2h-2zM1446 1097.2h2V1106.2h-2z"/>
<path fill="#15ffea" d="M1018 1097.2h2V1106.2h-2zM1022 1078.5h2V1090.9h-2zM1044 1081.9h2V1086.0h-2zM1044 1070.7h2V1073.0h-2zM1044 1026.7h2V1029.2h-2zM1082 1081.9h2V1086.0h-2zM1082 1070.7h2V1073.0h-2zM1082 1064.9h2V1066.6h-2zM1084 1061.7h2V1063.2h-2zM1094 1051.7h2V1054.2h-2zM1100 1086.0h2V1097.2h-2zM1100 1078.5h2V1081.9h-2zM1138 1106.2h2V1121.5h-2zM1240 1086.0h2V1090.9h-2zM1242 1090.9h2V1097.2h-2zM1244 1090.9h2V1097.2h-2zM1246 1090.9h2V1106.2h-2zM1256 1073.0h2V1075.6h-2zM1258 1073.0h2V1075.6h-2zM1258 1068.5h2V1070.7h-2zM1260 1106.2h2V1121.5h-2zM1262 1073.0h2V1075.6h-2zM1268 1046.7h2V1051.7h-2zM1268 1039.2h2V1041.7h-2zM1268 1034.2h2V1036.7h-2zM1268 991.7h2V994.2h-2zM1270 1086.0h2V1090.9h-2zM1274 1075.6h2V1078.5h-2zM1276 1078.5h2V1081.9h-2zM1280 1075.6h2V1078.5h-2zM1280 1068.5h2V1073.0h-2zM1288 1031.7h2V1034.2h-2zM1300 1106.2h2V1121.5h-2zM1304 1073.0h2V1075.6h-2zM1304 1054.2h2V1056.7h-2zM1310 1078.5h2V1081.9h-2zM1318 1078.5h2V1081.9h-2zM1320 1081.9h2V1086.0h-2zM1334 1106.2h2V1121.5h-2zM1336 1056.7h2V1059.2h-2zM1340 1081.9h2V1086.0h-2zM1342 1086.0h2V1090.9h-2zM1354 1097.2h2V1106.2h-2zM1358 1026.7h2V1029.2h-2zM1374 1106.2h2V1121.5h-2zM1382 1075.6h2V1078.5h-2zM1394 1075.6h2V1078.5h-2zM1396 1078.5h2V1081.9h-2zM1400 1090.9h2V1097.2h-2zM1412 1090.9h2V1097.2h-2zM1412 1078.5h2V1081.9h-2zM1418 1106.2h2V1121.5h-2zM1418 1090.9h2V1097.2h-2zM1430 1086.0h2V1097.2h-2zM1434 1106.2h2V1121.5h-2zM1444 1106.2h2V1121.5h-2z"/>
<path fill="#2bffd4" d="M1044 1106.2h2V1121.5h-2zM1076 1097.2h2V1106.2h-2zM1082 1073.0h2V1075.6h-2zM1084 1073.0h2V1075.6h-2zM1084 1059.2h2V1061.7h-2zM1090 1106.2h2V1121.5h-2zM1094 1070.7h2V1073.0h-2zM1094 1064.9h2V1066.6h-2zM1094 1059.2h2V1061.7h-2zM1096 1073.0h2V1075.6h-2zM1096 1066.6h2V1068.5h-2zM1096 1056.7h2V1059.2h-2zM1100 1081.9h2V1086.0h-2zM1118 1090.9h2V1097.2h-2zM1122 1097.2h2V1106.2h-2zM1154 1081.9h2V1086.0h-2zM1238 1106.2h2V1121.5h-2zM1250 1081.9h2V1086.0h-2zM1250 1046.7h2V1049.2h-2zM1256 1034.2h2V1036.7h-2zM1258 1078.5h2V1081.9h-2zM1262 1075.6h2V1078.5h-2zM1266 1054.2h2V1056.7h-2zM1268 1019.2h2V1021.7h-2zM1280 1073.0h2V1075.6h-2zM1286 1046.7h2V1049.2h-2zM1286 1036.7h2V1039.2h-2zM1288 1021.7h2V1024.2h-2zM1292 1081.9h2V1086.0h-2zM1294 1081.9h2V1086.0h-2zM1298 1106.2h2V1121.5h-2zM1302 1090.9h2V1097.2h-2zM1304 1061.7h2V1064.9h-2zM1304 1034.2h2V1036.7h-2zM1306 1106.2h2V1121.5h-2zM1308 1090.9h2V1097.2h-2zM1316 1081.9h2V1086.0h-2zM1330 1081.9h2V1086.0h-2zM1332 1106.2h2V1121.5h-2zM1336 1070.7h2V1073.0h-2zM1336 1064.9h2V1066.6h-2zM1340 1090.9h2V1097.2h-2zM1342 1081.9h2V1086.0h-2zM1358 1044.2h2V1046.7h-2zM1358 1036.7h2V1039.2h-2zM1384 1086.0h2V1090.9h-2zM1408 1081.9h2V1086.0h-2z"/>
<path fill="#40ffbf" d="M1022 1097.2h2V1106.2h-2zM1082 1086.0h2V1090.9h-2zM1082 1078.5h2V1081.9h-2zM1082 1068.5h2V1070.7h-2zM1084 1066.6h2V1068.5h-2zM1090 1090.9h2V1097.2h-2zM1094 1073.0h2V1078.5h-2zM1096 1078.5h2V1081.9h-2zM1096 1064.9h2V1066.6h-2zM1098 1106.2h2V1121.5h-2zM1102 1097.2h2V1106.2h-2zM1104 1097.2h2V1106.2h-2zM1126 1097.2h2V1106.2h-2zM1138 1097.2h2V1106.2h-2zM1150 1097.2h2V1106.2h-2zM1250 1078.5h2V1081.9h-2zM1256 1066.6h2V1068.5h-2zM1266 1090.9h2V1097.2h-2zM1270 1106.2h2V1121.5h-2zM1274 1078.5h2V1081.9h-2zM1276 1075.6h2V1078.5h-2zM1280 1078.5h2V1081.9h-2zM1282 1073.0h2V1075.6h-2zM1286 1054.2h2V1056.7h-2zM1288 1014.2h2V1016.7h-2zM1294 1090.9h2V1097.2h-2zM1296 1086.0h2V1090.9h-2zM1302 1106.2h2V1121.5h-2zM1304 1068.5h2V1070.7h-2zM1308 1097.2h2V1121.5h-2zM1314 1078.5h2V1081.9h-2zM1318 1090.9h2V1097.2h-2zM1320 1086.0h2V1090.9h-2zM1370 1106.2h2V1121.5h-2zM1388 1078.5h2V1081.9h-2zM1392 1081.9h2V1086.0h-2zM1394 1086.0h2V1090.9h-2zM1396 1081.9h2V1086.0h-2zM1398 1090.9h2V1097.2h-2zM1400 1097.2h2V1121.5h-2zM1412 1106.2h2V1121.5h-2z"/>
<path fill="#55ffaa" d="M1078 1097.2h2V1106.2h-2zM1084 1086.0h2V1090.9h-2zM1084 1075.6h2V1078.5h-2zM1084 1054.2h2V1056.7h-2zM1094 1061.7h2V1063.2h-2zM1096 1106.2h2V1121.5h-2zM1232 1106.2h2V1121.5h-2zM1238 1097.2h2V1106.2h-2zM1242 1106.2h2V1121.5h-2zM1250 1086.0h2V1090.9h-2zM1256 1063.2h2V1064.9h-2zM1256 1054.2h2V1056.7h-2zM1264 1086.0h2V1090.9h-2zM1266 1106.2h2V1121.5h-2zM1268 1031.7h2V1034.2h-2zM1268 1024.2h2V1026.7h-2zM1268 1014.2h2V1016.7h-2zM1268 994.2h2V996.7h-2zM1270 1097.2h2V1106.2h-2zM1284 1068.5h2V1070.7h-2zM1284 1051.7h2V1054.2h-2zM1286 1039.2h2V1041.7h-2zM1286 1029.2h2V1031.7h-2zM1288 1068.5h2V1070.7h-2zM1288 1039.2h2V1041.7h-2zM1298 1097.2h2V1106.2h-2zM1302 1097.2h2V1106.2h-2zM1304 1066.6h2V1068.5h-2zM1318 1081.9h2V1090.9h-2zM1320 1106.2h2V1121.5h-2zM1336 1063.2h2V1064.9h-2zM1358 1070.7h2V1073.0h-2zM1358 1046.7h2V1049.2h-2zM1368 1106.2h2V1121.5h-2zM1368 1090.9h2V1097.2h-2zM1370 1097.2h2V1106.2h-2zM1382 1081.9h2V1086.0h-2zM1388 1106.2h2V1121.5h-2zM1394 1078.5h2V1081.9h-2zM1398 1078.5h2V1081.9h-2zM1406 1097.2h2V1121.5h-2zM1410 1106.2h2V1121.5h-2zM1430 1106.2h2V1121.5h-2zM1444 1097.2h2V1106.2h-2z"/>
<path fill="#6aff95" d="M1022 1106.2h2V1121.5h-2zM1084 1090.9h2V1097.2h-2zM1084 1078.5h2V1086.0h-2zM1094 1063.2h2V1064.9h-2zM1096 1075.6h2V1078.5h-2zM1258 1075.6h2V1078.5h-2zM1268 1051.7h2V1054.2h-2zM1276 1086.0h2V1090.9h-2zM1282 1078.5h2V1086.0h-2zM1284 1073.0h2V1075.6h-2zM1286 1041.7h2V1044.2h-2zM1286 1021.7h2V1024.2h-2zM1288 1064.9h2V1066.6h-2zM1288 1056.7h2V1059.2h-2zM1288 1051.7h2V1054.2h-2zM1288 1036.7h2V1039.2h-2zM1294 1086.0h2V1090.9h-2zM1304 1086.0h2V1090.9h-2zM1304 1064.9h2V1066.6h-2zM1316 1086.0h2V1090.9h-2zM1336 1073.0h2V1075.6h-2zM1340 1086.0h2V1090.9h-2zM1342 1090.9h2V1097.2h-2zM1358 1066.6h2V1068.5h-2zM1382 1086.0h2V1090.9h-2zM1384 1106.2h2V1121.5h-2zM1384 1090.9h2V1097.2h-2zM1388 1086.0h2V1090.9h-2zM1392 1086.0h2V1090.9h-2zM1398 1081.9h2V1086.0h-2zM1410 1097.2h2V1106.2h-2zM1412 1097.2h2V1106.2h-2zM1414 1090.9h2V1097.2h-2zM1418 1097.2h2V1106.2h-2z"/>
<path fill="#80ff80" d="M1092 1086.0h2V1090.9h-2zM1094 1068.5h2V1070.7h-2zM1096 1070.7h2V1073.0h-2zM1108 1090.9h2V1097.2h-2zM1118 1097.2h2V1106.2h-2zM1154 1090.9h2V1097.2h-2zM1240 1106.2h2V1121.5h-2zM1256 1059.2h2V1061.7h-2zM1256 1031.7h2V1034.2h-2zM1268 996.7h2V999.2h-2zM1274 1081.9h2V1086.0h-2zM1276 1081.9h2V1086.0h-2zM1282 1075.6h2V1078.5h-2zM1284 1075.6h2V1078.5h-2zM1288 1061.7h2V1063.2h-2zM1288 1044.2h2V1046.7h-2zM1296 1106.2h2V1121.5h-2zM1296 1090.9h2V1097.2h-2zM1304 1081.9h2V1086.0h-2zM1306 1090.9h2V1097.2h-2zM1310 1081.9h2V1086.0h-2zM1314 1106.2h2V1121.5h-2zM1314 1081.9h2V1086.0h-2zM1320 1090.9h2V1097.2h-2zM1336 1090.9h2V1097.2h-2zM1336 1068.5h2V1070.7h-2zM1340 1097.2h2V1106.2h-2zM1344 1106.2h2V1121.5h-2zM1344 1090.9h2V1097.2h-2zM1358 1073.0h2V1075.6h-2zM1392 1090.9h2V1097.2h-2zM1396 1090.9h2V1106.2h-2zM1404 1106.2h2V1121.5h-2zM1408 1086.0h2V1090.9h-2zM1414 1106.2h2V1121.5h-2z"/>
<path fill="#95ff6a" d="M1092 1090.9h2V1097.2h-2zM1240 1090.9h2V1097.2h-2zM1242 1097.2h2V1106.2h-2zM1256 1078.5h2V1081.9h-2zM1256 1070.7h2V1073.0h-2zM1258 1081.9h2V1086.0h-2zM1268 1063.2h2V1064.9h-2zM1268 1041.7h2V1044.2h-2zM1268 1006.7h2V1009.2h-2zM1286 1068.5h2V1070.7h-2zM1288 1063.2h2V1064.9h-2zM1304 1078.5h2V1081.9h-2zM1314 1086.0h2V1090.9h-2zM1330 1086.0h2V1097.2h-2zM1336 1086.0h2V1090.9h-2zM1344 1097.2h2V1106.2h-2zM1358 1061.7h2V1063.2h-2zM1358 1049.2h2V1054.2h-2zM1358 1024.2h2V1026.7h-2zM1368 1097.2h2V1106.2h-2zM1372 1097.2h2V1106.2h-2zM1382 1090.9h2V1097.2h-2zM1388 1090.9h2V1097.2h-2zM1396 1086.0h2V1090.9h-2zM1430 1097.2h2V1106.2h-2z"/>
<path fill="#aaff55" d="M1082 1090.9h2V1097.2h-2zM1092 1097.2h2V1121.5h-2zM1094 1066.6h2V1068.5h-2zM1098 1097.2h2V1106.2h-2zM1100 1106.2h2V1121.5h-2zM1108 1106.2h2V1121.5h-2zM1154 1097.2h2V1106.2h-2zM1256 1075.6h2V1078.5h-2zM1256 1068.5h2V1070.7h-2zM1256 1064.9h2V1066.6h-2zM1264 1090.9h2V1097.2h-2zM1282 1086.0h2V1090.9h-2zM1284 1081.9h2V1086.0h-2zM1286 1070.7h2V1073.0h-2zM1286 1063.2h2V1064.9h-2zM1310 1086.0h2V1097.2h-2zM1316 1090.9h2V1097.2h-2zM1336 1075.6h2V1078.5h-2zM1336 1059.2h2V1061.7h-2zM1342 1106.2h2V1121.5h-2zM1358 1081.9h2V1086.0h-2zM1358 1063.2h2V1064.9h-2zM1358 1041.7h2V1044.2h-2zM1384 1097.2h2V1106.2h-2zM1394 1106.2h2V1121.5h-2zM1398 1086.0h2V1090.9h-2z"/>
<path fill="#bfff40" d="M1090 1097.2h2V1106.2h-2zM1096 1090.9h2V1106.2h-2zM1096 1081.9h2V1086.0h-2zM1108 1097.2h2V1106.2h-2zM1232 1097.2h2V1106.2h-2zM1240 1097.2h2V1106.2h-2zM1258 1086.0h2V1090.9h-2zM1264 1097.2h2V1106.2h-2zM1268 1059.2h2V1061.7h-2zM1268 1029.2h2V1031.7h-2zM1276 1090.9h2V1097.2h-2zM1284 1078.5h2V1081.9h-2zM1288 1075.6h2V1078.5h-2zM1292 1090.9h2V1097.2h-2zM1314 1090.9h2V1106.2h-2zM1336 1081.9h2V1086.0h-2zM1336 1054.2h2V1056.7h-2zM1340 1106.2h2V1121.5h-2zM1358 1056.7h2V1059.2h-2zM1392 1106.2h2V1121.5h-2zM1404 1097.2h2V1106.2h-2zM1408 1090.9h2V1097.2h-2zM1414 1097.2h2V1106.2h-2z"/>
<path fill="#d5ff2a" d="M1084 1097.2h2V1121.5h-2zM1094 1081.9h2V1086.0h-2zM1250 1090.9h2V1097.2h-2zM1264 1106.2h2V1121.5h-2zM1268 1044.2h2V1046.7h-2zM1280 1106.2h2V1121.5h-2zM1286 1075.6h2V1086.0h-2zM1286 1059.2h2V1063.2h-2zM1288 1090.9h2V1097.2h-2zM1304 1097.2h2V1106.2h-2zM1306 1097.2h2V1106.2h-2zM1316 1106.2h2V1121.5h-2zM1318 1106.2h2V1121.5h-2zM1320 1097.2h2V1106.2h-2zM1358 1075.6h2V1081.9h-2zM1358 1068.5h2V1070.7h-2zM1358 1064.9h2V1066.6h-2zM1392 1097.2h2V1106.2h-2zM1394 1090.9h2V1097.2h-2zM1398 1106.2h2V1121.5h-2zM1408 1106.2h2V1121.5h-2z"/>
<path fill="#eaff15" d="M1082 1106.2h2V1121.5h-2zM1094 1086.0h2V1090.9h-2zM1094 1056.7h2V1059.2h-2zM1100 1097.2h2V1106.2h-2zM1262 1086.0h2V1090.9h-2zM1268 1073.0h2V1075.6h-2zM1268 1054.2h2V1056.7h-2zM1268 1016.7h2V1019.2h-2zM1274 1086.0h2V1097.2h-2zM1280 1081.9h2V1086.0h-2zM1284 1086.0h2V1090.9h-2zM1286 1064.9h2V1068.5h-2zM1288 1070.7h2V1073.0h-2zM1288 1066.6h2V1068.5h-2zM1294 1097.2h2V1121.5h-2zM1296 1097.2h2V1106.2h-2zM1304 1090.9h2V1097.2h-2zM1330 1106.2h2V1121.5h-2zM1336 1078.5h2V1081.9h-2zM1342 1097.2h2V1106.2h-2zM1388 1097.2h2V1106.2h-2zM1396 1106.2h2V1121.5h-2z"/>
<path fill="#ffff00" d="M1094 1090.9h2V1097.2h-2zM1250 1106.2h2V1121.5h-2zM1262 1090.9h2V1097.2h-2zM1266 1097.2h2V1106.2h-2zM1268 1036.7h2V1039.2h-2zM1268 1011.7h2V1014.2h-2zM1288 1106.2h2V1121.5h-2zM1288 1081.9h2V1086.0h-2zM1288 1046.7h2V1049.2h-2zM1358 1086.0h2V1090.9h-2zM1382 1106.2h2V1121.5h-2z"/>
<path fill="#ffea00" d="M1082 1097.2h2V1106.2h-2zM1256 1081.9h2V1090.9h-2zM1268 1086.0h2V1090.9h-2zM1268 1066.6h2V1070.7h-2zM1268 1061.7h2V1063.2h-2zM1276 1106.2h2V1121.5h-2zM1286 1097.2h2V1106.2h-2zM1286 1073.0h2V1075.6h-2zM1288 1078.5h2V1081.9h-2zM1288 1073.0h2V1075.6h-2zM1292 1097.2h2V1121.5h-2zM1304 1106.2h2V1121.5h-2zM1318 1097.2h2V1106.2h-2zM1330 1097.2h2V1106.2h-2zM1358 1090.9h2V1097.2h-2z"/>
<path fill="#ffd500" d="M1258 1106.2h2V1121.5h-2zM1258 1090.9h2V1097.2h-2zM1262 1097.2h2V1106.2h-2zM1268 1078.5h2V1081.9h-2zM1268 1056.7h2V1059.2h-2zM1280 1086.0h2V1090.9h-2zM1288 1086.0h2V1090.9h-2zM1310 1097.2h2V1121.5h-2zM1358 1106.2h2V1121.5h-2zM1358 1054.2h2V1056.7h-2zM1382 1097.2h2V1106.2h-2zM1394 1097.2h2V1106.2h-2z"/>
<path fill="#ffbf00" d="M1256 1090.9h2V1097.2h-2zM1268 1075.6h2V1078.5h-2zM1268 1070.7h2V1073.0h-2zM1268 1064.9h2V1066.6h-2zM1274 1106.2h2V1121.5h-2zM1316 1097.2h2V1106.2h-2zM1336 1097.2h2V1121.5h-2zM1358 1059.2h2V1061.7h-2zM1398 1097.2h2V1106.2h-2z"/>
<path fill="#ffaa00" d="M1250 1097.2h2V1106.2h-2zM1276 1097.2h2V1106.2h-2zM1282 1090.9h2V1097.2h-2zM1284 1090.9h2V1097.2h-2zM1286 1086.0h2V1090.9h-2z"/>
<path fill="#ff9500" d="M1256 1097.2h2V1121.5h-2zM1268 1090.9h2V1097.2h-2zM1268 1081.9h2V1086.0h-2zM1280 1090.9h2V1097.2h-2zM1286 1090.9h2V1097.2h-2zM1288 1097.2h2V1106.2h-2zM1288 1059.2h2V1061.7h-2z"/>
<path fill="#ff8000" d="M1094 1106.2h2V1121.5h-2zM1262 1106.2h2V1121.5h-2zM1274 1097.2h2V1106.2h-2zM1286 1106.2h2V1121.5h-2zM1408 1097.2h2V1106.2h-2z"/>
<path fill="#ff6a00" d="M1094 1097.2h2V1106.2h-2zM1268 1097.2h2V1121.5h-2zM1358 1097.2h2V1106.2h-2z"/>
<path fill="#ff5500" d="M1258 1097.2h2V1106.2h-2zM1280 1097.2h2V1106.2h-2zM1282 1097.2h2V1121.5h-2zM1284 1097.2h2V1121.5h-2z"/>
<rect x="729" y="998.5" width="57" height="1" fill="#3c78ff" opacity="0.5"/>
<rect x="912" y="1009" width="50" height="1" fill="#3c78ff" opacity="0.35"/>
<rect x="1048" y="1015" width="50" height="1" fill="#3c78ff" opacity="0.3"/>
<rect x="1080" y="1015" width="106" height="1" fill="#3c78ff" opacity="0.4"/>
<rect x="1200" y="1015" width="16" height="1" fill="#3c78ff" opacity="0.4"/>
<rect x="1092" y="1025" width="92" height="1" fill="#3c78ff" opacity="0.35"/>
<rect x="1150" y="1040" width="34" height="1" fill="#3c78ff" opacity="0.4"/>
<rect x="1200" y="1040" width="14" height="1" fill="#3c78ff" opacity="0.35"/>
<rect x="1222" y="1040" width="10" height="1" fill="#3c78ff" opacity="0.35"/>
<rect x="1358" y="998" width="36" height="1" fill="#3c78ff" opacity="0.45"/>
<rect x="1274" y="985" width="18" height="1" fill="#3c78ff" opacity="0.35"/>
<rect x="1368" y="1032" width="52" height="1" fill="#3c78ff" opacity="0.25"/>
</g>
<rect x="260.5" y="969.5" width="1550.0" height="152.5" stroke="#000" stroke-width="1" fill="none" shape-rendering="crispEdges"/>
<text x="205.5" y="1005.1" textLength="29" lengthAdjust="spacingAndGlyphs">10</text>
<text x="235" y="987.9" font-size="17.2">-1</text>
<text x="205.5" y="1056.0" textLength="29" lengthAdjust="spacingAndGlyphs">10</text>
<text x="237.3" y="1038.8" font-size="17.2">0</text>
<text x="205.5" y="1106.8" textLength="29" lengthAdjust="spacingAndGlyphs">10</text>
<text x="237.3" y="1089.6" font-size="17.2">1</text>
<g transform="translate(185,1151) rotate(-90)"><text x="0" y="0" textLength="212" lengthAdjust="spacingAndGlyphs">Wavelength (km)</text></g>
<g id="grid3" stroke="#000" stroke-width="1" stroke-dasharray="1 4" fill="none" shape-rendering="crispEdges">
<path d="M280 1179.5H1794"/>
<path d="M280 1244.5H1794"/>
<path d="M280 1309.5H1794"/>
<path d="M441.5 1153V1340"/>
<path d="M622.5 1153V1340"/>
<path d="M804.5 1153V1340"/>
<path d="M1087.5 1153V1340"/>
<path d="M1267.5 1153V1340"/>
<path d="M1448.5 1153V1340"/>
<path d="M1628.5 1153V1340"/>
</g>
<clipPath id="mc"><rect x="261" y="1134" width="1549.5" height="221.5"/></clipPath>
<g clip-path="url(#mc)">
<path d="M355.5 1133.5L351 1141.2L346.5 1146.8L346.2 1150.8L349.7 1155.6L348.6 1159.6L350.7 1166.8L349.4 1173.2L345.4 1179.9L347 1190L352.6 1194L355.8 1198L361.4 1203.6L363 1210L367 1213.2L374.2 1218L381.4 1223.6L387.8 1226.5L394.2 1222.8L402.2 1221.5L406.2 1222.8L411 1223.6L416.6 1221.2L423.8 1218L430.2 1216.4L436.6 1216.4L440.6 1218.8L443 1224.4L446.2 1226L455.8 1225.7L459 1227.6L461.4 1232.4L460.6 1238.8L459 1244.4L457.4 1248.4L459 1253.2L464.6 1258.8L470.2 1266L473.4 1274L476.6 1280.4L475.8 1284.4L479 1291.6L479 1297.2L475 1300.4L472.6 1307.6L470.2 1315.6L470.2 1322L473.4 1330L478.2 1338L482.2 1344.4L483 1355.3M260.6 1265.7L265.4 1266L269.4 1270L271 1277.2L269.4 1283.6L264.6 1289.2L260.6 1292.4M476.6 1182.8L480.6 1183.6L485.4 1186L484.6 1188.4L480.6 1190L478.2 1186zM557.4 1243.9L566.2 1242.8L567 1246.8L564.6 1254.8L556.6 1256.1L555.8 1250.8zM545.4 1258.8L544.9 1264.4L547 1270.8L550.2 1277.2L553.4 1282.3L551 1279.6L547.5 1273.2L544.3 1265.2zM567 1286L568.6 1291.6L567.8 1299.6L569.4 1304.4L571.5 1306.8L568.6 1305.2L566.2 1298.8L566.7 1291.6zM570.6 1133.5L573 1141.2L578.6 1146L581 1154L580.2 1160.4L585.8 1165.2L589.8 1174.8L595.4 1179.6L600.2 1183.6L605 1188.4L605.8 1194L609 1198L613 1199.1L619.4 1196.4L628.2 1195.6L635.4 1193.2L638.6 1192.4L640.5 1194L639.4 1200.4L635.4 1208.4L632.2 1217.2L626.6 1225.2L621.8 1230.8L614.6 1236.4L608.2 1241.2L603.4 1246.8L597 1254L593 1256.4L590.6 1262.8L587.4 1269.2L589 1274L590.6 1278.8L589 1282L591.4 1286L593.8 1290L594.6 1298L594.6 1304.4L595.4 1309.2L593.8 1314L586.6 1319.6L581 1321.2L577 1326L572.2 1330L569 1333.2L571.4 1339.6L572.2 1347.6L571.4 1355.3M580.2 1133.5L585 1138L587.4 1144.4L589 1150.8L593.8 1157.2L597 1163.6L601 1170L603.4 1176.4L605 1184.4L606.9 1190L613 1188.4L617 1186L624.2 1185.2L632.2 1181.2L639.4 1177.2L645 1174.8L648.2 1171.9L654.6 1170L659.4 1166L664.2 1162.8L667.4 1158.8L670.6 1153.2L674.6 1150L677 1145.5L673.8 1142L669 1138.8L665 1134.8L663.4 1133.5M640.5 1136.1L643.4 1138L648.2 1137.2L653.8 1137.2L655.4 1134M649 1189.5L652.2 1188.9L655.4 1190.2L652.2 1191.1zM707.4 1133.5L711.4 1138L716.2 1142.8L722.6 1144.1L718.6 1146L717 1146.8L719.4 1150L723.4 1152.4L728.2 1151.6L731.4 1146L732.2 1150.8L733 1158.8L734.6 1165.2L736.2 1173.2L739.4 1179.6L742.6 1187.6L745.8 1194L749 1202L751.4 1207.6L753.8 1209.2L757 1206.8L761 1201.2L763.4 1194L764.2 1186L764.2 1177.2L766.6 1174.8L773 1172.4L776.2 1168.4L781 1164.4L786.6 1158.8L793 1155.6L795.4 1149.2L799.4 1147.6L804.2 1149.2L809.8 1146.8L813 1144.1L816.2 1149.2L819.4 1154L822.6 1158.8L825.8 1164.4L826.6 1173.2L831.4 1174.8L837 1171.3L839.4 1173.2L841 1179.6L843.4 1186L845 1194L844.2 1200.4M763.4 1202L767.4 1202.8L771.4 1208.4L773 1214.8L769 1218L764.2 1218L762.6 1211.6L762.6 1205.2zM819.4 1186.8L818.6 1193.2M631.4 1296.4L634.6 1299.6L636.2 1307.6L637 1312.4L634.6 1318.8L633 1326.8L629.8 1336.4L626.6 1346L623.4 1355.3M631.4 1296.4L627.4 1302.8L623.4 1307.6L617.8 1312.4L611.4 1315.6L608.2 1321.2L609.8 1328.4L607.4 1336.4L604.7 1342.8L606.9 1350L608.2 1355.3M657 1337.7L659.4 1335.6L660.2 1338zM665.8 1334L667.7 1331.9L668.7 1334.5zM823.3 1160L824.9 1164.9L826.2 1169.9L825.8 1174.4L829.1 1175.2L833.2 1173.2L837.3 1170.7L839.8 1174.8L841 1179.8L843.1 1184.7L844.7 1189.7L845.1 1194.6L843.5 1198.7L843.1 1202.8L841.8 1205.7L843.9 1209.4L845.5 1212.3L848.8 1214.4L851.3 1217.7L851.7 1221.8L852.9 1226.7L856.2 1231.7L860.4 1235.8L863.7 1237.4L869.4 1237.8L867.8 1235L866.1 1230.8L865.3 1225.9L864.5 1221L860.4 1217.7L856.2 1214.8L852.1 1212.3L849.7 1209.4L847.2 1204.9L845.1 1201.2L846.4 1198.7L848 1195.4L848.8 1191.3L849.7 1187.2L852.5 1185.5L854.6 1188L857.9 1188.8L860.4 1191.3L862.8 1195.4L866.1 1197.9L869.4 1198.7L871.5 1201.2L871.5 1205.7L874.4 1204.9L877.7 1202.8L879.3 1199.5L882.6 1197.9L886.7 1195.8L890.4 1194.6L891 1188.8L891.3 1184.7L890.4 1176.5L885.9 1169.1L877.7 1163.7L874.8 1159.6L876 1155.9L878.9 1152.8L882.6 1149.7L886.5 1148.1L890.8 1148.5L893.3 1149.3L895.4 1151.8L897.4 1151.4L899.8 1150L904.8 1147.6L909.3 1145.2L914.7 1143.5L918.8 1142.4L923 1140.2L926.4 1138.6L929.6 1135.7L931.2 1132.8M887.5 1158.5L890 1156.3L893.1 1156L896.2 1157.9L896.9 1160.4L895.9 1163.3L891.3 1165.1L888 1163.3zM829.5 1221L832.4 1219.3L837.3 1220.1L841.4 1221.4L843.9 1225.1L848 1228.4L852.1 1231.7L855.4 1235L858.7 1236.6L862 1239.1L864.5 1242.4L866.1 1246.5L869.4 1249.8L872.7 1253.9L876.8 1257.2L876.4 1263L876 1268.7L869.4 1269.6L866.1 1266.3L862 1262.1L857.9 1258L854.6 1253.1L852.1 1249L848.8 1244.8L845.5 1239.1L842.2 1235L838.1 1230.8L834 1226.7L830.7 1223.8zM832.4 1232.7L835.5 1233.7M832.8 1233.1L834 1231.9L835.2 1233.1L834 1234.3zM837.7 1237.8L841.8 1241.1M837.3 1238.7L839.1 1236.9L840.9 1238.7L839.1 1240.5zM839.4 1240.3L841 1238.7L842.6 1240.3L841 1241.9zM844.3 1248.6L847.6 1252.7M843.5 1249.8L845.4 1247.9L847.3 1249.8L845.4 1251.7zM845.1 1251.6L846.8 1249.9L848.5 1251.6L846.8 1253.3zM873.5 1250.6L877.7 1252.3L880.5 1256L879.3 1257.2L876 1255.6L874 1253.1zM874.8 1251.8L879.3 1256M882.8 1255.6L885.1 1254.7L886.1 1256.8L884.3 1258zM882.9 1256.4L884.4 1254.9L885.9 1256.4L884.4 1257.9zM874.4 1271.2L877.7 1270.8L882.6 1269.6L887.5 1271.2L892.5 1272.9L897.4 1272L902.4 1272.9L906.5 1274.5L910.6 1275.3L910.6 1278.6L906.5 1281.1L902.4 1280.7L897.4 1279.9L892.5 1279L887.5 1277.8L882.6 1277L877.7 1275.3L874.4 1272.9zM910.6 1276.1L915.6 1279L921.3 1279.9L927.1 1280.7L933.7 1279.9L940.3 1280.7L946.9 1279.4L953.4 1279.9L959.2 1279.4M910.6 1278.2L916.4 1281.1L923 1281.7L929.6 1282.1L935.3 1281.5L941.1 1282.3L948.5 1280.9L955.1 1281.3L960 1280.7M931.2 1284.4L935.3 1283.6L939.4 1285.6L941.1 1288.1L937 1288.5L933.7 1286.9zM923 1213.5L926.3 1216L928.7 1219.3L932.9 1221.4L930.4 1225.1L927.9 1228.4L926.3 1231.7L925.4 1235.8L927.1 1239.1L926.3 1246.5L924.6 1249L922.1 1253.1L920.5 1257.2L916.4 1260.1L913.1 1261.3L909 1258.8L902.4 1258.8L899.1 1257.2L894.1 1256.4L894.1 1251.4L891.7 1247.3L889.2 1243.2L888.4 1239.1L890.8 1235.8L898.3 1234.1L899.9 1230.8L905.7 1229.2L908.1 1225.9L911.4 1222.6L916.4 1220.1L919.7 1216.8zM925.4 1206.1L927.1 1203.7L930.4 1200.4L933.7 1197.1L935.3 1195.8L934.1 1198.7L930.4 1202.4L927.5 1205.7zM938.6 1163.3L941.9 1162.5L946.9 1163.3L948.1 1167.4L946.9 1171.5L945.2 1175.7L945.2 1179.8L948.5 1181.8L952.6 1183.9L955.9 1187.2L955.1 1188.8L951 1187.6L947.7 1186.4L946 1189.7L943.6 1191.3L941.1 1188L939.9 1183.9L938.6 1180.6L936.6 1178.1L935.3 1174L937 1169.9L938.2 1166.6zM943.3 1182.7L948.2 1180.7L953.2 1184L952.4 1188.9L947.8 1190.5L943.7 1187.7zM954 1186.8L959.4 1188.9L961.8 1195.1L960.2 1200L956.5 1198.8L954.7 1193.4zM944.9 1192.6L950.7 1193.8L954.2 1200L952.4 1205.4L948.2 1203.7L945.4 1198.4zM955.7 1201.3L960.6 1202.5L964.1 1205.8L960.6 1208.1L956.5 1206.2zM948.2 1186L952.4 1192.6M949.5 1195.9L953.2 1202.1M956.9 1191L959.4 1196.7M940.8 1180.2L944.9 1182.7M959.4 1200.8L963.1 1204.5M940 1179.4L943.3 1176.1L942.5 1172.8L944.9 1169.5L947.4 1166.2L945.8 1162.9L940 1162.9M952.4 1213.2L955.7 1215.7L958.9 1214.8L963.9 1213.2L965.5 1214.8L963.1 1218.1L959.8 1220.6L956.5 1219L953.2 1216.5zM944.5 1213.6L946.2 1214.8M940 1147.7L942.5 1142.4L944.1 1137.4L945.4 1134.1L943.3 1133.7L940.8 1137.4L938.8 1142.4L937.9 1146.5zM933.2 1247.2L938.9 1247.2L944.7 1246.4L952.1 1247.2L956.2 1244.7L961.2 1242.2L966.1 1239.8L969.4 1237.7L970.2 1239.4L966.1 1241.8L961.2 1244.7L956.2 1247.6L952.1 1248.8L947.2 1248.8L942.2 1252.1L944.7 1255.4L947.2 1259.5L949.7 1264.5L948.8 1268.6L946.4 1267.8L943.9 1262.8L940.6 1257.9L938.9 1256.2L938.1 1261.2L937.7 1267.8L934 1267.8L933.6 1264.5L934.8 1259.5L932.4 1256.2L931.5 1252.9zM968.6 1238.1L972.7 1237.7L973.5 1241.4L971.1 1243.1L971.5 1245.5L973.1 1248L971.1 1248.8L968.6 1246.4L968.2 1242.2zM969.1 1240.2L970.4 1238.9L971.7 1240.2L970.4 1241.5zM955.4 1251.7L959.5 1251.7M967.8 1250.9L971.9 1251.7L969.8 1249.7zM964.5 1256.2L967.4 1257.9L967 1260.8L964.5 1261.8L962 1260.4L961.8 1257.9zM970.2 1257.1L973.5 1255.8L979.3 1256.2L983.4 1258.3L982.6 1260.4L977.7 1260.4L972.7 1259.5zM973.5 1257.7L980.1 1258.7M980.5 1244.7L985.1 1245.5L990 1244.3L994.1 1246.4L997.4 1250.5L996.6 1252.9L1002.4 1258.7L1007.3 1254.6L1012.3 1250.5L1018.8 1252.1L1027.1 1256.2L1035.3 1258.7L1043.6 1262.8L1048.5 1267.8L1055.1 1270.2L1052.6 1274.4L1055.9 1277.7L1060 1281.4L1063.3 1282.6L1066.6 1286.7L1069.1 1288.4L1072.4 1289.2L1075.7 1290.8L1079 1293.3L1081.4 1295.8L1079.8 1297.8L1076.5 1296.6L1073.2 1295.4L1068.3 1294.1L1065 1290L1061.7 1285.9L1056.7 1283.4L1053.4 1285.1L1047.7 1279.3L1041.9 1276L1037 1280.1L1034.5 1284.3L1027.1 1284.3L1022.1 1279.3L1013.1 1279.3L1017.2 1276L1014.7 1269.4L1009.8 1266.1L1002.4 1263.7L996.6 1261.2L990.8 1260.4L988.4 1255.4L985.1 1251.3L982.6 1248zM985.9 1247.2L990 1247.2L994.1 1249.7L994.1 1252.9L990 1253.4L987.1 1250.9zM1004 1245.9L1006.5 1247.2L1006.5 1249.7L1004 1250.9L1002 1249.7L1002 1247.2zM998.3 1267.4L1000.3 1268.6L1000.6 1271.9L998.7 1274.4L996.6 1273.5L996.8 1269.8zM996.7 1270.7L998.7 1268.7L1000.7 1270.7L998.7 1272.7zM985.1 1274.4L986.6 1276L986.3 1278.5L984.7 1279.3L983.6 1277.2zM983.6 1276.8L985.1 1275.3L986.6 1276.8L985.1 1278.3zM1051.4 1252.9L1053.9 1252.9M920 1280.5L926.6 1279.3L933.2 1279.7L940.6 1278.9L947.2 1279.3L952.1 1279.7M920 1282.6L927.4 1281.8L934 1281.9L941.4 1281.1L948 1281.4L952.5 1281M932.4 1285.1L936.5 1283.8L940.6 1285.9L939.8 1288.4L936.5 1288.8L933.2 1287.1zM950.9 1289.2L953.8 1285.1L958.7 1281.8L963.7 1278.9L967.8 1277.7L968.6 1279.7L964.5 1282.6L959.5 1285.1L955.4 1288.4L952.5 1290zM955.4 1278.9L958.7 1278.1L962.8 1276L966.1 1275.2M913.4 1341.9L916.7 1337.8L920 1335.3L925.8 1334.5L931.5 1332L938.9 1330.4L943.9 1327.1L945.5 1321.3L948.8 1317.2L952.9 1314.7L956.2 1310.6L959.5 1307.3L963.7 1304.8L968.6 1304.8L971.5 1309.8L976 1308.1L979.3 1303.2L981 1299.1L983.4 1297.4L981 1294.5L985.1 1293.7L990 1294.1L995.8 1295.8L1002.4 1297.4L1009.8 1297.8L1008.1 1301.1L1004.8 1302.4L1004 1309L1007.3 1313.1L1013.1 1316.4L1018.8 1320.1L1023 1323L1027.1 1319.7L1029.1 1314.7L1029.6 1306.5L1030.4 1298.3L1032 1291.7L1034.9 1290.8L1037 1298.3L1038.6 1304.8L1043.6 1307.3L1046 1312.3L1048.5 1318.8L1050.1 1326.3L1055.1 1330.4L1060 1335.3L1062.5 1338.6L1065.8 1341.9L1067.4 1346.9L1071.6 1349.3L1074 1355.1L1076.5 1356.7M913.4 1341.9L912.2 1346.9L912.6 1351.8L911.8 1356.7M1068.8 1255.8L1074.6 1257.9L1078.7 1261.2L1078.7 1264.5L1075.4 1264.5L1073.8 1267.8L1070.5 1269.4L1064.7 1271.1L1061.4 1271.5L1057.7 1269.4L1059.8 1267.8L1064.7 1268.2L1069.7 1267L1072.1 1262.8L1072.9 1259.5zM1071.3 1257.5L1077.1 1261.2L1076.2 1263.7M1072.9 1258.7L1077.5 1262.8M1084.5 1267L1087.8 1267.8L1090.2 1272.7L1088.6 1274.4L1086.1 1271.1zM1091.1 1272.3L1094.4 1273.1L1097.7 1275.2M1096.8 1278.9L1099.3 1281.4M1101.8 1276.8L1104.7 1278.5L1107.5 1280.5M1105.9 1284.3L1109.2 1283L1112.5 1285.1L1111.7 1287.5L1108.4 1288.4L1105.9 1286.7zM1110 1280.1L1112.5 1283.4L1114.1 1287.5L1116.6 1290L1119.1 1291.7M1111.7 1281.4L1114.5 1286.7L1117.8 1290.8M1051.1 1252.9L1053.6 1252.9M1136.4 1309L1139.7 1310.6L1140.9 1314.7L1143 1316L1141.3 1317.6M1137.6 1309.4L1141.7 1315.6M1126.5 1333.7L1130.6 1335.3L1135.6 1338.6L1140.5 1342.7L1136.4 1343.1L1131.4 1339.4L1127.3 1335.3zM1279 1147.3L1281.4 1146L1283.8 1146.6M1287.8 1149.2L1292.6 1150.5L1296.6 1154M1298.2 1155.6L1302.2 1156.4L1303.8 1159.6L1299.8 1162L1297.4 1159.6zM1183 1320.4L1187 1319.6L1189.4 1322L1187 1324.4L1183.3 1323.6zM1190.2 1315.6L1195 1315.6M1224.6 1302.5L1228.6 1303.6L1232.6 1305.2M1324.6 1320.7L1327.8 1322.6M1495 1137.2L1498.2 1139.6L1499 1142L1496.6 1144.1L1495 1142.8M1504.6 1133.5L1509.4 1138.8L1514.2 1144.4L1516.6 1150L1514.2 1154.8L1519 1159.6L1525.4 1163.6L1532.6 1168.4L1539.8 1171.6L1547.8 1174L1555 1176.4L1560.6 1173.2L1565.4 1175.6L1570.2 1179.6L1576.6 1183.6L1584.6 1186L1592.6 1187.6L1597.4 1192.4L1600.6 1198.8L1607 1202.8L1611.8 1207.6L1618.2 1210L1622.2 1213.2L1623.8 1209.2L1627.8 1205.2L1631 1207.6L1634.2 1213.2L1635.8 1219.6L1635.8 1226L1635.8 1230.8L1632.6 1234.8L1627.8 1239.6L1623 1244.4L1620.6 1251.6L1621.4 1256.4L1625.4 1255.6L1623 1260.4L1619 1263.6L1619.8 1269.2L1623 1272.4L1627 1276.4L1631 1282.8L1634.2 1288.4L1637.4 1293.2L1639.8 1299.6L1641.4 1305.2L1645.4 1310L1652.6 1314L1658.2 1317.2L1663 1320.4L1666.2 1326.8L1667.8 1334.8L1667 1344.4L1665.4 1355.3M1549.4 1133.5L1547.8 1138L1547.8 1144.4L1550.2 1150L1553.4 1155.6L1556.6 1160.4L1562.2 1163.6L1570.2 1163.3L1577.4 1161.2L1579.8 1155.6L1581.4 1150.8L1587.8 1149.2L1595.8 1149.2L1594.2 1155.6L1591.8 1163.6L1589.4 1170L1587.8 1174.8L1594.2 1175.6L1607 1174.8L1611 1178L1611 1186L1609.4 1192.4L1610.2 1197.2L1614.2 1202L1619.8 1205.2L1627.8 1203.6L1634.2 1205.2L1638.2 1208.4L1640.6 1205.2L1643.8 1200.4L1648.6 1196.4L1655 1194L1659.8 1191.6L1662.2 1190.5L1667.8 1192.4L1672.6 1191.6L1675.8 1198L1683.8 1198.8L1691.8 1199.6L1698.2 1198L1706.2 1198.5L1707 1203.6L1707.8 1207.6L1714.2 1210L1719 1214L1723.8 1218L1731.8 1218L1739.8 1220.4L1746.2 1224.4L1751 1230.8L1755 1236.4L1755 1242L1751 1245.2L1748.6 1249.2L1752.6 1250L1755 1245.2L1760.6 1245.2L1761.4 1250L1765.4 1246.8L1771.8 1249.2L1778.2 1254.8L1784.6 1256.4L1792.6 1257.2L1799 1257.2L1805.4 1261.2L1810.2 1266M1662.2 1190.5L1663 1194L1661.4 1198.8L1662.2 1205.2M1810.2 1296.4L1804.6 1301.2L1801.4 1307.6L1802.2 1315.6L1799.8 1325.2L1795.8 1333.2L1792.6 1341.2L1786.2 1345.2L1776.6 1347.6L1768.6 1352.4L1765.4 1355.3M1605.4 1146.8L1610.2 1142.8L1618.2 1141.5L1626.2 1143.6L1634.2 1147.6L1642.2 1151.6L1649.4 1155.6L1643 1156.4L1635.8 1154L1627.8 1150L1621.4 1146L1615 1145.2L1610.2 1147.6zM1611 1148.9L1614.2 1150M1655 1156.4L1663 1155.6L1669.4 1158L1672.6 1162L1667 1164.4L1663 1167.6L1658.2 1164.4L1651.8 1164.4L1649.4 1162.8L1655 1161.2zM1632.9 1163.9L1636.6 1162.8L1640.9 1164.4L1639.8 1166.8L1635 1167.1zM1680.1 1163.6L1683.8 1162.8L1687.8 1163.9L1686.2 1166.2L1681.4 1166.2zM1633.9 1135.6L1635.5 1138M1644.6 1135.6L1647 1139.6L1648.9 1142.8M1651 1145.2L1653.4 1145.7M1655 1146.3L1661.4 1148.4M1653.4 1150.5L1655 1151.6M1702.7 1172.9L1704.9 1174M1706.2 1179.9L1708.1 1180.9M1701.4 1198.8L1707 1198.8L1706.5 1201.2L1701.7 1201.2zM1575.5 1245.5L1577.9 1244.9L1578.5 1248.1L1576.3 1248.7z" fill="none" stroke="#000" stroke-width="2.3" stroke-linejoin="round" stroke-linecap="round"/>
<path d="M259.8 1231.6L291.8 1214L352.6 1199.1L367 1198L411.8 1195.9L431 1195.9L479 1198.5L527 1202.8L575 1208L609.8 1211.6L632.2 1212.4L661 1213.2L693 1212.9L725 1211.6L757 1210.8L789 1209.7L837 1209.2L889 1209.2L905 1210.8L969 1210L985 1208.7L1017 1208.7L1033 1210.8L1049 1211.6L1065 1213.2L1087.4 1217.2L1113 1219.6L1140 1222.2L1167 1227.6L1199 1234L1231 1239.6L1267.8 1243.9L1295 1246.5L1327 1250.3L1359 1254.5L1391 1258.3L1423 1262.8L1455 1266.8L1495 1273.2L1527 1279.6L1559 1286L1591 1291.6L1623 1294.8L1645.4 1297.2L1671 1290.8L1712.6 1281.2L1735 1269.2L1767 1251.6L1791 1240.4L1812 1230.3" fill="none" stroke="#04f004" stroke-width="5.9" stroke-linejoin="round"/>
<path d="M260.6 1284.4L266.6 1285.6L272.6 1286.7L278.6 1287.8L284.6 1288.8L290.6 1289.8L296.6 1290.7L302.6 1291.7L308.6 1292.6L314.6 1293.4L320.6 1294.2L326.6 1295.0L332.6 1295.7L338.6 1296.4L344.6 1297.1L350.6 1297.7L356.6 1298.2L362.6 1298.6L368.6 1299.0L374.6 1299.4L380.6 1299.8L386.6 1300.1L392.6 1300.4L398.6 1300.6L404.6 1300.9L410.6 1301.1L416.6 1301.2L422.6 1301.4L428.6 1301.5L434.6 1301.7L440.6 1301.7L446.6 1301.7L452.6 1301.5L458.6 1301.3L464.6 1301.1L470.6 1300.9L476.6 1300.7L482.6 1300.3L488.6 1300.0L494.6 1299.6L500.6 1299.2L506.6 1298.7L512.6 1298.1L518.6 1297.5L524.6 1296.9L530.6 1296.4L536.6 1295.8L542.6 1295.2L548.6 1294.6L554.6 1294.0L560.6 1293.3L566.6 1292.7L572.6 1292.0L578.6 1291.2L584.6 1290.5L590.6 1289.7L596.6 1288.8L602.6 1287.8L608.6 1286.7L614.6 1285.5L620.6 1284.4L626.6 1283.2L632.6 1282.2L638.6 1281.1L644.6 1280.1L650.6 1279.1L656.6 1278.0L662.6 1276.9L668.6 1275.7L674.6 1274.6L680.6 1273.4L686.6 1272.1L692.6 1270.9L698.6 1269.6L704.6 1268.4L710.6 1267.2L716.6 1265.9L722.6 1264.6L728.6 1263.2L734.6 1261.7L740.6 1260.0L746.6 1258.3L752.6 1256.7L758.6 1255.3L764.6 1253.9L770.6 1252.4L776.6 1250.9L782.6 1249.5L788.6 1248.1L794.6 1246.6L800.6 1244.9L804.0 1243.9M910.0 1245.7L916.0 1243.9L922.0 1242.1L928.0 1240.3L934.0 1238.8L940.0 1237.4L946.0 1235.9L952.0 1234.3L958.0 1232.6L964.0 1230.8L970.0 1229.0L976.0 1227.3L982.0 1225.6L988.0 1224.1L994.0 1222.7L1000.0 1221.4L1006.0 1220.0L1012.0 1218.6L1018.0 1217.2L1024.0 1215.8L1030.0 1214.5L1036.0 1213.5L1042.0 1212.5L1048.0 1211.2L1054.0 1210.0L1060.0 1208.7L1066.0 1207.5L1072.0 1206.4L1078.0 1205.4L1084.0 1204.4L1090.0 1203.4L1096.0 1202.3L1102.0 1201.3L1108.0 1200.3L1114.0 1199.3L1120.0 1198.6L1126.0 1197.8L1132.0 1196.9L1138.0 1196.1L1144.0 1195.2L1150.0 1194.4L1156.0 1193.8L1162.0 1193.3L1168.0 1192.9L1174.0 1192.3L1180.0 1191.7L1186.0 1191.2L1192.0 1190.8L1198.0 1190.3L1204.0 1189.9L1210.0 1189.5L1216.0 1189.1L1222.0 1188.8L1228.0 1188.5L1234.0 1188.3L1240.0 1188.0L1246.0 1187.8L1252.0 1187.6L1258.0 1187.5L1264.0 1187.5L1270.0 1187.5L1276.0 1187.6L1282.0 1187.6L1288.0 1187.7L1294.0 1187.9L1300.0 1188.1L1306.0 1188.3L1312.0 1188.6L1318.0 1188.9L1324.0 1189.3L1330.0 1189.7L1336.0 1190.2L1342.0 1190.8L1348.0 1191.4L1354.0 1192.1L1360.0 1192.8L1366.0 1193.5L1372.0 1194.3L1378.0 1195.1L1384.0 1195.9L1390.0 1196.8L1396.0 1197.6L1402.0 1198.6L1408.0 1199.5L1414.0 1200.4L1420.0 1201.3L1426.0 1202.1L1432.0 1202.7L1438.0 1203.4L1444.0 1204.0L1450.0 1204.8L1456.0 1205.6L1462.0 1206.5L1468.0 1207.5L1474.0 1208.5L1480.0 1209.5L1486.0 1210.6L1492.0 1211.8L1498.0 1213.0L1504.0 1214.4L1510.0 1216.0L1516.0 1217.5L1522.0 1219.1L1528.0 1220.7L1534.0 1222.2L1540.0 1223.7L1546.0 1225.2L1552.0 1226.7L1558.0 1228.2L1564.0 1229.6L1570.0 1230.9L1576.0 1232.3L1582.0 1233.6L1588.0 1234.9L1594.0 1236.3L1600.0 1237.6L1606.0 1239.0L1612.0 1240.4L1618.0 1241.7L1624.0 1243.0L1630.0 1244.2L1636.0 1245.4L1642.0 1246.6L1648.0 1247.8L1654.0 1249.0L1660.0 1250.3L1666.0 1251.6L1672.0 1252.9L1678.0 1254.3L1684.0 1255.7L1690.0 1257.1L1696.0 1258.6L1702.0 1260.1L1708.0 1261.7L1714.0 1263.2L1720.0 1264.6L1726.0 1266.0L1732.0 1267.4L1738.0 1268.7L1744.0 1270.0L1750.0 1271.4L1756.0 1272.7L1762.0 1274.1L1768.0 1275.5L1774.0 1276.8L1780.0 1278.1L1786.0 1279.5L1792.0 1280.7L1798.0 1282.0L1804.0 1283.3L1810.0 1284.5L1810.5 1284.6" fill="none" stroke="#b02422" stroke-width="1.25"/>
<path d="M730.6 1262.7L734.1 1261.8L737.6 1260.8L740.9 1259.9M744.6 1258.8L748.1 1257.9L751.6 1257.0L754.9 1256.2M758.6 1255.3L762.1 1254.5L765.6 1253.7L768.9 1252.8M772.6 1251.9L776.1 1251.0L779.6 1250.2L782.9 1249.4M786.6 1248.6L790.1 1247.7L793.6 1246.8L796.9 1245.9M800.6 1244.9L801.6 1244.6L802.6 1244.3L803.6 1244.0M911.5 1245.2L915.0 1244.2L918.5 1243.2L921.8 1242.2M925.5 1241.0L929.0 1240.0L932.5 1239.1L935.8 1238.4M939.5 1237.5L943.0 1236.7L946.5 1235.8L949.8 1234.9M953.5 1233.9L957.0 1232.9L960.5 1231.9L963.8 1230.9M967.5 1229.8L971.0 1228.7L974.5 1227.7L977.8 1226.8M981.5 1225.7L985.0 1224.8L988.5 1223.9L991.8 1223.2M995.5 1222.4L999.0 1221.6L1002.5 1220.9L1005.8 1220.1M1009.5 1219.2L1013.0 1218.4L1016.5 1217.6L1019.8 1216.8M1023.5 1215.9L1027.0 1215.1L1030.5 1214.4L1033.8 1213.9M1037.5 1213.2L1041.0 1212.6L1044.5 1212.0L1047.8 1211.3M1051.5 1210.5L1055.0 1209.7L1058.5 1209.0L1061.8 1208.4M1065.5 1207.6L1069.0 1206.9L1072.5 1206.3L1075.8 1205.8M1079.5 1205.2L1083.0 1204.6L1086.5 1204.0L1089.8 1203.4M1093.5 1202.8L1097.0 1202.1L1100.5 1201.5L1103.8 1201.0M1107.5 1200.3L1111.0 1199.8L1114.5 1199.3L1117.8 1198.8M1121.5 1198.4L1125.0 1197.9L1128.5 1197.4L1131.8 1197.0M1135.5 1196.4L1139.0 1196.0L1142.5 1195.5L1145.8 1195.0M1149.5 1194.5L1153.0 1194.0L1156.5 1193.7L1159.8 1193.5M1163.5 1193.2L1167.0 1193.0L1170.5 1192.7L1173.8 1192.3M1177.5 1192.0L1181.0 1191.6L1184.5 1191.3L1187.8 1191.1M1191.5 1190.8L1195.0 1190.5L1198.5 1190.3L1201.8 1190.0M1205.5 1189.8L1209.0 1189.5L1212.5 1189.3L1215.8 1189.1M1219.5 1188.9L1223.0 1188.7L1226.5 1188.6L1229.8 1188.4M1233.5 1188.3L1237.0 1188.1L1240.5 1188.0L1243.8 1187.8M1247.5 1187.7L1251.0 1187.6L1254.5 1187.6L1257.8 1187.5M1261.5 1187.5L1265.0 1187.5L1268.5 1187.5L1271.8 1187.5M1275.5 1187.6L1279.0 1187.6L1282.5 1187.6L1285.8 1187.7M1289.5 1187.8L1293.0 1187.9L1296.5 1188.0L1299.8 1188.1" fill="none" stroke="#f40404" stroke-width="12.4"/>
<path d="M1043.0 1178.1L1044.7 1183.2L1050.1 1183.3L1045.8 1186.5L1047.4 1191.7L1043.0 1188.5L1038.6 1191.7L1040.2 1186.5L1035.9 1183.3L1041.3 1183.2zM1139.7 1196.7L1141.4 1201.8L1146.8 1201.9L1142.5 1205.1L1144.1 1210.3L1139.7 1207.2L1135.3 1210.3L1136.9 1205.1L1132.6 1201.9L1138.0 1201.8zM1291.8 1227.9L1293.5 1233.0L1298.9 1233.1L1294.6 1236.3L1296.2 1241.5L1291.8 1238.4L1287.4 1241.5L1289.0 1236.3L1284.7 1233.1L1290.1 1233.0zM1639.0 1287.9L1640.7 1293.0L1646.1 1293.1L1641.8 1296.3L1643.4 1301.5L1639.0 1298.4L1634.6 1301.5L1636.2 1296.3L1631.9 1293.1L1637.3 1293.0zM1779.0 1248.7L1780.7 1253.8L1786.1 1253.9L1781.8 1257.1L1783.4 1262.3L1779.0 1259.2L1774.6 1262.3L1776.2 1257.1L1771.9 1253.9L1777.3 1253.8z" fill="none" stroke="#c636c6" stroke-width="1.1"/>
</g>
<g stroke="#000" stroke-width="1" fill="none" shape-rendering="crispEdges">
<rect x="260.5" y="1133.5" width="1550.0" height="222.0"/>
<path d="M260.5 1179.5h15.5M1810.5 1179.5h-15.5M260.5 1244.5h15.5M1810.5 1244.5h-15.5M260.5 1309.5h15.5M1810.5 1309.5h-15.5M441.5 1133.5v14M441.5 1355.5v-14M622.5 1133.5v14M622.5 1355.5v-14M804.5 1133.5v14M804.5 1355.5v-14M1087.5 1133.5v14M1087.5 1355.5v-14M1267.5 1133.5v14M1267.5 1355.5v-14M1448.5 1133.5v14M1448.5 1355.5v-14M1628.5 1133.5v14M1628.5 1355.5v-14"/></g>
<text x="188" y="1193">15</text><text x="219.3" y="1179.8" font-size="22.2">o</text><text x="232" y="1193">N</text>
<text x="214.5" y="1257.3">0</text><text x="230.6" y="1244.2" font-size="22.2">o</text>
<text x="188" y="1322.4">15</text><text x="219.3" y="1309.3" font-size="22.2">o</text><text x="232.3" y="1322.4">S</text>
<g text-anchor="middle" xml:space="preserve">
<text x="256" y="1401.3">GLON</text>
<text x="440.0" y="1401.3">005.1</text>
<text x="621.0" y="1401.3">047.2</text>
<text x="803.0" y="1401.3">089.4</text>
<text x="1086.0" y="1401.3">155.1</text>
<text x="1266.0" y="1401.3">196.9</text>
<text x="1447.0" y="1401.3">238.8</text>
<text x="1627.0" y="1401.3">280.8</text>
<text x="1809.0" y="1401.3">322.9</text>
<text x="256" y="1442.1">GLAT</text>
<text x="440.0" y="1442.1">-13.1</text>
<text x="621.0" y="1442.1">-09.4</text>
<text x="803.0" y="1442.1">-00.1</text>
<text x="1086.0" y="1442.1">+09.2</text>
<text x="1266.0" y="1442.1">+13.1</text>
<text x="1447.0" y="1442.1">+09.4</text>
<text x="1627.0" y="1442.1">+00.1</text>
<text x="1809.0" y="1442.1">-09.3</text>
<text x="259.9" y="1483.0">GALT</text>
<text x="443.9" y="1483.0">453</text>
<text x="624.9" y="1483.0">594</text>
<text x="806.9" y="1483.0">758</text>
<text x="1089.9" y="1483.0">841</text>
<text x="1269.9" y="1483.0">787</text>
<text x="1450.9" y="1483.0">638</text>
<text x="1630.9" y="1483.0">478</text>
<text x="1812.9" y="1483.0">405</text>
<text x="256" y="1523.8">MLON</text>
<text x="440.0" y="1523.8">073.4</text>
<text x="621.0" y="1523.8">117.5</text>
<text x="803.0" y="1523.8">160.3</text>
<text x="1086.0" y="1523.8">225.2</text>
<text x="1266.0" y="1523.8">265.3</text>
<text x="1447.0" y="1523.8">307.3</text>
<text x="1627.0" y="1523.8">351.1</text>
<text x="1809.0" y="1523.8">033.1</text>
<text x="256" y="1564.6">MLAT</text>
<text x="440.0" y="1564.6">-24.0</text>
<text x="621.0" y="1564.6">-19.4</text>
<text x="803.0" y="1564.6">-10.0</text>
<text x="1086.0" y="1564.6">+01.9</text>
<text x="1266.0" y="1564.6">+13.4</text>
<text x="1447.0" y="1564.6">+14.8</text>
<text x="1627.0" y="1564.6">+12.0</text>
<text x="1809.0" y="1564.6">-06.5</text>
<text x="256" y="1605.4">UT</text>
<text x="440.0" y="1605.4">14:37</text>
<text x="621.0" y="1605.4">14:49</text>
<text x="803.0" y="1605.4">15:00</text>
<text x="1086.0" y="1605.4">13:37</text>
<text x="1266.0" y="1605.4">13:50</text>
<text x="1447.0" y="1605.4">14:02</text>
<text x="1627.0" y="1605.4">14:14</text>
<text x="1809.0" y="1605.4">14:26</text>
<text x="252.1" y="1646.3">SLT</text>
<text x="440.0" y="1646.3">15:00</text>
<text x="621.0" y="1646.3">18:00</text>
<text x="803.0" y="1646.3">21:00</text>
<text x="1086.0" y="1646.3">00:00</text>
<text x="1266.0" y="1646.3">03:00</text>
<text x="1447.0" y="1646.3">06:00</text>
<text x="1627.0" y="1646.3">09:00</text>
<text x="1809.0" y="1646.3">12:00</text>
</g>
<g transform="translate(1900,1663) rotate(-90)" font-size="21.7"><text x="0" y="0" textLength="392" lengthAdjust="spacingAndGlyphs">Preliminary corrected calibration, 2/11/09</text><text x="0" y="25.2" textLength="305.5" lengthAdjust="spacingAndGlyphs">Produced 26-Oct-2009 17:08:13</text></g>
</svg>
</body></html>
